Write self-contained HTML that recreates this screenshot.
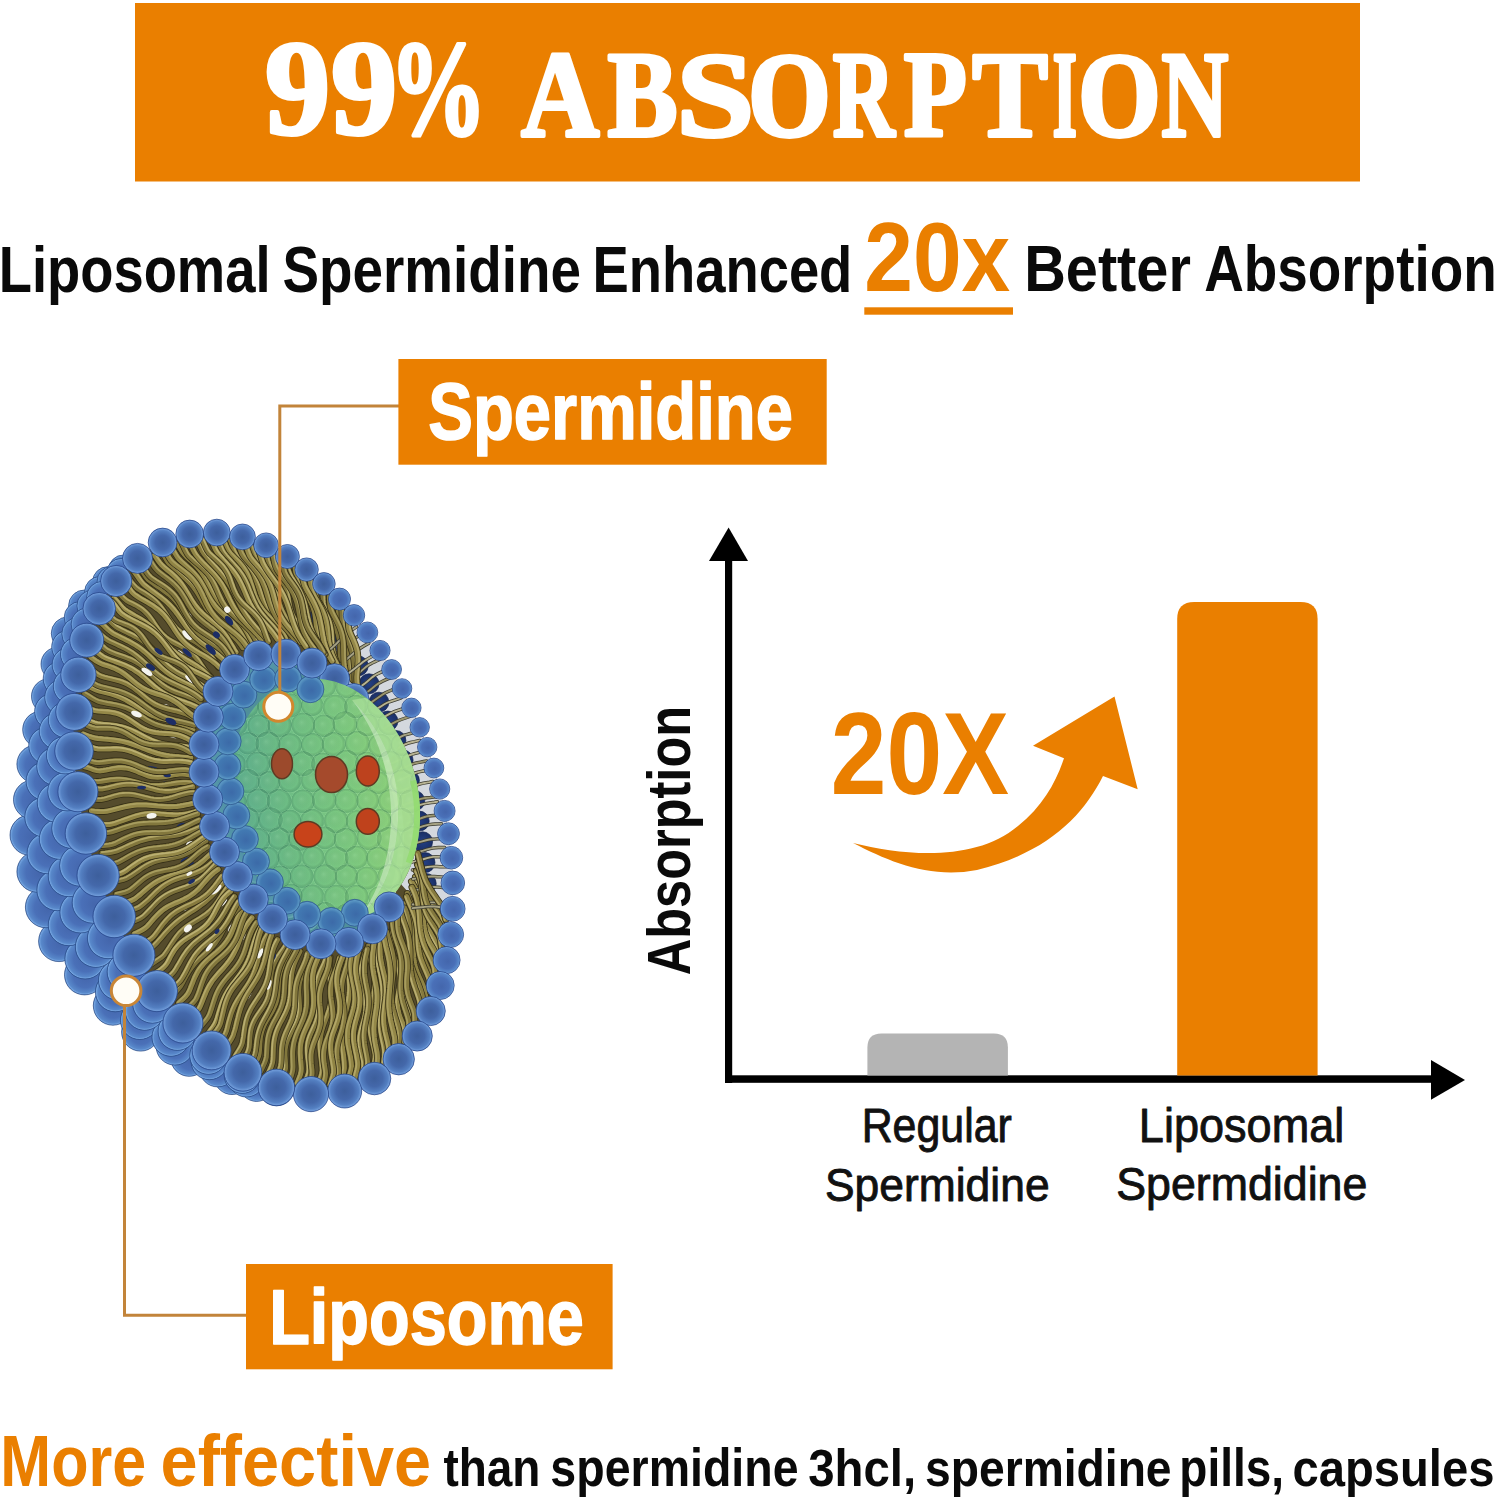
<!DOCTYPE html>
<html><head><meta charset="utf-8"><style>
html,body{margin:0;padding:0;background:#fff;overflow:hidden;}
svg{display:block;}
text{font-kerning:none;}
</style></head><body>
<svg width="1496" height="1500" viewBox="0 0 1496 1500">
<rect width="1496" height="1500" fill="#fff"/>
<defs>
<radialGradient id="gb" cx="50%" cy="50%" r="50%" fx="50%" fy="50%">
 <stop offset="0" stop-color="#3d5f9c"/><stop offset="0.5" stop-color="#4468aa"/><stop offset="0.82" stop-color="#5480c2"/><stop offset="0.95" stop-color="#6e9ad8"/><stop offset="1" stop-color="#4a72b4"/>
</radialGradient>
<radialGradient id="gbt" cx="50%" cy="50%" r="50%" fx="55%" fy="55%">
 <stop offset="0" stop-color="#3c6aa8"/><stop offset="0.7" stop-color="#4279b2"/><stop offset="0.92" stop-color="#5b98c4"/><stop offset="1" stop-color="#3f72a8"/>
</radialGradient>
<radialGradient id="gbb" cx="50%" cy="50%" r="50%" fx="55%" fy="55%">
 <stop offset="0" stop-color="#4466ac"/><stop offset="0.6" stop-color="#4a70b8"/><stop offset="0.88" stop-color="#5888ca"/><stop offset="0.96" stop-color="#74a4e0"/><stop offset="1" stop-color="#4068ae"/>
</radialGradient>
<radialGradient id="gnavy" cx="50%" cy="50%" r="50%">
 <stop offset="0" stop-color="#243f82"/><stop offset="1" stop-color="#1a2f66"/>
</radialGradient>
<linearGradient id="gcore" x1="0" y1="0.1" x2="1" y2="0.3">
 <stop offset="0" stop-color="#5aac92"/><stop offset="0.35" stop-color="#6ebf84"/><stop offset="0.7" stop-color="#80cd7e"/><stop offset="1" stop-color="#96d778"/>
</linearGradient>
<radialGradient id="gcb" cx="50%" cy="50%" r="50%" fx="42%" fy="40%">
 <stop offset="0" stop-color="#e8ffe0" stop-opacity="0.10"/><stop offset="0.7" stop-color="#000" stop-opacity="0"/><stop offset="0.93" stop-color="#0a4a3a" stop-opacity="0.16"/><stop offset="1" stop-color="#c8f5c0" stop-opacity="0.25"/>
</radialGradient>
<radialGradient id="gteal" cx="48%" cy="45%" r="55%">
 <stop offset="0" stop-color="#4f8fa6"/><stop offset="0.8" stop-color="#5597a8"/><stop offset="1" stop-color="#73b2b5"/>
</radialGradient>
<clipPath id="coreclip"><ellipse cx="0" cy="0" rx="94" ry="123.5" transform="translate(324.4,800.6) rotate(-12.7)"/></clipPath>
</defs>
<circle cx="232.0" cy="1076.6" r="17.9" fill="url(#gbb)" stroke="#2a4d88" stroke-width="1.0" stroke-opacity="0.7"/>
<circle cx="189.2" cy="1057.8" r="18.5" fill="url(#gbb)" stroke="#2a4d88" stroke-width="1.0" stroke-opacity="0.7"/>
<circle cx="140.6" cy="1032.1" r="19.0" fill="url(#gbb)" stroke="#2a4d88" stroke-width="1.0" stroke-opacity="0.7"/>
<circle cx="112.9" cy="1005.6" r="19.6" fill="url(#gbb)" stroke="#2a4d88" stroke-width="1.0" stroke-opacity="0.7"/>
<circle cx="84.6" cy="974.8" r="20.1" fill="url(#gbb)" stroke="#2a4d88" stroke-width="1.0" stroke-opacity="0.7"/>
<circle cx="59.0" cy="941.2" r="20.4" fill="url(#gbb)" stroke="#2a4d88" stroke-width="1.0" stroke-opacity="0.7"/>
<circle cx="46.1" cy="907.1" r="20.7" fill="url(#gbb)" stroke="#2a4d88" stroke-width="1.0" stroke-opacity="0.7"/>
<circle cx="37.5" cy="871.7" r="20.6" fill="url(#gbb)" stroke="#2a4d88" stroke-width="1.0" stroke-opacity="0.7"/>
<circle cx="30.3" cy="835.1" r="20.3" fill="url(#gbb)" stroke="#2a4d88" stroke-width="1.0" stroke-opacity="0.7"/>
<circle cx="33.3" cy="799.7" r="19.8" fill="url(#gbb)" stroke="#2a4d88" stroke-width="1.0" stroke-opacity="0.7"/>
<circle cx="36.0" cy="764.2" r="19.1" fill="url(#gbb)" stroke="#2a4d88" stroke-width="1.0" stroke-opacity="0.7"/>
<circle cx="41.1" cy="729.6" r="18.4" fill="url(#gbb)" stroke="#2a4d88" stroke-width="1.0" stroke-opacity="0.7"/>
<circle cx="49.2" cy="696.3" r="17.7" fill="url(#gbb)" stroke="#2a4d88" stroke-width="1.0" stroke-opacity="0.7"/>
<circle cx="58.0" cy="664.1" r="17.0" fill="url(#gbb)" stroke="#2a4d88" stroke-width="1.0" stroke-opacity="0.7"/>
<circle cx="67.7" cy="633.4" r="16.4" fill="url(#gbb)" stroke="#2a4d88" stroke-width="1.0" stroke-opacity="0.7"/>
<circle cx="84.4" cy="605.8" r="15.8" fill="url(#gbb)" stroke="#2a4d88" stroke-width="1.0" stroke-opacity="0.7"/>
<circle cx="107.8" cy="581.9" r="15.2" fill="url(#gbb)" stroke="#2a4d88" stroke-width="1.0" stroke-opacity="0.7"/>
<circle cx="256.6" cy="1083.7" r="17.7" fill="url(#gbb)" stroke="#2a4d88" stroke-width="1.0" stroke-opacity="0.7"/>
<circle cx="217.7" cy="1068.6" r="18.3" fill="url(#gbb)" stroke="#2a4d88" stroke-width="1.0" stroke-opacity="0.7"/>
<circle cx="174.9" cy="1046.3" r="18.8" fill="url(#gbb)" stroke="#2a4d88" stroke-width="1.0" stroke-opacity="0.7"/>
<circle cx="139.7" cy="1020.2" r="19.3" fill="url(#gbb)" stroke="#2a4d88" stroke-width="1.0" stroke-opacity="0.7"/>
<circle cx="115.3" cy="991.9" r="19.9" fill="url(#gbb)" stroke="#2a4d88" stroke-width="1.0" stroke-opacity="0.7"/>
<circle cx="85.1" cy="958.7" r="20.3" fill="url(#gbb)" stroke="#2a4d88" stroke-width="1.0" stroke-opacity="0.7"/>
<circle cx="68.8" cy="925.1" r="20.6" fill="url(#gbb)" stroke="#2a4d88" stroke-width="1.0" stroke-opacity="0.7"/>
<circle cx="57.5" cy="890.0" r="20.7" fill="url(#gbb)" stroke="#2a4d88" stroke-width="1.0" stroke-opacity="0.7"/>
<circle cx="47.5" cy="853.3" r="20.5" fill="url(#gbb)" stroke="#2a4d88" stroke-width="1.0" stroke-opacity="0.7"/>
<circle cx="44.8" cy="817.1" r="20.1" fill="url(#gbb)" stroke="#2a4d88" stroke-width="1.0" stroke-opacity="0.7"/>
<circle cx="45.4" cy="781.2" r="19.4" fill="url(#gbb)" stroke="#2a4d88" stroke-width="1.0" stroke-opacity="0.7"/>
<circle cx="47.4" cy="745.7" r="18.7" fill="url(#gbb)" stroke="#2a4d88" stroke-width="1.0" stroke-opacity="0.7"/>
<circle cx="52.6" cy="711.5" r="18.0" fill="url(#gbb)" stroke="#2a4d88" stroke-width="1.0" stroke-opacity="0.7"/>
<circle cx="60.5" cy="678.7" r="17.3" fill="url(#gbb)" stroke="#2a4d88" stroke-width="1.0" stroke-opacity="0.7"/>
<circle cx="68.4" cy="647.0" r="16.7" fill="url(#gbb)" stroke="#2a4d88" stroke-width="1.0" stroke-opacity="0.7"/>
<circle cx="80.2" cy="617.6" r="16.0" fill="url(#gbb)" stroke="#2a4d88" stroke-width="1.0" stroke-opacity="0.7"/>
<circle cx="100.1" cy="592.0" r="15.5" fill="url(#gbb)" stroke="#2a4d88" stroke-width="1.0" stroke-opacity="0.7"/>
<circle cx="123.5" cy="569.9" r="14.9" fill="url(#gbb)" stroke="#2a4d88" stroke-width="1.0" stroke-opacity="0.7"/>
<circle cx="246.4" cy="1079.1" r="17.9" fill="url(#gbb)" stroke="#2a4d88" stroke-width="1.0" stroke-opacity="0.7"/>
<circle cx="209.5" cy="1061.2" r="18.5" fill="url(#gbb)" stroke="#2a4d88" stroke-width="1.0" stroke-opacity="0.7"/>
<circle cx="171.0" cy="1037.2" r="19.1" fill="url(#gbb)" stroke="#2a4d88" stroke-width="1.0" stroke-opacity="0.7"/>
<circle cx="144.7" cy="1010.7" r="19.6" fill="url(#gbb)" stroke="#2a4d88" stroke-width="1.0" stroke-opacity="0.7"/>
<circle cx="118.5" cy="980.2" r="20.1" fill="url(#gbb)" stroke="#2a4d88" stroke-width="1.0" stroke-opacity="0.7"/>
<circle cx="95.8" cy="946.9" r="20.5" fill="url(#gbb)" stroke="#2a4d88" stroke-width="1.0" stroke-opacity="0.7"/>
<circle cx="80.5" cy="912.3" r="20.7" fill="url(#gbb)" stroke="#2a4d88" stroke-width="1.0" stroke-opacity="0.7"/>
<circle cx="68.8" cy="876.1" r="20.6" fill="url(#gbb)" stroke="#2a4d88" stroke-width="1.0" stroke-opacity="0.7"/>
<circle cx="59.6" cy="839.0" r="20.3" fill="url(#gbb)" stroke="#2a4d88" stroke-width="1.0" stroke-opacity="0.7"/>
<circle cx="57.0" cy="802.6" r="19.8" fill="url(#gbb)" stroke="#2a4d88" stroke-width="1.0" stroke-opacity="0.7"/>
<circle cx="55.8" cy="766.3" r="19.1" fill="url(#gbb)" stroke="#2a4d88" stroke-width="1.0" stroke-opacity="0.7"/>
<circle cx="57.6" cy="731.1" r="18.4" fill="url(#gbb)" stroke="#2a4d88" stroke-width="1.0" stroke-opacity="0.7"/>
<circle cx="62.4" cy="697.2" r="17.7" fill="url(#gbb)" stroke="#2a4d88" stroke-width="1.0" stroke-opacity="0.7"/>
<circle cx="69.1" cy="664.6" r="17.0" fill="url(#gbb)" stroke="#2a4d88" stroke-width="1.0" stroke-opacity="0.7"/>
<circle cx="78.2" cy="633.8" r="16.4" fill="url(#gbb)" stroke="#2a4d88" stroke-width="1.0" stroke-opacity="0.7"/>
<circle cx="92.7" cy="605.9" r="15.8" fill="url(#gbb)" stroke="#2a4d88" stroke-width="1.0" stroke-opacity="0.7"/>
<circle cx="112.3" cy="581.4" r="15.2" fill="url(#gbb)" stroke="#2a4d88" stroke-width="1.0" stroke-opacity="0.7"/>
<circle cx="276.6" cy="1088.2" r="17.6" fill="url(#gbb)" stroke="#2a4d88" stroke-width="1.0" stroke-opacity="0.7"/>
<circle cx="242.3" cy="1075.2" r="18.2" fill="url(#gbb)" stroke="#2a4d88" stroke-width="1.0" stroke-opacity="0.7"/>
<circle cx="208.4" cy="1055.6" r="18.7" fill="url(#gbb)" stroke="#2a4d88" stroke-width="1.0" stroke-opacity="0.7"/>
<circle cx="177.3" cy="1031.1" r="19.3" fill="url(#gbb)" stroke="#2a4d88" stroke-width="1.0" stroke-opacity="0.7"/>
<circle cx="152.4" cy="1003.4" r="19.8" fill="url(#gbb)" stroke="#2a4d88" stroke-width="1.0" stroke-opacity="0.7"/>
<circle cx="127.3" cy="971.8" r="20.2" fill="url(#gbb)" stroke="#2a4d88" stroke-width="1.0" stroke-opacity="0.7"/>
<circle cx="108.0" cy="938.1" r="20.6" fill="url(#gbb)" stroke="#2a4d88" stroke-width="1.0" stroke-opacity="0.7"/>
<circle cx="92.8" cy="902.5" r="20.7" fill="url(#gbb)" stroke="#2a4d88" stroke-width="1.0" stroke-opacity="0.7"/>
<circle cx="80.2" cy="865.6" r="20.6" fill="url(#gbb)" stroke="#2a4d88" stroke-width="1.0" stroke-opacity="0.7"/>
<circle cx="71.8" cy="828.3" r="20.1" fill="url(#gbb)" stroke="#2a4d88" stroke-width="1.0" stroke-opacity="0.7"/>
<circle cx="67.2" cy="791.4" r="19.5" fill="url(#gbb)" stroke="#2a4d88" stroke-width="1.0" stroke-opacity="0.7"/>
<circle cx="65.2" cy="755.1" r="18.8" fill="url(#gbb)" stroke="#2a4d88" stroke-width="1.0" stroke-opacity="0.7"/>
<circle cx="66.4" cy="719.9" r="18.1" fill="url(#gbb)" stroke="#2a4d88" stroke-width="1.0" stroke-opacity="0.7"/>
<circle cx="70.7" cy="686.2" r="17.4" fill="url(#gbb)" stroke="#2a4d88" stroke-width="1.0" stroke-opacity="0.7"/>
<circle cx="77.3" cy="654.1" r="16.8" fill="url(#gbb)" stroke="#2a4d88" stroke-width="1.0" stroke-opacity="0.7"/>
<circle cx="87.2" cy="624.1" r="16.1" fill="url(#gbb)" stroke="#2a4d88" stroke-width="1.0" stroke-opacity="0.7"/>
<circle cx="102.3" cy="597.0" r="15.6" fill="url(#gbb)" stroke="#2a4d88" stroke-width="1.0" stroke-opacity="0.7"/>
<circle cx="121.2" cy="573.5" r="15.0" fill="url(#gbb)" stroke="#2a4d88" stroke-width="1.0" stroke-opacity="0.7"/>
<path d="M431.4,759.7 L433.6,766.9 L435.7,774.2 L437.7,781.5 L439.6,788.8 L441.4,796.1 L443.1,803.5 L444.6,810.9 L446.0,818.2 L447.3,825.6 L448.4,832.9 L449.4,840.2 L450.3,847.5 L451.1,854.8 L451.7,862.1 L452.2,869.3 L452.6,876.5 L452.9,883.7 L453.0,890.7 L453.0,897.8 L452.8,904.8 L452.6,911.7 L452.2,918.6 L451.6,925.3 L451.0,932.0 L450.2,938.7 L449.3,945.2 L448.2,951.7 L447.1,958.0 L445.8,964.3 L444.3,970.4 L442.8,976.5 L441.1,982.4 L439.3,988.2 L437.4,993.9 L435.4,999.5 L433.3,1004.9 L431.0,1010.2 L428.6,1015.4 L426.1,1020.5 L423.5,1025.4 L420.8,1030.1 L418.0,1034.7 L415.1,1039.2 L412.0,1043.5 L408.9,1047.6 L405.7,1051.6 L402.3,1055.4 L398.9,1059.0 L395.4,1062.5 L391.8,1065.8 L388.1,1069.0 L384.3,1071.9 L380.4,1074.7 L376.5,1077.3 L372.5,1079.8 L368.4,1082.0 L364.2,1084.1 L360.0,1085.9 L355.6,1087.6 L351.3,1089.1 L346.9,1090.4 L342.4,1091.5 L337.8,1092.5 L333.2,1093.2 L328.6,1093.7 L323.9,1094.1 L319.2,1094.3 L314.4,1094.2 L309.6,1094.0 L304.8,1093.6 L299.9,1093.0 L295.0,1092.2 L290.1,1091.2 L285.2,1090.0 L280.3,1088.6 L275.3,1087.1 L270.4,1085.3 L265.4,1083.4 L260.4,1081.3 L255.5,1079.0 L250.5,1076.5 L245.6,1073.8 L240.6,1071.0 L235.7,1067.9 L230.8,1064.7 L225.9,1061.4 L221.1,1057.8 L216.2,1054.1 L211.4,1050.3 L206.7,1046.2 L202.0,1042.0 L197.3,1037.7 L192.6,1033.2 L188.1,1028.5 L183.5,1023.7 L179.1,1018.8 L174.6,1013.7 L170.3,1008.5 L166.0,1003.1 L161.7,997.6 L157.6,992.0 L153.5,986.3 L149.5,980.4 L145.6,974.5 L141.7,968.4 L137.9,962.2 L134.3,955.9 L130.7,949.5 L127.2,943.0 L123.7,936.5 L120.4,929.8 L117.2,923.1 L114.1,916.3 L111.1,909.4 L108.2,902.5 L105.4,895.4 L102.7,888.4 L100.1,881.3 L97.6,874.1 L95.2,866.9 L93.0,859.7 L90.9,852.4 L88.9,845.1 L87.0,837.8 L85.2,830.5 L83.5,823.1 L82.0,815.7 L80.6,808.4 L79.3,801.0 L78.2,793.7 L77.2,786.4 L76.3,779.1 L75.5,771.8 L74.9,764.5 L74.4,757.3 L74.0,750.1 L73.7,742.9 L73.6,735.9 L73.6,728.8 L73.8,721.8 L74.0,714.9 L74.4,708.0 L75.0,701.3 L75.6,694.6 L76.4,687.9 L77.3,681.4 L78.4,674.9 L79.5,668.6 L80.8,662.3 L82.3,656.2 L83.8,650.1 L85.5,644.2 L87.3,638.4 L89.2,632.7 L91.2,627.1 L93.3,621.7 L95.6,616.4 L98.0,611.2 L100.5,606.1 L103.1,601.2 L105.8,596.5 L108.6,591.9 L111.5,587.4 L114.6,583.1 L117.7,579.0 L120.9,575.0 L124.3,571.2 L127.7,567.6 L131.2,564.1 L134.8,560.8 L138.5,557.6 L142.3,554.7 L146.2,551.9 L150.1,549.3 L154.1,546.8 L158.2,544.6 L162.4,542.5 L166.6,540.7 L171.0,539.0 L175.3,537.5 L179.7,536.2 L184.2,535.1 L188.8,534.1 L193.4,533.4 L198.0,532.9 L202.7,532.5 L207.4,532.3 L212.2,532.4 L217.0,532.6 L221.8,533.0 L226.7,533.6 L231.6,534.4 L236.5,535.4 L241.4,536.6 L246.3,538.0 L251.3,539.5 L256.2,541.3 L261.2,543.2 L266.2,545.3 L271.1,547.6 L276.1,550.1 L281.0,552.8 L286.0,555.6 L290.9,558.7 L295.8,561.9 L300.7,565.2 L305.5,568.8 L310.4,572.5 L315.2,576.3 L319.9,580.4 L324.6,584.6 L329.3,588.9 L334.0,593.4 L338.5,598.1 L343.1,602.9 L347.5,607.8 L352.0,612.9 L356.3,618.1 L360.6,623.5 L364.9,629.0 L369.0,634.6 L373.1,640.3 L377.1,646.2 L381.0,652.1 L384.9,658.2 L388.7,664.4 L392.3,670.7 L395.9,677.1 L399.4,683.6 L402.9,690.1 L406.2,696.8 L409.4,703.5 L412.5,710.3 L415.5,717.2 L418.4,724.1 L421.2,731.2 L423.9,738.2 L426.5,745.3 L429.0,752.5 Z M392.2,769.9 L393.4,773.7 L394.6,777.4 L395.7,781.2 L396.7,785.0 L397.6,788.8 L398.5,792.6 L399.3,796.4 L400.1,800.2 L400.7,804.1 L401.4,807.9 L401.9,811.7 L402.4,815.5 L402.8,819.3 L403.2,823.0 L403.5,826.8 L403.7,830.5 L403.8,834.2 L403.9,837.9 L403.9,841.6 L403.8,845.2 L403.7,848.8 L403.5,852.4 L403.2,855.9 L402.9,859.4 L402.5,862.9 L402.0,866.3 L401.5,869.6 L400.9,872.9 L400.2,876.2 L399.5,879.4 L398.7,882.6 L397.8,885.7 L396.9,888.7 L395.9,891.7 L394.8,894.6 L393.7,897.4 L392.5,900.2 L391.3,902.9 L390.0,905.6 L388.6,908.1 L387.2,910.6 L385.7,913.0 L384.1,915.4 L382.6,917.6 L380.9,919.8 L379.2,921.9 L377.5,923.9 L375.7,925.8 L373.8,927.7 L371.9,929.4 L370.0,931.1 L368.0,932.6 L365.9,934.1 L363.9,935.5 L361.8,936.8 L359.6,938.0 L357.4,939.1 L355.2,940.1 L352.9,941.0 L350.6,941.8 L348.3,942.5 L345.9,943.1 L343.5,943.6 L341.1,944.1 L338.6,944.4 L336.2,944.6 L333.7,944.7 L331.2,944.7 L328.6,944.6 L326.1,944.5 L323.5,944.2 L320.9,943.8 L318.3,943.3 L315.7,942.7 L313.1,942.1 L310.5,941.3 L307.9,940.4 L305.3,939.4 L302.7,938.4 L300.0,937.2 L297.4,935.9 L294.8,934.6 L292.2,933.2 L289.6,931.6 L287.0,930.0 L284.4,928.3 L281.9,926.5 L279.3,924.6 L276.8,922.6 L274.2,920.5 L271.8,918.4 L269.3,916.2 L266.8,913.9 L264.4,911.5 L262.0,909.0 L259.6,906.5 L257.3,903.8 L255.0,901.2 L252.7,898.4 L250.5,895.6 L248.3,892.7 L246.1,889.7 L244.0,886.7 L241.9,883.6 L239.8,880.5 L237.8,877.3 L235.9,874.1 L234.0,870.8 L232.1,867.4 L230.3,864.0 L228.5,860.6 L226.8,857.1 L225.2,853.6 L223.6,850.1 L222.0,846.5 L220.5,842.8 L219.1,839.2 L217.7,835.5 L216.4,831.8 L215.2,828.1 L214.0,824.3 L212.8,820.6 L211.7,816.8 L210.7,813.0 L209.8,809.2 L208.9,805.4 L208.1,801.6 L207.3,797.8 L206.7,793.9 L206.0,790.1 L205.5,786.3 L205.0,782.5 L204.6,778.7 L204.2,775.0 L203.9,771.2 L203.7,767.5 L203.6,763.8 L203.5,760.1 L203.5,756.4 L203.6,752.8 L203.7,749.2 L203.9,745.6 L204.2,742.1 L204.5,738.6 L204.9,735.1 L205.4,731.7 L205.9,728.4 L206.5,725.1 L207.2,721.8 L207.9,718.6 L208.7,715.4 L209.6,712.3 L210.5,709.3 L211.5,706.3 L212.6,703.4 L213.7,700.6 L214.9,697.8 L216.1,695.1 L217.4,692.4 L218.8,689.9 L220.2,687.4 L221.7,685.0 L223.3,682.6 L224.8,680.4 L226.5,678.2 L228.2,676.1 L229.9,674.1 L231.7,672.2 L233.6,670.3 L235.5,668.6 L237.4,666.9 L239.4,665.4 L241.5,663.9 L243.5,662.5 L245.6,661.2 L247.8,660.0 L250.0,658.9 L252.2,657.9 L254.5,657.0 L256.8,656.2 L259.1,655.5 L261.5,654.9 L263.9,654.4 L266.3,653.9 L268.8,653.6 L271.2,653.4 L273.7,653.3 L276.2,653.3 L278.8,653.4 L281.3,653.5 L283.9,653.8 L286.5,654.2 L289.1,654.7 L291.7,655.3 L294.3,655.9 L296.9,656.7 L299.5,657.6 L302.1,658.6 L304.7,659.6 L307.4,660.8 L310.0,662.1 L312.6,663.4 L315.2,664.8 L317.8,666.4 L320.4,668.0 L323.0,669.7 L325.5,671.5 L328.1,673.4 L330.6,675.4 L333.2,677.5 L335.6,679.6 L338.1,681.8 L340.6,684.1 L343.0,686.5 L345.4,689.0 L347.8,691.5 L350.1,694.2 L352.4,696.8 L354.7,699.6 L356.9,702.4 L359.1,705.3 L361.3,708.3 L363.4,711.3 L365.5,714.4 L367.6,717.5 L369.6,720.7 L371.5,723.9 L373.4,727.2 L375.3,730.6 L377.1,734.0 L378.9,737.4 L380.6,740.9 L382.2,744.4 L383.8,747.9 L385.4,751.5 L386.9,755.2 L388.3,758.8 L389.7,762.5 L391.0,766.2 Z" fill="#554c2c" fill-rule="evenodd"/>
<path d="M338.5,598.1 L343.1,602.9 L347.5,607.8 L352.0,612.9 L356.3,618.1 L360.6,623.5 L364.9,629.0 L369.0,634.6 L373.1,640.3 L377.1,646.2 L381.0,652.1 L384.9,658.2 L388.7,664.4 L392.3,670.7 L395.9,677.1 L399.4,683.6 L402.9,690.1 L406.2,696.8 L409.4,703.5 L412.5,710.3 L415.5,717.2 L418.4,724.1 L421.2,731.2 L423.9,738.2 L426.5,745.3 L429.0,752.5 L431.4,759.7 L433.6,766.9 L435.7,774.2 L437.7,781.5 L439.6,788.8 L441.4,796.1 L443.1,803.5 L444.6,810.9 L446.0,818.2 L447.3,825.6 L448.4,832.9 L449.4,840.2 L450.3,847.5 L451.1,854.8 L451.7,862.1 L452.2,869.3 L452.6,876.5 L452.9,883.7 L453.0,890.7 L453.0,897.8 L452.8,904.8 L452.6,911.7 L452.2,918.6 L451.6,925.3 L451.0,932.0 L450.2,938.7 L401.3,884.4 L402.8,882.0 L404.6,878.8 L406.0,876.3 L407.7,872.9 L409.2,869.4 L410.7,865.8 L412.1,862.2 L413.4,858.5 L414.8,853.7 L415.9,849.8 L417.0,844.9 L417.8,840.9 L418.6,835.8 L419.2,830.7 L419.7,825.5 L419.9,820.3 L420.0,815.0 L419.9,808.6 L419.6,803.3 L419.0,796.9 L418.1,790.5 L417.2,785.2 L415.9,778.9 L414.3,772.6 L412.4,766.4 L410.7,761.3 L408.4,755.3 L405.9,749.4 L403.2,743.7 L400.8,739.0 L397.7,733.6 L394.3,728.3 L391.4,724.1 L388.4,720.0 L384.6,715.3 L381.3,711.6 L377.9,708.0 L374.4,704.6 L370.7,701.4 L367.8,699.0 L364.0,696.1 L361.0,694.0 L357.9,691.9 L353.9,689.6 L350.7,687.9 L347.5,686.3 L344.3,684.9 L341.8,683.9 L338.5,682.7 L336.0,681.9 L332.7,680.9 Z" fill="#d4d8de"/>
<circle cx="409.4" cy="780.5" r="10.0" fill="url(#gnavy)" stroke="#142350" stroke-width="1.0" stroke-opacity="0.7"/>
<circle cx="414.8" cy="800.7" r="10.0" fill="url(#gnavy)" stroke="#142350" stroke-width="1.0" stroke-opacity="0.7"/>
<circle cx="419.2" cy="821.1" r="10.0" fill="url(#gnavy)" stroke="#142350" stroke-width="1.0" stroke-opacity="0.7"/>
<circle cx="422.6" cy="841.8" r="10.0" fill="url(#gnavy)" stroke="#142350" stroke-width="1.0" stroke-opacity="0.7"/>
<circle cx="425.0" cy="862.6" r="10.0" fill="url(#gnavy)" stroke="#142350" stroke-width="1.0" stroke-opacity="0.7"/>
<circle cx="426.2" cy="883.5" r="10.0" fill="url(#gnavy)" stroke="#142350" stroke-width="1.0" stroke-opacity="0.7"/>
<circle cx="426.4" cy="904.4" r="10.0" fill="url(#gnavy)" stroke="#142350" stroke-width="1.0" stroke-opacity="0.7"/>
<circle cx="425.2" cy="925.3" r="10.0" fill="url(#gnavy)" stroke="#142350" stroke-width="1.0" stroke-opacity="0.7"/>
<circle cx="422.6" cy="946.0" r="10.0" fill="url(#gnavy)" stroke="#142350" stroke-width="1.0" stroke-opacity="0.7"/>
<circle cx="319.8" cy="616.4" r="10.0" fill="url(#gnavy)" stroke="#142350" stroke-width="1.0" stroke-opacity="0.7"/>
<circle cx="333.6" cy="632.1" r="10.0" fill="url(#gnavy)" stroke="#142350" stroke-width="1.0" stroke-opacity="0.7"/>
<circle cx="346.4" cy="648.6" r="10.0" fill="url(#gnavy)" stroke="#142350" stroke-width="1.0" stroke-opacity="0.7"/>
<circle cx="358.2" cy="665.9" r="10.0" fill="url(#gnavy)" stroke="#142350" stroke-width="1.0" stroke-opacity="0.7"/>
<circle cx="369.0" cy="683.8" r="10.0" fill="url(#gnavy)" stroke="#142350" stroke-width="1.0" stroke-opacity="0.7"/>
<circle cx="378.9" cy="702.2" r="10.0" fill="url(#gnavy)" stroke="#142350" stroke-width="1.0" stroke-opacity="0.7"/>
<circle cx="387.9" cy="721.1" r="10.0" fill="url(#gnavy)" stroke="#142350" stroke-width="1.0" stroke-opacity="0.7"/>
<circle cx="395.9" cy="740.5" r="10.0" fill="url(#gnavy)" stroke="#142350" stroke-width="1.0" stroke-opacity="0.7"/>
<circle cx="403.1" cy="760.1" r="10.0" fill="url(#gnavy)" stroke="#142350" stroke-width="1.0" stroke-opacity="0.7"/>
<g fill="none" stroke-linecap="round"><path d="M200.3,1026.8 L202.3,1024.4 L204.2,1022.1 L206.2,1019.7 L208.0,1017.2 L209.4,1014.5 L210.4,1011.6 L211.4,1008.7 L212.3,1005.7 L213.2,1002.7 L214.2,999.8 L215.2,996.9 L216.3,994.0 L217.6,991.3 L219.0,988.6 L220.6,986.0 L222.3,983.5 L224.1,981.0 L226.1,978.6 L228.1,976.3 L230.2,974.0 L232.2,971.7 L234.2,969.3 L236.1,966.9 L237.9,964.4 L239.6,961.9 L241.1,959.2 L242.4,956.5 L243.6,953.7 L244.6,950.8 L245.6,947.9 L246.5,944.9 L247.4,941.9 L248.4,939.0 L249.4,936.0 L250.5,933.2 L251.7,930.4 L253.1,927.7 L254.7,925.1 L256.4,922.6" stroke="#342e16" stroke-width="6.8"/><path d="M200.3,1026.8 L202.3,1024.4 L204.2,1022.1 L206.2,1019.7 L208.0,1017.2 L209.4,1014.5 L210.4,1011.6 L211.4,1008.7 L212.3,1005.7 L213.2,1002.7 L214.2,999.8 L215.2,996.9 L216.3,994.0 L217.6,991.3 L219.0,988.6 L220.6,986.0 L222.3,983.5 L224.1,981.0 L226.1,978.6 L228.1,976.3 L230.2,974.0 L232.2,971.7 L234.2,969.3 L236.1,966.9 L237.9,964.4 L239.6,961.9 L241.1,959.2 L242.4,956.5 L243.6,953.7 L244.6,950.8 L245.6,947.9 L246.5,944.9 L247.4,941.9 L248.4,939.0 L249.4,936.0 L250.5,933.2 L251.7,930.4 L253.1,927.7 L254.7,925.1 L256.4,922.6" stroke="#82773d" stroke-width="5.2"/><path d="M199.3,1026.2 L201.2,1023.8 L203.2,1021.5 L205.1,1019.1 L206.9,1016.6 L208.3,1013.9 L209.4,1011.0 L210.3,1008.1 L211.3,1005.1 L212.2,1002.1 L213.1,999.2 L214.1,996.3 L215.3,993.4 L216.5,990.7 L217.9,988.0 L219.5,985.4 L221.2,982.9 L223.1,980.4 L225.0,978.1 L227.1,975.7 L229.1,973.4 L231.2,971.1 L233.2,968.7 L235.1,966.3 L236.9,963.8 L238.5,961.3 L240.0,958.6 L241.3,955.9 L242.5,953.1 L243.6,950.2 L244.6,947.3 L245.5,944.3 L246.4,941.3 L247.3,938.4 L248.3,935.5 L249.4,932.6 L250.7,929.8 L252.1,927.1 L253.6,924.5 L255.3,922.0" stroke="#aea365" stroke-width="1.8" opacity="0.85"/><path d="M151.3,964.0 L153.8,962.3 L156.4,960.6 L159.0,958.9 L161.5,957.2 L163.8,955.1 L165.6,952.7 L167.4,950.2 L169.1,947.6 L170.7,945.0 L172.4,942.3 L174.1,939.8 L175.9,937.3 L177.8,934.9 L179.8,932.6 L181.9,930.5 L184.2,928.5 L186.6,926.6 L189.1,924.8 L191.7,923.2 L194.3,921.5 L197.0,920.0 L199.6,918.4 L202.3,916.7 L204.8,915.0 L207.2,913.1 L209.5,911.2 L211.7,909.1 L213.7,906.8 L215.6,904.4 L217.4,902.0 L219.2,899.4 L220.8,896.8 L222.5,894.2 L224.2,891.6 L225.9,889.0 L227.8,886.6" stroke="#342e16" stroke-width="6.8"/><path d="M151.3,964.0 L153.8,962.3 L156.4,960.6 L159.0,958.9 L161.5,957.2 L163.8,955.1 L165.6,952.7 L167.4,950.2 L169.1,947.6 L170.7,945.0 L172.4,942.3 L174.1,939.8 L175.9,937.3 L177.8,934.9 L179.8,932.6 L181.9,930.5 L184.2,928.5 L186.6,926.6 L189.1,924.8 L191.7,923.2 L194.3,921.5 L197.0,920.0 L199.6,918.4 L202.3,916.7 L204.8,915.0 L207.2,913.1 L209.5,911.2 L211.7,909.1 L213.7,906.8 L215.6,904.4 L217.4,902.0 L219.2,899.4 L220.8,896.8 L222.5,894.2 L224.2,891.6 L225.9,889.0 L227.8,886.6" stroke="#7c713a" stroke-width="5.2"/><path d="M150.5,963.1 L153.0,961.4 L155.6,959.7 L158.2,958.1 L160.7,956.3 L162.9,954.3 L164.8,951.8 L166.5,949.3 L168.2,946.7 L169.9,944.1 L171.6,941.5 L173.3,938.9 L175.1,936.4 L176.9,934.0 L178.9,931.7 L181.1,929.6 L183.3,927.6 L185.7,925.7 L188.2,924.0 L190.8,922.3 L193.5,920.7 L196.2,919.1 L198.8,917.5 L201.4,915.8 L204.0,914.1 L206.4,912.3 L208.7,910.3 L210.8,908.2 L212.9,906.0 L214.8,903.6 L216.6,901.1 L218.3,898.5 L220.0,895.9 L221.7,893.3 L223.4,890.7 L225.1,888.2 L226.9,885.7" stroke="#b8ad6e" stroke-width="1.8" opacity="0.85"/><path d="M436.3,796.7 L433.2,797.1 L430.1,797.5 L427.0,797.8 L423.9,798.2 L420.9,798.8 L417.9,799.7 L415.0,800.7 L412.1,801.8 L409.2,803.0 L406.3,804.1 L403.3,805.2" stroke="#3a3a30" stroke-width="3.4"/><path d="M436.3,796.7 L433.2,797.1 L430.1,797.5 L427.0,797.8 L423.9,798.2 L420.9,798.8 L417.9,799.7 L415.0,800.7 L412.1,801.8 L409.2,803.0 L406.3,804.1 L403.3,805.2" stroke="#9a956f" stroke-width="1.9"/><path d="M362.0,633.8 L359.4,635.5 L356.7,637.1 L354.0,638.7 L351.4,640.3 L348.9,642.1 L346.5,644.1 L344.3,646.3 L342.0,648.4 L339.8,650.6 L337.5,652.8 L335.3,654.9" stroke="#3a3a30" stroke-width="3.4"/><path d="M362.0,633.8 L359.4,635.5 L356.7,637.1 L354.0,638.7 L351.4,640.3 L348.9,642.1 L346.5,644.1 L344.3,646.3 L342.0,648.4 L339.8,650.6 L337.5,652.8 L335.3,654.9" stroke="#9a956f" stroke-width="1.9"/><path d="M425.6,1004.4 L425.6,1001.3 L425.6,998.3 L425.5,995.2 L425.2,992.2 L424.5,989.2 L423.3,986.4 L422.1,983.5 L420.8,980.7 L419.5,977.9 L418.3,975.1 L417.1,972.2 L416.1,969.3 L415.2,966.4 L414.5,963.5 L414.0,960.5 L413.6,957.5 L413.4,954.5 L413.4,951.4 L413.4,948.3 L413.4,945.2 L413.5,942.1 L413.6,939.0 L413.5,935.9 L413.4,932.9 L413.1,929.9 L412.6,926.9 L412.0,923.9 L411.2,921.0 L410.2,918.1 L409.1,915.2 L407.9,912.4 L406.6,909.6 L405.4,906.8 L404.1,903.9" stroke="#342e16" stroke-width="6.8"/><path d="M425.6,1004.4 L425.6,1001.3 L425.6,998.3 L425.5,995.2 L425.2,992.2 L424.5,989.2 L423.3,986.4 L422.1,983.5 L420.8,980.7 L419.5,977.9 L418.3,975.1 L417.1,972.2 L416.1,969.3 L415.2,966.4 L414.5,963.5 L414.0,960.5 L413.6,957.5 L413.4,954.5 L413.4,951.4 L413.4,948.3 L413.4,945.2 L413.5,942.1 L413.6,939.0 L413.5,935.9 L413.4,932.9 L413.1,929.9 L412.6,926.9 L412.0,923.9 L411.2,921.0 L410.2,918.1 L409.1,915.2 L407.9,912.4 L406.6,909.6 L405.4,906.8 L404.1,903.9" stroke="#908444" stroke-width="5.2"/><path d="M424.5,1004.7 L424.4,1001.6 L424.4,998.5 L424.3,995.4 L424.0,992.4 L423.3,989.5 L422.1,986.6 L420.9,983.8 L419.6,981.0 L418.4,978.1 L417.1,975.3 L416.0,972.5 L414.9,969.6 L414.1,966.7 L413.4,963.7 L412.8,960.8 L412.5,957.7 L412.3,954.7 L412.2,951.6 L412.2,948.5 L412.3,945.4 L412.3,942.3 L412.4,939.3 L412.4,936.2 L412.2,933.1 L411.9,930.1 L411.4,927.1 L410.8,924.2 L410.0,921.2 L409.0,918.3 L407.9,915.5 L406.7,912.6 L405.5,909.8 L404.2,907.0 L402.9,904.2" stroke="#c2b77a" stroke-width="1.8" opacity="0.85"/><path d="M432.6,781.5 L429.5,782.1 L426.5,782.6 L423.4,783.2 L420.4,783.9 L417.4,784.8 L414.5,785.9 L411.6,787.0 L408.7,788.1 L405.8,789.1 L402.9,790.2 L400.0,791.2" stroke="#3a3a30" stroke-width="3.4"/><path d="M432.6,781.5 L429.5,782.1 L426.5,782.6 L423.4,783.2 L420.4,783.9 L417.4,784.8 L414.5,785.9 L411.6,787.0 L408.7,788.1 L405.8,789.1 L402.9,790.2 L400.0,791.2" stroke="#b8b392" stroke-width="1.9"/><path d="M251.1,546.2 L252.1,549.1 L253.1,552.1 L254.2,555.0 L255.5,557.8 L257.1,560.4 L259.0,562.9 L260.9,565.4 L262.9,567.9 L264.8,570.3 L266.6,572.9 L268.3,575.4 L269.9,578.1 L271.4,580.8 L272.7,583.6 L273.9,586.4 L275.0,589.3 L275.9,592.3 L276.8,595.3 L277.7,598.3 L278.6,601.3 L279.6,604.3 L280.6,607.2 L281.8,610.1 L283.1,612.8 L284.6,615.6 L286.2,618.2 L287.9,620.8 L289.7,623.3 L291.6,625.8 L293.6,628.3 L295.5,630.7 L297.4,633.2 L299.2,635.7 L300.9,638.3 L302.4,641.0 L303.9,643.7" stroke="#342e16" stroke-width="6.8"/><path d="M251.1,546.2 L252.1,549.1 L253.1,552.1 L254.2,555.0 L255.5,557.8 L257.1,560.4 L259.0,562.9 L260.9,565.4 L262.9,567.9 L264.8,570.3 L266.6,572.9 L268.3,575.4 L269.9,578.1 L271.4,580.8 L272.7,583.6 L273.9,586.4 L275.0,589.3 L275.9,592.3 L276.8,595.3 L277.7,598.3 L278.6,601.3 L279.6,604.3 L280.6,607.2 L281.8,610.1 L283.1,612.8 L284.6,615.6 L286.2,618.2 L287.9,620.8 L289.7,623.3 L291.6,625.8 L293.6,628.3 L295.5,630.7 L297.4,633.2 L299.2,635.7 L300.9,638.3 L302.4,641.0 L303.9,643.7" stroke="#82773d" stroke-width="5.2"/><path d="M252.2,545.6 L253.2,548.6 L254.2,551.5 L255.3,554.4 L256.6,557.2 L258.2,559.9 L260.1,562.4 L262.0,564.8 L263.9,567.3 L265.8,569.8 L267.7,572.3 L269.4,574.9 L271.0,577.5 L272.5,580.2 L273.8,583.0 L275.0,585.9 L276.0,588.8 L277.0,591.8 L277.9,594.8 L278.8,597.8 L279.7,600.8 L280.6,603.7 L281.7,606.6 L282.9,609.5 L284.2,612.3 L285.6,615.0 L287.2,617.7 L289.0,620.2 L290.8,622.7 L292.7,625.2 L294.6,627.7 L296.6,630.2 L298.4,632.7 L300.2,635.2 L301.9,637.8 L303.5,640.4 L304.9,643.2" stroke="#aea365" stroke-width="1.8" opacity="0.85"/><path d="M383.6,1062.3 L383.9,1059.2 L384.2,1056.2 L384.3,1053.1 L384.2,1050.1 L383.8,1047.1 L383.2,1044.1 L382.5,1041.0 L381.9,1038.0 L381.3,1035.0 L380.8,1032.0 L380.4,1029.0 L380.1,1025.9 L380.0,1022.9 L380.1,1019.8 L380.2,1016.8 L380.5,1013.7 L380.9,1010.7 L381.3,1007.6 L381.7,1004.6 L382.1,1001.5 L382.4,998.5 L382.6,995.4 L382.7,992.4 L382.6,989.3 L382.4,986.3 L382.0,983.3 L381.5,980.2 L380.9,977.2 L380.3,974.2 L379.6,971.2 L379.0,968.2 L378.4,965.1 L377.9,962.1 L377.5,959.1 L377.2,956.1 L377.1,953.0 L377.2,950.0 L377.4,946.9 L377.6,943.9 L378.0,940.8" stroke="#342e16" stroke-width="6.8"/><path d="M383.6,1062.3 L383.9,1059.2 L384.2,1056.2 L384.3,1053.1 L384.2,1050.1 L383.8,1047.1 L383.2,1044.1 L382.5,1041.0 L381.9,1038.0 L381.3,1035.0 L380.8,1032.0 L380.4,1029.0 L380.1,1025.9 L380.0,1022.9 L380.1,1019.8 L380.2,1016.8 L380.5,1013.7 L380.9,1010.7 L381.3,1007.6 L381.7,1004.6 L382.1,1001.5 L382.4,998.5 L382.6,995.4 L382.7,992.4 L382.6,989.3 L382.4,986.3 L382.0,983.3 L381.5,980.2 L380.9,977.2 L380.3,974.2 L379.6,971.2 L379.0,968.2 L378.4,965.1 L377.9,962.1 L377.5,959.1 L377.2,956.1 L377.1,953.0 L377.2,950.0 L377.4,946.9 L377.6,943.9 L378.0,940.8" stroke="#867a3e" stroke-width="5.2"/><path d="M382.4,1062.4 L382.7,1059.3 L383.0,1056.2 L383.1,1053.2 L383.0,1050.2 L382.6,1047.1 L382.0,1044.1 L381.3,1041.1 L380.7,1038.1 L380.1,1035.1 L379.6,1032.0 L379.2,1029.0 L378.9,1026.0 L378.8,1022.9 L378.9,1019.9 L379.0,1016.8 L379.3,1013.8 L379.7,1010.7 L380.1,1007.7 L380.5,1004.6 L380.9,1001.6 L381.2,998.5 L381.4,995.5 L381.5,992.4 L381.4,989.4 L381.2,986.3 L380.8,983.3 L380.3,980.3 L379.8,977.3 L379.1,974.2 L378.4,971.2 L377.8,968.2 L377.2,965.2 L376.7,962.2 L376.3,959.1 L376.0,956.1 L375.9,953.1 L376.0,950.0 L376.2,947.0 L376.4,943.9 L376.8,940.9" stroke="#c2b77a" stroke-width="1.8" opacity="0.85"/><path d="M422.3,1011.6 L422.2,1008.6 L422.2,1005.5 L422.3,1002.4 L422.5,999.4 L422.3,996.3 L421.6,993.4 L420.7,990.5 L419.7,987.6 L418.6,984.8 L417.5,981.9 L416.3,979.1 L415.1,976.3 L413.9,973.4 L412.9,970.6 L411.9,967.7 L411.0,964.8 L410.3,961.8 L409.8,958.9 L409.3,955.9 L409.1,952.9 L409.0,949.9 L408.9,946.8 L409.0,943.7 L409.1,940.7 L409.2,937.6 L409.3,934.5 L409.3,931.5 L409.2,928.4 L409.0,925.4 L408.6,922.4 L408.1,919.4 L407.4,916.5 L406.6,913.6 L405.7,910.7 L404.6,907.9" stroke="#342e16" stroke-width="6.8"/><path d="M422.3,1011.6 L422.2,1008.6 L422.2,1005.5 L422.3,1002.4 L422.5,999.4 L422.3,996.3 L421.6,993.4 L420.7,990.5 L419.7,987.6 L418.6,984.8 L417.5,981.9 L416.3,979.1 L415.1,976.3 L413.9,973.4 L412.9,970.6 L411.9,967.7 L411.0,964.8 L410.3,961.8 L409.8,958.9 L409.3,955.9 L409.1,952.9 L409.0,949.9 L408.9,946.8 L409.0,943.7 L409.1,940.7 L409.2,937.6 L409.3,934.5 L409.3,931.5 L409.2,928.4 L409.0,925.4 L408.6,922.4 L408.1,919.4 L407.4,916.5 L406.6,913.6 L405.7,910.7 L404.6,907.9" stroke="#867a3e" stroke-width="5.2"/><path d="M421.1,1011.8 L421.0,1008.8 L421.0,1005.7 L421.2,1002.7 L421.3,999.6 L421.1,996.6 L420.4,993.6 L419.5,990.7 L418.5,987.9 L417.5,985.0 L416.3,982.1 L415.1,979.3 L413.9,976.5 L412.8,973.6 L411.7,970.8 L410.7,967.9 L409.8,965.0 L409.1,962.1 L408.6,959.1 L408.2,956.1 L407.9,953.1 L407.8,950.1 L407.8,947.0 L407.8,944.0 L407.9,940.9 L408.0,937.8 L408.1,934.7 L408.1,931.7 L408.0,928.6 L407.8,925.6 L407.4,922.6 L406.9,919.7 L406.3,916.7 L405.4,913.8 L404.5,910.9 L403.5,908.1" stroke="#aea365" stroke-width="1.8" opacity="0.85"/><path d="M443.7,838.7 L440.6,838.8 L437.5,838.9 L434.4,839.1 L431.3,839.3 L428.2,839.8 L425.2,840.5 L422.2,841.3 L419.2,842.1 L416.2,842.9 L413.2,843.7 L410.2,844.4" stroke="#3a3a30" stroke-width="3.4"/><path d="M443.7,838.7 L440.6,838.8 L437.5,838.9 L434.4,839.1 L431.3,839.3 L428.2,839.8 L425.2,840.5 L422.2,841.3 L419.2,842.1 L416.2,842.9 L413.2,843.7 L410.2,844.4" stroke="#a7a384" stroke-width="1.9"/><path d="M411.6,1030.7 L411.6,1027.6 L411.6,1024.6 L411.6,1021.5 L411.5,1018.5 L411.1,1015.5 L410.4,1012.6 L409.6,1009.6 L408.7,1006.7 L407.9,1003.8 L407.0,1000.8 L406.2,997.9 L405.4,995.0 L404.8,992.0 L404.2,989.0 L403.8,986.0 L403.4,983.0 L403.2,980.0 L403.1,977.0 L403.1,973.9 L403.1,970.9 L403.2,967.8 L403.2,964.8 L403.3,961.7 L403.2,958.7 L403.1,955.7 L402.9,952.7 L402.5,949.7 L402.0,946.7 L401.4,943.7 L400.8,940.8 L400.0,937.8 L399.1,934.9 L398.3,932.0 L397.4,929.0 L396.6,926.1 L395.8,923.2 L395.1,920.2" stroke="#342e16" stroke-width="6.8"/><path d="M411.6,1030.7 L411.6,1027.6 L411.6,1024.6 L411.6,1021.5 L411.5,1018.5 L411.1,1015.5 L410.4,1012.6 L409.6,1009.6 L408.7,1006.7 L407.9,1003.8 L407.0,1000.8 L406.2,997.9 L405.4,995.0 L404.8,992.0 L404.2,989.0 L403.8,986.0 L403.4,983.0 L403.2,980.0 L403.1,977.0 L403.1,973.9 L403.1,970.9 L403.2,967.8 L403.2,964.8 L403.3,961.7 L403.2,958.7 L403.1,955.7 L402.9,952.7 L402.5,949.7 L402.0,946.7 L401.4,943.7 L400.8,940.8 L400.0,937.8 L399.1,934.9 L398.3,932.0 L397.4,929.0 L396.6,926.1 L395.8,923.2 L395.1,920.2" stroke="#867a3e" stroke-width="5.2"/><path d="M410.4,1030.8 L410.4,1027.8 L410.4,1024.7 L410.4,1021.7 L410.3,1018.7 L409.9,1015.7 L409.2,1012.7 L408.4,1009.8 L407.5,1006.8 L406.7,1003.9 L405.8,1001.0 L405.0,998.1 L404.2,995.1 L403.6,992.2 L403.0,989.2 L402.6,986.2 L402.2,983.2 L402.0,980.2 L401.9,977.2 L401.9,974.1 L401.9,971.1 L402.0,968.0 L402.1,965.0 L402.1,961.9 L402.0,958.9 L401.9,955.8 L401.7,952.8 L401.3,949.8 L400.8,946.8 L400.3,943.9 L399.6,940.9 L398.8,938.0 L398.0,935.0 L397.1,932.1 L396.2,929.2 L395.4,926.3 L394.6,923.3 L393.9,920.4" stroke="#c2b77a" stroke-width="1.8" opacity="0.85"/><ellipse cx="191.9" cy="865.3" rx="3.5" ry="2.9" transform="rotate(-29 191.9 865.3)" fill="#1c2d66" stroke="none"/><path d="M439.7,960.5 L439.2,957.5 L438.9,954.4 L438.5,951.4 L438.0,948.4 L437.1,945.6 L435.8,942.8 L434.4,940.1 L432.9,937.5 L431.3,934.8 L429.8,932.1 L428.3,929.5 L426.9,926.8 L425.7,924.0 L424.5,921.2 L423.5,918.4 L422.7,915.5 L422.0,912.6 L421.5,909.6 L421.1,906.6 L420.7,903.6 L420.4,900.5 L420.1,897.4 L419.8,894.4 L419.4,891.4 L418.9,888.4 L418.3,885.4 L417.5,882.5 L416.5,879.7 L415.4,876.9" stroke="#342e16" stroke-width="6.8"/><path d="M439.7,960.5 L439.2,957.5 L438.9,954.4 L438.5,951.4 L438.0,948.4 L437.1,945.6 L435.8,942.8 L434.4,940.1 L432.9,937.5 L431.3,934.8 L429.8,932.1 L428.3,929.5 L426.9,926.8 L425.7,924.0 L424.5,921.2 L423.5,918.4 L422.7,915.5 L422.0,912.6 L421.5,909.6 L421.1,906.6 L420.7,903.6 L420.4,900.5 L420.1,897.4 L419.8,894.4 L419.4,891.4 L418.9,888.4 L418.3,885.4 L417.5,882.5 L416.5,879.7 L415.4,876.9" stroke="#948848" stroke-width="5.2"/><path d="M438.5,960.9 L438.1,957.8 L437.7,954.8 L437.4,951.8 L436.9,948.8 L436.0,945.9 L434.7,943.2 L433.2,940.5 L431.7,937.8 L430.2,935.2 L428.7,932.5 L427.2,929.8 L425.8,927.1 L424.5,924.4 L423.4,921.6 L422.4,918.8 L421.6,915.9 L420.9,912.9 L420.3,910.0 L419.9,907.0 L419.6,903.9 L419.3,900.9 L419.0,897.8 L418.7,894.8 L418.3,891.7 L417.8,888.7 L417.1,885.8 L416.3,882.9 L415.4,880.1 L414.3,877.3" stroke="#c2b77a" stroke-width="1.8" opacity="0.85"/><path d="M102.1,853.3 L105.1,853.0 L108.2,852.6 L111.2,852.2 L114.1,851.6 L117.0,850.7 L119.8,849.5 L122.6,848.3 L125.4,847.0 L128.2,845.7 L130.9,844.5 L133.7,843.3 L136.6,842.2 L139.4,841.1 L142.3,840.2 L145.2,839.4 L148.1,838.7 L151.1,838.1 L154.1,837.7 L157.1,837.3 L160.1,836.9 L163.2,836.6 L166.2,836.3 L169.2,835.9 L172.2,835.6 L175.2,835.1 L178.2,834.6 L181.2,833.9 L184.1,833.1 L187.0,832.3 L189.8,831.3 L192.7,830.2 L195.5,829.0 L198.2,827.8 L201.0,826.5" stroke="#342e16" stroke-width="6.8"/><path d="M102.1,853.3 L105.1,853.0 L108.2,852.6 L111.2,852.2 L114.1,851.6 L117.0,850.7 L119.8,849.5 L122.6,848.3 L125.4,847.0 L128.2,845.7 L130.9,844.5 L133.7,843.3 L136.6,842.2 L139.4,841.1 L142.3,840.2 L145.2,839.4 L148.1,838.7 L151.1,838.1 L154.1,837.7 L157.1,837.3 L160.1,836.9 L163.2,836.6 L166.2,836.3 L169.2,835.9 L172.2,835.6 L175.2,835.1 L178.2,834.6 L181.2,833.9 L184.1,833.1 L187.0,832.3 L189.8,831.3 L192.7,830.2 L195.5,829.0 L198.2,827.8 L201.0,826.5" stroke="#82773d" stroke-width="5.2"/><path d="M101.8,852.2 L104.8,851.8 L107.8,851.5 L110.9,851.0 L113.8,850.4 L116.7,849.6 L119.5,848.4 L122.3,847.1 L125.1,845.8 L127.8,844.6 L130.6,843.3 L133.4,842.1 L136.2,841.0 L139.1,840.0 L142.0,839.1 L144.9,838.3 L147.8,837.6 L150.8,837.0 L153.8,836.5 L156.8,836.1 L159.8,835.7 L162.8,835.4 L165.9,835.1 L168.9,834.8 L171.9,834.4 L174.9,834.0 L177.9,833.4 L180.9,832.8 L183.8,832.0 L186.7,831.1 L189.5,830.1 L192.3,829.0 L195.1,827.9 L197.9,826.6 L200.7,825.4" stroke="#b8ad6e" stroke-width="1.8" opacity="0.85"/><ellipse cx="241.2" cy="937.7" rx="6.4" ry="3.0" transform="rotate(-58 241.2 937.7)" fill="#f4f4f0" stroke="none"/><path d="M446.3,866.9 L443.2,866.8 L440.1,866.7 L437.0,866.5 L433.9,866.4 L430.8,866.6 L427.7,867.0 L424.7,867.5 L421.6,868.1 L418.6,868.7 L415.5,869.4 L412.4,870.0" stroke="#3a3a30" stroke-width="3.4"/><path d="M446.3,866.9 L443.2,866.8 L440.1,866.7 L437.0,866.5 L433.9,866.4 L430.8,866.6 L427.7,867.0 L424.7,867.5 L421.6,868.1 L418.6,868.7 L415.5,869.4 L412.4,870.0" stroke="#b8b392" stroke-width="1.9"/><path d="M444.7,929.9 L444.1,926.9 L443.6,923.9 L443.0,920.8 L442.3,917.8 L441.1,915.1 L439.4,912.5 L437.6,910.0 L435.7,907.5 L433.8,905.0 L431.9,902.5 L430.2,899.9 L428.5,897.3 L427.1,894.6 L425.9,891.8 L425.0,889.0 L424.2,886.0 L423.6,883.0 L423.1,879.9 L422.7,876.8 L422.3,873.7 L421.8,870.6 L421.3,867.6 L420.6,864.6 L419.7,861.7 L418.6,858.9" stroke="#342e16" stroke-width="6.8"/><path d="M444.7,929.9 L444.1,926.9 L443.6,923.9 L443.0,920.8 L442.3,917.8 L441.1,915.1 L439.4,912.5 L437.6,910.0 L435.7,907.5 L433.8,905.0 L431.9,902.5 L430.2,899.9 L428.5,897.3 L427.1,894.6 L425.9,891.8 L425.0,889.0 L424.2,886.0 L423.6,883.0 L423.1,879.9 L422.7,876.8 L422.3,873.7 L421.8,870.6 L421.3,867.6 L420.6,864.6 L419.7,861.7 L418.6,858.9" stroke="#867a3e" stroke-width="5.2"/><path d="M443.6,930.4 L443.0,927.4 L442.5,924.3 L441.9,921.3 L441.2,918.3 L440.0,915.5 L438.3,912.9 L436.5,910.4 L434.6,907.9 L432.7,905.4 L430.8,902.9 L429.0,900.4 L427.4,897.8 L426.0,895.1 L424.8,892.3 L423.8,889.4 L423.1,886.5 L422.5,883.5 L422.0,880.4 L421.6,877.3 L421.2,874.2 L420.7,871.1 L420.2,868.0 L419.5,865.1 L418.6,862.1 L417.5,859.3" stroke="#b8ad6e" stroke-width="1.8" opacity="0.85"/><path d="M265.9,552.0 L266.7,555.0 L267.3,558.0 L268.1,561.0 L269.0,564.0 L270.4,566.6 L272.4,569.1 L274.4,571.5 L276.5,573.9 L278.6,576.3 L280.5,578.7 L282.3,581.2 L283.9,583.8 L285.2,586.6 L286.3,589.4 L287.2,592.4 L287.8,595.4 L288.4,598.5 L288.9,601.6 L289.4,604.8 L290.0,607.8 L290.8,610.8 L291.8,613.7 L293.1,616.5 L294.6,619.1 L296.3,621.7 L298.3,624.1 L300.3,626.5 L302.4,628.9 L304.5,631.3 L306.5,633.7 L308.3,636.2 L309.8,638.8 L311.2,641.6 L312.2,644.4 L313.1,647.4" stroke="#342e16" stroke-width="6.8"/><path d="M265.9,552.0 L266.7,555.0 L267.3,558.0 L268.1,561.0 L269.0,564.0 L270.4,566.6 L272.4,569.1 L274.4,571.5 L276.5,573.9 L278.6,576.3 L280.5,578.7 L282.3,581.2 L283.9,583.8 L285.2,586.6 L286.3,589.4 L287.2,592.4 L287.8,595.4 L288.4,598.5 L288.9,601.6 L289.4,604.8 L290.0,607.8 L290.8,610.8 L291.8,613.7 L293.1,616.5 L294.6,619.1 L296.3,621.7 L298.3,624.1 L300.3,626.5 L302.4,628.9 L304.5,631.3 L306.5,633.7 L308.3,636.2 L309.8,638.8 L311.2,641.6 L312.2,644.4 L313.1,647.4" stroke="#82773d" stroke-width="5.2"/><path d="M266.9,551.5 L267.7,554.5 L268.4,557.5 L269.2,560.5 L270.1,563.4 L271.5,566.1 L273.4,568.6 L275.5,571.0 L277.6,573.4 L279.7,575.7 L281.6,578.2 L283.4,580.7 L285.0,583.3 L286.3,586.0 L287.4,588.9 L288.3,591.9 L288.9,594.9 L289.5,598.0 L290.0,601.1 L290.5,604.2 L291.1,607.3 L291.9,610.3 L292.9,613.2 L294.2,616.0 L295.7,618.6 L297.4,621.1 L299.4,623.6 L301.4,626.0 L303.5,628.4 L305.6,630.7 L307.5,633.2 L309.3,635.7 L310.9,638.3 L312.2,641.0 L313.3,643.9 L314.2,646.9" stroke="#b8ad6e" stroke-width="1.8" opacity="0.85"/><ellipse cx="165.7" cy="668.8" rx="6.5" ry="2.0" transform="rotate(35 165.7 668.8)" fill="#f4f4f0" stroke="none"/><ellipse cx="232.6" cy="927.7" rx="6.6" ry="3.2" transform="rotate(-54 232.6 927.7)" fill="#f4f4f0" stroke="none"/><path d="M161.4,551.2 L163.0,553.7 L164.6,556.3 L166.1,559.0 L167.7,561.6 L169.5,564.0 L171.6,566.1 L173.8,568.2 L176.1,570.2 L178.4,572.2 L180.7,574.2 L183.0,576.2 L185.3,578.2 L187.5,580.3 L189.6,582.4 L191.6,584.6 L193.5,587.0 L195.3,589.4 L197.0,591.9 L198.6,594.4 L200.2,597.1 L201.7,599.7 L203.2,602.4 L204.7,605.0 L206.2,607.6 L207.9,610.2 L209.6,612.7 L211.4,615.1 L213.3,617.4 L215.3,619.7 L217.4,621.8 L219.6,623.9 L221.8,625.9 L224.2,627.9 L226.5,629.9 L228.8,631.9 L231.1,633.9 L233.3,636.0 L235.4,638.1 L237.5,640.3 L239.4,642.6 L241.2,645.0 L242.9,647.5" stroke="#342e16" stroke-width="6.8"/><path d="M161.4,551.2 L163.0,553.7 L164.6,556.3 L166.1,559.0 L167.7,561.6 L169.5,564.0 L171.6,566.1 L173.8,568.2 L176.1,570.2 L178.4,572.2 L180.7,574.2 L183.0,576.2 L185.3,578.2 L187.5,580.3 L189.6,582.4 L191.6,584.6 L193.5,587.0 L195.3,589.4 L197.0,591.9 L198.6,594.4 L200.2,597.1 L201.7,599.7 L203.2,602.4 L204.7,605.0 L206.2,607.6 L207.9,610.2 L209.6,612.7 L211.4,615.1 L213.3,617.4 L215.3,619.7 L217.4,621.8 L219.6,623.9 L221.8,625.9 L224.2,627.9 L226.5,629.9 L228.8,631.9 L231.1,633.9 L233.3,636.0 L235.4,638.1 L237.5,640.3 L239.4,642.6 L241.2,645.0 L242.9,647.5" stroke="#867a3e" stroke-width="5.2"/><path d="M162.3,550.4 L163.9,553.0 L165.5,555.6 L167.0,558.2 L168.6,560.8 L170.4,563.2 L172.5,565.3 L174.7,567.4 L177.0,569.4 L179.3,571.4 L181.6,573.4 L184.0,575.4 L186.2,577.4 L188.4,579.5 L190.5,581.7 L192.6,583.9 L194.5,586.2 L196.3,588.6 L198.0,591.1 L199.6,593.7 L201.1,596.3 L202.6,598.9 L204.1,601.6 L205.6,604.3 L207.2,606.9 L208.8,609.4 L210.5,611.9 L212.3,614.3 L214.2,616.7 L216.2,618.9 L218.3,621.1 L220.5,623.1 L222.8,625.2 L225.1,627.2 L227.4,629.1 L229.7,631.1 L232.0,633.1 L234.2,635.2 L236.3,637.4 L238.4,639.6 L240.3,641.9 L242.1,644.3 L243.8,646.8" stroke="#c2b77a" stroke-width="1.8" opacity="0.85"/><ellipse cx="143.5" cy="704.6" rx="4.2" ry="2.0" transform="rotate(25 143.5 704.6)" fill="#f4f4f0" stroke="none"/><path d="M230.4,540.9 L231.5,543.7 L232.5,546.7 L233.6,549.6 L234.8,552.4 L236.3,555.1 L238.2,557.5 L240.2,559.9 L242.3,562.2 L244.4,564.5 L246.5,566.8 L248.5,569.2 L250.5,571.6 L252.3,574.1 L253.9,576.7 L255.4,579.4 L256.7,582.1 L257.9,585.0 L258.9,587.9 L259.9,590.9 L260.9,593.8 L261.8,596.8 L262.9,599.8 L264.0,602.6 L265.2,605.5 L266.6,608.2 L268.1,610.8 L269.9,613.4 L271.7,615.8 L273.7,618.2 L275.7,620.6 L277.8,622.9 L279.9,625.2 L282.0,627.5 L284.0,629.9 L285.9,632.4 L287.6,634.9 L289.1,637.5 L290.5,640.3" stroke="#342e16" stroke-width="6.8"/><path d="M230.4,540.9 L231.5,543.7 L232.5,546.7 L233.6,549.6 L234.8,552.4 L236.3,555.1 L238.2,557.5 L240.2,559.9 L242.3,562.2 L244.4,564.5 L246.5,566.8 L248.5,569.2 L250.5,571.6 L252.3,574.1 L253.9,576.7 L255.4,579.4 L256.7,582.1 L257.9,585.0 L258.9,587.9 L259.9,590.9 L260.9,593.8 L261.8,596.8 L262.9,599.8 L264.0,602.6 L265.2,605.5 L266.6,608.2 L268.1,610.8 L269.9,613.4 L271.7,615.8 L273.7,618.2 L275.7,620.6 L277.8,622.9 L279.9,625.2 L282.0,627.5 L284.0,629.9 L285.9,632.4 L287.6,634.9 L289.1,637.5 L290.5,640.3" stroke="#867a3e" stroke-width="5.2"/><path d="M231.4,540.3 L232.5,543.1 L233.6,546.1 L234.6,549.0 L235.8,551.8 L237.3,554.5 L239.2,556.9 L241.3,559.3 L243.4,561.6 L245.5,563.9 L247.6,566.2 L249.6,568.6 L251.5,571.0 L253.3,573.5 L254.9,576.1 L256.4,578.8 L257.7,581.5 L258.9,584.4 L260.0,587.3 L261.0,590.3 L261.9,593.2 L262.9,596.2 L263.9,599.2 L265.0,602.0 L266.3,604.9 L267.6,607.6 L269.2,610.2 L270.9,612.8 L272.7,615.2 L274.7,617.6 L276.8,620.0 L278.9,622.3 L281.0,624.6 L283.0,626.9 L285.0,629.3 L286.9,631.8 L288.6,634.3 L290.2,636.9 L291.6,639.7" stroke="#b8ad6e" stroke-width="1.8" opacity="0.85"/><path d="M361.8,1076.0 L362.5,1073.0 L363.1,1069.9 L363.5,1066.9 L363.6,1063.8 L363.1,1060.7 L362.3,1057.7 L361.5,1054.6 L360.8,1051.5 L360.2,1048.4 L359.7,1045.4 L359.5,1042.3 L359.5,1039.2 L359.7,1036.2 L360.2,1033.1 L360.9,1030.1 L361.7,1027.0 L362.6,1024.0 L363.5,1020.9 L364.3,1017.9 L365.0,1014.8 L365.4,1011.8 L365.7,1008.7 L365.7,1005.6 L365.4,1002.6 L365.0,999.5 L364.4,996.4 L363.6,993.3 L362.8,990.3 L362.0,987.2 L361.4,984.1 L360.9,981.0 L360.5,978.0 L360.5,974.9 L360.7,971.9 L361.1,968.8 L361.7,965.7 L362.5,962.7 L363.3,959.6 L364.2,956.6 L365.1,953.5 L365.8,950.5" stroke="#342e16" stroke-width="6.8"/><path d="M361.8,1076.0 L362.5,1073.0 L363.1,1069.9 L363.5,1066.9 L363.6,1063.8 L363.1,1060.7 L362.3,1057.7 L361.5,1054.6 L360.8,1051.5 L360.2,1048.4 L359.7,1045.4 L359.5,1042.3 L359.5,1039.2 L359.7,1036.2 L360.2,1033.1 L360.9,1030.1 L361.7,1027.0 L362.6,1024.0 L363.5,1020.9 L364.3,1017.9 L365.0,1014.8 L365.4,1011.8 L365.7,1008.7 L365.7,1005.6 L365.4,1002.6 L365.0,999.5 L364.4,996.4 L363.6,993.3 L362.8,990.3 L362.0,987.2 L361.4,984.1 L360.9,981.0 L360.5,978.0 L360.5,974.9 L360.7,971.9 L361.1,968.8 L361.7,965.7 L362.5,962.7 L363.3,959.6 L364.2,956.6 L365.1,953.5 L365.8,950.5" stroke="#867a3e" stroke-width="5.2"/><path d="M360.6,1076.0 L361.3,1073.0 L361.9,1069.9 L362.3,1066.9 L362.4,1063.8 L361.9,1060.7 L361.1,1057.7 L360.3,1054.6 L359.6,1051.5 L359.0,1048.4 L358.5,1045.4 L358.3,1042.3 L358.3,1039.2 L358.5,1036.2 L359.0,1033.1 L359.7,1030.1 L360.5,1027.0 L361.4,1024.0 L362.3,1020.9 L363.1,1017.9 L363.8,1014.8 L364.2,1011.7 L364.5,1008.7 L364.5,1005.6 L364.2,1002.5 L363.8,999.5 L363.2,996.4 L362.4,993.3 L361.6,990.3 L360.8,987.2 L360.2,984.1 L359.7,981.0 L359.3,978.0 L359.3,974.9 L359.5,971.8 L359.9,968.8 L360.5,965.7 L361.3,962.7 L362.1,959.6 L363.0,956.6 L363.9,953.5 L364.6,950.5" stroke="#c2b77a" stroke-width="1.8" opacity="0.85"/><ellipse cx="204.3" cy="635.2" rx="3.3" ry="2.4" transform="rotate(47 204.3 635.2)" fill="#f4f4f0" stroke="none"/><path d="M253.1,1067.2 L254.5,1064.4 L255.9,1061.7 L257.3,1058.9 L258.5,1056.0 L259.1,1053.0 L259.4,1049.9 L259.6,1046.7 L259.7,1043.6 L260.0,1040.4 L260.3,1037.3 L260.9,1034.3 L261.6,1031.3 L262.6,1028.4 L263.8,1025.5 L265.2,1022.7 L266.7,1020.0 L268.4,1017.3 L270.0,1014.6 L271.6,1011.9 L273.1,1009.1 L274.4,1006.3 L275.6,1003.5 L276.4,1000.5 L277.1,997.5 L277.5,994.4 L277.8,991.3 L278.0,988.2 L278.2,985.0 L278.4,981.8 L278.7,978.7 L279.2,975.7 L279.9,972.7 L280.8,969.7 L282.0,966.9 L283.3,964.1 L284.8,961.3 L286.5,958.6 L288.1,955.9 L289.7,953.2 L291.3,950.5 L292.6,947.7" stroke="#342e16" stroke-width="6.8"/><path d="M253.1,1067.2 L254.5,1064.4 L255.9,1061.7 L257.3,1058.9 L258.5,1056.0 L259.1,1053.0 L259.4,1049.9 L259.6,1046.7 L259.7,1043.6 L260.0,1040.4 L260.3,1037.3 L260.9,1034.3 L261.6,1031.3 L262.6,1028.4 L263.8,1025.5 L265.2,1022.7 L266.7,1020.0 L268.4,1017.3 L270.0,1014.6 L271.6,1011.9 L273.1,1009.1 L274.4,1006.3 L275.6,1003.5 L276.4,1000.5 L277.1,997.5 L277.5,994.4 L277.8,991.3 L278.0,988.2 L278.2,985.0 L278.4,981.8 L278.7,978.7 L279.2,975.7 L279.9,972.7 L280.8,969.7 L282.0,966.9 L283.3,964.1 L284.8,961.3 L286.5,958.6 L288.1,955.9 L289.7,953.2 L291.3,950.5 L292.6,947.7" stroke="#867a3e" stroke-width="5.2"/><path d="M251.9,1066.9 L253.3,1064.1 L254.8,1061.3 L256.2,1058.5 L257.3,1055.7 L258.0,1052.7 L258.2,1049.5 L258.4,1046.4 L258.6,1043.2 L258.8,1040.1 L259.2,1037.0 L259.7,1033.9 L260.5,1030.9 L261.4,1028.0 L262.6,1025.2 L264.0,1022.4 L265.6,1019.7 L267.2,1017.0 L268.9,1014.3 L270.5,1011.5 L272.0,1008.8 L273.3,1006.0 L274.4,1003.1 L275.3,1000.2 L275.9,997.2 L276.4,994.1 L276.7,991.0 L276.9,987.8 L277.0,984.6 L277.3,981.5 L277.6,978.4 L278.1,975.3 L278.7,972.3 L279.7,969.4 L280.8,966.5 L282.2,963.7 L283.7,961.0 L285.3,958.3 L287.0,955.6 L288.6,952.9 L290.1,950.1 L291.5,947.3" stroke="#aea365" stroke-width="1.8" opacity="0.85"/><path d="M177.8,544.1 L179.3,546.8 L180.8,549.5 L182.5,552.0 L184.4,554.4 L186.5,556.6 L188.8,558.7 L191.2,560.7 L193.4,562.8 L195.6,565.0 L197.7,567.3 L199.7,569.6 L201.5,572.0 L203.1,574.6 L204.7,577.2 L206.1,580.0 L207.5,582.7 L208.9,585.5 L210.2,588.3 L211.6,591.1 L213.1,593.8 L214.7,596.4 L216.4,598.9 L218.3,601.3 L220.3,603.6 L222.5,605.8 L224.7,607.9 L227.0,610.0 L229.3,612.0 L231.6,614.1 L233.9,616.2 L236.1,618.4 L238.1,620.7 L240.0,623.1 L241.8,625.5 L243.4,628.1 L244.9,630.8 L246.3,633.5 L247.7,636.3 L249.0,639.1 L250.4,641.9 L251.8,644.6" stroke="#342e16" stroke-width="6.8"/><path d="M177.8,544.1 L179.3,546.8 L180.8,549.5 L182.5,552.0 L184.4,554.4 L186.5,556.6 L188.8,558.7 L191.2,560.7 L193.4,562.8 L195.6,565.0 L197.7,567.3 L199.7,569.6 L201.5,572.0 L203.1,574.6 L204.7,577.2 L206.1,580.0 L207.5,582.7 L208.9,585.5 L210.2,588.3 L211.6,591.1 L213.1,593.8 L214.7,596.4 L216.4,598.9 L218.3,601.3 L220.3,603.6 L222.5,605.8 L224.7,607.9 L227.0,610.0 L229.3,612.0 L231.6,614.1 L233.9,616.2 L236.1,618.4 L238.1,620.7 L240.0,623.1 L241.8,625.5 L243.4,628.1 L244.9,630.8 L246.3,633.5 L247.7,636.3 L249.0,639.1 L250.4,641.9 L251.8,644.6" stroke="#908444" stroke-width="5.2"/><path d="M178.8,543.4 L180.2,546.1 L181.8,548.8 L183.4,551.3 L185.3,553.7 L187.5,555.9 L189.8,558.0 L192.1,560.0 L194.4,562.1 L196.6,564.3 L198.7,566.5 L200.6,568.9 L202.4,571.3 L204.1,573.9 L205.6,576.5 L207.1,579.2 L208.5,582.0 L209.8,584.8 L211.2,587.6 L212.6,590.4 L214.1,593.0 L215.7,595.6 L217.4,598.2 L219.3,600.5 L221.3,602.8 L223.4,605.0 L225.7,607.2 L228.0,609.3 L230.3,611.3 L232.6,613.4 L234.8,615.5 L237.0,617.7 L239.1,620.0 L241.0,622.3 L242.7,624.8 L244.4,627.4 L245.9,630.1 L247.3,632.8 L248.7,635.6 L250.0,638.4 L251.4,641.2 L252.8,643.9" stroke="#aea365" stroke-width="1.8" opacity="0.85"/><path d="M101.6,623.3 L103.8,625.4 L106.0,627.5 L108.2,629.5 L110.5,631.5 L113.0,633.2 L115.7,634.6 L118.4,636.0 L121.1,637.4 L123.9,638.7 L126.6,640.1 L129.3,641.4 L131.9,642.9 L134.6,644.4 L137.1,646.0 L139.6,647.7 L142.0,649.5 L144.3,651.4 L146.6,653.4 L148.9,655.4 L151.1,657.5 L153.2,659.6 L155.4,661.8 L157.6,663.9 L159.8,666.0 L162.0,668.1 L164.3,670.0 L166.6,671.9 L169.0,673.7 L171.5,675.4 L174.0,677.0 L176.7,678.6 L179.3,680.0 L182.0,681.4 L184.7,682.8 L187.5,684.1 L190.2,685.4 L192.9,686.8 L195.6,688.3 L198.2,689.7 L200.8,691.3 L203.3,693.0" stroke="#342e16" stroke-width="6.8"/><path d="M101.6,623.3 L103.8,625.4 L106.0,627.5 L108.2,629.5 L110.5,631.5 L113.0,633.2 L115.7,634.6 L118.4,636.0 L121.1,637.4 L123.9,638.7 L126.6,640.1 L129.3,641.4 L131.9,642.9 L134.6,644.4 L137.1,646.0 L139.6,647.7 L142.0,649.5 L144.3,651.4 L146.6,653.4 L148.9,655.4 L151.1,657.5 L153.2,659.6 L155.4,661.8 L157.6,663.9 L159.8,666.0 L162.0,668.1 L164.3,670.0 L166.6,671.9 L169.0,673.7 L171.5,675.4 L174.0,677.0 L176.7,678.6 L179.3,680.0 L182.0,681.4 L184.7,682.8 L187.5,684.1 L190.2,685.4 L192.9,686.8 L195.6,688.3 L198.2,689.7 L200.8,691.3 L203.3,693.0" stroke="#908444" stroke-width="5.2"/><path d="M102.3,622.3 L104.5,624.4 L106.7,626.5 L108.9,628.6 L111.2,630.5 L113.7,632.2 L116.4,633.7 L119.1,635.0 L121.8,636.4 L124.5,637.7 L127.3,639.1 L130.0,640.5 L132.6,641.9 L135.3,643.4 L137.8,645.0 L140.3,646.7 L142.7,648.5 L145.0,650.4 L147.3,652.4 L149.6,654.4 L151.8,656.5 L153.9,658.7 L156.1,660.8 L158.3,662.9 L160.5,665.0 L162.7,667.1 L165.0,669.1 L167.3,671.0 L169.7,672.8 L172.2,674.5 L174.7,676.1 L177.4,677.6 L180.0,679.0 L182.7,680.4 L185.4,681.8 L188.2,683.1 L190.9,684.5 L193.6,685.8 L196.3,687.3 L198.9,688.8 L201.5,690.4 L204.0,692.0" stroke="#b8ad6e" stroke-width="1.8" opacity="0.85"/><ellipse cx="176.7" cy="704.5" rx="3.8" ry="1.8" transform="rotate(29 176.7 704.5)" fill="#1c2d66" stroke="none"/><path d="M223.8,539.9 L224.9,542.8 L225.9,545.7 L227.2,548.4 L228.7,551.1 L230.5,553.5 L232.7,555.7 L234.9,557.9 L237.1,560.1 L239.2,562.3 L241.2,564.7 L243.1,567.0 L244.8,569.5 L246.4,572.1 L247.8,574.8 L249.0,577.5 L250.1,580.4 L251.1,583.3 L252.1,586.3 L253.0,589.2 L253.9,592.2 L254.9,595.1 L256.0,598.0 L257.3,600.7 L258.6,603.4 L260.2,606.0 L261.9,608.5 L263.8,610.9 L265.8,613.2 L267.9,615.4 L270.1,617.6 L272.3,619.8 L274.4,622.1 L276.5,624.3 L278.5,626.7 L280.3,629.1 L282.0,631.6 L283.5,634.2 L284.9,636.9 L286.1,639.7" stroke="#342e16" stroke-width="6.8"/><path d="M223.8,539.9 L224.9,542.8 L225.9,545.7 L227.2,548.4 L228.7,551.1 L230.5,553.5 L232.7,555.7 L234.9,557.9 L237.1,560.1 L239.2,562.3 L241.2,564.7 L243.1,567.0 L244.8,569.5 L246.4,572.1 L247.8,574.8 L249.0,577.5 L250.1,580.4 L251.1,583.3 L252.1,586.3 L253.0,589.2 L253.9,592.2 L254.9,595.1 L256.0,598.0 L257.3,600.7 L258.6,603.4 L260.2,606.0 L261.9,608.5 L263.8,610.9 L265.8,613.2 L267.9,615.4 L270.1,617.6 L272.3,619.8 L274.4,622.1 L276.5,624.3 L278.5,626.7 L280.3,629.1 L282.0,631.6 L283.5,634.2 L284.9,636.9 L286.1,639.7" stroke="#908444" stroke-width="5.2"/><path d="M224.8,539.3 L225.9,542.2 L227.0,545.0 L228.2,547.8 L229.7,550.4 L231.6,552.8 L233.7,555.1 L235.9,557.3 L238.1,559.5 L240.2,561.7 L242.2,564.0 L244.1,566.4 L245.8,568.9 L247.4,571.5 L248.8,574.2 L250.0,576.9 L251.1,579.8 L252.1,582.7 L253.1,585.6 L254.0,588.6 L254.9,591.6 L255.9,594.5 L257.0,597.3 L258.3,600.1 L259.7,602.8 L261.2,605.4 L263.0,607.9 L264.8,610.2 L266.9,612.6 L269.0,614.8 L271.1,617.0 L273.3,619.2 L275.5,621.5 L277.6,623.7 L279.5,626.0 L281.4,628.5 L283.1,631.0 L284.6,633.6 L285.9,636.3 L287.1,639.1" stroke="#aea365" stroke-width="1.8" opacity="0.85"/><path d="M322.7,590.4 L323.0,593.6 L323.1,596.7 L323.2,599.9 L323.5,603.1 L324.3,606.1 L325.6,608.9 L327.0,611.7 L328.6,614.5 L330.2,617.2 L331.8,620.0 L333.4,622.8 L334.8,625.6 L336.1,628.4 L337.3,631.3 L338.3,634.3 L339.0,637.3 L339.6,640.3 L339.9,643.4 L340.2,646.6 L340.3,649.7 L340.4,652.9 L340.4,656.1 L340.5,659.3 L340.8,662.5 L341.1,665.6 L341.6,668.6 L342.4,671.7" stroke="#342e16" stroke-width="6.8"/><path d="M322.7,590.4 L323.0,593.6 L323.1,596.7 L323.2,599.9 L323.5,603.1 L324.3,606.1 L325.6,608.9 L327.0,611.7 L328.6,614.5 L330.2,617.2 L331.8,620.0 L333.4,622.8 L334.8,625.6 L336.1,628.4 L337.3,631.3 L338.3,634.3 L339.0,637.3 L339.6,640.3 L339.9,643.4 L340.2,646.6 L340.3,649.7 L340.4,652.9 L340.4,656.1 L340.5,659.3 L340.8,662.5 L341.1,665.6 L341.6,668.6 L342.4,671.7" stroke="#7c713a" stroke-width="5.2"/><path d="M323.9,590.1 L324.1,593.2 L324.3,596.4 L324.4,599.6 L324.7,602.7 L325.4,605.7 L326.7,608.6 L328.2,611.4 L329.7,614.2 L331.3,616.9 L333.0,619.7 L334.5,622.5 L336.0,625.3 L337.3,628.1 L338.5,631.0 L339.4,633.9 L340.2,636.9 L340.7,640.0 L341.1,643.1 L341.3,646.2 L341.5,649.4 L341.5,652.6 L341.6,655.8 L341.7,659.0 L341.9,662.1 L342.3,665.3 L342.8,668.3 L343.5,671.3" stroke="#b8ad6e" stroke-width="1.8" opacity="0.85"/><path d="M181.8,542.9 L183.2,545.7 L184.5,548.5 L185.9,551.2 L187.4,553.9 L189.2,556.3 L191.5,558.4 L193.8,560.5 L196.1,562.5 L198.5,564.5 L200.8,566.6 L203.1,568.7 L205.3,570.9 L207.3,573.1 L209.2,575.5 L210.9,578.0 L212.5,580.6 L214.0,583.3 L215.3,586.1 L216.6,588.9 L217.8,591.7 L219.1,594.6 L220.4,597.4 L221.7,600.2 L223.2,602.9 L224.8,605.4 L226.6,607.9 L228.5,610.2 L230.6,612.5 L232.8,614.6 L235.1,616.7 L237.4,618.8 L239.8,620.8 L242.1,622.8 L244.4,624.9 L246.6,627.0 L248.7,629.3 L250.7,631.6 L252.4,634.1 L254.1,636.6 L255.6,639.3 L257.0,642.1" stroke="#342e16" stroke-width="6.8"/><path d="M181.8,542.9 L183.2,545.7 L184.5,548.5 L185.9,551.2 L187.4,553.9 L189.2,556.3 L191.5,558.4 L193.8,560.5 L196.1,562.5 L198.5,564.5 L200.8,566.6 L203.1,568.7 L205.3,570.9 L207.3,573.1 L209.2,575.5 L210.9,578.0 L212.5,580.6 L214.0,583.3 L215.3,586.1 L216.6,588.9 L217.8,591.7 L219.1,594.6 L220.4,597.4 L221.7,600.2 L223.2,602.9 L224.8,605.4 L226.6,607.9 L228.5,610.2 L230.6,612.5 L232.8,614.6 L235.1,616.7 L237.4,618.8 L239.8,620.8 L242.1,622.8 L244.4,624.9 L246.6,627.0 L248.7,629.3 L250.7,631.6 L252.4,634.1 L254.1,636.6 L255.6,639.3 L257.0,642.1" stroke="#82773d" stroke-width="5.2"/><path d="M182.8,542.2 L184.2,544.9 L185.5,547.7 L186.9,550.5 L188.3,553.2 L190.2,555.6 L192.4,557.7 L194.7,559.8 L197.1,561.8 L199.5,563.8 L201.8,565.9 L204.1,568.0 L206.2,570.1 L208.3,572.4 L210.2,574.8 L211.9,577.3 L213.5,579.9 L214.9,582.6 L216.3,585.3 L217.6,588.2 L218.8,591.0 L220.0,593.9 L221.3,596.7 L222.7,599.5 L224.2,602.1 L225.8,604.7 L227.6,607.2 L229.5,609.5 L231.6,611.8 L233.8,613.9 L236.0,616.0 L238.4,618.1 L240.8,620.1 L243.1,622.1 L245.4,624.2 L247.6,626.3 L249.7,628.6 L251.6,630.9 L253.4,633.4 L255.0,635.9 L256.5,638.6 L257.9,641.3" stroke="#b8ad6e" stroke-width="1.8" opacity="0.85"/><path d="M154.7,555.1 L156.3,557.6 L158.0,560.2 L159.8,562.6 L161.8,564.9 L164.0,567.0 L166.3,568.9 L168.7,570.9 L171.0,572.8 L173.3,574.8 L175.5,576.9 L177.6,579.1 L179.6,581.3 L181.5,583.7 L183.3,586.2 L184.9,588.7 L186.5,591.3 L188.1,593.9 L189.6,596.6 L191.2,599.2 L192.9,601.8 L194.6,604.3 L196.4,606.7 L198.3,609.0 L200.4,611.2 L202.5,613.3 L204.8,615.4 L207.1,617.3 L209.4,619.3 L211.8,621.2 L214.2,623.2 L216.4,625.2 L218.6,627.3 L220.7,629.5 L222.7,631.7 L224.6,634.1 L226.4,636.5 L228.0,639.1 L229.6,641.7 L231.2,644.3 L232.8,646.9 L234.3,649.6 L236.0,652.1" stroke="#342e16" stroke-width="6.8"/><path d="M154.7,555.1 L156.3,557.6 L158.0,560.2 L159.8,562.6 L161.8,564.9 L164.0,567.0 L166.3,568.9 L168.7,570.9 L171.0,572.8 L173.3,574.8 L175.5,576.9 L177.6,579.1 L179.6,581.3 L181.5,583.7 L183.3,586.2 L184.9,588.7 L186.5,591.3 L188.1,593.9 L189.6,596.6 L191.2,599.2 L192.9,601.8 L194.6,604.3 L196.4,606.7 L198.3,609.0 L200.4,611.2 L202.5,613.3 L204.8,615.4 L207.1,617.3 L209.4,619.3 L211.8,621.2 L214.2,623.2 L216.4,625.2 L218.6,627.3 L220.7,629.5 L222.7,631.7 L224.6,634.1 L226.4,636.5 L228.0,639.1 L229.6,641.7 L231.2,644.3 L232.8,646.9 L234.3,649.6 L236.0,652.1" stroke="#948848" stroke-width="5.2"/><path d="M155.6,554.3 L157.2,556.9 L158.9,559.4 L160.7,561.8 L162.7,564.1 L164.9,566.2 L167.3,568.1 L169.6,570.1 L172.0,572.0 L174.2,574.0 L176.4,576.1 L178.5,578.3 L180.5,580.6 L182.4,582.9 L184.2,585.4 L185.8,587.9 L187.4,590.5 L189.0,593.2 L190.6,595.8 L192.1,598.4 L193.8,601.0 L195.5,603.5 L197.3,605.9 L199.2,608.2 L201.3,610.4 L203.4,612.5 L205.7,614.6 L208.0,616.6 L210.4,618.5 L212.7,620.5 L215.1,622.4 L217.4,624.4 L219.6,626.5 L221.7,628.7 L223.6,630.9 L225.5,633.3 L227.3,635.8 L229.0,638.3 L230.6,640.9 L232.1,643.5 L233.7,646.2 L235.2,648.8 L236.9,651.4" stroke="#b8ad6e" stroke-width="1.8" opacity="0.85"/><ellipse cx="182.4" cy="826.0" rx="6.0" ry="3.0" transform="rotate(-13 182.4 826.0)" fill="#1c2d66" stroke="none"/><ellipse cx="164.9" cy="783.8" rx="3.2" ry="2.3" transform="rotate(3 164.9 783.8)" fill="#1c2d66" stroke="none"/><path d="M171.2,546.5 L172.8,549.2 L174.3,551.9 L175.9,554.5 L177.5,557.1 L179.5,559.5 L181.7,561.6 L184.0,563.7 L186.3,565.8 L188.7,567.9 L190.9,570.0 L193.1,572.1 L195.2,574.4 L197.2,576.7 L199.0,579.2 L200.7,581.7 L202.3,584.4 L203.8,587.1 L205.3,589.8 L206.7,592.6 L208.1,595.3 L209.7,598.0 L211.3,600.7 L213.0,603.2 L214.9,605.6 L216.9,607.9 L219.0,610.2 L221.2,612.3 L223.5,614.4 L225.8,616.5 L228.2,618.5 L230.5,620.6 L232.7,622.8 L234.7,625.0 L236.7,627.4 L238.6,629.8 L240.3,632.4 L241.9,635.0 L243.4,637.7 L244.8,640.5 L246.3,643.2 L247.7,646.0" stroke="#342e16" stroke-width="6.8"/><path d="M171.2,546.5 L172.8,549.2 L174.3,551.9 L175.9,554.5 L177.5,557.1 L179.5,559.5 L181.7,561.6 L184.0,563.7 L186.3,565.8 L188.7,567.9 L190.9,570.0 L193.1,572.1 L195.2,574.4 L197.2,576.7 L199.0,579.2 L200.7,581.7 L202.3,584.4 L203.8,587.1 L205.3,589.8 L206.7,592.6 L208.1,595.3 L209.7,598.0 L211.3,600.7 L213.0,603.2 L214.9,605.6 L216.9,607.9 L219.0,610.2 L221.2,612.3 L223.5,614.4 L225.8,616.5 L228.2,618.5 L230.5,620.6 L232.7,622.8 L234.7,625.0 L236.7,627.4 L238.6,629.8 L240.3,632.4 L241.9,635.0 L243.4,637.7 L244.8,640.5 L246.3,643.2 L247.7,646.0" stroke="#908444" stroke-width="5.2"/><path d="M172.1,545.8 L173.7,548.5 L175.3,551.1 L176.8,553.8 L178.5,556.4 L180.4,558.7 L182.7,560.9 L185.0,563.0 L187.3,565.0 L189.6,567.1 L191.9,569.2 L194.1,571.4 L196.2,573.6 L198.1,576.0 L200.0,578.4 L201.7,581.0 L203.2,583.6 L204.7,586.3 L206.2,589.1 L207.6,591.9 L209.1,594.6 L210.6,597.3 L212.2,599.9 L214.0,602.4 L215.8,604.9 L217.8,607.2 L220.0,609.4 L222.2,611.6 L224.5,613.7 L226.8,615.7 L229.1,617.8 L231.4,619.9 L233.6,622.1 L235.7,624.3 L237.7,626.6 L239.5,629.1 L241.2,631.6 L242.8,634.3 L244.3,637.0 L245.8,639.7 L247.2,642.5 L248.7,645.2" stroke="#aea365" stroke-width="1.8" opacity="0.85"/><path d="M314.4,583.2 L314.8,586.2 L315.1,589.3 L315.4,592.3 L315.8,595.3 L316.7,598.2 L318.1,600.9 L319.7,603.6 L321.3,606.3 L322.9,608.9 L324.5,611.6 L326.0,614.3 L327.4,617.0 L328.6,619.8 L329.6,622.6 L330.4,625.5 L331.0,628.5 L331.4,631.5 L331.7,634.6 L331.9,637.7 L332.0,640.8 L332.2,643.9 L332.5,647.0 L332.9,650.0 L333.5,653.0 L334.2,655.9 L335.2,658.8 L336.4,661.6 L337.7,664.3 L339.2,667.0" stroke="#342e16" stroke-width="6.8"/><path d="M314.4,583.2 L314.8,586.2 L315.1,589.3 L315.4,592.3 L315.8,595.3 L316.7,598.2 L318.1,600.9 L319.7,603.6 L321.3,606.3 L322.9,608.9 L324.5,611.6 L326.0,614.3 L327.4,617.0 L328.6,619.8 L329.6,622.6 L330.4,625.5 L331.0,628.5 L331.4,631.5 L331.7,634.6 L331.9,637.7 L332.0,640.8 L332.2,643.9 L332.5,647.0 L332.9,650.0 L333.5,653.0 L334.2,655.9 L335.2,658.8 L336.4,661.6 L337.7,664.3 L339.2,667.0" stroke="#867a3e" stroke-width="5.2"/><path d="M315.5,582.8 L315.9,585.8 L316.2,588.9 L316.5,592.0 L317.0,595.0 L317.9,597.9 L319.3,600.6 L320.8,603.3 L322.4,605.9 L324.1,608.6 L325.7,611.2 L327.2,613.9 L328.6,616.6 L329.8,619.4 L330.8,622.3 L331.5,625.2 L332.1,628.2 L332.6,631.2 L332.8,634.3 L333.0,637.4 L333.2,640.5 L333.4,643.6 L333.6,646.6 L334.0,649.7 L334.6,652.7 L335.4,655.6 L336.3,658.4 L337.5,661.2 L338.9,664.0 L340.4,666.7" stroke="#c2b77a" stroke-width="1.8" opacity="0.85"/><path d="M429.3,769.9 L426.3,770.5 L423.2,771.0 L420.1,771.6 L417.1,772.3 L414.2,773.4 L411.4,774.7 L408.6,776.0 L405.7,777.3 L402.9,778.7 L400.1,779.9 L397.2,781.1" stroke="#3a3a30" stroke-width="3.4"/><path d="M429.3,769.9 L426.3,770.5 L423.2,771.0 L420.1,771.6 L417.1,772.3 L414.2,773.4 L411.4,774.7 L408.6,776.0 L405.7,777.3 L402.9,778.7 L400.1,779.9 L397.2,781.1" stroke="#b8b392" stroke-width="1.9"/><ellipse cx="257.0" cy="944.8" rx="3.5" ry="1.8" transform="rotate(-64 257.0 944.8)" fill="#f4f4f0" stroke="none"/><ellipse cx="166.0" cy="706.6" rx="3.1" ry="2.3" transform="rotate(27 166.0 706.6)" fill="#f4f4f0" stroke="none"/><path d="M242.4,1061.0 L244.0,1058.3 L245.6,1055.6 L247.1,1052.9 L248.3,1050.1 L249.0,1047.2 L249.3,1044.0 L249.5,1040.9 L249.7,1037.7 L250.0,1034.6 L250.4,1031.5 L251.0,1028.5 L251.9,1025.6 L253.0,1022.8 L254.4,1020.0 L255.9,1017.3 L257.6,1014.7 L259.4,1012.1 L261.2,1009.5 L263.0,1006.9 L264.6,1004.3 L266.1,1001.6 L267.3,998.8 L268.3,995.9 L269.0,992.9 L269.5,989.9 L269.9,986.8 L270.1,983.6 L270.3,980.5 L270.6,977.4 L270.9,974.3 L271.4,971.2 L272.2,968.2 L273.1,965.4 L274.4,962.6 L275.8,959.9 L277.4,957.2 L279.2,954.6 L281.0,952.0 L282.8,949.4 L284.5,946.8 L286.1,944.1" stroke="#342e16" stroke-width="6.8"/><path d="M242.4,1061.0 L244.0,1058.3 L245.6,1055.6 L247.1,1052.9 L248.3,1050.1 L249.0,1047.2 L249.3,1044.0 L249.5,1040.9 L249.7,1037.7 L250.0,1034.6 L250.4,1031.5 L251.0,1028.5 L251.9,1025.6 L253.0,1022.8 L254.4,1020.0 L255.9,1017.3 L257.6,1014.7 L259.4,1012.1 L261.2,1009.5 L263.0,1006.9 L264.6,1004.3 L266.1,1001.6 L267.3,998.8 L268.3,995.9 L269.0,992.9 L269.5,989.9 L269.9,986.8 L270.1,983.6 L270.3,980.5 L270.6,977.4 L270.9,974.3 L271.4,971.2 L272.2,968.2 L273.1,965.4 L274.4,962.6 L275.8,959.9 L277.4,957.2 L279.2,954.6 L281.0,952.0 L282.8,949.4 L284.5,946.8 L286.1,944.1" stroke="#7c713a" stroke-width="5.2"/><path d="M241.3,1060.6 L242.9,1057.9 L244.5,1055.2 L246.0,1052.5 L247.2,1049.7 L247.9,1046.8 L248.1,1043.6 L248.4,1040.5 L248.6,1037.3 L248.9,1034.2 L249.3,1031.1 L249.9,1028.1 L250.8,1025.2 L251.9,1022.4 L253.2,1019.6 L254.8,1016.9 L256.5,1014.3 L258.3,1011.7 L260.1,1009.1 L261.9,1006.5 L263.5,1003.9 L265.0,1001.2 L266.2,998.4 L267.2,995.5 L267.9,992.5 L268.4,989.5 L268.8,986.4 L269.0,983.3 L269.2,980.1 L269.4,977.0 L269.8,973.9 L270.3,970.8 L271.0,967.8 L272.0,965.0 L273.2,962.2 L274.7,959.5 L276.3,956.8 L278.1,954.2 L279.9,951.6 L281.7,949.0 L283.4,946.4 L285.0,943.7" stroke="#c2b77a" stroke-width="1.8" opacity="0.85"/><ellipse cx="159.1" cy="744.2" rx="6.7" ry="1.8" transform="rotate(16 159.1 744.2)" fill="#f4f4f0" stroke="none"/><path d="M310.2,579.8 L310.7,582.8 L311.1,585.9 L311.7,589.0 L312.5,592.0 L313.7,594.8 L315.2,597.6 L316.8,600.3 L318.4,603.0 L319.9,605.7 L321.4,608.5 L322.8,611.3 L324.0,614.1 L325.0,617.0 L325.9,620.0 L326.6,623.0 L327.1,626.1 L327.5,629.2 L327.9,632.3 L328.2,635.5 L328.5,638.6 L328.9,641.7 L329.4,644.8 L330.1,647.8 L330.9,650.8 L331.9,653.7 L333.1,656.6 L334.4,659.4 L335.9,662.1 L337.4,664.9" stroke="#342e16" stroke-width="6.8"/><path d="M310.2,579.8 L310.7,582.8 L311.1,585.9 L311.7,589.0 L312.5,592.0 L313.7,594.8 L315.2,597.6 L316.8,600.3 L318.4,603.0 L319.9,605.7 L321.4,608.5 L322.8,611.3 L324.0,614.1 L325.0,617.0 L325.9,620.0 L326.6,623.0 L327.1,626.1 L327.5,629.2 L327.9,632.3 L328.2,635.5 L328.5,638.6 L328.9,641.7 L329.4,644.8 L330.1,647.8 L330.9,650.8 L331.9,653.7 L333.1,656.6 L334.4,659.4 L335.9,662.1 L337.4,664.9" stroke="#908444" stroke-width="5.2"/><path d="M311.4,579.4 L311.8,582.5 L312.3,585.6 L312.8,588.6 L313.6,591.6 L314.8,594.5 L316.3,597.2 L317.9,599.9 L319.5,602.6 L321.1,605.4 L322.6,608.1 L323.9,610.9 L325.1,613.8 L326.2,616.7 L327.0,619.6 L327.7,622.7 L328.2,625.7 L328.7,628.8 L329.0,632.0 L329.3,635.1 L329.6,638.2 L330.0,641.3 L330.6,644.4 L331.2,647.4 L332.0,650.4 L333.0,653.3 L334.2,656.2 L335.5,659.0 L337.0,661.8 L338.6,664.5" stroke="#aea365" stroke-width="1.8" opacity="0.85"/><path d="M178.7,1002.8 L181.0,1000.7 L183.3,998.6 L185.4,996.5 L187.4,994.1 L188.9,991.5 L190.1,988.7 L191.2,985.8 L192.4,982.9 L193.5,980.1 L194.7,977.2 L196.1,974.5 L197.5,971.8 L199.1,969.3 L200.9,966.8 L202.8,964.5 L204.8,962.3 L207.0,960.1 L209.3,958.1 L211.7,956.1 L214.1,954.1 L216.4,952.1 L218.7,950.0 L221.0,947.9 L223.1,945.7 L225.0,943.4 L226.8,941.0 L228.4,938.5 L229.9,935.9 L231.3,933.1 L232.5,930.3 L233.7,927.5 L234.8,924.6 L235.9,921.7 L237.1,918.8 L238.4,916.0 L239.8,913.3 L241.3,910.7 L242.9,908.2" stroke="#342e16" stroke-width="6.8"/><path d="M178.7,1002.8 L181.0,1000.7 L183.3,998.6 L185.4,996.5 L187.4,994.1 L188.9,991.5 L190.1,988.7 L191.2,985.8 L192.4,982.9 L193.5,980.1 L194.7,977.2 L196.1,974.5 L197.5,971.8 L199.1,969.3 L200.9,966.8 L202.8,964.5 L204.8,962.3 L207.0,960.1 L209.3,958.1 L211.7,956.1 L214.1,954.1 L216.4,952.1 L218.7,950.0 L221.0,947.9 L223.1,945.7 L225.0,943.4 L226.8,941.0 L228.4,938.5 L229.9,935.9 L231.3,933.1 L232.5,930.3 L233.7,927.5 L234.8,924.6 L235.9,921.7 L237.1,918.8 L238.4,916.0 L239.8,913.3 L241.3,910.7 L242.9,908.2" stroke="#908444" stroke-width="5.2"/><path d="M177.8,1002.1 L180.1,1000.0 L182.3,997.9 L184.5,995.8 L186.4,993.4 L187.9,990.8 L189.1,988.0 L190.3,985.1 L191.4,982.2 L192.5,979.4 L193.8,976.5 L195.1,973.8 L196.5,971.1 L198.1,968.6 L199.9,966.1 L201.8,963.8 L203.9,961.6 L206.1,959.4 L208.4,957.4 L210.7,955.4 L213.1,953.4 L215.5,951.4 L217.8,949.3 L220.0,947.2 L222.1,945.0 L224.0,942.7 L225.8,940.3 L227.5,937.8 L229.0,935.2 L230.3,932.4 L231.5,929.6 L232.7,926.8 L233.8,923.9 L235.0,921.0 L236.1,918.1 L237.4,915.3 L238.8,912.6 L240.3,910.0 L242.0,907.5" stroke="#aea365" stroke-width="1.8" opacity="0.85"/><path d="M120.4,904.1 L123.3,903.1 L126.3,902.2 L129.2,901.2 L132.1,900.1 L134.8,898.7 L137.3,896.8 L139.7,894.9 L142.0,892.9 L144.4,890.8 L146.7,888.8 L149.1,886.8 L151.6,884.9 L154.1,883.2 L156.7,881.5 L159.3,880.1 L162.1,878.8 L164.9,877.6 L167.8,876.6 L170.8,875.6 L173.8,874.7 L176.8,873.9 L179.8,873.0 L182.7,872.1 L185.6,871.0 L188.5,869.9 L191.2,868.6 L193.9,867.1 L196.5,865.5 L199.0,863.8 L201.5,861.9 L203.9,859.9 L206.2,857.9 L208.6,855.8 L210.9,853.8" stroke="#342e16" stroke-width="6.8"/><path d="M120.4,904.1 L123.3,903.1 L126.3,902.2 L129.2,901.2 L132.1,900.1 L134.8,898.7 L137.3,896.8 L139.7,894.9 L142.0,892.9 L144.4,890.8 L146.7,888.8 L149.1,886.8 L151.6,884.9 L154.1,883.2 L156.7,881.5 L159.3,880.1 L162.1,878.8 L164.9,877.6 L167.8,876.6 L170.8,875.6 L173.8,874.7 L176.8,873.9 L179.8,873.0 L182.7,872.1 L185.6,871.0 L188.5,869.9 L191.2,868.6 L193.9,867.1 L196.5,865.5 L199.0,863.8 L201.5,861.9 L203.9,859.9 L206.2,857.9 L208.6,855.8 L210.9,853.8" stroke="#948848" stroke-width="5.2"/><path d="M119.8,903.1 L122.8,902.1 L125.7,901.1 L128.7,900.2 L131.6,899.1 L134.2,897.6 L136.7,895.8 L139.1,893.8 L141.5,891.8 L143.8,889.8 L146.2,887.7 L148.6,885.7 L151.0,883.9 L153.5,882.1 L156.1,880.5 L158.8,879.0 L161.5,877.7 L164.4,876.5 L167.3,875.5 L170.2,874.6 L173.2,873.7 L176.2,872.8 L179.2,871.9 L182.1,871.0 L185.1,870.0 L187.9,868.8 L190.7,867.5 L193.3,866.1 L195.9,864.5 L198.4,862.7 L200.9,860.8 L203.3,858.9 L205.6,856.8 L208.0,854.8 L210.4,852.8" stroke="#aea365" stroke-width="1.8" opacity="0.85"/><path d="M172.5,994.9 L174.7,992.7 L176.8,990.5 L178.8,988.2 L180.6,985.7 L182.2,983.0 L183.6,980.3 L185.1,977.5 L186.6,974.8 L188.2,972.2 L189.8,969.6 L191.6,967.2 L193.5,964.8 L195.6,962.5 L197.7,960.3 L200.0,958.2 L202.3,956.1 L204.6,954.0 L206.8,951.9 L209.1,949.8 L211.2,947.5 L213.2,945.3 L215.2,942.9 L216.9,940.4 L218.6,937.8 L220.2,935.2 L221.6,932.5 L223.1,929.7 L224.5,927.0 L226.0,924.2 L227.5,921.6 L229.2,919.0 L230.9,916.4 L232.8,914.0 L234.8,911.7 L236.9,909.5 L239.1,907.3 L241.4,905.2" stroke="#342e16" stroke-width="6.8"/><path d="M172.5,994.9 L174.7,992.7 L176.8,990.5 L178.8,988.2 L180.6,985.7 L182.2,983.0 L183.6,980.3 L185.1,977.5 L186.6,974.8 L188.2,972.2 L189.8,969.6 L191.6,967.2 L193.5,964.8 L195.6,962.5 L197.7,960.3 L200.0,958.2 L202.3,956.1 L204.6,954.0 L206.8,951.9 L209.1,949.8 L211.2,947.5 L213.2,945.3 L215.2,942.9 L216.9,940.4 L218.6,937.8 L220.2,935.2 L221.6,932.5 L223.1,929.7 L224.5,927.0 L226.0,924.2 L227.5,921.6 L229.2,919.0 L230.9,916.4 L232.8,914.0 L234.8,911.7 L236.9,909.5 L239.1,907.3 L241.4,905.2" stroke="#7c713a" stroke-width="5.2"/><path d="M171.6,994.1 L173.8,992.0 L175.9,989.7 L177.9,987.4 L179.7,985.0 L181.2,982.3 L182.7,979.6 L184.1,976.8 L185.6,974.1 L187.2,971.5 L188.9,968.9 L190.7,966.4 L192.6,964.0 L194.6,961.8 L196.8,959.6 L199.0,957.4 L201.3,955.3 L203.6,953.3 L205.9,951.2 L208.1,949.0 L210.3,946.8 L212.3,944.5 L214.2,942.1 L216.0,939.7 L217.6,937.1 L219.2,934.4 L220.7,931.7 L222.1,929.0 L223.6,926.2 L225.1,923.5 L226.6,920.8 L228.2,918.2 L230.0,915.7 L231.8,913.3 L233.8,911.0 L235.9,908.7 L238.1,906.6 L240.4,904.5" stroke="#aea365" stroke-width="1.8" opacity="0.85"/><path d="M84.9,766.7 L87.9,767.6 L90.9,768.6 L93.8,769.7 L96.8,770.5 L99.9,770.8 L103.0,770.4 L106.1,769.9 L109.3,769.3 L112.4,768.6 L115.5,768.1 L118.6,767.7 L121.7,767.6 L124.8,767.8 L127.8,768.3 L130.8,769.0 L133.8,770.0 L136.7,771.2 L139.7,772.5 L142.6,773.7 L145.6,774.9 L148.6,775.9 L151.6,776.6 L154.6,777.0 L157.7,777.2 L160.7,777.0 L163.9,776.6 L167.0,776.1 L170.1,775.4 L173.3,774.8 L176.4,774.3 L179.5,773.9 L182.6,773.9 L185.7,774.1 L188.7,774.6 L191.7,775.4" stroke="#342e16" stroke-width="6.8"/><path d="M84.9,766.7 L87.9,767.6 L90.9,768.6 L93.8,769.7 L96.8,770.5 L99.9,770.8 L103.0,770.4 L106.1,769.9 L109.3,769.3 L112.4,768.6 L115.5,768.1 L118.6,767.7 L121.7,767.6 L124.8,767.8 L127.8,768.3 L130.8,769.0 L133.8,770.0 L136.7,771.2 L139.7,772.5 L142.6,773.7 L145.6,774.9 L148.6,775.9 L151.6,776.6 L154.6,777.0 L157.7,777.2 L160.7,777.0 L163.9,776.6 L167.0,776.1 L170.1,775.4 L173.3,774.8 L176.4,774.3 L179.5,773.9 L182.6,773.9 L185.7,774.1 L188.7,774.6 L191.7,775.4" stroke="#908444" stroke-width="5.2"/><path d="M85.0,765.5 L88.0,766.4 L91.0,767.4 L94.0,768.5 L97.0,769.4 L100.0,769.6 L103.1,769.2 L106.2,768.7 L109.4,768.1 L112.5,767.4 L115.7,766.9 L118.8,766.5 L121.9,766.4 L124.9,766.6 L127.9,767.1 L130.9,767.8 L133.9,768.8 L136.9,770.0 L139.8,771.3 L142.8,772.5 L145.7,773.7 L148.7,774.7 L151.7,775.4 L154.7,775.8 L157.8,776.0 L160.9,775.8 L164.0,775.4 L167.1,774.9 L170.3,774.2 L173.4,773.6 L176.5,773.1 L179.6,772.7 L182.7,772.7 L185.8,772.9 L188.8,773.4 L191.8,774.2" stroke="#aea365" stroke-width="1.8" opacity="0.85"/><path d="M386.2,670.0 L383.3,671.2 L380.5,672.4 L377.6,673.8 L375.0,675.3 L372.4,677.1 L370.0,679.1 L367.6,681.2 L365.2,683.2 L362.8,685.1 L360.3,687.0 L357.8,688.7" stroke="#3a3a30" stroke-width="3.4"/><path d="M386.2,670.0 L383.3,671.2 L380.5,672.4 L377.6,673.8 L375.0,675.3 L372.4,677.1 L370.0,679.1 L367.6,681.2 L365.2,683.2 L362.8,685.1 L360.3,687.0 L357.8,688.7" stroke="#b8b392" stroke-width="1.9"/><ellipse cx="167.2" cy="775.3" rx="3.7" ry="2.0" transform="rotate(6 167.2 775.3)" fill="#1c2d66" stroke="none"/><path d="M404.0,1041.4 L404.3,1038.3 L404.5,1035.2 L404.7,1032.2 L404.4,1029.2 L403.7,1026.2 L402.5,1023.3 L401.3,1020.4 L400.1,1017.4 L399.1,1014.5 L398.3,1011.5 L397.7,1008.5 L397.4,1005.5 L397.3,1002.5 L397.5,999.4 L397.9,996.3 L398.4,993.2 L399.0,990.1 L399.5,987.0 L399.9,983.9 L400.1,980.9 L400.1,977.8 L399.8,974.8 L399.2,971.8 L398.3,968.9 L397.3,965.9 L396.1,963.0 L394.9,960.1 L393.8,957.2 L392.7,954.2 L391.9,951.3 L391.3,948.3 L391.0,945.3 L390.9,942.2 L391.1,939.1 L391.5,936.1 L392.1,933.0 L392.6,929.8 L393.2,926.7" stroke="#342e16" stroke-width="6.8"/><path d="M404.0,1041.4 L404.3,1038.3 L404.5,1035.2 L404.7,1032.2 L404.4,1029.2 L403.7,1026.2 L402.5,1023.3 L401.3,1020.4 L400.1,1017.4 L399.1,1014.5 L398.3,1011.5 L397.7,1008.5 L397.4,1005.5 L397.3,1002.5 L397.5,999.4 L397.9,996.3 L398.4,993.2 L399.0,990.1 L399.5,987.0 L399.9,983.9 L400.1,980.9 L400.1,977.8 L399.8,974.8 L399.2,971.8 L398.3,968.9 L397.3,965.9 L396.1,963.0 L394.9,960.1 L393.8,957.2 L392.7,954.2 L391.9,951.3 L391.3,948.3 L391.0,945.3 L390.9,942.2 L391.1,939.1 L391.5,936.1 L392.1,933.0 L392.6,929.8 L393.2,926.7" stroke="#948848" stroke-width="5.2"/><path d="M402.8,1041.5 L403.1,1038.4 L403.4,1035.4 L403.5,1032.3 L403.2,1029.3 L402.5,1026.3 L401.3,1023.4 L400.1,1020.5 L398.9,1017.6 L397.9,1014.6 L397.1,1011.7 L396.5,1008.7 L396.2,1005.7 L396.1,1002.6 L396.3,999.5 L396.7,996.5 L397.2,993.4 L397.8,990.2 L398.3,987.1 L398.7,984.1 L398.9,981.0 L398.9,977.9 L398.6,974.9 L398.0,971.9 L397.1,969.0 L396.1,966.0 L394.9,963.1 L393.7,960.2 L392.6,957.3 L391.5,954.3 L390.7,951.4 L390.1,948.4 L389.8,945.4 L389.7,942.3 L390.0,939.3 L390.4,936.2 L390.9,933.1 L391.5,930.0 L392.0,926.9" stroke="#b8ad6e" stroke-width="1.8" opacity="0.85"/><path d="M169.3,990.6 L171.5,988.5 L173.8,986.4 L176.2,984.4 L178.5,982.4 L180.5,980.1 L182.2,977.6 L183.8,974.9 L185.3,972.2 L186.7,969.5 L188.1,966.7 L189.5,964.0 L191.0,961.3 L192.6,958.6 L194.3,956.1 L196.1,953.6 L198.0,951.3 L200.1,949.0 L202.2,946.9 L204.5,944.8 L206.8,942.8 L209.2,940.8 L211.6,938.9 L214.0,936.9 L216.3,934.8 L218.5,932.7 L220.6,930.5 L222.6,928.2 L224.5,925.8 L226.2,923.3 L227.8,920.7 L229.3,918.0 L230.8,915.3 L232.2,912.5 L233.6,909.8 L235.1,907.1 L236.6,904.4 L238.2,901.8" stroke="#342e16" stroke-width="6.8"/><path d="M169.3,990.6 L171.5,988.5 L173.8,986.4 L176.2,984.4 L178.5,982.4 L180.5,980.1 L182.2,977.6 L183.8,974.9 L185.3,972.2 L186.7,969.5 L188.1,966.7 L189.5,964.0 L191.0,961.3 L192.6,958.6 L194.3,956.1 L196.1,953.6 L198.0,951.3 L200.1,949.0 L202.2,946.9 L204.5,944.8 L206.8,942.8 L209.2,940.8 L211.6,938.9 L214.0,936.9 L216.3,934.8 L218.5,932.7 L220.6,930.5 L222.6,928.2 L224.5,925.8 L226.2,923.3 L227.8,920.7 L229.3,918.0 L230.8,915.3 L232.2,912.5 L233.6,909.8 L235.1,907.1 L236.6,904.4 L238.2,901.8" stroke="#867a3e" stroke-width="5.2"/><path d="M168.4,989.8 L170.6,987.7 L172.9,985.7 L175.3,983.7 L177.6,981.6 L179.6,979.4 L181.3,976.8 L182.8,974.2 L184.3,971.5 L185.8,968.7 L187.2,966.0 L188.6,963.2 L190.1,960.5 L191.7,957.9 L193.3,955.3 L195.1,952.9 L197.1,950.5 L199.1,948.3 L201.3,946.1 L203.6,944.1 L205.9,942.1 L208.3,940.1 L210.7,938.1 L213.0,936.1 L215.3,934.1 L217.6,932.0 L219.7,929.8 L221.7,927.5 L223.5,925.0 L225.3,922.5 L226.9,919.9 L228.4,917.3 L229.9,914.5 L231.3,911.8 L232.7,909.0 L234.2,906.3 L235.7,903.6 L237.3,901.0" stroke="#c2b77a" stroke-width="1.8" opacity="0.85"/><path d="M432.5,986.6 L432.1,983.6 L431.7,980.6 L431.2,977.6 L430.4,974.7 L429.3,971.9 L428.0,969.1 L426.7,966.3 L425.5,963.5 L424.4,960.7 L423.4,957.8 L422.6,954.9 L421.9,952.0 L421.4,949.0 L421.0,946.0 L420.7,943.0 L420.5,939.9 L420.3,936.8 L420.1,933.8 L419.8,930.7 L419.5,927.7 L418.9,924.8 L418.3,921.8 L417.4,918.9 L416.4,916.1 L415.3,913.2 L414.1,910.4 L412.9,907.6 L411.6,904.8 L410.4,902.0 L409.2,899.2 L408.2,896.4 L407.3,893.5" stroke="#342e16" stroke-width="6.8"/><path d="M432.5,986.6 L432.1,983.6 L431.7,980.6 L431.2,977.6 L430.4,974.7 L429.3,971.9 L428.0,969.1 L426.7,966.3 L425.5,963.5 L424.4,960.7 L423.4,957.8 L422.6,954.9 L421.9,952.0 L421.4,949.0 L421.0,946.0 L420.7,943.0 L420.5,939.9 L420.3,936.8 L420.1,933.8 L419.8,930.7 L419.5,927.7 L418.9,924.8 L418.3,921.8 L417.4,918.9 L416.4,916.1 L415.3,913.2 L414.1,910.4 L412.9,907.6 L411.6,904.8 L410.4,902.0 L409.2,899.2 L408.2,896.4 L407.3,893.5" stroke="#867a3e" stroke-width="5.2"/><path d="M431.3,986.9 L431.0,983.9 L430.6,980.9 L430.0,977.9 L429.2,975.0 L428.1,972.2 L426.8,969.4 L425.6,966.6 L424.4,963.8 L423.3,961.0 L422.3,958.1 L421.4,955.2 L420.8,952.3 L420.2,949.3 L419.8,946.3 L419.6,943.2 L419.4,940.2 L419.2,937.1 L419.0,934.1 L418.7,931.0 L418.3,928.0 L417.8,925.0 L417.1,922.1 L416.3,919.2 L415.3,916.3 L414.2,913.5 L413.0,910.7 L411.7,907.9 L410.4,905.1 L409.2,902.3 L408.1,899.5 L407.0,896.6 L406.1,893.8" stroke="#b8ad6e" stroke-width="1.8" opacity="0.85"/><path d="M124.0,912.4 L126.9,911.2 L129.9,910.2 L132.9,909.4 L135.9,908.4 L138.7,907.2 L141.2,905.4 L143.6,903.5 L146.0,901.4 L148.3,899.3 L150.5,897.1 L152.8,894.9 L155.0,892.7 L157.3,890.5 L159.7,888.5 L162.1,886.6 L164.6,884.8 L167.2,883.2 L169.9,881.7 L172.7,880.4 L175.5,879.3 L178.5,878.2 L181.5,877.3 L184.5,876.4 L187.5,875.5 L190.5,874.5 L193.5,873.5 L196.3,872.4 L199.2,871.1 L201.9,869.7 L204.5,868.2 L207.1,866.5 L209.5,864.6 L211.9,862.6 L214.2,860.5" stroke="#342e16" stroke-width="6.8"/><path d="M124.0,912.4 L126.9,911.2 L129.9,910.2 L132.9,909.4 L135.9,908.4 L138.7,907.2 L141.2,905.4 L143.6,903.5 L146.0,901.4 L148.3,899.3 L150.5,897.1 L152.8,894.9 L155.0,892.7 L157.3,890.5 L159.7,888.5 L162.1,886.6 L164.6,884.8 L167.2,883.2 L169.9,881.7 L172.7,880.4 L175.5,879.3 L178.5,878.2 L181.5,877.3 L184.5,876.4 L187.5,875.5 L190.5,874.5 L193.5,873.5 L196.3,872.4 L199.2,871.1 L201.9,869.7 L204.5,868.2 L207.1,866.5 L209.5,864.6 L211.9,862.6 L214.2,860.5" stroke="#867a3e" stroke-width="5.2"/><path d="M123.4,911.3 L126.3,910.2 L129.3,909.2 L132.3,908.3 L135.3,907.4 L138.1,906.1 L140.6,904.4 L143.0,902.4 L145.4,900.4 L147.7,898.3 L149.9,896.1 L152.2,893.8 L154.4,891.6 L156.7,889.5 L159.1,887.5 L161.5,885.5 L164.0,883.8 L166.6,882.2 L169.3,880.7 L172.1,879.4 L174.9,878.2 L177.9,877.2 L180.8,876.2 L183.9,875.3 L186.9,874.4 L189.9,873.5 L192.8,872.5 L195.7,871.4 L198.6,870.1 L201.3,868.7 L203.9,867.2 L206.5,865.4 L208.9,863.6 L211.3,861.6 L213.6,859.5" stroke="#b8ad6e" stroke-width="1.8" opacity="0.85"/><path d="M281.4,1079.5 L282.7,1076.6 L283.9,1073.8 L284.9,1070.9 L285.5,1067.9 L285.5,1064.8 L285.3,1061.6 L285.1,1058.4 L284.9,1055.3 L284.9,1052.1 L285.1,1049.1 L285.6,1046.0 L286.3,1043.1 L287.3,1040.2 L288.5,1037.3 L289.9,1034.5 L291.4,1031.7 L292.9,1028.9 L294.4,1026.1 L295.8,1023.3 L297.0,1020.4 L298.0,1017.5 L298.7,1014.6 L299.2,1011.5 L299.4,1008.5 L299.4,1005.3 L299.2,1002.2 L299.0,999.0 L298.8,995.8 L298.6,992.7 L298.6,989.6 L298.8,986.5 L299.2,983.5 L299.9,980.5 L300.9,977.6 L302.1,974.7 L303.5,971.9 L305.0,969.1 L306.5,966.3 L308.0,963.5 L309.4,960.7 L310.6,957.8 L311.6,954.9" stroke="#342e16" stroke-width="6.8"/><path d="M281.4,1079.5 L282.7,1076.6 L283.9,1073.8 L284.9,1070.9 L285.5,1067.9 L285.5,1064.8 L285.3,1061.6 L285.1,1058.4 L284.9,1055.3 L284.9,1052.1 L285.1,1049.1 L285.6,1046.0 L286.3,1043.1 L287.3,1040.2 L288.5,1037.3 L289.9,1034.5 L291.4,1031.7 L292.9,1028.9 L294.4,1026.1 L295.8,1023.3 L297.0,1020.4 L298.0,1017.5 L298.7,1014.6 L299.2,1011.5 L299.4,1008.5 L299.4,1005.3 L299.2,1002.2 L299.0,999.0 L298.8,995.8 L298.6,992.7 L298.6,989.6 L298.8,986.5 L299.2,983.5 L299.9,980.5 L300.9,977.6 L302.1,974.7 L303.5,971.9 L305.0,969.1 L306.5,966.3 L308.0,963.5 L309.4,960.7 L310.6,957.8 L311.6,954.9" stroke="#82773d" stroke-width="5.2"/><path d="M280.2,1079.2 L281.5,1076.4 L282.8,1073.5 L283.7,1070.6 L284.3,1067.6 L284.4,1064.5 L284.1,1061.3 L283.9,1058.2 L283.8,1055.0 L283.8,1051.9 L284.0,1048.8 L284.4,1045.8 L285.1,1042.8 L286.1,1039.9 L287.3,1037.0 L288.7,1034.2 L290.2,1031.4 L291.7,1028.6 L293.2,1025.8 L294.6,1023.0 L295.8,1020.2 L296.8,1017.3 L297.5,1014.3 L298.0,1011.3 L298.2,1008.2 L298.2,1005.1 L298.1,1001.9 L297.8,998.8 L297.6,995.6 L297.4,992.4 L297.4,989.3 L297.6,986.2 L298.1,983.2 L298.8,980.2 L299.7,977.3 L300.9,974.5 L302.3,971.6 L303.8,968.8 L305.3,966.1 L306.8,963.3 L308.2,960.4 L309.4,957.6 L310.4,954.7" stroke="#c2b77a" stroke-width="1.8" opacity="0.85"/><path d="M372.8,1070.1 L373.3,1067.0 L374.0,1064.0 L374.6,1061.0 L375.0,1057.9 L375.1,1054.9 L374.6,1051.9 L374.0,1048.9 L373.3,1045.9 L372.6,1042.9 L371.8,1039.8 L371.1,1036.8 L370.5,1033.8 L369.9,1030.8 L369.5,1027.8 L369.3,1024.8 L369.2,1021.7 L369.3,1018.7 L369.5,1015.7 L369.9,1012.7 L370.4,1009.6 L371.1,1006.6 L371.7,1003.6 L372.4,1000.6 L373.0,997.5 L373.6,994.5 L374.1,991.5 L374.4,988.4 L374.6,985.4 L374.7,982.4 L374.6,979.4 L374.3,976.4 L373.8,973.3 L373.3,970.3 L372.6,967.3 L371.9,964.3 L371.1,961.3 L370.4,958.3 L369.7,955.3 L369.2,952.2 L368.7,949.2 L368.4,946.2" stroke="#342e16" stroke-width="6.8"/><path d="M372.8,1070.1 L373.3,1067.0 L374.0,1064.0 L374.6,1061.0 L375.0,1057.9 L375.1,1054.9 L374.6,1051.9 L374.0,1048.9 L373.3,1045.9 L372.6,1042.9 L371.8,1039.8 L371.1,1036.8 L370.5,1033.8 L369.9,1030.8 L369.5,1027.8 L369.3,1024.8 L369.2,1021.7 L369.3,1018.7 L369.5,1015.7 L369.9,1012.7 L370.4,1009.6 L371.1,1006.6 L371.7,1003.6 L372.4,1000.6 L373.0,997.5 L373.6,994.5 L374.1,991.5 L374.4,988.4 L374.6,985.4 L374.7,982.4 L374.6,979.4 L374.3,976.4 L373.8,973.3 L373.3,970.3 L372.6,967.3 L371.9,964.3 L371.1,961.3 L370.4,958.3 L369.7,955.3 L369.2,952.2 L368.7,949.2 L368.4,946.2" stroke="#867a3e" stroke-width="5.2"/><path d="M371.6,1070.1 L372.1,1067.0 L372.8,1064.0 L373.4,1061.0 L373.8,1058.0 L373.9,1054.9 L373.4,1051.9 L372.8,1048.9 L372.1,1045.9 L371.4,1042.9 L370.6,1039.9 L369.9,1036.8 L369.3,1033.8 L368.7,1030.8 L368.3,1027.8 L368.1,1024.8 L368.0,1021.8 L368.1,1018.7 L368.3,1015.7 L368.7,1012.7 L369.2,1009.7 L369.9,1006.6 L370.5,1003.6 L371.2,1000.6 L371.8,997.5 L372.4,994.5 L372.9,991.5 L373.2,988.5 L373.4,985.4 L373.5,982.4 L373.4,979.4 L373.1,976.4 L372.6,973.4 L372.1,970.3 L371.4,967.3 L370.7,964.3 L369.9,961.3 L369.2,958.3 L368.5,955.3 L368.0,952.3 L367.5,949.2 L367.2,946.2" stroke="#b8ad6e" stroke-width="1.8" opacity="0.85"/><path d="M85.9,684.3 L88.6,685.9 L91.2,687.4 L93.9,688.9 L96.7,690.1 L99.6,691.1 L102.7,691.8 L105.7,692.5 L108.7,693.3 L111.7,694.1 L114.6,695.0 L117.5,696.0 L120.3,697.1 L123.1,698.4 L125.8,699.8 L128.5,701.4 L131.1,703.0 L133.7,704.7 L136.3,706.4 L138.9,708.2 L141.5,709.8 L144.1,711.4 L146.8,712.8 L149.6,714.2 L152.4,715.4 L155.3,716.4 L158.2,717.4 L161.2,718.2 L164.2,719.0 L167.2,719.7 L170.2,720.4 L173.2,721.2 L176.2,722.0 L179.1,723.0 L182.0,724.0 L184.8,725.3 L187.5,726.6 L190.2,728.1 L192.8,729.7" stroke="#342e16" stroke-width="6.8"/><path d="M85.9,684.3 L88.6,685.9 L91.2,687.4 L93.9,688.9 L96.7,690.1 L99.6,691.1 L102.7,691.8 L105.7,692.5 L108.7,693.3 L111.7,694.1 L114.6,695.0 L117.5,696.0 L120.3,697.1 L123.1,698.4 L125.8,699.8 L128.5,701.4 L131.1,703.0 L133.7,704.7 L136.3,706.4 L138.9,708.2 L141.5,709.8 L144.1,711.4 L146.8,712.8 L149.6,714.2 L152.4,715.4 L155.3,716.4 L158.2,717.4 L161.2,718.2 L164.2,719.0 L167.2,719.7 L170.2,720.4 L173.2,721.2 L176.2,722.0 L179.1,723.0 L182.0,724.0 L184.8,725.3 L187.5,726.6 L190.2,728.1 L192.8,729.7" stroke="#948848" stroke-width="5.2"/><path d="M86.4,683.2 L89.0,684.8 L91.7,686.4 L94.4,687.8 L97.2,689.0 L100.1,690.0 L103.1,690.7 L106.2,691.4 L109.2,692.2 L112.2,693.0 L115.1,693.9 L118.0,694.9 L120.8,696.0 L123.6,697.3 L126.3,698.7 L129.0,700.3 L131.6,701.9 L134.2,703.6 L136.8,705.3 L139.4,707.1 L142.0,708.7 L144.6,710.3 L147.3,711.7 L150.1,713.1 L152.9,714.3 L155.7,715.3 L158.7,716.3 L161.6,717.1 L164.7,717.9 L167.7,718.6 L170.7,719.3 L173.7,720.1 L176.7,720.9 L179.6,721.9 L182.4,722.9 L185.2,724.2 L188.0,725.5 L190.7,727.0 L193.3,728.6" stroke="#b8ad6e" stroke-width="1.8" opacity="0.85"/><path d="M273.1,555.5 L273.8,558.6 L274.4,561.6 L275.1,564.7 L276.1,567.6 L277.5,570.3 L279.3,572.9 L281.2,575.4 L283.1,577.9 L285.0,580.3 L286.9,582.8 L288.7,585.4 L290.5,588.0 L292.0,590.6 L293.5,593.3 L294.7,596.1 L295.8,598.9 L296.8,601.9 L297.6,604.9 L298.3,607.9 L298.9,611.0 L299.5,614.1 L300.1,617.2 L300.7,620.2 L301.4,623.3 L302.1,626.3 L303.1,629.2 L304.1,632.1 L305.4,634.9 L306.8,637.6 L308.3,640.3 L310.0,642.9 L311.8,645.4 L313.7,647.9 L315.6,650.4" stroke="#342e16" stroke-width="6.8"/><path d="M273.1,555.5 L273.8,558.6 L274.4,561.6 L275.1,564.7 L276.1,567.6 L277.5,570.3 L279.3,572.9 L281.2,575.4 L283.1,577.9 L285.0,580.3 L286.9,582.8 L288.7,585.4 L290.5,588.0 L292.0,590.6 L293.5,593.3 L294.7,596.1 L295.8,598.9 L296.8,601.9 L297.6,604.9 L298.3,607.9 L298.9,611.0 L299.5,614.1 L300.1,617.2 L300.7,620.2 L301.4,623.3 L302.1,626.3 L303.1,629.2 L304.1,632.1 L305.4,634.9 L306.8,637.6 L308.3,640.3 L310.0,642.9 L311.8,645.4 L313.7,647.9 L315.6,650.4" stroke="#82773d" stroke-width="5.2"/><path d="M274.2,555.0 L274.9,558.1 L275.5,561.1 L276.2,564.2 L277.2,567.1 L278.6,569.8 L280.4,572.4 L282.2,574.9 L284.2,577.4 L286.1,579.9 L288.0,582.4 L289.8,584.9 L291.6,587.5 L293.1,590.1 L294.6,592.8 L295.8,595.6 L296.9,598.5 L297.9,601.4 L298.7,604.4 L299.4,607.4 L300.0,610.5 L300.6,613.6 L301.2,616.7 L301.8,619.8 L302.4,622.8 L303.2,625.8 L304.2,628.7 L305.2,631.6 L306.5,634.4 L307.9,637.1 L309.4,639.8 L311.1,642.4 L312.9,644.9 L314.8,647.4 L316.7,649.9" stroke="#b8ad6e" stroke-width="1.8" opacity="0.85"/><path d="M128.5,578.1 L130.3,580.6 L132.1,583.0 L134.1,585.3 L136.2,587.4 L138.7,589.2 L141.3,590.9 L144.0,592.5 L146.6,594.1 L149.1,595.8 L151.6,597.6 L154.0,599.5 L156.2,601.5 L158.3,603.7 L160.3,606.0 L162.1,608.4 L163.9,611.0 L165.6,613.5 L167.2,616.1 L168.9,618.7 L170.7,621.3 L172.5,623.7 L174.4,626.1 L176.5,628.3 L178.6,630.4 L181.0,632.3 L183.4,634.2 L185.9,635.9 L188.5,637.5 L191.2,639.2 L193.8,640.8 L196.4,642.4 L199.0,644.1 L201.4,645.9 L203.7,647.9 L205.9,650.0 L208.0,652.2 L209.9,654.5 L211.7,657.0 L213.5,659.5 L215.2,662.1 L216.9,664.7 L218.5,667.3" stroke="#342e16" stroke-width="6.8"/><path d="M128.5,578.1 L130.3,580.6 L132.1,583.0 L134.1,585.3 L136.2,587.4 L138.7,589.2 L141.3,590.9 L144.0,592.5 L146.6,594.1 L149.1,595.8 L151.6,597.6 L154.0,599.5 L156.2,601.5 L158.3,603.7 L160.3,606.0 L162.1,608.4 L163.9,611.0 L165.6,613.5 L167.2,616.1 L168.9,618.7 L170.7,621.3 L172.5,623.7 L174.4,626.1 L176.5,628.3 L178.6,630.4 L181.0,632.3 L183.4,634.2 L185.9,635.9 L188.5,637.5 L191.2,639.2 L193.8,640.8 L196.4,642.4 L199.0,644.1 L201.4,645.9 L203.7,647.9 L205.9,650.0 L208.0,652.2 L209.9,654.5 L211.7,657.0 L213.5,659.5 L215.2,662.1 L216.9,664.7 L218.5,667.3" stroke="#7c713a" stroke-width="5.2"/><path d="M129.3,577.2 L131.1,579.7 L132.9,582.2 L134.9,584.5 L137.1,586.6 L139.5,588.4 L142.1,590.0 L144.8,591.6 L147.4,593.2 L150.0,594.9 L152.5,596.7 L154.8,598.6 L157.0,600.7 L159.1,602.8 L161.1,605.2 L162.9,607.6 L164.7,610.1 L166.4,612.7 L168.1,615.3 L169.8,617.9 L171.5,620.4 L173.3,622.9 L175.2,625.2 L177.3,627.5 L179.5,629.5 L181.8,631.5 L184.2,633.3 L186.8,635.0 L189.4,636.7 L192.0,638.3 L194.7,639.9 L197.3,641.5 L199.8,643.3 L202.2,645.1 L204.6,647.0 L206.8,649.1 L208.8,651.3 L210.8,653.6 L212.6,656.1 L214.3,658.6 L216.0,661.2 L217.7,663.8 L219.4,666.4" stroke="#b8ad6e" stroke-width="1.8" opacity="0.85"/><path d="M409.9,716.5 L407.0,717.5 L404.1,718.5 L401.2,719.5 L398.3,720.6 L395.5,721.9 L392.7,723.4 L390.0,724.9 L387.3,726.4 L384.6,728.0 L381.9,729.5 L379.1,730.9" stroke="#3a3a30" stroke-width="3.4"/><path d="M409.9,716.5 L407.0,717.5 L404.1,718.5 L401.2,719.5 L398.3,720.6 L395.5,721.9 L392.7,723.4 L390.0,724.9 L387.3,726.4 L384.6,728.0 L381.9,729.5 L379.1,730.9" stroke="#9a956f" stroke-width="1.9"/><path d="M398.2,1048.4 L398.4,1045.3 L398.7,1042.3 L399.1,1039.2 L399.4,1036.2 L399.3,1033.2 L398.8,1030.2 L398.1,1027.2 L397.3,1024.3 L396.4,1021.3 L395.5,1018.4 L394.6,1015.5 L393.8,1012.5 L393.0,1009.6 L392.3,1006.6 L391.8,1003.6 L391.4,1000.6 L391.2,997.6 L391.1,994.6 L391.1,991.6 L391.3,988.6 L391.6,985.5 L391.9,982.5 L392.3,979.4 L392.7,976.4 L393.0,973.3 L393.3,970.3 L393.4,967.2 L393.5,964.2 L393.4,961.2 L393.1,958.2 L392.7,955.2 L392.1,952.2 L391.4,949.3 L390.6,946.3 L389.8,943.4 L388.9,940.4 L388.0,937.5 L387.2,934.5 L386.4,931.6" stroke="#342e16" stroke-width="6.8"/><path d="M398.2,1048.4 L398.4,1045.3 L398.7,1042.3 L399.1,1039.2 L399.4,1036.2 L399.3,1033.2 L398.8,1030.2 L398.1,1027.2 L397.3,1024.3 L396.4,1021.3 L395.5,1018.4 L394.6,1015.5 L393.8,1012.5 L393.0,1009.6 L392.3,1006.6 L391.8,1003.6 L391.4,1000.6 L391.2,997.6 L391.1,994.6 L391.1,991.6 L391.3,988.6 L391.6,985.5 L391.9,982.5 L392.3,979.4 L392.7,976.4 L393.0,973.3 L393.3,970.3 L393.4,967.2 L393.5,964.2 L393.4,961.2 L393.1,958.2 L392.7,955.2 L392.1,952.2 L391.4,949.3 L390.6,946.3 L389.8,943.4 L388.9,940.4 L388.0,937.5 L387.2,934.5 L386.4,931.6" stroke="#867a3e" stroke-width="5.2"/><path d="M397.0,1048.5 L397.2,1045.4 L397.5,1042.4 L397.9,1039.3 L398.2,1036.3 L398.1,1033.3 L397.6,1030.3 L396.9,1027.3 L396.1,1024.4 L395.2,1021.4 L394.3,1018.5 L393.4,1015.6 L392.6,1012.6 L391.8,1009.7 L391.2,1006.7 L390.6,1003.7 L390.2,1000.7 L390.0,997.7 L389.9,994.7 L389.9,991.7 L390.1,988.7 L390.4,985.6 L390.7,982.6 L391.1,979.5 L391.5,976.5 L391.8,973.4 L392.1,970.4 L392.2,967.3 L392.3,964.3 L392.2,961.3 L391.9,958.3 L391.5,955.3 L390.9,952.3 L390.2,949.4 L389.4,946.4 L388.6,943.5 L387.7,940.5 L386.8,937.6 L386.0,934.6 L385.2,931.7" stroke="#aea365" stroke-width="1.8" opacity="0.85"/><path d="M86.4,779.8 L89.4,780.5 L92.4,781.1 L95.4,781.4 L98.4,781.5 L101.5,781.1 L104.5,780.6 L107.6,780.1 L110.7,779.6 L113.7,779.3 L116.7,779.1 L119.8,779.1 L122.8,779.3 L125.8,779.7 L128.8,780.3 L131.8,781.0 L134.8,781.8 L137.8,782.6 L140.8,783.5 L143.8,784.2 L146.8,784.8 L149.8,785.3 L152.8,785.6 L155.8,785.6 L158.9,785.5 L161.9,785.2 L165.0,784.8 L168.0,784.3 L171.1,783.8 L174.1,783.2 L177.2,782.8 L180.2,782.5 L183.3,782.4 L186.3,782.4 L189.3,782.7 L192.3,783.1" stroke="#342e16" stroke-width="6.8"/><path d="M86.4,779.8 L89.4,780.5 L92.4,781.1 L95.4,781.4 L98.4,781.5 L101.5,781.1 L104.5,780.6 L107.6,780.1 L110.7,779.6 L113.7,779.3 L116.7,779.1 L119.8,779.1 L122.8,779.3 L125.8,779.7 L128.8,780.3 L131.8,781.0 L134.8,781.8 L137.8,782.6 L140.8,783.5 L143.8,784.2 L146.8,784.8 L149.8,785.3 L152.8,785.6 L155.8,785.6 L158.9,785.5 L161.9,785.2 L165.0,784.8 L168.0,784.3 L171.1,783.8 L174.1,783.2 L177.2,782.8 L180.2,782.5 L183.3,782.4 L186.3,782.4 L189.3,782.7 L192.3,783.1" stroke="#867a3e" stroke-width="5.2"/><path d="M86.5,778.6 L89.5,779.3 L92.5,779.9 L95.5,780.2 L98.5,780.3 L101.5,779.9 L104.6,779.4 L107.7,778.9 L110.7,778.4 L113.8,778.1 L116.8,777.9 L119.8,777.9 L122.9,778.1 L125.9,778.5 L128.9,779.1 L131.9,779.8 L134.9,780.6 L137.8,781.4 L140.8,782.3 L143.8,783.0 L146.8,783.6 L149.8,784.1 L152.9,784.4 L155.9,784.4 L158.9,784.3 L162.0,784.0 L165.0,783.6 L168.1,783.1 L171.1,782.6 L174.2,782.0 L177.2,781.6 L180.3,781.3 L183.3,781.2 L186.3,781.2 L189.4,781.5 L192.4,781.9" stroke="#aea365" stroke-width="1.8" opacity="0.85"/><path d="M288.8,1081.6 L290.0,1078.7 L291.1,1075.8 L292.0,1072.9 L292.7,1069.9 L292.9,1066.8 L292.8,1063.7 L292.7,1060.5 L292.6,1057.4 L292.5,1054.3 L292.6,1051.2 L292.9,1048.1 L293.3,1045.1 L293.9,1042.1 L294.7,1039.1 L295.7,1036.2 L296.8,1033.3 L298.1,1030.4 L299.4,1027.6 L300.7,1024.7 L301.9,1021.8 L303.1,1019.0 L304.1,1016.0 L305.0,1013.1 L305.6,1010.1 L306.1,1007.1 L306.4,1004.0 L306.5,1000.9 L306.5,997.8 L306.4,994.7 L306.3,991.5 L306.1,988.4 L306.1,985.3 L306.2,982.2 L306.4,979.1 L306.8,976.1 L307.4,973.1 L308.3,970.1 L309.2,967.2 L310.4,964.3 L311.6,961.4 L312.9,958.6 L314.2,955.7" stroke="#342e16" stroke-width="6.8"/><path d="M288.8,1081.6 L290.0,1078.7 L291.1,1075.8 L292.0,1072.9 L292.7,1069.9 L292.9,1066.8 L292.8,1063.7 L292.7,1060.5 L292.6,1057.4 L292.5,1054.3 L292.6,1051.2 L292.9,1048.1 L293.3,1045.1 L293.9,1042.1 L294.7,1039.1 L295.7,1036.2 L296.8,1033.3 L298.1,1030.4 L299.4,1027.6 L300.7,1024.7 L301.9,1021.8 L303.1,1019.0 L304.1,1016.0 L305.0,1013.1 L305.6,1010.1 L306.1,1007.1 L306.4,1004.0 L306.5,1000.9 L306.5,997.8 L306.4,994.7 L306.3,991.5 L306.1,988.4 L306.1,985.3 L306.2,982.2 L306.4,979.1 L306.8,976.1 L307.4,973.1 L308.3,970.1 L309.2,967.2 L310.4,964.3 L311.6,961.4 L312.9,958.6 L314.2,955.7" stroke="#82773d" stroke-width="5.2"/><path d="M287.7,1081.4 L288.8,1078.5 L289.9,1075.6 L290.9,1072.6 L291.5,1069.7 L291.7,1066.6 L291.6,1063.4 L291.5,1060.3 L291.4,1057.2 L291.3,1054.0 L291.4,1050.9 L291.7,1047.9 L292.1,1044.8 L292.7,1041.9 L293.5,1038.9 L294.5,1036.0 L295.6,1033.1 L296.9,1030.2 L298.2,1027.3 L299.5,1024.5 L300.7,1021.6 L301.9,1018.7 L302.9,1015.8 L303.8,1012.9 L304.4,1009.9 L304.9,1006.9 L305.2,1003.8 L305.3,1000.7 L305.3,997.6 L305.2,994.4 L305.1,991.3 L305.0,988.2 L304.9,985.0 L305.0,981.9 L305.2,978.9 L305.7,975.8 L306.3,972.8 L307.1,969.9 L308.1,967.0 L309.2,964.1 L310.4,961.2 L311.7,958.3 L313.0,955.5" stroke="#aea365" stroke-width="1.8" opacity="0.85"/><ellipse cx="187.1" cy="635.1" rx="6.2" ry="3.0" transform="rotate(44 187.1 635.1)" fill="#f4f4f0" stroke="none"/><path d="M149.2,558.8 L150.9,561.4 L152.5,563.9 L154.2,566.5 L156.0,568.9 L158.1,571.1 L160.5,573.0 L162.9,574.9 L165.4,576.8 L167.8,578.6 L170.2,580.5 L172.5,582.5 L174.7,584.6 L176.8,586.8 L178.7,589.1 L180.6,591.5 L182.3,594.1 L183.9,596.6 L185.5,599.3 L187.0,602.0 L188.6,604.6 L190.2,607.2 L191.9,609.7 L193.7,612.2 L195.6,614.5 L197.7,616.7 L199.9,618.8 L202.2,620.8 L204.5,622.7 L207.0,624.6 L209.4,626.5 L211.9,628.3 L214.2,630.3 L216.5,632.3 L218.7,634.4 L220.8,636.6 L222.7,638.9 L224.6,641.3 L226.3,643.8 L227.9,646.4 L229.4,649.1 L231.0,651.7 L232.5,654.4" stroke="#342e16" stroke-width="6.8"/><path d="M149.2,558.8 L150.9,561.4 L152.5,563.9 L154.2,566.5 L156.0,568.9 L158.1,571.1 L160.5,573.0 L162.9,574.9 L165.4,576.8 L167.8,578.6 L170.2,580.5 L172.5,582.5 L174.7,584.6 L176.8,586.8 L178.7,589.1 L180.6,591.5 L182.3,594.1 L183.9,596.6 L185.5,599.3 L187.0,602.0 L188.6,604.6 L190.2,607.2 L191.9,609.7 L193.7,612.2 L195.6,614.5 L197.7,616.7 L199.9,618.8 L202.2,620.8 L204.5,622.7 L207.0,624.6 L209.4,626.5 L211.9,628.3 L214.2,630.3 L216.5,632.3 L218.7,634.4 L220.8,636.6 L222.7,638.9 L224.6,641.3 L226.3,643.8 L227.9,646.4 L229.4,649.1 L231.0,651.7 L232.5,654.4" stroke="#7c713a" stroke-width="5.2"/><path d="M150.1,558.0 L151.8,560.6 L153.4,563.2 L155.1,565.7 L156.9,568.1 L159.0,570.3 L161.4,572.2 L163.8,574.1 L166.3,576.0 L168.7,577.8 L171.1,579.8 L173.4,581.7 L175.6,583.8 L177.7,586.0 L179.6,588.3 L181.5,590.7 L183.2,593.3 L184.8,595.9 L186.4,598.5 L187.9,601.2 L189.5,603.8 L191.1,606.4 L192.8,608.9 L194.6,611.4 L196.5,613.7 L198.6,615.9 L200.8,618.0 L203.1,620.0 L205.4,621.9 L207.9,623.8 L210.3,625.7 L212.8,627.5 L215.1,629.5 L217.4,631.5 L219.6,633.6 L221.7,635.8 L223.6,638.1 L225.4,640.5 L227.2,643.0 L228.8,645.6 L230.3,648.3 L231.9,650.9 L233.4,653.6" stroke="#aea365" stroke-width="1.8" opacity="0.85"/><ellipse cx="185.4" cy="860.7" rx="5.2" ry="2.8" transform="rotate(-26 185.4 860.7)" fill="#1c2d66" stroke="none"/><path d="M95.8,639.5 L98.1,641.5 L100.4,643.6 L102.6,645.9 L104.8,648.0 L107.2,649.9 L109.9,651.3 L112.7,652.5 L115.6,653.6 L118.5,654.7 L121.5,655.7 L124.4,656.7 L127.3,657.8 L130.2,659.0 L133.0,660.2 L135.7,661.6 L138.3,663.2 L140.8,664.9 L143.2,666.8 L145.5,668.8 L147.8,670.9 L150.0,673.1 L152.2,675.4 L154.3,677.6 L156.6,679.8 L158.8,681.8 L161.2,683.8 L163.6,685.6 L166.2,687.3 L168.8,688.8 L171.6,690.1 L174.4,691.4 L177.3,692.5 L180.2,693.5 L183.2,694.5 L186.1,695.6 L189.0,696.7 L191.9,697.8 L194.6,699.1 L197.3,700.6 L199.9,702.2" stroke="#342e16" stroke-width="6.8"/><path d="M95.8,639.5 L98.1,641.5 L100.4,643.6 L102.6,645.9 L104.8,648.0 L107.2,649.9 L109.9,651.3 L112.7,652.5 L115.6,653.6 L118.5,654.7 L121.5,655.7 L124.4,656.7 L127.3,657.8 L130.2,659.0 L133.0,660.2 L135.7,661.6 L138.3,663.2 L140.8,664.9 L143.2,666.8 L145.5,668.8 L147.8,670.9 L150.0,673.1 L152.2,675.4 L154.3,677.6 L156.6,679.8 L158.8,681.8 L161.2,683.8 L163.6,685.6 L166.2,687.3 L168.8,688.8 L171.6,690.1 L174.4,691.4 L177.3,692.5 L180.2,693.5 L183.2,694.5 L186.1,695.6 L189.0,696.7 L191.9,697.8 L194.6,699.1 L197.3,700.6 L199.9,702.2" stroke="#7c713a" stroke-width="5.2"/><path d="M96.4,638.5 L98.8,640.5 L101.0,642.6 L103.2,644.8 L105.4,647.0 L107.8,648.9 L110.6,650.2 L113.4,651.5 L116.2,652.6 L119.2,653.7 L122.1,654.7 L125.1,655.7 L128.0,656.8 L130.8,657.9 L133.6,659.2 L136.3,660.6 L138.9,662.2 L141.4,663.9 L143.8,665.8 L146.2,667.8 L148.4,669.9 L150.6,672.1 L152.8,674.4 L155.0,676.6 L157.2,678.7 L159.5,680.8 L161.8,682.8 L164.3,684.6 L166.8,686.3 L169.5,687.8 L172.2,689.1 L175.0,690.3 L177.9,691.5 L180.8,692.5 L183.8,693.5 L186.7,694.6 L189.6,695.6 L192.5,696.8 L195.3,698.1 L197.9,699.6 L200.5,701.2" stroke="#b8ad6e" stroke-width="1.8" opacity="0.85"/><ellipse cx="273.2" cy="956.5" rx="3.7" ry="2.5" transform="rotate(-69 273.2 956.5)" fill="#1c2d66" stroke="none"/><path d="M98.2,632.2 L100.5,634.3 L102.9,636.3 L105.2,638.2 L107.8,640.0 L110.4,641.5 L113.3,642.7 L116.1,644.0 L118.9,645.3 L121.7,646.6 L124.5,648.0 L127.2,649.4 L129.8,651.0 L132.4,652.6 L134.9,654.3 L137.4,656.2 L139.7,658.2 L142.0,660.2 L144.3,662.3 L146.6,664.4 L148.8,666.5 L151.1,668.6 L153.4,670.7 L155.8,672.6 L158.2,674.5 L160.7,676.3 L163.2,678.0 L165.9,679.6 L168.6,681.0 L171.3,682.4 L174.1,683.7 L176.9,685.0 L179.8,686.3 L182.6,687.6 L185.4,688.9 L188.1,690.3 L190.8,691.8 L193.4,693.3 L196.0,695.0 L198.5,696.8 L200.9,698.7" stroke="#342e16" stroke-width="6.8"/><path d="M98.2,632.2 L100.5,634.3 L102.9,636.3 L105.2,638.2 L107.8,640.0 L110.4,641.5 L113.3,642.7 L116.1,644.0 L118.9,645.3 L121.7,646.6 L124.5,648.0 L127.2,649.4 L129.8,651.0 L132.4,652.6 L134.9,654.3 L137.4,656.2 L139.7,658.2 L142.0,660.2 L144.3,662.3 L146.6,664.4 L148.8,666.5 L151.1,668.6 L153.4,670.7 L155.8,672.6 L158.2,674.5 L160.7,676.3 L163.2,678.0 L165.9,679.6 L168.6,681.0 L171.3,682.4 L174.1,683.7 L176.9,685.0 L179.8,686.3 L182.6,687.6 L185.4,688.9 L188.1,690.3 L190.8,691.8 L193.4,693.3 L196.0,695.0 L198.5,696.8 L200.9,698.7" stroke="#82773d" stroke-width="5.2"/><path d="M98.9,631.2 L101.2,633.3 L103.5,635.3 L105.9,637.2 L108.4,639.0 L111.1,640.5 L113.9,641.7 L116.7,643.0 L119.6,644.3 L122.4,645.6 L125.1,647.0 L127.8,648.4 L130.5,650.0 L133.1,651.6 L135.6,653.4 L138.0,655.2 L140.4,657.2 L142.7,659.2 L145.0,661.3 L147.3,663.4 L149.5,665.5 L151.8,667.6 L154.1,669.7 L156.5,671.6 L158.9,673.5 L161.4,675.3 L163.9,677.0 L166.5,678.6 L169.2,680.0 L172.0,681.4 L174.8,682.7 L177.6,684.0 L180.4,685.3 L183.2,686.6 L186.0,687.9 L188.8,689.3 L191.5,690.8 L194.1,692.3 L196.7,694.0 L199.1,695.8 L201.5,697.7" stroke="#b8ad6e" stroke-width="1.8" opacity="0.85"/><path d="M249.8,1065.4 L251.2,1062.6 L252.5,1059.8 L253.8,1057.0 L254.8,1054.1 L255.4,1051.1 L255.8,1048.0 L256.2,1044.9 L256.5,1041.8 L257.0,1038.8 L257.6,1035.7 L258.3,1032.7 L259.2,1029.8 L260.2,1026.9 L261.4,1024.1 L262.8,1021.3 L264.3,1018.6 L265.8,1015.9 L267.3,1013.1 L268.8,1010.4 L270.2,1007.6 L271.4,1004.8 L272.5,1001.9 L273.4,999.0 L274.2,996.0 L274.8,993.0 L275.2,989.9 L275.6,986.9 L276.0,983.8 L276.4,980.7 L276.8,977.6 L277.4,974.5 L278.1,971.6 L279.0,968.6 L280.0,965.7 L281.2,962.9 L282.6,960.1 L284.0,957.4 L285.5,954.7 L287.1,951.9 L288.5,949.2 L289.9,946.4" stroke="#342e16" stroke-width="6.8"/><path d="M249.8,1065.4 L251.2,1062.6 L252.5,1059.8 L253.8,1057.0 L254.8,1054.1 L255.4,1051.1 L255.8,1048.0 L256.2,1044.9 L256.5,1041.8 L257.0,1038.8 L257.6,1035.7 L258.3,1032.7 L259.2,1029.8 L260.2,1026.9 L261.4,1024.1 L262.8,1021.3 L264.3,1018.6 L265.8,1015.9 L267.3,1013.1 L268.8,1010.4 L270.2,1007.6 L271.4,1004.8 L272.5,1001.9 L273.4,999.0 L274.2,996.0 L274.8,993.0 L275.2,989.9 L275.6,986.9 L276.0,983.8 L276.4,980.7 L276.8,977.6 L277.4,974.5 L278.1,971.6 L279.0,968.6 L280.0,965.7 L281.2,962.9 L282.6,960.1 L284.0,957.4 L285.5,954.7 L287.1,951.9 L288.5,949.2 L289.9,946.4" stroke="#7c713a" stroke-width="5.2"/><path d="M248.7,1065.0 L250.0,1062.3 L251.4,1059.5 L252.6,1056.7 L253.6,1053.8 L254.3,1050.7 L254.7,1047.7 L255.0,1044.5 L255.4,1041.5 L255.8,1038.4 L256.4,1035.3 L257.1,1032.4 L258.0,1029.4 L259.1,1026.6 L260.3,1023.7 L261.7,1021.0 L263.1,1018.2 L264.6,1015.5 L266.2,1012.8 L267.6,1010.0 L269.0,1007.2 L270.3,1004.4 L271.4,1001.6 L272.3,998.6 L273.0,995.7 L273.6,992.6 L274.1,989.6 L274.5,986.5 L274.9,983.4 L275.2,980.3 L275.7,977.2 L276.2,974.2 L276.9,971.2 L277.8,968.2 L278.9,965.4 L280.1,962.5 L281.4,959.8 L282.9,957.0 L284.4,954.3 L285.9,951.6 L287.4,948.8 L288.8,946.1" stroke="#c2b77a" stroke-width="1.8" opacity="0.85"/><path d="M356.6,626.9 L354.0,628.6 L351.3,630.2 L348.8,631.9 L346.3,633.8 L344.0,635.8 L341.8,638.1 L339.6,640.3 L337.5,642.6 L335.3,644.8 L333.0,646.9 L330.7,649.0" stroke="#3a3a30" stroke-width="3.4"/><path d="M356.6,626.9 L354.0,628.6 L351.3,630.2 L348.8,631.9 L346.3,633.8 L344.0,635.8 L341.8,638.1 L339.6,640.3 L337.5,642.6 L335.3,644.8 L333.0,646.9 L330.7,649.0" stroke="#a7a384" stroke-width="1.9"/><path d="M430.5,992.1 L430.3,989.0 L430.0,985.9 L429.7,982.9 L429.1,979.8 L428.2,976.9 L427.0,974.0 L425.7,971.1 L424.5,968.3 L423.2,965.4 L422.1,962.5 L421.0,959.6 L420.1,956.7 L419.4,953.7 L418.8,950.6 L418.4,947.6 L418.1,944.5 L417.9,941.4 L417.8,938.2 L417.6,935.1 L417.5,932.0 L417.2,928.9 L416.8,925.8 L416.3,922.8 L415.6,919.8 L414.8,916.8 L413.8,913.9 L412.7,911.0 L411.5,908.1 L410.2,905.3 L408.9,902.4 L407.7,899.5 L406.6,896.6" stroke="#342e16" stroke-width="6.8"/><path d="M430.5,992.1 L430.3,989.0 L430.0,985.9 L429.7,982.9 L429.1,979.8 L428.2,976.9 L427.0,974.0 L425.7,971.1 L424.5,968.3 L423.2,965.4 L422.1,962.5 L421.0,959.6 L420.1,956.7 L419.4,953.7 L418.8,950.6 L418.4,947.6 L418.1,944.5 L417.9,941.4 L417.8,938.2 L417.6,935.1 L417.5,932.0 L417.2,928.9 L416.8,925.8 L416.3,922.8 L415.6,919.8 L414.8,916.8 L413.8,913.9 L412.7,911.0 L411.5,908.1 L410.2,905.3 L408.9,902.4 L407.7,899.5 L406.6,896.6" stroke="#908444" stroke-width="5.2"/><path d="M429.4,992.4 L429.1,989.3 L428.8,986.2 L428.5,983.1 L427.9,980.1 L427.0,977.2 L425.8,974.3 L424.6,971.4 L423.3,968.6 L422.1,965.7 L420.9,962.8 L419.9,959.9 L419.0,956.9 L418.2,953.9 L417.7,950.9 L417.2,947.9 L416.9,944.8 L416.8,941.6 L416.6,938.5 L416.5,935.4 L416.3,932.3 L416.0,929.2 L415.7,926.1 L415.1,923.1 L414.5,920.1 L413.6,917.1 L412.6,914.2 L411.5,911.3 L410.3,908.4 L409.0,905.5 L407.8,902.7 L406.5,899.8 L405.4,896.9" stroke="#b8ad6e" stroke-width="1.8" opacity="0.85"/><ellipse cx="229.0" cy="620.6" rx="5.6" ry="3.0" transform="rotate(52 229.0 620.6)" fill="#1c2d66" stroke="none"/><path d="M295.3,568.7 L295.8,571.8 L296.2,574.9 L296.7,578.0 L297.4,581.1 L298.6,583.9 L300.3,586.6 L302.1,589.2 L304.0,591.8 L305.9,594.4 L307.7,597.0 L309.4,599.6 L310.9,602.3 L312.3,605.1 L313.4,608.0 L314.3,611.0 L315.0,614.0 L315.5,617.1 L315.9,620.3 L316.2,623.5 L316.5,626.6 L316.9,629.8 L317.3,632.9 L317.9,636.0 L318.7,639.0 L319.7,641.9 L321.0,644.8 L322.4,647.5 L324.0,650.2 L325.8,652.8 L327.7,655.4 L329.6,658.0" stroke="#342e16" stroke-width="6.8"/><path d="M295.3,568.7 L295.8,571.8 L296.2,574.9 L296.7,578.0 L297.4,581.1 L298.6,583.9 L300.3,586.6 L302.1,589.2 L304.0,591.8 L305.9,594.4 L307.7,597.0 L309.4,599.6 L310.9,602.3 L312.3,605.1 L313.4,608.0 L314.3,611.0 L315.0,614.0 L315.5,617.1 L315.9,620.3 L316.2,623.5 L316.5,626.6 L316.9,629.8 L317.3,632.9 L317.9,636.0 L318.7,639.0 L319.7,641.9 L321.0,644.8 L322.4,647.5 L324.0,650.2 L325.8,652.8 L327.7,655.4 L329.6,658.0" stroke="#908444" stroke-width="5.2"/><path d="M296.4,568.2 L296.9,571.3 L297.3,574.5 L297.8,577.6 L298.5,580.6 L299.7,583.5 L301.4,586.1 L303.2,588.7 L305.1,591.3 L307.0,593.9 L308.8,596.5 L310.5,599.2 L312.1,601.9 L313.4,604.7 L314.5,607.6 L315.4,610.6 L316.1,613.6 L316.6,616.7 L317.0,619.8 L317.3,623.0 L317.6,626.2 L318.0,629.4 L318.4,632.5 L319.0,635.6 L319.8,638.6 L320.9,641.5 L322.1,644.3 L323.5,647.1 L325.2,649.8 L326.9,652.4 L328.8,655.0 L330.7,657.6" stroke="#aea365" stroke-width="1.8" opacity="0.85"/><path d="M387.7,1058.8 L388.0,1055.8 L388.3,1052.7 L388.4,1049.7 L388.3,1046.7 L387.8,1043.7 L387.1,1040.7 L386.4,1037.8 L385.7,1034.8 L385.0,1031.8 L384.5,1028.8 L384.0,1025.8 L383.7,1022.8 L383.6,1019.8 L383.6,1016.8 L383.8,1013.7 L384.1,1010.7 L384.4,1007.7 L384.8,1004.6 L385.2,1001.6 L385.6,998.6 L385.9,995.5 L386.1,992.5 L386.1,989.5 L386.0,986.5 L385.7,983.5 L385.3,980.5 L384.7,977.5 L384.0,974.5 L383.3,971.5 L382.6,968.5 L381.9,965.6 L381.3,962.6 L380.7,959.6 L380.3,956.6 L380.1,953.6 L380.0,950.6 L380.0,947.5 L380.2,944.5 L380.5,941.5 L380.9,938.4" stroke="#342e16" stroke-width="6.8"/><path d="M387.7,1058.8 L388.0,1055.8 L388.3,1052.7 L388.4,1049.7 L388.3,1046.7 L387.8,1043.7 L387.1,1040.7 L386.4,1037.8 L385.7,1034.8 L385.0,1031.8 L384.5,1028.8 L384.0,1025.8 L383.7,1022.8 L383.6,1019.8 L383.6,1016.8 L383.8,1013.7 L384.1,1010.7 L384.4,1007.7 L384.8,1004.6 L385.2,1001.6 L385.6,998.6 L385.9,995.5 L386.1,992.5 L386.1,989.5 L386.0,986.5 L385.7,983.5 L385.3,980.5 L384.7,977.5 L384.0,974.5 L383.3,971.5 L382.6,968.5 L381.9,965.6 L381.3,962.6 L380.7,959.6 L380.3,956.6 L380.1,953.6 L380.0,950.6 L380.0,947.5 L380.2,944.5 L380.5,941.5 L380.9,938.4" stroke="#908444" stroke-width="5.2"/><path d="M386.5,1058.9 L386.8,1055.8 L387.1,1052.8 L387.2,1049.8 L387.1,1046.8 L386.6,1043.8 L385.9,1040.8 L385.2,1037.8 L384.5,1034.8 L383.8,1031.9 L383.3,1028.9 L382.8,1025.9 L382.5,1022.9 L382.4,1019.9 L382.4,1016.8 L382.6,1013.8 L382.9,1010.8 L383.2,1007.7 L383.6,1004.7 L384.0,1001.7 L384.4,998.6 L384.7,995.6 L384.9,992.6 L384.9,989.5 L384.8,986.5 L384.5,983.5 L384.1,980.5 L383.5,977.5 L382.8,974.6 L382.1,971.6 L381.4,968.6 L380.7,965.6 L380.1,962.6 L379.5,959.6 L379.1,956.6 L378.9,953.6 L378.8,950.6 L378.8,947.6 L379.0,944.6 L379.3,941.5 L379.7,938.5" stroke="#b8ad6e" stroke-width="1.8" opacity="0.85"/><path d="M379.7,659.4 L376.9,660.8 L374.1,662.1 L371.3,663.5 L368.6,665.0 L366.1,666.8 L363.7,668.9 L361.4,670.9 L359.0,673.0 L356.6,675.0 L354.2,677.0 L351.7,678.8" stroke="#3a3a30" stroke-width="3.4"/><path d="M379.7,659.4 L376.9,660.8 L374.1,662.1 L371.3,663.5 L368.6,665.0 L366.1,666.8 L363.7,668.9 L361.4,670.9 L359.0,673.0 L356.6,675.0 L354.2,677.0 L351.7,678.8" stroke="#a7a384" stroke-width="1.9"/><path d="M338.3,605.7 L338.4,608.8 L338.6,611.8 L339.0,614.8 L339.7,617.8 L340.8,620.6 L342.1,623.4 L343.4,626.3 L344.6,629.1 L345.8,631.9 L346.8,634.8 L347.6,637.7 L348.2,640.7 L348.7,643.7 L348.9,646.7 L349.1,649.8 L349.1,652.8 L349.1,655.9 L349.1,659.0 L349.1,662.1 L349.3,665.2 L349.6,668.2 L350.1,671.2 L350.8,674.1 L351.7,677.0 L352.8,679.9" stroke="#342e16" stroke-width="6.8"/><path d="M338.3,605.7 L338.4,608.8 L338.6,611.8 L339.0,614.8 L339.7,617.8 L340.8,620.6 L342.1,623.4 L343.4,626.3 L344.6,629.1 L345.8,631.9 L346.8,634.8 L347.6,637.7 L348.2,640.7 L348.7,643.7 L348.9,646.7 L349.1,649.8 L349.1,652.8 L349.1,655.9 L349.1,659.0 L349.1,662.1 L349.3,665.2 L349.6,668.2 L350.1,671.2 L350.8,674.1 L351.7,677.0 L352.8,679.9" stroke="#867a3e" stroke-width="5.2"/><path d="M339.4,605.5 L339.6,608.5 L339.8,611.6 L340.2,614.6 L340.9,617.5 L342.0,620.4 L343.3,623.2 L344.6,626.0 L345.8,628.8 L346.9,631.7 L347.9,634.5 L348.8,637.5 L349.4,640.4 L349.8,643.4 L350.1,646.4 L350.2,649.5 L350.3,652.6 L350.2,655.7 L350.2,658.8 L350.3,661.9 L350.5,664.9 L350.8,667.9 L351.3,670.9 L352.0,673.9 L352.9,676.8 L354.0,679.6" stroke="#aea365" stroke-width="1.8" opacity="0.85"/><path d="M446.7,904.2 L443.6,903.7 L440.5,903.2 L437.5,902.8 L434.4,902.4 L431.3,902.4 L428.2,902.7 L425.1,903.1 L422.0,903.5 L418.9,903.9 L415.8,904.2 L412.7,904.5" stroke="#3a3a30" stroke-width="3.4"/><path d="M446.7,904.2 L443.6,903.7 L440.5,903.2 L437.5,902.8 L434.4,902.4 L431.3,902.4 L428.2,902.7 L425.1,903.1 L422.0,903.5 L418.9,903.9 L415.8,904.2 L412.7,904.5" stroke="#a7a384" stroke-width="1.9"/><path d="M301.7,573.2 L302.3,576.2 L302.9,579.1 L303.6,582.1 L304.4,585.0 L305.6,587.7 L307.1,590.4 L308.6,593.0 L310.1,595.7 L311.6,598.4 L313.0,601.0 L314.4,603.7 L315.6,606.5 L316.8,609.2 L317.8,612.1 L318.7,614.9 L319.5,617.8 L320.2,620.8 L320.8,623.7 L321.4,626.7 L321.9,629.7 L322.4,632.7 L322.9,635.7 L323.5,638.7 L324.2,641.6 L325.0,644.6 L325.9,647.4 L326.9,650.2 L328.1,653.0 L329.3,655.8 L330.7,658.5 L332.1,661.1" stroke="#342e16" stroke-width="6.8"/><path d="M301.7,573.2 L302.3,576.2 L302.9,579.1 L303.6,582.1 L304.4,585.0 L305.6,587.7 L307.1,590.4 L308.6,593.0 L310.1,595.7 L311.6,598.4 L313.0,601.0 L314.4,603.7 L315.6,606.5 L316.8,609.2 L317.8,612.1 L318.7,614.9 L319.5,617.8 L320.2,620.8 L320.8,623.7 L321.4,626.7 L321.9,629.7 L322.4,632.7 L322.9,635.7 L323.5,638.7 L324.2,641.6 L325.0,644.6 L325.9,647.4 L326.9,650.2 L328.1,653.0 L329.3,655.8 L330.7,658.5 L332.1,661.1" stroke="#948848" stroke-width="5.2"/><path d="M302.8,572.8 L303.4,575.8 L304.0,578.7 L304.7,581.7 L305.6,584.6 L306.7,587.3 L308.2,590.0 L309.7,592.6 L311.2,595.3 L312.7,597.9 L314.1,600.6 L315.5,603.3 L316.8,606.1 L317.9,608.8 L319.0,611.6 L319.9,614.5 L320.7,617.4 L321.3,620.4 L321.9,623.3 L322.5,626.3 L323.0,629.3 L323.5,632.3 L324.1,635.3 L324.7,638.3 L325.3,641.2 L326.1,644.2 L327.0,647.0 L328.1,649.8 L329.2,652.6 L330.5,655.4 L331.8,658.1 L333.3,660.7" stroke="#b8ad6e" stroke-width="1.8" opacity="0.85"/><path d="M340.9,1083.1 L341.5,1080.1 L342.3,1077.1 L343.1,1074.1 L343.8,1071.2 L344.3,1068.1 L344.2,1065.1 L344.1,1062.0 L343.8,1059.0 L343.5,1055.9 L343.1,1052.8 L342.7,1049.7 L342.3,1046.7 L342.0,1043.6 L341.8,1040.5 L341.6,1037.5 L341.6,1034.4 L341.8,1031.4 L342.0,1028.4 L342.4,1025.4 L343.0,1022.3 L343.6,1019.3 L344.3,1016.3 L345.1,1013.3 L345.9,1010.3 L346.7,1007.3 L347.4,1004.3 L348.1,1001.3 L348.6,998.3 L349.0,995.3 L349.3,992.3 L349.5,989.2 L349.5,986.2 L349.3,983.1 L349.1,980.1 L348.8,977.0 L348.4,973.9 L348.0,970.9 L347.6,967.8 L347.3,964.7 L347.0,961.7 L346.8,958.6 L346.8,955.5" stroke="#342e16" stroke-width="6.8"/><path d="M340.9,1083.1 L341.5,1080.1 L342.3,1077.1 L343.1,1074.1 L343.8,1071.2 L344.3,1068.1 L344.2,1065.1 L344.1,1062.0 L343.8,1059.0 L343.5,1055.9 L343.1,1052.8 L342.7,1049.7 L342.3,1046.7 L342.0,1043.6 L341.8,1040.5 L341.6,1037.5 L341.6,1034.4 L341.8,1031.4 L342.0,1028.4 L342.4,1025.4 L343.0,1022.3 L343.6,1019.3 L344.3,1016.3 L345.1,1013.3 L345.9,1010.3 L346.7,1007.3 L347.4,1004.3 L348.1,1001.3 L348.6,998.3 L349.0,995.3 L349.3,992.3 L349.5,989.2 L349.5,986.2 L349.3,983.1 L349.1,980.1 L348.8,977.0 L348.4,973.9 L348.0,970.9 L347.6,967.8 L347.3,964.7 L347.0,961.7 L346.8,958.6 L346.8,955.5" stroke="#908444" stroke-width="5.2"/><path d="M339.7,1083.1 L340.3,1080.1 L341.1,1077.1 L341.9,1074.1 L342.6,1071.1 L343.1,1068.1 L343.0,1065.0 L342.9,1061.9 L342.6,1058.9 L342.3,1055.8 L341.9,1052.7 L341.5,1049.7 L341.1,1046.6 L340.8,1043.5 L340.6,1040.5 L340.4,1037.4 L340.4,1034.4 L340.6,1031.3 L340.8,1028.3 L341.2,1025.3 L341.8,1022.3 L342.4,1019.3 L343.1,1016.3 L343.9,1013.3 L344.7,1010.3 L345.5,1007.3 L346.2,1004.3 L346.9,1001.3 L347.4,998.2 L347.8,995.2 L348.1,992.2 L348.3,989.2 L348.3,986.1 L348.1,983.1 L347.9,980.0 L347.6,976.9 L347.2,973.9 L346.8,970.8 L346.4,967.7 L346.1,964.6 L345.8,961.6 L345.6,958.5 L345.6,955.5" stroke="#b8ad6e" stroke-width="1.8" opacity="0.85"/><ellipse cx="269.2" cy="984.9" rx="5.1" ry="1.8" transform="rotate(-71 269.2 984.9)" fill="#f4f4f0" stroke="none"/><ellipse cx="151.8" cy="750.1" rx="6.1" ry="1.7" transform="rotate(13 151.8 750.1)" fill="#1c2d66" stroke="none"/><path d="M438.2,966.7 L437.9,963.6 L437.5,960.5 L436.9,957.5 L436.0,954.5 L434.7,951.7 L433.2,948.9 L431.6,946.2 L430.0,943.5 L428.5,940.7 L427.2,937.9 L426.1,935.0 L425.1,932.1 L424.4,929.1 L423.9,926.0 L423.5,922.9 L423.3,919.8 L423.1,916.6 L422.9,913.4 L422.7,910.3 L422.3,907.2 L421.8,904.1 L421.0,901.1 L420.1,898.2 L418.9,895.3 L417.6,892.5 L416.1,889.8 L414.6,887.0 L413.0,884.3 L411.4,881.5" stroke="#342e16" stroke-width="6.8"/><path d="M438.2,966.7 L437.9,963.6 L437.5,960.5 L436.9,957.5 L436.0,954.5 L434.7,951.7 L433.2,948.9 L431.6,946.2 L430.0,943.5 L428.5,940.7 L427.2,937.9 L426.1,935.0 L425.1,932.1 L424.4,929.1 L423.9,926.0 L423.5,922.9 L423.3,919.8 L423.1,916.6 L422.9,913.4 L422.7,910.3 L422.3,907.2 L421.8,904.1 L421.0,901.1 L420.1,898.2 L418.9,895.3 L417.6,892.5 L416.1,889.8 L414.6,887.0 L413.0,884.3 L411.4,881.5" stroke="#948848" stroke-width="5.2"/><path d="M437.1,967.1 L436.7,963.9 L436.3,960.9 L435.7,957.8 L434.9,954.8 L433.6,952.0 L432.0,949.3 L430.4,946.6 L428.8,943.8 L427.4,941.0 L426.1,938.2 L424.9,935.4 L424.0,932.4 L423.3,929.4 L422.7,926.4 L422.4,923.3 L422.1,920.1 L422.0,916.9 L421.8,913.8 L421.5,910.6 L421.1,907.5 L420.6,904.5 L419.9,901.5 L418.9,898.6 L417.8,895.7 L416.5,892.9 L415.0,890.1 L413.4,887.4 L411.8,884.6 L410.2,881.9" stroke="#aea365" stroke-width="1.8" opacity="0.85"/><path d="M87.3,786.1 L90.2,786.9 L93.2,787.6 L96.2,788.3 L99.2,788.8 L102.3,788.8 L105.3,788.2 L108.3,787.6 L111.3,786.8 L114.4,786.1 L117.4,785.4 L120.4,784.8 L123.5,784.4 L126.5,784.1 L129.5,784.0 L132.5,784.2 L135.5,784.5 L138.5,785.0 L141.5,785.7 L144.5,786.5 L147.5,787.4 L150.5,788.3 L153.5,789.1 L156.5,789.9 L159.5,790.5 L162.5,790.9 L165.5,791.2 L168.5,791.2 L171.5,791.0 L174.6,790.6 L177.6,790.1 L180.6,789.4 L183.6,788.7 L186.7,788.0 L189.7,787.3 L192.7,786.7" stroke="#342e16" stroke-width="6.8"/><path d="M87.3,786.1 L90.2,786.9 L93.2,787.6 L96.2,788.3 L99.2,788.8 L102.3,788.8 L105.3,788.2 L108.3,787.6 L111.3,786.8 L114.4,786.1 L117.4,785.4 L120.4,784.8 L123.5,784.4 L126.5,784.1 L129.5,784.0 L132.5,784.2 L135.5,784.5 L138.5,785.0 L141.5,785.7 L144.5,786.5 L147.5,787.4 L150.5,788.3 L153.5,789.1 L156.5,789.9 L159.5,790.5 L162.5,790.9 L165.5,791.2 L168.5,791.2 L171.5,791.0 L174.6,790.6 L177.6,790.1 L180.6,789.4 L183.6,788.7 L186.7,788.0 L189.7,787.3 L192.7,786.7" stroke="#867a3e" stroke-width="5.2"/><path d="M87.3,784.9 L90.3,785.7 L93.3,786.4 L96.3,787.1 L99.3,787.6 L102.3,787.6 L105.3,787.0 L108.3,786.4 L111.4,785.6 L114.4,784.9 L117.4,784.2 L120.5,783.6 L123.5,783.2 L126.5,782.9 L129.5,782.8 L132.5,783.0 L135.5,783.3 L138.5,783.8 L141.5,784.5 L144.5,785.3 L147.5,786.2 L150.5,787.1 L153.5,787.9 L156.5,788.7 L159.5,789.3 L162.5,789.7 L165.5,790.0 L168.5,790.0 L171.6,789.8 L174.6,789.4 L177.6,788.9 L180.6,788.2 L183.7,787.5 L186.7,786.8 L189.7,786.1 L192.8,785.5" stroke="#b8ad6e" stroke-width="1.8" opacity="0.85"/><path d="M341.7,609.4 L342.0,612.5 L342.1,615.6 L342.2,618.7 L342.4,621.8 L342.8,624.8 L343.7,627.8 L344.6,630.7 L345.7,633.6 L346.8,636.6 L347.9,639.5 L349.0,642.4 L350.1,645.3 L351.1,648.2 L352.0,651.2 L352.8,654.1 L353.4,657.2 L353.9,660.2 L354.2,663.3 L354.5,666.3 L354.6,669.4 L354.7,672.6 L354.8,675.7 L354.9,678.8 L355.1,681.9" stroke="#342e16" stroke-width="6.8"/><path d="M341.7,609.4 L342.0,612.5 L342.1,615.6 L342.2,618.7 L342.4,621.8 L342.8,624.8 L343.7,627.8 L344.6,630.7 L345.7,633.6 L346.8,636.6 L347.9,639.5 L349.0,642.4 L350.1,645.3 L351.1,648.2 L352.0,651.2 L352.8,654.1 L353.4,657.2 L353.9,660.2 L354.2,663.3 L354.5,666.3 L354.6,669.4 L354.7,672.6 L354.8,675.7 L354.9,678.8 L355.1,681.9" stroke="#7c713a" stroke-width="5.2"/><path d="M342.8,609.2 L343.1,612.2 L343.3,615.3 L343.4,618.4 L343.6,621.5 L344.0,624.6 L344.8,627.5 L345.8,630.5 L346.8,633.4 L348.0,636.3 L349.1,639.2 L350.2,642.1 L351.3,645.0 L352.3,648.0 L353.2,650.9 L353.9,653.9 L354.6,656.9 L355.0,659.9 L355.4,663.0 L355.6,666.1 L355.8,669.2 L355.9,672.3 L356.0,675.4 L356.1,678.5 L356.2,681.6" stroke="#aea365" stroke-width="1.8" opacity="0.85"/><path d="M238.0,542.4 L239.0,545.3 L240.0,548.2 L241.0,551.1 L242.2,553.9 L243.8,556.4 L245.7,558.8 L247.7,561.1 L249.7,563.4 L251.8,565.8 L253.8,568.1 L255.7,570.5 L257.5,572.9 L259.2,575.4 L260.8,578.0 L262.2,580.6 L263.4,583.4 L264.6,586.2 L265.6,589.1 L266.5,592.0 L267.4,594.9 L268.3,597.9 L269.2,600.8 L270.2,603.7 L271.3,606.6 L272.4,609.3 L273.8,612.1 L275.2,614.7 L276.8,617.2 L278.6,619.7 L280.4,622.1 L282.4,624.5 L284.4,626.8 L286.4,629.1 L288.5,631.4 L290.4,633.8 L292.3,636.2 L294.1,638.6 L295.8,641.1" stroke="#342e16" stroke-width="6.8"/><path d="M238.0,542.4 L239.0,545.3 L240.0,548.2 L241.0,551.1 L242.2,553.9 L243.8,556.4 L245.7,558.8 L247.7,561.1 L249.7,563.4 L251.8,565.8 L253.8,568.1 L255.7,570.5 L257.5,572.9 L259.2,575.4 L260.8,578.0 L262.2,580.6 L263.4,583.4 L264.6,586.2 L265.6,589.1 L266.5,592.0 L267.4,594.9 L268.3,597.9 L269.2,600.8 L270.2,603.7 L271.3,606.6 L272.4,609.3 L273.8,612.1 L275.2,614.7 L276.8,617.2 L278.6,619.7 L280.4,622.1 L282.4,624.5 L284.4,626.8 L286.4,629.1 L288.5,631.4 L290.4,633.8 L292.3,636.2 L294.1,638.6 L295.8,641.1" stroke="#867a3e" stroke-width="5.2"/><path d="M239.1,541.8 L240.0,544.7 L241.0,547.6 L242.0,550.5 L243.2,553.3 L244.8,555.8 L246.7,558.2 L248.7,560.5 L250.8,562.9 L252.8,565.2 L254.8,567.5 L256.7,569.9 L258.6,572.3 L260.2,574.8 L261.8,577.4 L263.2,580.0 L264.5,582.8 L265.6,585.6 L266.6,588.5 L267.6,591.4 L268.5,594.3 L269.4,597.3 L270.3,600.2 L271.2,603.1 L272.3,606.0 L273.5,608.8 L274.8,611.5 L276.3,614.1 L277.9,616.7 L279.6,619.1 L281.5,621.5 L283.4,623.9 L285.4,626.2 L287.5,628.5 L289.5,630.8 L291.5,633.2 L293.4,635.6 L295.2,638.0 L296.8,640.5" stroke="#aea365" stroke-width="1.8" opacity="0.85"/><path d="M144.4,952.4 L146.9,950.6 L149.5,948.9 L152.0,947.1 L154.3,945.1 L156.5,942.9 L158.5,940.6 L160.6,938.2 L162.6,935.9 L164.6,933.5 L166.7,931.2 L168.8,929.0 L171.0,926.8 L173.2,924.7 L175.5,922.7 L177.9,920.7 L180.3,918.9 L182.8,917.1 L185.4,915.3 L188.0,913.6 L190.6,911.9 L193.2,910.3 L195.8,908.6 L198.3,906.8 L200.8,905.0 L203.3,903.2 L205.7,901.2 L208.0,899.2 L210.2,897.1 L212.4,894.9 L214.5,892.7 L216.6,890.4 L218.6,888.0 L220.6,885.7 L222.7,883.3 L224.7,881.0" stroke="#342e16" stroke-width="6.8"/><path d="M144.4,952.4 L146.9,950.6 L149.5,948.9 L152.0,947.1 L154.3,945.1 L156.5,942.9 L158.5,940.6 L160.6,938.2 L162.6,935.9 L164.6,933.5 L166.7,931.2 L168.8,929.0 L171.0,926.8 L173.2,924.7 L175.5,922.7 L177.9,920.7 L180.3,918.9 L182.8,917.1 L185.4,915.3 L188.0,913.6 L190.6,911.9 L193.2,910.3 L195.8,908.6 L198.3,906.8 L200.8,905.0 L203.3,903.2 L205.7,901.2 L208.0,899.2 L210.2,897.1 L212.4,894.9 L214.5,892.7 L216.6,890.4 L218.6,888.0 L220.6,885.7 L222.7,883.3 L224.7,881.0" stroke="#867a3e" stroke-width="5.2"/><path d="M143.6,951.5 L146.2,949.7 L148.7,948.0 L151.2,946.2 L153.5,944.2 L155.7,942.0 L157.7,939.7 L159.8,937.3 L161.8,935.0 L163.8,932.6 L165.9,930.3 L168.0,928.1 L170.2,925.9 L172.4,923.8 L174.7,921.8 L177.1,919.8 L179.5,918.0 L182.0,916.2 L184.6,914.4 L187.2,912.7 L189.8,911.0 L192.4,909.4 L195.0,907.7 L197.6,905.9 L200.1,904.1 L202.5,902.3 L204.9,900.3 L207.2,898.3 L209.4,896.2 L211.6,894.0 L213.7,891.8 L215.8,889.5 L217.8,887.1 L219.9,884.8 L221.9,882.4 L223.9,880.1" stroke="#b8ad6e" stroke-width="1.8" opacity="0.85"/><ellipse cx="248.7" cy="993.7" rx="6.8" ry="2.4" transform="rotate(-67 248.7 993.7)" fill="#f4f4f0" stroke="none"/><path d="M408.3,1035.5 L408.4,1032.4 L408.5,1029.3 L408.6,1026.2 L408.6,1023.2 L408.2,1020.1 L407.4,1017.1 L406.5,1014.2 L405.5,1011.2 L404.5,1008.2 L403.6,1005.3 L402.7,1002.3 L402.0,999.3 L401.4,996.3 L401.0,993.2 L400.8,990.2 L400.7,987.1 L400.7,984.0 L400.9,980.9 L401.1,977.8 L401.3,974.7 L401.5,971.6 L401.6,968.5 L401.6,965.4 L401.5,962.3 L401.2,959.3 L400.7,956.3 L400.1,953.3 L399.4,950.3 L398.5,947.3 L397.5,944.3 L396.6,941.4 L395.6,938.4 L394.7,935.4 L394.0,932.4 L393.3,929.4 L392.8,926.4 L392.5,923.3" stroke="#342e16" stroke-width="6.8"/><path d="M408.3,1035.5 L408.4,1032.4 L408.5,1029.3 L408.6,1026.2 L408.6,1023.2 L408.2,1020.1 L407.4,1017.1 L406.5,1014.2 L405.5,1011.2 L404.5,1008.2 L403.6,1005.3 L402.7,1002.3 L402.0,999.3 L401.4,996.3 L401.0,993.2 L400.8,990.2 L400.7,987.1 L400.7,984.0 L400.9,980.9 L401.1,977.8 L401.3,974.7 L401.5,971.6 L401.6,968.5 L401.6,965.4 L401.5,962.3 L401.2,959.3 L400.7,956.3 L400.1,953.3 L399.4,950.3 L398.5,947.3 L397.5,944.3 L396.6,941.4 L395.6,938.4 L394.7,935.4 L394.0,932.4 L393.3,929.4 L392.8,926.4 L392.5,923.3" stroke="#82773d" stroke-width="5.2"/><path d="M407.1,1035.7 L407.2,1032.6 L407.3,1029.5 L407.4,1026.4 L407.4,1023.3 L407.0,1020.3 L406.2,1017.3 L405.3,1014.3 L404.3,1011.3 L403.3,1008.4 L402.4,1005.4 L401.5,1002.4 L400.8,999.4 L400.2,996.4 L399.8,993.4 L399.6,990.3 L399.5,987.3 L399.5,984.2 L399.7,981.1 L399.9,978.0 L400.1,974.8 L400.3,971.7 L400.4,968.6 L400.4,965.6 L400.3,962.5 L400.0,959.4 L399.6,956.4 L398.9,953.4 L398.2,950.4 L397.3,947.4 L396.3,944.5 L395.4,941.5 L394.4,938.5 L393.5,935.6 L392.8,932.6 L392.1,929.6 L391.7,926.5 L391.3,923.5" stroke="#aea365" stroke-width="1.8" opacity="0.85"/><path d="M317.6,1085.5 L318.5,1082.5 L319.6,1079.6 L320.7,1076.6 L321.6,1073.7 L322.1,1070.6 L322.0,1067.5 L321.7,1064.4 L321.4,1061.3 L321.0,1058.2 L320.6,1055.0 L320.3,1051.9 L320.0,1048.8 L319.9,1045.7 L319.9,1042.6 L320.1,1039.5 L320.4,1036.5 L321.0,1033.4 L321.7,1030.5 L322.6,1027.5 L323.6,1024.5 L324.7,1021.6 L325.8,1018.6 L327.0,1015.6 L328.0,1012.7 L329.0,1009.7 L329.8,1006.7 L330.4,1003.7 L330.9,1000.7 L331.2,997.6 L331.3,994.6 L331.2,991.5 L331.0,988.4 L330.7,985.2 L330.3,982.1 L329.9,979.0 L329.6,975.8 L329.3,972.7 L329.1,969.6 L329.1,966.5 L329.3,963.4 L329.6,960.4 L330.1,957.4" stroke="#342e16" stroke-width="6.8"/><path d="M317.6,1085.5 L318.5,1082.5 L319.6,1079.6 L320.7,1076.6 L321.6,1073.7 L322.1,1070.6 L322.0,1067.5 L321.7,1064.4 L321.4,1061.3 L321.0,1058.2 L320.6,1055.0 L320.3,1051.9 L320.0,1048.8 L319.9,1045.7 L319.9,1042.6 L320.1,1039.5 L320.4,1036.5 L321.0,1033.4 L321.7,1030.5 L322.6,1027.5 L323.6,1024.5 L324.7,1021.6 L325.8,1018.6 L327.0,1015.6 L328.0,1012.7 L329.0,1009.7 L329.8,1006.7 L330.4,1003.7 L330.9,1000.7 L331.2,997.6 L331.3,994.6 L331.2,991.5 L331.0,988.4 L330.7,985.2 L330.3,982.1 L329.9,979.0 L329.6,975.8 L329.3,972.7 L329.1,969.6 L329.1,966.5 L329.3,963.4 L329.6,960.4 L330.1,957.4" stroke="#867a3e" stroke-width="5.2"/><path d="M316.4,1085.4 L317.3,1082.4 L318.4,1079.4 L319.5,1076.5 L320.4,1073.5 L320.9,1070.5 L320.8,1067.4 L320.5,1064.3 L320.2,1061.1 L319.8,1058.0 L319.4,1054.9 L319.1,1051.7 L318.8,1048.6 L318.7,1045.5 L318.7,1042.4 L318.9,1039.4 L319.2,1036.3 L319.8,1033.3 L320.5,1030.3 L321.4,1027.3 L322.4,1024.4 L323.5,1021.4 L324.6,1018.5 L325.8,1015.5 L326.8,1012.5 L327.8,1009.6 L328.6,1006.6 L329.2,1003.6 L329.7,1000.5 L330.0,997.5 L330.1,994.4 L330.0,991.3 L329.8,988.2 L329.5,985.1 L329.1,982.0 L328.7,978.8 L328.4,975.7 L328.1,972.6 L327.9,969.5 L327.9,966.4 L328.1,963.3 L328.4,960.3 L328.9,957.2" stroke="#b8ad6e" stroke-width="1.8" opacity="0.85"/><path d="M447.0,888.0 L443.9,887.7 L440.8,887.4 L437.7,887.1 L434.6,887.0 L431.5,887.3 L428.4,887.9 L425.3,888.5 L422.3,889.0 L419.2,889.5 L416.1,889.9 L413.0,890.2" stroke="#3a3a30" stroke-width="3.4"/><path d="M447.0,888.0 L443.9,887.7 L440.8,887.4 L437.7,887.1 L434.6,887.0 L431.5,887.3 L428.4,887.9 L425.3,888.5 L422.3,889.0 L419.2,889.5 L416.1,889.9 L413.0,890.2" stroke="#a7a384" stroke-width="1.9"/><path d="M423.4,751.2 L420.4,752.0 L417.4,752.8 L414.4,753.6 L411.5,754.5 L408.6,755.6 L405.8,757.0 L403.0,758.3 L400.2,759.6 L397.3,760.9 L394.5,762.2 L391.6,763.3" stroke="#3a3a30" stroke-width="3.4"/><path d="M423.4,751.2 L420.4,752.0 L417.4,752.8 L414.4,753.6 L411.5,754.5 L408.6,755.6 L405.8,757.0 L403.0,758.3 L400.2,759.6 L397.3,760.9 L394.5,762.2 L391.6,763.3" stroke="#b8b392" stroke-width="1.9"/><path d="M83.1,734.0 L86.0,735.1 L88.9,736.2 L91.8,737.1 L94.8,737.9 L97.8,738.4 L100.9,738.7 L104.0,739.0 L107.0,739.2 L110.1,739.5 L113.2,739.8 L116.3,740.2 L119.3,740.7 L122.3,741.3 L125.3,742.0 L128.2,742.8 L131.2,743.7 L134.1,744.7 L137.0,745.8 L139.9,746.9 L142.8,748.0 L145.6,749.2 L148.5,750.3 L151.4,751.4 L154.3,752.3 L157.3,753.2 L160.2,754.0 L163.2,754.7 L166.2,755.3 L169.3,755.8 L172.3,756.2 L175.4,756.5 L178.5,756.7 L181.6,757.0 L184.7,757.3 L187.7,757.6 L190.8,757.9" stroke="#342e16" stroke-width="6.8"/><path d="M83.1,734.0 L86.0,735.1 L88.9,736.2 L91.8,737.1 L94.8,737.9 L97.8,738.4 L100.9,738.7 L104.0,739.0 L107.0,739.2 L110.1,739.5 L113.2,739.8 L116.3,740.2 L119.3,740.7 L122.3,741.3 L125.3,742.0 L128.2,742.8 L131.2,743.7 L134.1,744.7 L137.0,745.8 L139.9,746.9 L142.8,748.0 L145.6,749.2 L148.5,750.3 L151.4,751.4 L154.3,752.3 L157.3,753.2 L160.2,754.0 L163.2,754.7 L166.2,755.3 L169.3,755.8 L172.3,756.2 L175.4,756.5 L178.5,756.7 L181.6,757.0 L184.7,757.3 L187.7,757.6 L190.8,757.9" stroke="#948848" stroke-width="5.2"/><path d="M83.4,732.8 L86.3,733.9 L89.1,735.0 L92.1,735.9 L95.0,736.7 L98.1,737.2 L101.1,737.5 L104.2,737.8 L107.3,738.0 L110.4,738.3 L113.5,738.6 L116.5,739.0 L119.6,739.5 L122.6,740.1 L125.6,740.8 L128.5,741.6 L131.5,742.5 L134.4,743.5 L137.3,744.6 L140.2,745.7 L143.0,746.9 L145.9,748.0 L148.8,749.1 L151.7,750.2 L154.6,751.2 L157.5,752.1 L160.5,752.9 L163.5,753.5 L166.5,754.1 L169.6,754.6 L172.6,755.0 L175.7,755.3 L178.8,755.6 L181.9,755.8 L184.9,756.1 L188.0,756.4 L191.1,756.7" stroke="#aea365" stroke-width="1.8" opacity="0.85"/><ellipse cx="187.6" cy="613.5" rx="5.1" ry="1.7" transform="rotate(47 187.6 613.5)" fill="#f4f4f0" stroke="none"/><path d="M267.6,1074.3 L268.9,1071.5 L270.2,1068.7 L271.4,1065.9 L272.3,1063.0 L272.8,1060.0 L273.0,1056.9 L273.1,1053.8 L273.2,1050.7 L273.3,1047.6 L273.5,1044.5 L273.9,1041.5 L274.4,1038.5 L275.1,1035.6 L275.9,1032.7 L277.0,1029.8 L278.2,1027.0 L279.5,1024.2 L280.9,1021.4 L282.4,1018.7 L283.8,1015.9 L285.2,1013.2 L286.4,1010.4 L287.5,1007.5 L288.5,1004.6 L289.2,1001.7 L289.8,998.7 L290.2,995.7 L290.5,992.6 L290.6,989.5 L290.7,986.4 L290.8,983.3 L290.9,980.2 L291.2,977.2 L291.5,974.1 L292.0,971.1 L292.7,968.2 L293.5,965.3 L294.6,962.4 L295.8,959.6 L297.1,956.8 L298.5,954.0 L299.9,951.3" stroke="#342e16" stroke-width="6.8"/><path d="M267.6,1074.3 L268.9,1071.5 L270.2,1068.7 L271.4,1065.9 L272.3,1063.0 L272.8,1060.0 L273.0,1056.9 L273.1,1053.8 L273.2,1050.7 L273.3,1047.6 L273.5,1044.5 L273.9,1041.5 L274.4,1038.5 L275.1,1035.6 L275.9,1032.7 L277.0,1029.8 L278.2,1027.0 L279.5,1024.2 L280.9,1021.4 L282.4,1018.7 L283.8,1015.9 L285.2,1013.2 L286.4,1010.4 L287.5,1007.5 L288.5,1004.6 L289.2,1001.7 L289.8,998.7 L290.2,995.7 L290.5,992.6 L290.6,989.5 L290.7,986.4 L290.8,983.3 L290.9,980.2 L291.2,977.2 L291.5,974.1 L292.0,971.1 L292.7,968.2 L293.5,965.3 L294.6,962.4 L295.8,959.6 L297.1,956.8 L298.5,954.0 L299.9,951.3" stroke="#867a3e" stroke-width="5.2"/><path d="M266.5,1074.0 L267.8,1071.2 L269.1,1068.4 L270.2,1065.6 L271.2,1062.7 L271.7,1059.7 L271.8,1056.6 L271.9,1053.5 L272.0,1050.4 L272.1,1047.3 L272.4,1044.2 L272.7,1041.2 L273.2,1038.2 L273.9,1035.3 L274.8,1032.3 L275.8,1029.5 L277.0,1026.7 L278.4,1023.9 L279.8,1021.1 L281.2,1018.4 L282.6,1015.6 L284.0,1012.8 L285.3,1010.0 L286.4,1007.2 L287.3,1004.3 L288.1,1001.4 L288.6,998.4 L289.0,995.4 L289.3,992.3 L289.5,989.2 L289.6,986.1 L289.7,983.0 L289.8,979.9 L290.0,976.9 L290.3,973.8 L290.8,970.8 L291.5,967.9 L292.4,965.0 L293.4,962.1 L294.6,959.3 L295.9,956.5 L297.3,953.7 L298.8,951.0" stroke="#c2b77a" stroke-width="1.8" opacity="0.85"/><path d="M207.7,1034.0 L209.5,1031.4 L211.4,1028.9 L213.2,1026.4 L214.8,1023.8 L216.1,1021.0 L217.1,1018.1 L218.0,1015.1 L218.9,1012.1 L219.8,1009.1 L220.8,1006.2 L221.8,1003.2 L222.9,1000.4 L224.1,997.5 L225.5,994.8 L227.0,992.1 L228.6,989.5 L230.3,986.9 L232.2,984.4 L234.1,982.0 L236.0,979.5 L237.9,977.0 L239.8,974.6 L241.5,972.0 L243.3,969.5 L244.8,966.8 L246.3,964.1 L247.6,961.3 L248.8,958.5 L249.9,955.6 L250.9,952.7 L251.8,949.7 L252.7,946.7 L253.6,943.7 L254.5,940.8 L255.6,937.8 L256.7,935.0 L257.9,932.2 L259.3,929.4 L260.8,926.7" stroke="#342e16" stroke-width="6.8"/><path d="M207.7,1034.0 L209.5,1031.4 L211.4,1028.9 L213.2,1026.4 L214.8,1023.8 L216.1,1021.0 L217.1,1018.1 L218.0,1015.1 L218.9,1012.1 L219.8,1009.1 L220.8,1006.2 L221.8,1003.2 L222.9,1000.4 L224.1,997.5 L225.5,994.8 L227.0,992.1 L228.6,989.5 L230.3,986.9 L232.2,984.4 L234.1,982.0 L236.0,979.5 L237.9,977.0 L239.8,974.6 L241.5,972.0 L243.3,969.5 L244.8,966.8 L246.3,964.1 L247.6,961.3 L248.8,958.5 L249.9,955.6 L250.9,952.7 L251.8,949.7 L252.7,946.7 L253.6,943.7 L254.5,940.8 L255.6,937.8 L256.7,935.0 L257.9,932.2 L259.3,929.4 L260.8,926.7" stroke="#908444" stroke-width="5.2"/><path d="M206.7,1033.4 L208.5,1030.9 L210.3,1028.4 L212.1,1025.9 L213.7,1023.3 L215.0,1020.5 L216.0,1017.5 L216.9,1014.6 L217.8,1011.6 L218.8,1008.6 L219.7,1005.6 L220.7,1002.7 L221.8,999.8 L223.1,997.0 L224.4,994.2 L225.9,991.6 L227.5,989.0 L229.3,986.4 L231.1,983.9 L233.0,981.4 L234.9,979.0 L236.8,976.5 L238.7,974.0 L240.5,971.5 L242.2,968.9 L243.8,966.3 L245.2,963.6 L246.5,960.8 L247.7,958.0 L248.8,955.1 L249.8,952.1 L250.7,949.1 L251.6,946.2 L252.5,943.2 L253.5,940.2 L254.5,937.3 L255.6,934.4 L256.9,931.6 L258.2,928.9 L259.7,926.2" stroke="#c2b77a" stroke-width="1.8" opacity="0.85"/><ellipse cx="178.5" cy="854.1" rx="6.3" ry="1.5" transform="rotate(-23 178.5 854.1)" fill="#1c2d66" stroke="none"/><path d="M83.2,717.6 L86.0,718.9 L88.7,720.3 L91.5,721.6 L94.3,722.7 L97.3,723.5 L100.3,723.9 L103.4,724.3 L106.5,724.6 L109.5,724.9 L112.6,725.2 L115.6,725.6 L118.6,726.2 L121.6,726.8 L124.5,727.6 L127.4,728.6 L130.3,729.7 L133.0,730.9 L135.8,732.2 L138.6,733.6 L141.3,735.1 L144.0,736.5 L146.8,737.9 L149.5,739.2 L152.3,740.5 L155.2,741.5 L158.1,742.5 L161.0,743.3 L164.0,743.9 L167.0,744.4 L170.0,744.8 L173.1,745.1 L176.2,745.4 L179.2,745.7 L182.3,746.1 L185.3,746.5 L188.3,747.1 L191.3,747.7" stroke="#342e16" stroke-width="6.8"/><path d="M83.2,717.6 L86.0,718.9 L88.7,720.3 L91.5,721.6 L94.3,722.7 L97.3,723.5 L100.3,723.9 L103.4,724.3 L106.5,724.6 L109.5,724.9 L112.6,725.2 L115.6,725.6 L118.6,726.2 L121.6,726.8 L124.5,727.6 L127.4,728.6 L130.3,729.7 L133.0,730.9 L135.8,732.2 L138.6,733.6 L141.3,735.1 L144.0,736.5 L146.8,737.9 L149.5,739.2 L152.3,740.5 L155.2,741.5 L158.1,742.5 L161.0,743.3 L164.0,743.9 L167.0,744.4 L170.0,744.8 L173.1,745.1 L176.2,745.4 L179.2,745.7 L182.3,746.1 L185.3,746.5 L188.3,747.1 L191.3,747.7" stroke="#948848" stroke-width="5.2"/><path d="M83.6,716.5 L86.3,717.8 L89.1,719.1 L91.9,720.5 L94.7,721.6 L97.6,722.4 L100.7,722.8 L103.7,723.1 L106.8,723.4 L109.9,723.7 L112.9,724.1 L116.0,724.5 L119.0,725.0 L122.0,725.7 L124.9,726.5 L127.8,727.4 L130.6,728.5 L133.4,729.7 L136.2,731.1 L138.9,732.5 L141.6,733.9 L144.4,735.4 L147.1,736.8 L149.9,738.1 L152.7,739.3 L155.5,740.4 L158.4,741.3 L161.3,742.1 L164.3,742.7 L167.3,743.3 L170.4,743.7 L173.4,744.0 L176.5,744.3 L179.6,744.6 L182.6,744.9 L185.7,745.4 L188.7,745.9 L191.6,746.6" stroke="#c2b77a" stroke-width="1.8" opacity="0.85"/><path d="M118.3,591.5 L120.2,594.0 L122.1,596.3 L124.2,598.4 L126.6,600.3 L129.2,601.9 L132.0,603.2 L134.8,604.6 L137.5,606.1 L140.1,607.7 L142.5,609.4 L144.8,611.4 L147.0,613.5 L149.0,615.8 L150.8,618.2 L152.6,620.7 L154.3,623.3 L156.0,625.9 L157.8,628.5 L159.6,630.9 L161.6,633.2 L163.7,635.4 L165.9,637.3 L168.4,639.1 L171.0,640.7 L173.6,642.2 L176.4,643.6 L179.2,645.0 L182.0,646.4 L184.7,647.9 L187.3,649.5 L189.7,651.2 L192.0,653.2 L194.1,655.3 L196.1,657.6 L198.0,660.0 L199.7,662.5 L201.5,665.1 L203.2,667.7 L204.9,670.3 L206.8,672.7 L208.7,675.0 L210.8,677.1" stroke="#342e16" stroke-width="6.8"/><path d="M118.3,591.5 L120.2,594.0 L122.1,596.3 L124.2,598.4 L126.6,600.3 L129.2,601.9 L132.0,603.2 L134.8,604.6 L137.5,606.1 L140.1,607.7 L142.5,609.4 L144.8,611.4 L147.0,613.5 L149.0,615.8 L150.8,618.2 L152.6,620.7 L154.3,623.3 L156.0,625.9 L157.8,628.5 L159.6,630.9 L161.6,633.2 L163.7,635.4 L165.9,637.3 L168.4,639.1 L171.0,640.7 L173.6,642.2 L176.4,643.6 L179.2,645.0 L182.0,646.4 L184.7,647.9 L187.3,649.5 L189.7,651.2 L192.0,653.2 L194.1,655.3 L196.1,657.6 L198.0,660.0 L199.7,662.5 L201.5,665.1 L203.2,667.7 L204.9,670.3 L206.8,672.7 L208.7,675.0 L210.8,677.1" stroke="#82773d" stroke-width="5.2"/><path d="M119.1,590.6 L121.0,593.1 L122.9,595.4 L125.0,597.5 L127.4,599.4 L130.0,601.0 L132.8,602.3 L135.6,603.7 L138.3,605.2 L140.9,606.8 L143.3,608.5 L145.6,610.5 L147.8,612.6 L149.8,614.9 L151.6,617.3 L153.4,619.8 L155.1,622.4 L156.8,625.0 L158.6,627.6 L160.4,630.0 L162.4,632.3 L164.5,634.5 L166.7,636.4 L169.2,638.2 L171.8,639.8 L174.4,641.3 L177.2,642.7 L180.0,644.1 L182.8,645.5 L185.5,647.0 L188.0,648.6 L190.5,650.3 L192.8,652.3 L194.9,654.4 L196.9,656.7 L198.8,659.1 L200.5,661.6 L202.2,664.2 L204.0,666.8 L205.7,669.4 L207.6,671.8 L209.5,674.1 L211.6,676.2" stroke="#b8ad6e" stroke-width="1.8" opacity="0.85"/><path d="M134.3,571.7 L136.1,574.2 L137.9,576.7 L139.6,579.2 L141.4,581.7 L143.4,583.9 L145.8,585.9 L148.1,587.8 L150.6,589.6 L153.0,591.4 L155.5,593.2 L158.0,595.0 L160.5,596.8 L162.9,598.7 L165.2,600.6 L167.5,602.7 L169.7,604.8 L171.7,607.0 L173.7,609.3 L175.6,611.6 L177.5,614.1 L179.2,616.5 L181.0,619.1 L182.7,621.6 L184.5,624.1 L186.3,626.6 L188.1,629.0 L190.0,631.4 L192.0,633.6 L194.1,635.8 L196.3,637.9 L198.6,639.9 L200.9,641.9 L203.3,643.7 L205.8,645.5 L208.3,647.3 L210.8,649.1 L213.2,650.9 L215.7,652.8 L218.0,654.7 L220.3,656.7 L222.5,658.7 L224.7,660.9" stroke="#342e16" stroke-width="6.8"/><path d="M134.3,571.7 L136.1,574.2 L137.9,576.7 L139.6,579.2 L141.4,581.7 L143.4,583.9 L145.8,585.9 L148.1,587.8 L150.6,589.6 L153.0,591.4 L155.5,593.2 L158.0,595.0 L160.5,596.8 L162.9,598.7 L165.2,600.6 L167.5,602.7 L169.7,604.8 L171.7,607.0 L173.7,609.3 L175.6,611.6 L177.5,614.1 L179.2,616.5 L181.0,619.1 L182.7,621.6 L184.5,624.1 L186.3,626.6 L188.1,629.0 L190.0,631.4 L192.0,633.6 L194.1,635.8 L196.3,637.9 L198.6,639.9 L200.9,641.9 L203.3,643.7 L205.8,645.5 L208.3,647.3 L210.8,649.1 L213.2,650.9 L215.7,652.8 L218.0,654.7 L220.3,656.7 L222.5,658.7 L224.7,660.9" stroke="#948848" stroke-width="5.2"/><path d="M135.1,570.9 L137.0,573.3 L138.7,575.8 L140.5,578.3 L142.3,580.8 L144.3,583.1 L146.6,585.0 L149.0,586.9 L151.4,588.8 L153.9,590.6 L156.4,592.4 L158.9,594.2 L161.3,596.0 L163.7,597.9 L166.1,599.8 L168.3,601.8 L170.5,603.9 L172.6,606.1 L174.6,608.4 L176.5,610.8 L178.3,613.2 L180.1,615.7 L181.8,618.2 L183.6,620.7 L185.3,623.3 L187.1,625.7 L189.0,628.2 L190.9,630.5 L192.9,632.8 L195.0,635.0 L197.1,637.1 L199.4,639.1 L201.8,641.0 L204.2,642.9 L206.6,644.7 L209.1,646.5 L211.6,648.3 L214.1,650.1 L216.5,651.9 L218.9,653.8 L221.2,655.8 L223.4,657.9 L225.5,660.0" stroke="#b8ad6e" stroke-width="1.8" opacity="0.85"/><path d="M435.3,977.5 L435.0,974.5 L434.7,971.5 L434.2,968.5 L433.5,965.5 L432.4,962.7 L431.1,960.0 L429.7,957.2 L428.4,954.5 L427.0,951.7 L425.8,949.0 L424.6,946.2 L423.5,943.3 L422.6,940.5 L421.8,937.6 L421.2,934.6 L420.6,931.7 L420.2,928.6 L419.9,925.6 L419.7,922.6 L419.5,919.5 L419.3,916.4 L419.0,913.4 L418.7,910.4 L418.3,907.4 L417.8,904.4 L417.1,901.4 L416.4,898.5 L415.4,895.7 L414.4,892.9 L413.2,890.1 L411.9,887.3" stroke="#342e16" stroke-width="6.8"/><path d="M435.3,977.5 L435.0,974.5 L434.7,971.5 L434.2,968.5 L433.5,965.5 L432.4,962.7 L431.1,960.0 L429.7,957.2 L428.4,954.5 L427.0,951.7 L425.8,949.0 L424.6,946.2 L423.5,943.3 L422.6,940.5 L421.8,937.6 L421.2,934.6 L420.6,931.7 L420.2,928.6 L419.9,925.6 L419.7,922.6 L419.5,919.5 L419.3,916.4 L419.0,913.4 L418.7,910.4 L418.3,907.4 L417.8,904.4 L417.1,901.4 L416.4,898.5 L415.4,895.7 L414.4,892.9 L413.2,890.1 L411.9,887.3" stroke="#908444" stroke-width="5.2"/><path d="M434.2,977.8 L433.9,974.8 L433.5,971.8 L433.1,968.8 L432.3,965.9 L431.3,963.0 L429.9,960.3 L428.6,957.5 L427.2,954.8 L425.9,952.0 L424.6,949.3 L423.4,946.5 L422.4,943.7 L421.4,940.8 L420.7,937.9 L420.0,934.9 L419.5,932.0 L419.1,929.0 L418.8,925.9 L418.5,922.9 L418.3,919.8 L418.1,916.8 L417.9,913.7 L417.6,910.7 L417.2,907.7 L416.6,904.7 L416.0,901.8 L415.2,898.9 L414.3,896.0 L413.2,893.2 L412.0,890.4 L410.8,887.6" stroke="#b8ad6e" stroke-width="1.8" opacity="0.85"/><path d="M217.7,539.3 L219.0,542.1 L220.2,545.0 L221.4,547.8 L222.6,550.6 L224.2,553.3 L226.1,555.7 L228.1,558.0 L230.2,560.3 L232.2,562.6 L234.3,564.9 L236.4,567.2 L238.4,569.6 L240.2,572.0 L242.0,574.5 L243.6,577.1 L245.0,579.8 L246.4,582.5 L247.6,585.3 L248.8,588.2 L249.9,591.1 L251.0,594.0 L252.2,596.9 L253.4,599.7 L254.7,602.5 L256.1,605.2 L257.6,607.8 L259.3,610.4 L261.1,612.9 L263.0,615.3 L265.0,617.6 L267.1,619.9 L269.2,622.2 L271.3,624.5 L273.3,626.8 L275.3,629.2 L277.1,631.6 L278.8,634.1 L280.4,636.7 L281.9,639.4" stroke="#342e16" stroke-width="6.8"/><path d="M217.7,539.3 L219.0,542.1 L220.2,545.0 L221.4,547.8 L222.6,550.6 L224.2,553.3 L226.1,555.7 L228.1,558.0 L230.2,560.3 L232.2,562.6 L234.3,564.9 L236.4,567.2 L238.4,569.6 L240.2,572.0 L242.0,574.5 L243.6,577.1 L245.0,579.8 L246.4,582.5 L247.6,585.3 L248.8,588.2 L249.9,591.1 L251.0,594.0 L252.2,596.9 L253.4,599.7 L254.7,602.5 L256.1,605.2 L257.6,607.8 L259.3,610.4 L261.1,612.9 L263.0,615.3 L265.0,617.6 L267.1,619.9 L269.2,622.2 L271.3,624.5 L273.3,626.8 L275.3,629.2 L277.1,631.6 L278.8,634.1 L280.4,636.7 L281.9,639.4" stroke="#82773d" stroke-width="5.2"/><path d="M218.8,538.7 L220.0,541.5 L221.2,544.4 L222.4,547.2 L223.6,550.0 L225.2,552.6 L227.1,555.0 L229.1,557.4 L231.2,559.7 L233.3,562.0 L235.4,564.3 L237.4,566.6 L239.4,568.9 L241.2,571.4 L243.0,573.9 L244.6,576.5 L246.1,579.1 L247.4,581.9 L248.7,584.7 L249.8,587.6 L250.9,590.5 L252.1,593.4 L253.2,596.2 L254.4,599.1 L255.7,601.9 L257.1,604.6 L258.6,607.2 L260.3,609.8 L262.1,612.2 L264.0,614.6 L266.0,617.0 L268.1,619.3 L270.2,621.6 L272.3,623.9 L274.3,626.2 L276.3,628.5 L278.1,631.0 L279.9,633.5 L281.5,636.1 L282.9,638.8" stroke="#c2b77a" stroke-width="1.8" opacity="0.85"/><path d="M440.1,815.1 L436.9,815.3 L433.8,815.5 L430.7,815.8 L427.7,816.2 L424.7,817.0 L421.7,818.0 L418.8,819.1 L415.8,820.1 L412.9,821.2 L409.9,822.1 L406.9,823.0" stroke="#3a3a30" stroke-width="3.4"/><path d="M440.1,815.1 L436.9,815.3 L433.8,815.5 L430.7,815.8 L427.7,816.2 L424.7,817.0 L421.7,818.0 L418.8,819.1 L415.8,820.1 L412.9,821.2 L409.9,822.1 L406.9,823.0" stroke="#9a956f" stroke-width="1.9"/><path d="M426.6,760.9 L423.5,761.5 L420.5,762.1 L417.4,762.7 L414.4,763.4 L411.5,764.4 L408.6,765.6 L405.8,766.8 L402.9,768.1 L400.1,769.4 L397.3,770.7 L394.4,772.0" stroke="#3a3a30" stroke-width="3.4"/><path d="M426.6,760.9 L423.5,761.5 L420.5,762.1 L417.4,762.7 L414.4,763.4 L411.5,764.4 L408.6,765.6 L405.8,766.8 L402.9,768.1 L400.1,769.4 L397.3,770.7 L394.4,772.0" stroke="#9a956f" stroke-width="1.9"/><ellipse cx="146.9" cy="671.9" rx="6.2" ry="2.9" transform="rotate(32 146.9 671.9)" fill="#f4f4f0" stroke="none"/><ellipse cx="209.3" cy="947.3" rx="5.0" ry="1.9" transform="rotate(-52 209.3 947.3)" fill="#f4f4f0" stroke="none"/><path d="M83.1,723.0 L85.8,724.4 L88.6,725.8 L91.4,727.0 L94.3,727.8 L97.3,728.1 L100.5,728.1 L103.6,728.1 L106.7,728.1 L109.8,728.2 L112.9,728.5 L115.8,729.1 L118.7,729.9 L121.6,731.0 L124.3,732.3 L127.0,733.8 L129.7,735.4 L132.4,737.0 L135.1,738.7 L137.8,740.2 L140.5,741.6 L143.3,742.7 L146.2,743.6 L149.2,744.3 L152.2,744.7 L155.2,744.9 L158.4,744.9 L161.5,744.9 L164.6,744.9 L167.8,744.9 L170.8,745.1 L173.9,745.5 L176.8,746.1 L179.7,747.0 L182.5,748.1 L185.3,749.4 L188.0,751.0 L190.7,752.6" stroke="#342e16" stroke-width="6.8"/><path d="M83.1,723.0 L85.8,724.4 L88.6,725.8 L91.4,727.0 L94.3,727.8 L97.3,728.1 L100.5,728.1 L103.6,728.1 L106.7,728.1 L109.8,728.2 L112.9,728.5 L115.8,729.1 L118.7,729.9 L121.6,731.0 L124.3,732.3 L127.0,733.8 L129.7,735.4 L132.4,737.0 L135.1,738.7 L137.8,740.2 L140.5,741.6 L143.3,742.7 L146.2,743.6 L149.2,744.3 L152.2,744.7 L155.2,744.9 L158.4,744.9 L161.5,744.9 L164.6,744.9 L167.8,744.9 L170.8,745.1 L173.9,745.5 L176.8,746.1 L179.7,747.0 L182.5,748.1 L185.3,749.4 L188.0,751.0 L190.7,752.6" stroke="#82773d" stroke-width="5.2"/><path d="M83.4,721.8 L86.2,723.3 L88.9,724.6 L91.7,725.8 L94.6,726.6 L97.6,727.0 L100.8,726.9 L103.9,726.9 L107.0,726.9 L110.1,727.1 L113.2,727.4 L116.1,728.0 L119.1,728.8 L121.9,729.8 L124.6,731.1 L127.4,732.6 L130.0,734.2 L132.7,735.9 L135.4,737.5 L138.1,739.1 L140.8,740.4 L143.7,741.6 L146.5,742.5 L149.5,743.1 L152.5,743.5 L155.6,743.7 L158.7,743.8 L161.8,743.7 L165.0,743.7 L168.1,743.8 L171.2,743.9 L174.2,744.3 L177.1,744.9 L180.0,745.8 L182.8,746.9 L185.6,748.3 L188.3,749.8 L191.0,751.4" stroke="#aea365" stroke-width="1.8" opacity="0.85"/><path d="M276.3,1077.7 L277.3,1074.8 L278.5,1072.0 L279.5,1069.1 L280.4,1066.2 L280.9,1063.2 L281.1,1060.1 L281.2,1057.0 L281.3,1053.9 L281.4,1050.8 L281.7,1047.7 L282.1,1044.7 L282.7,1041.7 L283.4,1038.8 L284.4,1035.9 L285.5,1033.0 L286.7,1030.2 L288.0,1027.3 L289.3,1024.5 L290.6,1021.7 L291.7,1018.8 L292.6,1015.9 L293.4,1013.0 L294.0,1010.0 L294.4,1007.0 L294.6,1003.9 L294.8,1000.8 L294.9,997.7 L295.0,994.6 L295.1,991.5 L295.4,988.4 L295.9,985.4 L296.5,982.5 L297.3,979.5 L298.3,976.6 L299.5,973.8 L300.7,970.9 L302.0,968.1 L303.3,965.3 L304.5,962.4 L305.6,959.6 L306.5,956.7 L307.2,953.7" stroke="#342e16" stroke-width="6.8"/><path d="M276.3,1077.7 L277.3,1074.8 L278.5,1072.0 L279.5,1069.1 L280.4,1066.2 L280.9,1063.2 L281.1,1060.1 L281.2,1057.0 L281.3,1053.9 L281.4,1050.8 L281.7,1047.7 L282.1,1044.7 L282.7,1041.7 L283.4,1038.8 L284.4,1035.9 L285.5,1033.0 L286.7,1030.2 L288.0,1027.3 L289.3,1024.5 L290.6,1021.7 L291.7,1018.8 L292.6,1015.9 L293.4,1013.0 L294.0,1010.0 L294.4,1007.0 L294.6,1003.9 L294.8,1000.8 L294.9,997.7 L295.0,994.6 L295.1,991.5 L295.4,988.4 L295.9,985.4 L296.5,982.5 L297.3,979.5 L298.3,976.6 L299.5,973.8 L300.7,970.9 L302.0,968.1 L303.3,965.3 L304.5,962.4 L305.6,959.6 L306.5,956.7 L307.2,953.7" stroke="#82773d" stroke-width="5.2"/><path d="M275.1,1077.4 L276.2,1074.6 L277.3,1071.7 L278.4,1068.8 L279.2,1065.9 L279.7,1062.9 L279.9,1059.8 L280.0,1056.7 L280.1,1053.6 L280.2,1050.5 L280.5,1047.5 L280.9,1044.4 L281.5,1041.4 L282.3,1038.5 L283.2,1035.6 L284.3,1032.7 L285.6,1029.9 L286.9,1027.1 L288.2,1024.2 L289.4,1021.4 L290.5,1018.5 L291.5,1015.6 L292.2,1012.7 L292.8,1009.7 L293.2,1006.7 L293.5,1003.6 L293.6,1000.5 L293.7,997.4 L293.8,994.3 L294.0,991.2 L294.3,988.2 L294.7,985.2 L295.3,982.2 L296.2,979.2 L297.2,976.4 L298.3,973.5 L299.6,970.7 L300.9,967.8 L302.1,965.0 L303.4,962.2 L304.4,959.3 L305.3,956.4 L306.1,953.4" stroke="#b8ad6e" stroke-width="1.8" opacity="0.85"/><path d="M304.1,1084.6 L305.1,1081.6 L306.3,1078.7 L307.4,1075.8 L308.4,1072.8 L308.8,1069.8 L308.7,1066.7 L308.4,1063.5 L308.0,1060.3 L307.6,1057.2 L307.3,1054.0 L307.1,1050.9 L307.1,1047.8 L307.4,1044.7 L307.9,1041.7 L308.7,1038.7 L309.7,1035.8 L310.9,1032.9 L312.3,1030.0 L313.6,1027.1 L314.9,1024.2 L316.1,1021.3 L317.0,1018.3 L317.8,1015.3 L318.2,1012.3 L318.4,1009.2 L318.4,1006.1 L318.2,1003.0 L317.8,999.8 L317.4,996.6 L317.0,993.5 L316.8,990.3 L316.7,987.2 L316.8,984.1 L317.2,981.1 L317.9,978.1 L318.8,975.1 L319.9,972.2 L321.2,969.3 L322.6,966.4 L323.9,963.5 L325.1,960.6 L326.2,957.7" stroke="#342e16" stroke-width="6.8"/><path d="M304.1,1084.6 L305.1,1081.6 L306.3,1078.7 L307.4,1075.8 L308.4,1072.8 L308.8,1069.8 L308.7,1066.7 L308.4,1063.5 L308.0,1060.3 L307.6,1057.2 L307.3,1054.0 L307.1,1050.9 L307.1,1047.8 L307.4,1044.7 L307.9,1041.7 L308.7,1038.7 L309.7,1035.8 L310.9,1032.9 L312.3,1030.0 L313.6,1027.1 L314.9,1024.2 L316.1,1021.3 L317.0,1018.3 L317.8,1015.3 L318.2,1012.3 L318.4,1009.2 L318.4,1006.1 L318.2,1003.0 L317.8,999.8 L317.4,996.6 L317.0,993.5 L316.8,990.3 L316.7,987.2 L316.8,984.1 L317.2,981.1 L317.9,978.1 L318.8,975.1 L319.9,972.2 L321.2,969.3 L322.6,966.4 L323.9,963.5 L325.1,960.6 L326.2,957.7" stroke="#82773d" stroke-width="5.2"/><path d="M303.0,1084.4 L303.9,1081.4 L305.1,1078.5 L306.2,1075.6 L307.2,1072.6 L307.6,1069.6 L307.5,1066.5 L307.2,1063.3 L306.8,1060.2 L306.4,1057.0 L306.1,1053.8 L305.9,1050.7 L305.9,1047.6 L306.2,1044.6 L306.7,1041.5 L307.5,1038.6 L308.5,1035.6 L309.8,1032.7 L311.1,1029.8 L312.4,1026.9 L313.7,1024.0 L314.9,1021.1 L315.8,1018.1 L316.6,1015.1 L317.0,1012.1 L317.2,1009.0 L317.2,1005.9 L317.0,1002.8 L316.6,999.6 L316.2,996.5 L315.8,993.3 L315.6,990.2 L315.5,987.0 L315.6,984.0 L316.0,980.9 L316.7,977.9 L317.6,975.0 L318.8,972.0 L320.0,969.1 L321.4,966.2 L322.7,963.3 L323.9,960.4 L325.0,957.5" stroke="#c2b77a" stroke-width="1.8" opacity="0.85"/><path d="M390.7,677.8 L387.8,678.9 L384.9,680.1 L382.1,681.4 L379.4,682.9 L376.8,684.6 L374.3,686.5 L371.9,688.5 L369.4,690.4 L366.9,692.3 L364.4,694.1 L361.8,695.8" stroke="#3a3a30" stroke-width="3.4"/><path d="M390.7,677.8 L387.8,678.9 L384.9,680.1 L382.1,681.4 L379.4,682.9 L376.8,684.6 L374.3,686.5 L371.9,688.5 L369.4,690.4 L366.9,692.3 L364.4,694.1 L361.8,695.8" stroke="#9a956f" stroke-width="1.9"/><ellipse cx="216.2" cy="889.6" rx="6.7" ry="2.7" transform="rotate(-41 216.2 889.6)" fill="#f4f4f0" stroke="none"/><path d="M296.9,1083.4 L298.1,1080.5 L299.2,1077.6 L300.3,1074.7 L301.0,1071.7 L301.2,1068.6 L301.0,1065.5 L300.8,1062.3 L300.5,1059.2 L300.3,1056.0 L300.1,1052.9 L300.2,1049.8 L300.3,1046.7 L300.7,1043.7 L301.4,1040.7 L302.2,1037.7 L303.2,1034.7 L304.3,1031.8 L305.6,1029.0 L306.9,1026.1 L308.2,1023.2 L309.5,1020.3 L310.6,1017.4 L311.6,1014.5 L312.4,1011.5 L313.0,1008.5 L313.4,1005.4 L313.6,1002.3 L313.5,999.2 L313.4,996.1 L313.2,992.9 L312.9,989.8 L312.6,986.6 L312.5,983.5 L312.4,980.4 L312.5,977.3 L312.8,974.2 L313.4,971.2 L314.1,968.2 L315.1,965.3 L316.2,962.4 L317.4,959.5 L318.7,956.6" stroke="#342e16" stroke-width="6.8"/><path d="M296.9,1083.4 L298.1,1080.5 L299.2,1077.6 L300.3,1074.7 L301.0,1071.7 L301.2,1068.6 L301.0,1065.5 L300.8,1062.3 L300.5,1059.2 L300.3,1056.0 L300.1,1052.9 L300.2,1049.8 L300.3,1046.7 L300.7,1043.7 L301.4,1040.7 L302.2,1037.7 L303.2,1034.7 L304.3,1031.8 L305.6,1029.0 L306.9,1026.1 L308.2,1023.2 L309.5,1020.3 L310.6,1017.4 L311.6,1014.5 L312.4,1011.5 L313.0,1008.5 L313.4,1005.4 L313.6,1002.3 L313.5,999.2 L313.4,996.1 L313.2,992.9 L312.9,989.8 L312.6,986.6 L312.5,983.5 L312.4,980.4 L312.5,977.3 L312.8,974.2 L313.4,971.2 L314.1,968.2 L315.1,965.3 L316.2,962.4 L317.4,959.5 L318.7,956.6" stroke="#908444" stroke-width="5.2"/><path d="M295.7,1083.2 L296.9,1080.3 L298.1,1077.4 L299.1,1074.5 L299.8,1071.5 L300.1,1068.4 L299.9,1065.3 L299.6,1062.1 L299.3,1059.0 L299.1,1055.8 L299.0,1052.7 L299.0,1049.6 L299.2,1046.5 L299.6,1043.4 L300.2,1040.4 L301.0,1037.5 L302.0,1034.5 L303.2,1031.6 L304.4,1028.7 L305.7,1025.9 L307.1,1023.0 L308.3,1020.1 L309.5,1017.2 L310.5,1014.2 L311.2,1011.3 L311.8,1008.3 L312.2,1005.2 L312.4,1002.1 L312.4,999.0 L312.2,995.9 L312.0,992.7 L311.7,989.6 L311.4,986.4 L311.3,983.3 L311.2,980.2 L311.3,977.1 L311.7,974.0 L312.2,971.0 L312.9,968.0 L313.9,965.1 L315.0,962.2 L316.2,959.3 L317.5,956.4" stroke="#aea365" stroke-width="1.8" opacity="0.85"/><ellipse cx="222.9" cy="902.7" rx="5.4" ry="2.1" transform="rotate(-46 222.9 902.7)" fill="#f4f4f0" stroke="none"/><ellipse cx="184.8" cy="908.1" rx="3.5" ry="2.3" transform="rotate(-39 184.8 908.1)" fill="#f4f4f0" stroke="none"/><path d="M105.7,864.8 L108.7,864.4 L111.7,863.9 L114.7,863.2 L117.6,862.3 L120.3,861.0 L123.0,859.5 L125.7,858.0 L128.3,856.5 L131.0,855.0 L133.7,853.6 L136.5,852.3 L139.3,851.2 L142.2,850.3 L145.1,849.5 L148.0,848.8 L151.0,848.3 L154.1,847.9 L157.1,847.5 L160.2,847.2 L163.2,846.8 L166.3,846.4 L169.3,845.9 L172.2,845.3 L175.1,844.5 L178.0,843.5 L180.8,842.4 L183.6,841.2 L186.3,839.8 L189.0,838.3 L191.7,836.8 L194.3,835.3 L197.0,833.7 L199.7,832.3 L202.4,830.9" stroke="#342e16" stroke-width="6.8"/><path d="M105.7,864.8 L108.7,864.4 L111.7,863.9 L114.7,863.2 L117.6,862.3 L120.3,861.0 L123.0,859.5 L125.7,858.0 L128.3,856.5 L131.0,855.0 L133.7,853.6 L136.5,852.3 L139.3,851.2 L142.2,850.3 L145.1,849.5 L148.0,848.8 L151.0,848.3 L154.1,847.9 L157.1,847.5 L160.2,847.2 L163.2,846.8 L166.3,846.4 L169.3,845.9 L172.2,845.3 L175.1,844.5 L178.0,843.5 L180.8,842.4 L183.6,841.2 L186.3,839.8 L189.0,838.3 L191.7,836.8 L194.3,835.3 L197.0,833.7 L199.7,832.3 L202.4,830.9" stroke="#7c713a" stroke-width="5.2"/><path d="M105.3,863.7 L108.3,863.2 L111.3,862.7 L114.3,862.1 L117.2,861.2 L119.9,859.9 L122.6,858.4 L125.3,856.8 L127.9,855.3 L130.6,853.8 L133.4,852.5 L136.1,851.2 L138.9,850.1 L141.8,849.1 L144.7,848.3 L147.6,847.7 L150.6,847.2 L153.7,846.7 L156.7,846.4 L159.8,846.0 L162.8,845.7 L165.9,845.3 L168.9,844.8 L171.8,844.1 L174.8,843.3 L177.6,842.4 L180.4,841.3 L183.2,840.0 L185.9,838.7 L188.6,837.2 L191.3,835.7 L193.9,834.1 L196.6,832.6 L199.3,831.1 L202.0,829.8" stroke="#aea365" stroke-width="1.8" opacity="0.85"/><path d="M322.9,1085.4 L323.8,1082.5 L324.6,1079.5 L325.2,1076.5 L325.5,1073.4 L325.2,1070.3 L324.7,1067.2 L324.2,1064.0 L323.8,1060.9 L323.6,1057.8 L323.5,1054.7 L323.7,1051.7 L324.1,1048.6 L324.8,1045.6 L325.7,1042.6 L326.7,1039.7 L327.9,1036.7 L329.0,1033.8 L330.1,1030.8 L331.1,1027.8 L331.9,1024.8 L332.5,1021.8 L332.9,1018.8 L333.0,1015.7 L332.8,1012.6 L332.5,1009.5 L332.1,1006.4 L331.6,1003.2 L331.1,1000.1 L330.7,997.0 L330.4,993.9 L330.4,990.8 L330.6,987.7 L331.0,984.7 L331.7,981.7 L332.6,978.7 L333.6,975.7 L334.8,972.8 L335.9,969.8 L337.0,966.9 L338.0,963.9 L338.8,960.9 L339.4,957.9" stroke="#342e16" stroke-width="6.8"/><path d="M322.9,1085.4 L323.8,1082.5 L324.6,1079.5 L325.2,1076.5 L325.5,1073.4 L325.2,1070.3 L324.7,1067.2 L324.2,1064.0 L323.8,1060.9 L323.6,1057.8 L323.5,1054.7 L323.7,1051.7 L324.1,1048.6 L324.8,1045.6 L325.7,1042.6 L326.7,1039.7 L327.9,1036.7 L329.0,1033.8 L330.1,1030.8 L331.1,1027.8 L331.9,1024.8 L332.5,1021.8 L332.9,1018.8 L333.0,1015.7 L332.8,1012.6 L332.5,1009.5 L332.1,1006.4 L331.6,1003.2 L331.1,1000.1 L330.7,997.0 L330.4,993.9 L330.4,990.8 L330.6,987.7 L331.0,984.7 L331.7,981.7 L332.6,978.7 L333.6,975.7 L334.8,972.8 L335.9,969.8 L337.0,966.9 L338.0,963.9 L338.8,960.9 L339.4,957.9" stroke="#867a3e" stroke-width="5.2"/><path d="M321.7,1085.3 L322.6,1082.3 L323.5,1079.3 L324.0,1076.3 L324.3,1073.3 L324.0,1070.2 L323.5,1067.0 L323.0,1063.9 L322.6,1060.8 L322.4,1057.7 L322.3,1054.6 L322.5,1051.5 L322.9,1048.5 L323.6,1045.5 L324.5,1042.5 L325.5,1039.5 L326.7,1036.6 L327.8,1033.6 L328.9,1030.7 L329.9,1027.7 L330.7,1024.7 L331.3,1021.7 L331.7,1018.6 L331.8,1015.6 L331.6,1012.5 L331.3,1009.4 L330.9,1006.2 L330.4,1003.1 L329.9,1000.0 L329.5,996.8 L329.3,993.7 L329.2,990.7 L329.4,987.6 L329.8,984.6 L330.5,981.6 L331.4,978.6 L332.4,975.6 L333.6,972.6 L334.7,969.7 L335.8,966.7 L336.8,963.8 L337.6,960.8 L338.2,957.8" stroke="#aea365" stroke-width="1.8" opacity="0.85"/><path d="M91.5,810.8 L94.6,811.1 L97.7,811.3 L100.8,811.5 L103.8,811.5 L106.9,811.2 L109.9,810.5 L112.9,809.8 L115.9,809.0 L118.9,808.2 L121.9,807.4 L124.9,806.7 L127.9,806.1 L130.9,805.6 L134.0,805.2 L137.0,804.9 L140.0,804.8 L143.1,804.8 L146.2,804.9 L149.3,805.1 L152.4,805.4 L155.4,805.7 L158.5,806.0 L161.6,806.2 L164.7,806.4 L167.8,806.6 L170.8,806.6 L173.9,806.5 L176.9,806.3 L180.0,805.9 L183.0,805.4 L186.0,804.8 L189.0,804.2 L192.0,803.4 L195.0,802.6" stroke="#342e16" stroke-width="6.8"/><path d="M91.5,810.8 L94.6,811.1 L97.7,811.3 L100.8,811.5 L103.8,811.5 L106.9,811.2 L109.9,810.5 L112.9,809.8 L115.9,809.0 L118.9,808.2 L121.9,807.4 L124.9,806.7 L127.9,806.1 L130.9,805.6 L134.0,805.2 L137.0,804.9 L140.0,804.8 L143.1,804.8 L146.2,804.9 L149.3,805.1 L152.4,805.4 L155.4,805.7 L158.5,806.0 L161.6,806.2 L164.7,806.4 L167.8,806.6 L170.8,806.6 L173.9,806.5 L176.9,806.3 L180.0,805.9 L183.0,805.4 L186.0,804.8 L189.0,804.2 L192.0,803.4 L195.0,802.6" stroke="#948848" stroke-width="5.2"/><path d="M91.4,809.6 L94.5,809.9 L97.6,810.1 L100.7,810.3 L103.7,810.3 L106.8,810.0 L109.8,809.3 L112.8,808.6 L115.8,807.8 L118.8,807.0 L121.8,806.2 L124.8,805.5 L127.8,804.9 L130.8,804.4 L133.9,804.0 L136.9,803.7 L140.0,803.6 L143.0,803.6 L146.1,803.7 L149.2,803.9 L152.3,804.2 L155.3,804.5 L158.4,804.8 L161.5,805.0 L164.6,805.2 L167.7,805.4 L170.7,805.4 L173.8,805.3 L176.8,805.1 L179.9,804.7 L182.9,804.2 L185.9,803.6 L188.9,803.0 L191.9,802.2 L194.9,801.4" stroke="#aea365" stroke-width="1.8" opacity="0.85"/><ellipse cx="189.4" cy="873.6" rx="3.3" ry="1.6" transform="rotate(-31 189.4 873.6)" fill="#f4f4f0" stroke="none"/><ellipse cx="172.0" cy="735.8" rx="5.1" ry="1.8" transform="rotate(19 172.0 735.8)" fill="#f4f4f0" stroke="none"/><path d="M111.7,882.0 L114.6,881.2 L117.6,880.6 L120.6,880.0 L123.6,879.3 L126.4,878.2 L129.1,876.7 L131.7,875.1 L134.2,873.3 L136.8,871.6 L139.3,869.8 L141.8,868.0 L144.4,866.4 L147.1,864.9 L149.8,863.5 L152.5,862.3 L155.4,861.3 L158.3,860.5 L161.3,859.8 L164.3,859.2 L167.3,858.6 L170.4,858.0 L173.4,857.5 L176.4,856.8 L179.4,856.0 L182.2,855.0 L185.0,853.9 L187.8,852.6 L190.4,851.2 L193.0,849.6 L195.6,847.9 L198.1,846.1 L200.7,844.3 L203.2,842.6 L205.8,840.9" stroke="#342e16" stroke-width="6.8"/><path d="M111.7,882.0 L114.6,881.2 L117.6,880.6 L120.6,880.0 L123.6,879.3 L126.4,878.2 L129.1,876.7 L131.7,875.1 L134.2,873.3 L136.8,871.6 L139.3,869.8 L141.8,868.0 L144.4,866.4 L147.1,864.9 L149.8,863.5 L152.5,862.3 L155.4,861.3 L158.3,860.5 L161.3,859.8 L164.3,859.2 L167.3,858.6 L170.4,858.0 L173.4,857.5 L176.4,856.8 L179.4,856.0 L182.2,855.0 L185.0,853.9 L187.8,852.6 L190.4,851.2 L193.0,849.6 L195.6,847.9 L198.1,846.1 L200.7,844.3 L203.2,842.6 L205.8,840.9" stroke="#7c713a" stroke-width="5.2"/><path d="M111.2,880.9 L114.1,880.1 L117.1,879.5 L120.2,878.9 L123.1,878.2 L126.0,877.1 L128.6,875.6 L131.2,874.0 L133.8,872.2 L136.3,870.5 L138.8,868.7 L141.4,866.9 L144.0,865.3 L146.6,863.8 L149.3,862.4 L152.1,861.2 L154.9,860.2 L157.9,859.4 L160.8,858.7 L163.8,858.0 L166.9,857.5 L169.9,856.9 L173.0,856.4 L176.0,855.7 L178.9,854.9 L181.8,853.9 L184.6,852.8 L187.3,851.5 L190.0,850.1 L192.6,848.5 L195.1,846.8 L197.7,845.0 L200.2,843.2 L202.7,841.4 L205.3,839.8" stroke="#b8ad6e" stroke-width="1.8" opacity="0.85"/><path d="M105.0,615.5 L107.2,617.6 L109.2,619.9 L111.3,622.2 L113.4,624.4 L115.8,626.3 L118.4,627.9 L121.1,629.3 L123.8,630.7 L126.6,632.0 L129.4,633.4 L132.2,634.7 L134.9,636.1 L137.6,637.5 L140.2,639.1 L142.7,640.8 L145.2,642.6 L147.5,644.5 L149.7,646.6 L151.9,648.7 L154.0,651.0 L156.1,653.2 L158.1,655.6 L160.2,657.9 L162.3,660.1 L164.4,662.3 L166.6,664.4 L168.9,666.4 L171.3,668.3 L173.8,670.0 L176.3,671.6 L179.0,673.2 L181.7,674.6 L184.4,676.0 L187.2,677.3 L190.0,678.6 L192.8,680.0 L195.5,681.4 L198.2,682.9 L200.7,684.5 L203.2,686.2 L205.6,688.0" stroke="#342e16" stroke-width="6.8"/><path d="M105.0,615.5 L107.2,617.6 L109.2,619.9 L111.3,622.2 L113.4,624.4 L115.8,626.3 L118.4,627.9 L121.1,629.3 L123.8,630.7 L126.6,632.0 L129.4,633.4 L132.2,634.7 L134.9,636.1 L137.6,637.5 L140.2,639.1 L142.7,640.8 L145.2,642.6 L147.5,644.5 L149.7,646.6 L151.9,648.7 L154.0,651.0 L156.1,653.2 L158.1,655.6 L160.2,657.9 L162.3,660.1 L164.4,662.3 L166.6,664.4 L168.9,666.4 L171.3,668.3 L173.8,670.0 L176.3,671.6 L179.0,673.2 L181.7,674.6 L184.4,676.0 L187.2,677.3 L190.0,678.6 L192.8,680.0 L195.5,681.4 L198.2,682.9 L200.7,684.5 L203.2,686.2 L205.6,688.0" stroke="#82773d" stroke-width="5.2"/><path d="M105.7,614.5 L107.9,616.7 L110.0,618.9 L112.0,621.2 L114.2,623.4 L116.5,625.4 L119.1,626.9 L121.8,628.4 L124.6,629.7 L127.3,631.1 L130.1,632.4 L132.9,633.7 L135.6,635.1 L138.3,636.6 L140.9,638.2 L143.5,639.8 L145.9,641.6 L148.2,643.6 L150.5,645.6 L152.6,647.8 L154.7,650.0 L156.8,652.3 L158.9,654.6 L160.9,656.9 L163.0,659.2 L165.1,661.4 L167.3,663.5 L169.6,665.5 L172.0,667.3 L174.5,669.1 L177.0,670.7 L179.7,672.2 L182.4,673.6 L185.2,675.0 L187.9,676.3 L190.7,677.6 L193.5,679.0 L196.2,680.4 L198.9,681.9 L201.5,683.5 L203.9,685.2 L206.3,687.1" stroke="#c2b77a" stroke-width="1.8" opacity="0.85"/><ellipse cx="178.8" cy="818.4" rx="6.2" ry="1.6" transform="rotate(-10 178.8 818.4)" fill="#f4f4f0" stroke="none"/><ellipse cx="210.4" cy="927.2" rx="5.7" ry="3.1" transform="rotate(-49 210.4 927.2)" fill="#1c2d66" stroke="none"/><path d="M336.7,1084.0 L337.5,1081.0 L338.1,1078.0 L338.6,1074.9 L338.7,1071.9 L338.5,1068.8 L338.0,1065.7 L337.5,1062.6 L337.1,1059.6 L336.8,1056.5 L336.7,1053.4 L336.8,1050.4 L337.1,1047.3 L337.6,1044.3 L338.3,1041.3 L339.2,1038.3 L340.1,1035.3 L341.1,1032.3 L342.0,1029.4 L342.8,1026.4 L343.4,1023.4 L343.9,1020.3 L344.1,1017.3 L344.2,1014.2 L344.0,1011.2 L343.7,1008.1 L343.2,1005.0 L342.7,1001.9 L342.3,998.8 L341.9,995.7 L341.6,992.7 L341.5,989.6 L341.6,986.5 L341.9,983.5 L342.4,980.5 L343.1,977.5 L344.0,974.5 L344.9,971.5 L345.8,968.5 L346.7,965.5 L347.6,962.6 L348.2,959.5 L348.7,956.5" stroke="#342e16" stroke-width="6.8"/><path d="M336.7,1084.0 L337.5,1081.0 L338.1,1078.0 L338.6,1074.9 L338.7,1071.9 L338.5,1068.8 L338.0,1065.7 L337.5,1062.6 L337.1,1059.6 L336.8,1056.5 L336.7,1053.4 L336.8,1050.4 L337.1,1047.3 L337.6,1044.3 L338.3,1041.3 L339.2,1038.3 L340.1,1035.3 L341.1,1032.3 L342.0,1029.4 L342.8,1026.4 L343.4,1023.4 L343.9,1020.3 L344.1,1017.3 L344.2,1014.2 L344.0,1011.2 L343.7,1008.1 L343.2,1005.0 L342.7,1001.9 L342.3,998.8 L341.9,995.7 L341.6,992.7 L341.5,989.6 L341.6,986.5 L341.9,983.5 L342.4,980.5 L343.1,977.5 L344.0,974.5 L344.9,971.5 L345.8,968.5 L346.7,965.5 L347.6,962.6 L348.2,959.5 L348.7,956.5" stroke="#867a3e" stroke-width="5.2"/><path d="M335.5,1083.9 L336.3,1080.9 L336.9,1077.9 L337.4,1074.9 L337.5,1071.8 L337.3,1068.7 L336.8,1065.6 L336.3,1062.6 L335.9,1059.5 L335.6,1056.4 L335.5,1053.3 L335.6,1050.3 L335.9,1047.2 L336.4,1044.2 L337.1,1041.2 L338.0,1038.2 L338.9,1035.2 L339.9,1032.3 L340.8,1029.3 L341.6,1026.3 L342.2,1023.3 L342.7,1020.2 L342.9,1017.2 L343.0,1014.2 L342.8,1011.1 L342.5,1008.0 L342.0,1004.9 L341.5,1001.8 L341.1,998.7 L340.7,995.6 L340.4,992.6 L340.3,989.5 L340.4,986.5 L340.7,983.4 L341.2,980.4 L341.9,977.4 L342.8,974.4 L343.7,971.4 L344.6,968.4 L345.6,965.5 L346.4,962.5 L347.0,959.5 L347.5,956.4" stroke="#aea365" stroke-width="1.8" opacity="0.85"/><path d="M86.8,678.4 L89.3,680.2 L91.9,682.0 L94.5,683.7 L97.2,685.2 L100.1,686.3 L103.1,687.1 L106.1,687.8 L109.2,688.5 L112.3,689.2 L115.3,690.0 L118.3,690.8 L121.3,691.7 L124.2,692.8 L127.0,694.0 L129.8,695.3 L132.5,696.8 L135.1,698.4 L137.7,700.2 L140.3,702.0 L142.8,703.8 L145.3,705.7 L147.8,707.6 L150.4,709.4 L153.0,711.1 L155.6,712.7 L158.3,714.2 L161.1,715.6 L163.9,716.8 L166.8,717.9 L169.7,718.8 L172.8,719.6 L175.8,720.4 L178.9,721.1 L181.9,721.8 L185.0,722.5 L188.0,723.3 L191.0,724.1 L193.9,725.1" stroke="#342e16" stroke-width="6.8"/><path d="M86.8,678.4 L89.3,680.2 L91.9,682.0 L94.5,683.7 L97.2,685.2 L100.1,686.3 L103.1,687.1 L106.1,687.8 L109.2,688.5 L112.3,689.2 L115.3,690.0 L118.3,690.8 L121.3,691.7 L124.2,692.8 L127.0,694.0 L129.8,695.3 L132.5,696.8 L135.1,698.4 L137.7,700.2 L140.3,702.0 L142.8,703.8 L145.3,705.7 L147.8,707.6 L150.4,709.4 L153.0,711.1 L155.6,712.7 L158.3,714.2 L161.1,715.6 L163.9,716.8 L166.8,717.9 L169.7,718.8 L172.8,719.6 L175.8,720.4 L178.9,721.1 L181.9,721.8 L185.0,722.5 L188.0,723.3 L191.0,724.1 L193.9,725.1" stroke="#7c713a" stroke-width="5.2"/><path d="M87.3,677.3 L89.8,679.1 L92.4,680.9 L95.0,682.6 L97.7,684.1 L100.6,685.2 L103.6,686.0 L106.6,686.7 L109.7,687.4 L112.8,688.1 L115.8,688.9 L118.8,689.7 L121.8,690.6 L124.7,691.7 L127.5,692.9 L130.3,694.2 L133.0,695.7 L135.6,697.3 L138.2,699.1 L140.8,700.9 L143.3,702.7 L145.8,704.6 L148.3,706.5 L150.9,708.3 L153.5,710.0 L156.1,711.7 L158.8,713.1 L161.6,714.5 L164.4,715.7 L167.3,716.8 L170.3,717.7 L173.3,718.5 L176.3,719.3 L179.4,720.0 L182.4,720.7 L185.5,721.4 L188.5,722.2 L191.5,723.0 L194.4,724.0" stroke="#aea365" stroke-width="1.8" opacity="0.85"/><path d="M139.6,566.6 L141.3,569.2 L142.9,571.8 L144.5,574.4 L146.2,577.0 L148.2,579.3 L150.6,581.2 L153.1,583.0 L155.6,584.8 L158.2,586.5 L160.7,588.2 L163.3,590.0 L165.8,591.8 L168.2,593.6 L170.6,595.6 L172.8,597.7 L174.9,599.8 L176.8,602.1 L178.7,604.5 L180.5,607.1 L182.1,609.6 L183.7,612.3 L185.3,614.9 L186.9,617.6 L188.5,620.3 L190.1,622.8 L191.9,625.4 L193.7,627.8 L195.7,630.1 L197.7,632.3 L199.9,634.4 L202.3,636.3 L204.7,638.2 L207.2,640.0 L209.7,641.8 L212.3,643.5 L214.9,645.2 L217.4,647.0 L219.9,648.8 L222.3,650.7 L224.6,652.7 L226.7,654.8 L228.8,657.1" stroke="#342e16" stroke-width="6.8"/><path d="M139.6,566.6 L141.3,569.2 L142.9,571.8 L144.5,574.4 L146.2,577.0 L148.2,579.3 L150.6,581.2 L153.1,583.0 L155.6,584.8 L158.2,586.5 L160.7,588.2 L163.3,590.0 L165.8,591.8 L168.2,593.6 L170.6,595.6 L172.8,597.7 L174.9,599.8 L176.8,602.1 L178.7,604.5 L180.5,607.1 L182.1,609.6 L183.7,612.3 L185.3,614.9 L186.9,617.6 L188.5,620.3 L190.1,622.8 L191.9,625.4 L193.7,627.8 L195.7,630.1 L197.7,632.3 L199.9,634.4 L202.3,636.3 L204.7,638.2 L207.2,640.0 L209.7,641.8 L212.3,643.5 L214.9,645.2 L217.4,647.0 L219.9,648.8 L222.3,650.7 L224.6,652.7 L226.7,654.8 L228.8,657.1" stroke="#82773d" stroke-width="5.2"/><path d="M140.5,565.8 L142.2,568.3 L143.8,571.0 L145.4,573.6 L147.1,576.2 L149.1,578.4 L151.5,580.3 L153.9,582.2 L156.5,583.9 L159.0,585.7 L161.6,587.4 L164.2,589.2 L166.7,590.9 L169.1,592.8 L171.4,594.8 L173.7,596.8 L175.7,599.0 L177.7,601.3 L179.6,603.7 L181.3,606.2 L183.0,608.8 L184.6,611.4 L186.2,614.1 L187.8,616.8 L189.4,619.4 L191.0,622.0 L192.7,624.5 L194.6,627.0 L196.5,629.3 L198.6,631.5 L200.8,633.6 L203.1,635.5 L205.5,637.4 L208.0,639.2 L210.6,641.0 L213.2,642.7 L215.7,644.4 L218.3,646.2 L220.7,648.0 L223.1,649.9 L225.4,651.9 L227.6,654.0 L229.6,656.2" stroke="#aea365" stroke-width="1.8" opacity="0.85"/><path d="M125.2,582.1 L127.0,584.6 L128.7,587.2 L130.4,589.7 L132.3,592.2 L134.4,594.3 L136.9,596.0 L139.5,597.7 L142.1,599.2 L144.8,600.8 L147.5,602.3 L150.2,603.9 L152.8,605.5 L155.3,607.3 L157.7,609.1 L160.0,611.0 L162.2,613.1 L164.3,615.3 L166.2,617.6 L168.1,620.0 L169.9,622.6 L171.6,625.1 L173.3,627.7 L175.0,630.3 L176.7,632.9 L178.5,635.4 L180.4,637.8 L182.3,640.1 L184.4,642.2 L186.7,644.3 L189.0,646.2 L191.4,648.0 L194.0,649.7 L196.6,651.3 L199.3,652.9 L202.0,654.4 L204.6,656.0 L207.3,657.6 L209.9,659.2 L212.3,661.0 L214.7,662.9 L217.0,664.9 L219.1,667.0" stroke="#342e16" stroke-width="6.8"/><path d="M125.2,582.1 L127.0,584.6 L128.7,587.2 L130.4,589.7 L132.3,592.2 L134.4,594.3 L136.9,596.0 L139.5,597.7 L142.1,599.2 L144.8,600.8 L147.5,602.3 L150.2,603.9 L152.8,605.5 L155.3,607.3 L157.7,609.1 L160.0,611.0 L162.2,613.1 L164.3,615.3 L166.2,617.6 L168.1,620.0 L169.9,622.6 L171.6,625.1 L173.3,627.7 L175.0,630.3 L176.7,632.9 L178.5,635.4 L180.4,637.8 L182.3,640.1 L184.4,642.2 L186.7,644.3 L189.0,646.2 L191.4,648.0 L194.0,649.7 L196.6,651.3 L199.3,652.9 L202.0,654.4 L204.6,656.0 L207.3,657.6 L209.9,659.2 L212.3,661.0 L214.7,662.9 L217.0,664.9 L219.1,667.0" stroke="#948848" stroke-width="5.2"/><path d="M126.0,581.2 L127.8,583.7 L129.5,586.3 L131.2,588.8 L133.1,591.3 L135.2,593.4 L137.7,595.1 L140.3,596.8 L143.0,598.4 L145.7,599.9 L148.3,601.5 L151.0,603.0 L153.6,604.7 L156.1,606.4 L158.6,608.2 L160.9,610.2 L163.1,612.2 L165.1,614.4 L167.1,616.7 L168.9,619.2 L170.7,621.7 L172.4,624.3 L174.1,626.9 L175.8,629.5 L177.5,632.0 L179.3,634.5 L181.2,636.9 L183.2,639.2 L185.3,641.4 L187.5,643.4 L189.8,645.3 L192.3,647.1 L194.8,648.8 L197.4,650.4 L200.1,652.0 L202.8,653.5 L205.5,655.1 L208.1,656.7 L210.7,658.4 L213.2,660.1 L215.5,662.0 L217.8,664.0 L219.9,666.1" stroke="#b8ad6e" stroke-width="1.8" opacity="0.85"/><ellipse cx="179.7" cy="653.5" rx="4.3" ry="2.6" transform="rotate(40 179.7 653.5)" fill="#f4f4f0" stroke="none"/><path d="M114.2,598.1 L116.3,600.3 L118.3,602.7 L120.3,605.0 L122.4,607.3 L124.6,609.4 L127.2,611.1 L129.8,612.7 L132.5,614.3 L135.2,615.9 L137.9,617.4 L140.6,619.0 L143.2,620.6 L145.8,622.4 L148.2,624.2 L150.6,626.2 L152.8,628.2 L155.0,630.4 L157.0,632.7 L159.1,635.1 L161.0,637.5 L163.0,639.9 L165.0,642.3 L167.0,644.6 L169.1,646.9 L171.3,649.1 L173.6,651.1 L176.0,653.0 L178.5,654.8 L181.0,656.5 L183.7,658.1 L186.4,659.7 L189.1,661.2 L191.8,662.8 L194.4,664.4 L197.0,666.1 L199.6,667.8 L202.0,669.7 L204.3,671.7 L206.5,673.8 L208.6,676.0 L210.7,678.4" stroke="#342e16" stroke-width="6.8"/><path d="M114.2,598.1 L116.3,600.3 L118.3,602.7 L120.3,605.0 L122.4,607.3 L124.6,609.4 L127.2,611.1 L129.8,612.7 L132.5,614.3 L135.2,615.9 L137.9,617.4 L140.6,619.0 L143.2,620.6 L145.8,622.4 L148.2,624.2 L150.6,626.2 L152.8,628.2 L155.0,630.4 L157.0,632.7 L159.1,635.1 L161.0,637.5 L163.0,639.9 L165.0,642.3 L167.0,644.6 L169.1,646.9 L171.3,649.1 L173.6,651.1 L176.0,653.0 L178.5,654.8 L181.0,656.5 L183.7,658.1 L186.4,659.7 L189.1,661.2 L191.8,662.8 L194.4,664.4 L197.0,666.1 L199.6,667.8 L202.0,669.7 L204.3,671.7 L206.5,673.8 L208.6,676.0 L210.7,678.4" stroke="#948848" stroke-width="5.2"/><path d="M114.9,597.1 L117.0,599.4 L119.1,601.7 L121.1,604.1 L123.1,606.4 L125.4,608.5 L128.0,610.2 L130.6,611.8 L133.3,613.4 L136.0,615.0 L138.7,616.5 L141.4,618.1 L144.0,619.7 L146.5,621.4 L149.0,623.3 L151.3,625.2 L153.6,627.3 L155.7,629.5 L157.8,631.8 L159.8,634.2 L161.8,636.6 L163.8,639.0 L165.8,641.4 L167.8,643.7 L169.9,646.0 L172.1,648.1 L174.4,650.2 L176.8,652.1 L179.2,653.9 L181.8,655.6 L184.5,657.2 L187.2,658.8 L189.9,660.3 L192.6,661.9 L195.2,663.5 L197.8,665.1 L200.3,666.9 L202.8,668.8 L205.1,670.8 L207.3,672.9 L209.4,675.1 L211.5,677.5" stroke="#b8ad6e" stroke-width="1.8" opacity="0.85"/><path d="M219.1,1044.0 L220.8,1041.4 L222.4,1038.8 L223.9,1036.2 L225.3,1033.4 L226.4,1030.6 L227.2,1027.6 L227.9,1024.6 L228.7,1021.6 L229.5,1018.7 L230.4,1015.7 L231.3,1012.8 L232.4,1010.0 L233.6,1007.2 L234.9,1004.4 L236.4,1001.8 L237.9,999.1 L239.6,996.6 L241.3,994.0 L243.1,991.5 L244.8,988.9 L246.5,986.4 L248.2,983.8 L249.7,981.2 L251.2,978.5 L252.5,975.8 L253.7,973.0 L254.8,970.1 L255.7,967.2 L256.6,964.3 L257.4,961.3 L258.1,958.3 L258.9,955.3 L259.7,952.3 L260.6,949.4 L261.6,946.5 L262.6,943.7 L263.8,940.9 L265.2,938.1 L266.7,935.5 L268.2,932.9" stroke="#342e16" stroke-width="6.8"/><path d="M219.1,1044.0 L220.8,1041.4 L222.4,1038.8 L223.9,1036.2 L225.3,1033.4 L226.4,1030.6 L227.2,1027.6 L227.9,1024.6 L228.7,1021.6 L229.5,1018.7 L230.4,1015.7 L231.3,1012.8 L232.4,1010.0 L233.6,1007.2 L234.9,1004.4 L236.4,1001.8 L237.9,999.1 L239.6,996.6 L241.3,994.0 L243.1,991.5 L244.8,988.9 L246.5,986.4 L248.2,983.8 L249.7,981.2 L251.2,978.5 L252.5,975.8 L253.7,973.0 L254.8,970.1 L255.7,967.2 L256.6,964.3 L257.4,961.3 L258.1,958.3 L258.9,955.3 L259.7,952.3 L260.6,949.4 L261.6,946.5 L262.6,943.7 L263.8,940.9 L265.2,938.1 L266.7,935.5 L268.2,932.9" stroke="#867a3e" stroke-width="5.2"/><path d="M218.0,1043.5 L219.7,1040.9 L221.3,1038.3 L222.9,1035.7 L224.2,1032.9 L225.3,1030.1 L226.1,1027.1 L226.8,1024.1 L227.6,1021.1 L228.4,1018.2 L229.3,1015.2 L230.2,1012.3 L231.3,1009.5 L232.5,1006.7 L233.8,1003.9 L235.3,1001.3 L236.8,998.6 L238.5,996.1 L240.2,993.5 L242.0,991.0 L243.7,988.4 L245.4,985.9 L247.1,983.3 L248.7,980.7 L250.1,978.0 L251.4,975.3 L252.6,972.5 L253.7,969.6 L254.6,966.7 L255.5,963.8 L256.3,960.8 L257.0,957.8 L257.8,954.8 L258.6,951.8 L259.5,948.9 L260.5,946.0 L261.5,943.2 L262.8,940.4 L264.1,937.6 L265.6,935.0 L267.1,932.4" stroke="#b8ad6e" stroke-width="1.8" opacity="0.85"/><path d="M235.0,1056.1 L236.6,1053.4 L238.3,1050.8 L239.8,1048.2 L241.2,1045.5 L242.2,1042.7 L242.8,1039.6 L243.3,1036.6 L243.7,1033.5 L244.2,1030.5 L244.6,1027.4 L245.2,1024.4 L245.8,1021.4 L246.7,1018.5 L247.6,1015.6 L248.8,1012.8 L250.1,1010.1 L251.5,1007.4 L253.1,1004.8 L254.8,1002.2 L256.5,999.6 L258.2,997.1 L259.9,994.5 L261.5,991.9 L263.0,989.2 L264.4,986.5 L265.6,983.7 L266.6,980.9 L267.5,978.0 L268.2,975.0 L268.8,972.0 L269.3,969.0 L269.7,965.9 L270.1,962.8 L270.6,959.8 L271.1,956.7 L271.8,953.8 L272.6,950.8 L273.5,948.0 L274.7,945.2 L275.9,942.4 L277.4,939.8" stroke="#342e16" stroke-width="6.8"/><path d="M235.0,1056.1 L236.6,1053.4 L238.3,1050.8 L239.8,1048.2 L241.2,1045.5 L242.2,1042.7 L242.8,1039.6 L243.3,1036.6 L243.7,1033.5 L244.2,1030.5 L244.6,1027.4 L245.2,1024.4 L245.8,1021.4 L246.7,1018.5 L247.6,1015.6 L248.8,1012.8 L250.1,1010.1 L251.5,1007.4 L253.1,1004.8 L254.8,1002.2 L256.5,999.6 L258.2,997.1 L259.9,994.5 L261.5,991.9 L263.0,989.2 L264.4,986.5 L265.6,983.7 L266.6,980.9 L267.5,978.0 L268.2,975.0 L268.8,972.0 L269.3,969.0 L269.7,965.9 L270.1,962.8 L270.6,959.8 L271.1,956.7 L271.8,953.8 L272.6,950.8 L273.5,948.0 L274.7,945.2 L275.9,942.4 L277.4,939.8" stroke="#82773d" stroke-width="5.2"/><path d="M233.9,1055.6 L235.5,1053.0 L237.1,1050.4 L238.7,1047.8 L240.1,1045.1 L241.1,1042.2 L241.7,1039.2 L242.2,1036.2 L242.6,1033.1 L243.0,1030.0 L243.5,1027.0 L244.1,1024.0 L244.7,1021.0 L245.5,1018.1 L246.5,1015.2 L247.7,1012.4 L249.0,1009.7 L250.4,1007.0 L252.0,1004.4 L253.7,1001.8 L255.4,999.2 L257.1,996.6 L258.8,994.1 L260.4,991.4 L261.9,988.8 L263.3,986.1 L264.5,983.3 L265.5,980.5 L266.4,977.5 L267.1,974.6 L267.6,971.6 L268.1,968.5 L268.6,965.5 L269.0,962.4 L269.5,959.3 L270.0,956.3 L270.7,953.3 L271.5,950.4 L272.4,947.5 L273.5,944.7 L274.8,942.0 L276.3,939.3" stroke="#c2b77a" stroke-width="1.8" opacity="0.85"/><path d="M112.0,601.7 L114.1,604.0 L116.0,606.5 L117.9,609.0 L119.7,611.5 L121.9,613.7 L124.5,615.4 L127.1,617.1 L129.8,618.6 L132.6,620.0 L135.4,621.4 L138.2,622.8 L141.0,624.1 L143.8,625.6 L146.5,627.1 L149.1,628.7 L151.7,630.5 L154.1,632.4 L156.4,634.4 L158.6,636.5 L160.6,638.8 L162.6,641.2 L164.6,643.6 L166.5,646.1 L168.4,648.7 L170.3,651.2 L172.2,653.6 L174.2,656.0 L176.3,658.3 L178.5,660.4 L180.8,662.4 L183.2,664.3 L185.7,666.1 L188.3,667.7 L191.0,669.2 L193.8,670.7 L196.6,672.1 L199.4,673.4 L202.2,674.8 L205.0,676.3 L207.7,677.8 L210.4,679.4" stroke="#342e16" stroke-width="6.8"/><path d="M112.0,601.7 L114.1,604.0 L116.0,606.5 L117.9,609.0 L119.7,611.5 L121.9,613.7 L124.5,615.4 L127.1,617.1 L129.8,618.6 L132.6,620.0 L135.4,621.4 L138.2,622.8 L141.0,624.1 L143.8,625.6 L146.5,627.1 L149.1,628.7 L151.7,630.5 L154.1,632.4 L156.4,634.4 L158.6,636.5 L160.6,638.8 L162.6,641.2 L164.6,643.6 L166.5,646.1 L168.4,648.7 L170.3,651.2 L172.2,653.6 L174.2,656.0 L176.3,658.3 L178.5,660.4 L180.8,662.4 L183.2,664.3 L185.7,666.1 L188.3,667.7 L191.0,669.2 L193.8,670.7 L196.6,672.1 L199.4,673.4 L202.2,674.8 L205.0,676.3 L207.7,677.8 L210.4,679.4" stroke="#948848" stroke-width="5.2"/><path d="M112.8,600.8 L114.8,603.1 L116.7,605.6 L118.6,608.1 L120.5,610.6 L122.7,612.8 L125.2,614.5 L127.9,616.1 L130.6,617.6 L133.4,619.1 L136.2,620.5 L139.0,621.8 L141.8,623.2 L144.6,624.7 L147.3,626.2 L149.9,627.8 L152.4,629.6 L154.8,631.4 L157.1,633.5 L159.3,635.6 L161.4,637.9 L163.4,640.3 L165.3,642.7 L167.2,645.2 L169.1,647.7 L171.0,650.2 L173.0,652.7 L175.0,655.1 L177.0,657.3 L179.2,659.5 L181.5,661.5 L183.9,663.4 L186.4,665.2 L189.1,666.8 L191.8,668.3 L194.5,669.8 L197.3,671.1 L200.2,672.5 L203.0,673.9 L205.8,675.3 L208.5,676.8 L211.1,678.4" stroke="#c2b77a" stroke-width="1.8" opacity="0.85"/><path d="M191.7,1017.8 L193.7,1015.4 L195.7,1013.1 L197.6,1010.6 L199.3,1008.0 L200.6,1005.3 L201.8,1002.4 L202.9,999.5 L204.1,996.6 L205.3,993.7 L206.5,990.8 L207.9,988.1 L209.4,985.4 L211.0,982.8 L212.7,980.2 L214.6,977.8 L216.6,975.4 L218.7,973.1 L220.8,970.7 L222.9,968.4 L224.9,966.1 L226.9,963.7 L228.8,961.3 L230.6,958.8 L232.2,956.2 L233.7,953.5 L235.1,950.7 L236.4,947.9 L237.6,945.0 L238.7,942.1 L239.8,939.2 L241.0,936.3 L242.2,933.4 L243.5,930.6 L244.9,927.9 L246.5,925.2 L248.2,922.7 L250.0,920.2 L251.9,917.8" stroke="#342e16" stroke-width="6.8"/><path d="M191.7,1017.8 L193.7,1015.4 L195.7,1013.1 L197.6,1010.6 L199.3,1008.0 L200.6,1005.3 L201.8,1002.4 L202.9,999.5 L204.1,996.6 L205.3,993.7 L206.5,990.8 L207.9,988.1 L209.4,985.4 L211.0,982.8 L212.7,980.2 L214.6,977.8 L216.6,975.4 L218.7,973.1 L220.8,970.7 L222.9,968.4 L224.9,966.1 L226.9,963.7 L228.8,961.3 L230.6,958.8 L232.2,956.2 L233.7,953.5 L235.1,950.7 L236.4,947.9 L237.6,945.0 L238.7,942.1 L239.8,939.2 L241.0,936.3 L242.2,933.4 L243.5,930.6 L244.9,927.9 L246.5,925.2 L248.2,922.7 L250.0,920.2 L251.9,917.8" stroke="#948848" stroke-width="5.2"/><path d="M190.7,1017.2 L192.7,1014.8 L194.7,1012.4 L196.6,1010.0 L198.2,1007.4 L199.6,1004.6 L200.8,1001.7 L201.9,998.8 L203.1,995.9 L204.2,993.0 L205.5,990.2 L206.9,987.4 L208.3,984.7 L210.0,982.1 L211.7,979.6 L213.6,977.2 L215.6,974.8 L217.6,972.4 L219.7,970.1 L221.8,967.8 L223.9,965.5 L225.9,963.1 L227.8,960.6 L229.6,958.1 L231.2,955.5 L232.7,952.8 L234.1,950.1 L235.3,947.3 L236.5,944.4 L237.7,941.5 L238.8,938.6 L240.0,935.7 L241.2,932.8 L242.5,930.0 L243.9,927.3 L245.5,924.6 L247.2,922.0 L249.0,919.6 L250.9,917.1" stroke="#b8ad6e" stroke-width="1.8" opacity="0.85"/><path d="M156.6,972.3 L159.2,970.6 L161.7,968.7 L164.0,966.7 L166.0,964.4 L167.7,961.8 L169.2,959.0 L170.6,956.2 L172.2,953.5 L173.8,950.8 L175.6,948.3 L177.5,945.9 L179.6,943.7 L181.9,941.7 L184.4,939.8 L187.0,938.0 L189.7,936.4 L192.4,934.8 L195.1,933.2 L197.8,931.5 L200.4,929.8 L202.8,927.9 L205.1,925.9 L207.3,923.7 L209.2,921.3 L211.0,918.8 L212.6,916.1 L214.1,913.4 L215.6,910.5 L217.1,907.7 L218.6,905.0 L220.2,902.3 L222.0,899.7 L223.9,897.3 L225.9,895.1 L228.2,893.0 L230.6,891.1" stroke="#342e16" stroke-width="6.8"/><path d="M156.6,972.3 L159.2,970.6 L161.7,968.7 L164.0,966.7 L166.0,964.4 L167.7,961.8 L169.2,959.0 L170.6,956.2 L172.2,953.5 L173.8,950.8 L175.6,948.3 L177.5,945.9 L179.6,943.7 L181.9,941.7 L184.4,939.8 L187.0,938.0 L189.7,936.4 L192.4,934.8 L195.1,933.2 L197.8,931.5 L200.4,929.8 L202.8,927.9 L205.1,925.9 L207.3,923.7 L209.2,921.3 L211.0,918.8 L212.6,916.1 L214.1,913.4 L215.6,910.5 L217.1,907.7 L218.6,905.0 L220.2,902.3 L222.0,899.7 L223.9,897.3 L225.9,895.1 L228.2,893.0 L230.6,891.1" stroke="#948848" stroke-width="5.2"/><path d="M155.7,971.5 L158.3,969.7 L160.8,967.9 L163.1,965.9 L165.2,963.6 L166.8,961.0 L168.3,958.2 L169.8,955.4 L171.3,952.6 L172.9,950.0 L174.7,947.4 L176.7,945.1 L178.8,942.9 L181.1,940.8 L183.5,939.0 L186.1,937.2 L188.8,935.6 L191.5,933.9 L194.3,932.3 L196.9,930.7 L199.5,928.9 L202.0,927.1 L204.3,925.0 L206.4,922.8 L208.3,920.5 L210.1,917.9 L211.7,915.3 L213.3,912.5 L214.7,909.7 L216.2,906.9 L217.7,904.1 L219.3,901.5 L221.1,898.9 L223.0,896.5 L225.1,894.3 L227.3,892.2 L229.7,890.3" stroke="#c2b77a" stroke-width="1.8" opacity="0.85"/><path d="M419.6,740.4 L416.5,741.1 L413.5,741.8 L410.5,742.5 L407.5,743.4 L404.6,744.6 L401.9,746.1 L399.1,747.6 L396.4,749.1 L393.7,750.6 L390.9,752.1 L388.2,753.5" stroke="#3a3a30" stroke-width="3.4"/><path d="M419.6,740.4 L416.5,741.1 L413.5,741.8 L410.5,742.5 L407.5,743.4 L404.6,744.6 L401.9,746.1 L399.1,747.6 L396.4,749.1 L393.7,750.6 L390.9,752.1 L388.2,753.5" stroke="#b8b392" stroke-width="1.9"/><path d="M88.7,667.4 L91.2,669.2 L93.6,671.2 L96.0,673.0 L98.6,674.8 L101.3,676.1 L104.2,677.0 L107.2,677.8 L110.3,678.5 L113.3,679.2 L116.3,679.9 L119.3,680.8 L122.2,681.8 L125.0,682.9 L127.8,684.2 L130.4,685.7 L133.0,687.3 L135.4,689.2 L137.9,691.1 L140.2,693.1 L142.6,695.1 L145.0,697.1 L147.4,699.1 L149.9,700.9 L152.4,702.6 L155.0,704.1 L157.8,705.4 L160.6,706.6 L163.5,707.5 L166.5,708.4 L169.5,709.2 L172.5,709.9 L175.5,710.6 L178.5,711.4 L181.5,712.2 L184.4,713.2 L187.2,714.4 L189.9,715.8 L192.5,717.3 L195.1,719.0" stroke="#342e16" stroke-width="6.8"/><path d="M88.7,667.4 L91.2,669.2 L93.6,671.2 L96.0,673.0 L98.6,674.8 L101.3,676.1 L104.2,677.0 L107.2,677.8 L110.3,678.5 L113.3,679.2 L116.3,679.9 L119.3,680.8 L122.2,681.8 L125.0,682.9 L127.8,684.2 L130.4,685.7 L133.0,687.3 L135.4,689.2 L137.9,691.1 L140.2,693.1 L142.6,695.1 L145.0,697.1 L147.4,699.1 L149.9,700.9 L152.4,702.6 L155.0,704.1 L157.8,705.4 L160.6,706.6 L163.5,707.5 L166.5,708.4 L169.5,709.2 L172.5,709.9 L175.5,710.6 L178.5,711.4 L181.5,712.2 L184.4,713.2 L187.2,714.4 L189.9,715.8 L192.5,717.3 L195.1,719.0" stroke="#867a3e" stroke-width="5.2"/><path d="M89.3,666.3 L91.7,668.2 L94.1,670.1 L96.6,672.0 L99.1,673.7 L101.8,675.0 L104.8,675.9 L107.8,676.7 L110.8,677.4 L113.8,678.1 L116.9,678.9 L119.8,679.7 L122.7,680.7 L125.6,681.8 L128.3,683.1 L130.9,684.6 L133.5,686.3 L136.0,688.1 L138.4,690.0 L140.8,692.0 L143.1,694.1 L145.5,696.1 L147.9,698.0 L150.4,699.8 L153.0,701.5 L155.6,703.0 L158.3,704.3 L161.1,705.5 L164.0,706.5 L167.0,707.3 L170.0,708.1 L173.0,708.8 L176.1,709.5 L179.1,710.3 L182.0,711.2 L184.9,712.2 L187.7,713.3 L190.4,714.7 L193.1,716.2 L195.6,717.9" stroke="#b8ad6e" stroke-width="1.8" opacity="0.85"/><path d="M188.8,541.2 L190.3,543.8 L191.7,546.6 L193.0,549.3 L194.4,552.0 L196.0,554.6 L197.9,557.0 L199.8,559.3 L201.9,561.5 L204.0,563.7 L206.2,565.8 L208.4,568.0 L210.5,570.1 L212.6,572.3 L214.7,574.6 L216.6,576.9 L218.5,579.3 L220.2,581.7 L221.9,584.2 L223.4,586.8 L224.9,589.5 L226.3,592.2 L227.6,595.0 L229.0,597.7 L230.3,600.5 L231.7,603.2 L233.1,605.9 L234.6,608.5 L236.2,611.0 L237.9,613.5 L239.7,615.9 L241.7,618.3 L243.7,620.5 L245.8,622.7 L247.9,624.9 L250.1,627.1 L252.2,629.2 L254.4,631.4 L256.5,633.6 L258.5,635.9 L260.4,638.2 L262.3,640.6" stroke="#342e16" stroke-width="6.8"/><path d="M188.8,541.2 L190.3,543.8 L191.7,546.6 L193.0,549.3 L194.4,552.0 L196.0,554.6 L197.9,557.0 L199.8,559.3 L201.9,561.5 L204.0,563.7 L206.2,565.8 L208.4,568.0 L210.5,570.1 L212.6,572.3 L214.7,574.6 L216.6,576.9 L218.5,579.3 L220.2,581.7 L221.9,584.2 L223.4,586.8 L224.9,589.5 L226.3,592.2 L227.6,595.0 L229.0,597.7 L230.3,600.5 L231.7,603.2 L233.1,605.9 L234.6,608.5 L236.2,611.0 L237.9,613.5 L239.7,615.9 L241.7,618.3 L243.7,620.5 L245.8,622.7 L247.9,624.9 L250.1,627.1 L252.2,629.2 L254.4,631.4 L256.5,633.6 L258.5,635.9 L260.4,638.2 L262.3,640.6" stroke="#908444" stroke-width="5.2"/><path d="M189.8,540.5 L191.3,543.1 L192.7,545.9 L194.0,548.6 L195.4,551.3 L196.9,553.9 L198.8,556.3 L200.8,558.6 L202.9,560.8 L205.0,563.0 L207.2,565.1 L209.4,567.3 L211.5,569.4 L213.6,571.6 L215.7,573.9 L217.6,576.2 L219.5,578.6 L221.2,581.0 L222.9,583.5 L224.4,586.1 L225.9,588.8 L227.3,591.5 L228.6,594.3 L229.9,597.0 L231.3,599.8 L232.7,602.5 L234.1,605.2 L235.6,607.8 L237.2,610.3 L238.9,612.8 L240.7,615.2 L242.6,617.6 L244.6,619.8 L246.7,622.0 L248.9,624.2 L251.0,626.4 L253.2,628.5 L255.4,630.7 L257.5,632.9 L259.5,635.2 L261.4,637.5 L263.2,639.9" stroke="#b8ad6e" stroke-width="1.8" opacity="0.85"/><path d="M140.0,944.6 L142.8,943.2 L145.6,941.8 L148.4,940.4 L151.0,938.7 L153.2,936.7 L155.2,934.3 L157.1,931.8 L159.0,929.3 L160.8,926.8 L162.7,924.2 L164.7,921.8 L166.7,919.5 L168.9,917.3 L171.1,915.2 L173.5,913.3 L176.0,911.6 L178.6,910.0 L181.3,908.5 L184.1,907.1 L187.0,905.7 L189.8,904.4 L192.7,903.1 L195.5,901.7 L198.2,900.3 L200.9,898.7 L203.4,897.0 L205.8,895.1 L208.1,893.1 L210.3,891.0 L212.3,888.7 L214.3,886.3 L216.2,883.8 L218.1,881.3 L220.0,878.7 L221.8,876.2" stroke="#342e16" stroke-width="6.8"/><path d="M140.0,944.6 L142.8,943.2 L145.6,941.8 L148.4,940.4 L151.0,938.7 L153.2,936.7 L155.2,934.3 L157.1,931.8 L159.0,929.3 L160.8,926.8 L162.7,924.2 L164.7,921.8 L166.7,919.5 L168.9,917.3 L171.1,915.2 L173.5,913.3 L176.0,911.6 L178.6,910.0 L181.3,908.5 L184.1,907.1 L187.0,905.7 L189.8,904.4 L192.7,903.1 L195.5,901.7 L198.2,900.3 L200.9,898.7 L203.4,897.0 L205.8,895.1 L208.1,893.1 L210.3,891.0 L212.3,888.7 L214.3,886.3 L216.2,883.8 L218.1,881.3 L220.0,878.7 L221.8,876.2" stroke="#867a3e" stroke-width="5.2"/><path d="M139.3,943.7 L142.0,942.3 L144.8,940.9 L147.6,939.4 L150.2,937.8 L152.5,935.8 L154.4,933.4 L156.4,930.9 L158.2,928.4 L160.1,925.8 L162.0,923.3 L163.9,920.9 L166.0,918.6 L168.1,916.4 L170.3,914.3 L172.7,912.4 L175.2,910.6 L177.8,909.0 L180.6,907.5 L183.3,906.1 L186.2,904.8 L189.1,903.5 L191.9,902.2 L194.7,900.8 L197.5,899.3 L200.1,897.8 L202.6,896.1 L205.1,894.2 L207.4,892.2 L209.5,890.0 L211.6,887.7 L213.6,885.3 L215.5,882.9 L217.3,880.3 L219.2,877.8 L221.1,875.3" stroke="#b8ad6e" stroke-width="1.8" opacity="0.85"/><path d="M376.6,1067.5 L377.0,1064.5 L377.2,1061.5 L377.4,1058.5 L377.3,1055.5 L377.0,1052.5 L376.4,1049.5 L375.8,1046.5 L375.2,1043.5 L374.7,1040.5 L374.3,1037.5 L374.0,1034.5 L373.9,1031.5 L373.8,1028.5 L374.0,1025.5 L374.2,1022.5 L374.6,1019.5 L375.0,1016.5 L375.5,1013.5 L375.9,1010.5 L376.4,1007.5 L376.7,1004.4 L376.9,1001.4 L377.0,998.4 L377.0,995.4 L376.8,992.4 L376.5,989.4 L376.0,986.4 L375.5,983.4 L374.9,980.4 L374.3,977.5 L373.7,974.5 L373.2,971.5 L372.8,968.5 L372.5,965.5 L372.3,962.5 L372.3,959.5 L372.4,956.5 L372.7,953.5 L373.0,950.4 L373.4,947.4 L373.9,944.4" stroke="#342e16" stroke-width="6.8"/><path d="M376.6,1067.5 L377.0,1064.5 L377.2,1061.5 L377.4,1058.5 L377.3,1055.5 L377.0,1052.5 L376.4,1049.5 L375.8,1046.5 L375.2,1043.5 L374.7,1040.5 L374.3,1037.5 L374.0,1034.5 L373.9,1031.5 L373.8,1028.5 L374.0,1025.5 L374.2,1022.5 L374.6,1019.5 L375.0,1016.5 L375.5,1013.5 L375.9,1010.5 L376.4,1007.5 L376.7,1004.4 L376.9,1001.4 L377.0,998.4 L377.0,995.4 L376.8,992.4 L376.5,989.4 L376.0,986.4 L375.5,983.4 L374.9,980.4 L374.3,977.5 L373.7,974.5 L373.2,971.5 L372.8,968.5 L372.5,965.5 L372.3,962.5 L372.3,959.5 L372.4,956.5 L372.7,953.5 L373.0,950.4 L373.4,947.4 L373.9,944.4" stroke="#948848" stroke-width="5.2"/><path d="M375.4,1067.6 L375.8,1064.5 L376.0,1061.5 L376.2,1058.5 L376.1,1055.5 L375.8,1052.5 L375.2,1049.5 L374.6,1046.5 L374.0,1043.6 L373.5,1040.6 L373.1,1037.6 L372.8,1034.6 L372.7,1031.6 L372.6,1028.6 L372.8,1025.6 L373.0,1022.5 L373.4,1019.5 L373.8,1016.5 L374.3,1013.5 L374.7,1010.5 L375.2,1007.5 L375.5,1004.5 L375.7,1001.5 L375.8,998.4 L375.8,995.4 L375.6,992.4 L375.3,989.4 L374.8,986.5 L374.3,983.5 L373.7,980.5 L373.1,977.5 L372.5,974.5 L372.0,971.5 L371.6,968.5 L371.3,965.5 L371.1,962.5 L371.1,959.5 L371.2,956.5 L371.5,953.5 L371.8,950.5 L372.2,947.5 L372.7,944.4" stroke="#aea365" stroke-width="1.8" opacity="0.85"/><path d="M365.9,1074.0 L366.4,1071.0 L366.8,1067.9 L367.2,1064.9 L367.4,1061.8 L367.1,1058.8 L366.6,1055.7 L366.0,1052.7 L365.4,1049.6 L364.8,1046.6 L364.4,1043.5 L364.1,1040.5 L363.9,1037.4 L363.9,1034.4 L364.1,1031.3 L364.5,1028.3 L365.0,1025.2 L365.6,1022.2 L366.2,1019.1 L366.8,1016.1 L367.4,1013.0 L367.9,1010.0 L368.2,1006.9 L368.4,1003.9 L368.4,1000.8 L368.3,997.8 L368.0,994.7 L367.5,991.7 L366.9,988.6 L366.3,985.6 L365.7,982.5 L365.2,979.5 L364.7,976.4 L364.4,973.4 L364.3,970.3 L364.3,967.3 L364.5,964.2 L364.8,961.2 L365.3,958.1 L365.9,955.1 L366.6,952.0 L367.2,949.0" stroke="#342e16" stroke-width="6.8"/><path d="M365.9,1074.0 L366.4,1071.0 L366.8,1067.9 L367.2,1064.9 L367.4,1061.8 L367.1,1058.8 L366.6,1055.7 L366.0,1052.7 L365.4,1049.6 L364.8,1046.6 L364.4,1043.5 L364.1,1040.5 L363.9,1037.4 L363.9,1034.4 L364.1,1031.3 L364.5,1028.3 L365.0,1025.2 L365.6,1022.2 L366.2,1019.1 L366.8,1016.1 L367.4,1013.0 L367.9,1010.0 L368.2,1006.9 L368.4,1003.9 L368.4,1000.8 L368.3,997.8 L368.0,994.7 L367.5,991.7 L366.9,988.6 L366.3,985.6 L365.7,982.5 L365.2,979.5 L364.7,976.4 L364.4,973.4 L364.3,970.3 L364.3,967.3 L364.5,964.2 L364.8,961.2 L365.3,958.1 L365.9,955.1 L366.6,952.0 L367.2,949.0" stroke="#82773d" stroke-width="5.2"/><path d="M364.7,1074.0 L365.2,1071.0 L365.6,1067.9 L366.0,1064.9 L366.2,1061.8 L365.9,1058.8 L365.4,1055.7 L364.8,1052.7 L364.2,1049.6 L363.6,1046.6 L363.2,1043.5 L362.9,1040.5 L362.7,1037.4 L362.7,1034.4 L362.9,1031.3 L363.3,1028.3 L363.8,1025.2 L364.4,1022.2 L365.0,1019.1 L365.6,1016.1 L366.2,1013.0 L366.7,1010.0 L367.0,1006.9 L367.2,1003.9 L367.2,1000.8 L367.1,997.8 L366.8,994.7 L366.3,991.7 L365.7,988.6 L365.1,985.6 L364.5,982.5 L364.0,979.5 L363.5,976.4 L363.2,973.4 L363.1,970.3 L363.1,967.3 L363.3,964.2 L363.6,961.2 L364.1,958.1 L364.7,955.1 L365.4,952.0 L366.0,949.0" stroke="#b8ad6e" stroke-width="1.8" opacity="0.85"/><ellipse cx="217.1" cy="931.3" rx="3.0" ry="1.9" transform="rotate(-51 217.1 931.3)" fill="#1c2d66" stroke="none"/><path d="M245.9,544.5 L246.8,547.5 L247.7,550.4 L248.7,553.3 L249.9,556.1 L251.6,558.7 L253.5,561.1 L255.6,563.4 L257.6,565.8 L259.7,568.1 L261.6,570.5 L263.5,573.0 L265.3,575.5 L266.9,578.0 L268.3,580.7 L269.6,583.5 L270.8,586.3 L271.8,589.2 L272.7,592.1 L273.5,595.1 L274.3,598.1 L275.1,601.2 L276.0,604.1 L276.9,607.1 L277.9,610.0 L279.1,612.8 L280.4,615.5 L281.9,618.2 L283.6,620.7 L285.3,623.2 L287.2,625.7 L289.2,628.0 L291.3,630.4 L293.3,632.7 L295.4,635.1 L297.3,637.5 L299.2,639.9 L300.9,642.4" stroke="#342e16" stroke-width="6.8"/><path d="M245.9,544.5 L246.8,547.5 L247.7,550.4 L248.7,553.3 L249.9,556.1 L251.6,558.7 L253.5,561.1 L255.6,563.4 L257.6,565.8 L259.7,568.1 L261.6,570.5 L263.5,573.0 L265.3,575.5 L266.9,578.0 L268.3,580.7 L269.6,583.5 L270.8,586.3 L271.8,589.2 L272.7,592.1 L273.5,595.1 L274.3,598.1 L275.1,601.2 L276.0,604.1 L276.9,607.1 L277.9,610.0 L279.1,612.8 L280.4,615.5 L281.9,618.2 L283.6,620.7 L285.3,623.2 L287.2,625.7 L289.2,628.0 L291.3,630.4 L293.3,632.7 L295.4,635.1 L297.3,637.5 L299.2,639.9 L300.9,642.4" stroke="#948848" stroke-width="5.2"/><path d="M246.9,543.9 L247.8,546.9 L248.7,549.9 L249.7,552.8 L251.0,555.5 L252.6,558.1 L254.6,560.5 L256.6,562.9 L258.7,565.2 L260.7,567.6 L262.7,569.9 L264.6,572.4 L266.3,574.9 L267.9,577.5 L269.4,580.1 L270.7,582.9 L271.8,585.7 L272.8,588.6 L273.7,591.6 L274.6,594.6 L275.4,597.6 L276.2,600.6 L277.0,603.6 L278.0,606.5 L279.0,609.4 L280.2,612.2 L281.5,615.0 L283.0,617.6 L284.6,620.2 L286.4,622.7 L288.3,625.1 L290.3,627.5 L292.3,629.8 L294.4,632.2 L296.4,634.5 L298.4,636.9 L300.2,639.4 L302.0,641.9" stroke="#b8ad6e" stroke-width="1.8" opacity="0.85"/><ellipse cx="210.7" cy="649.6" rx="6.8" ry="3.0" transform="rotate(46 210.7 649.6)" fill="#1c2d66" stroke="none"/><ellipse cx="190.4" cy="844.3" rx="4.3" ry="3.0" transform="rotate(-21 190.4 844.3)" fill="#f4f4f0" stroke="none"/><ellipse cx="151.7" cy="767.9" rx="6.1" ry="1.7" transform="rotate(8 151.7 767.9)" fill="#1c2d66" stroke="none"/><path d="M368.8,643.2 L366.1,644.8 L363.5,646.3 L360.8,648.0 L358.3,649.7 L355.8,651.5 L353.4,653.5 L351.0,655.5 L348.7,657.5 L346.3,659.5 L343.9,661.5 L341.5,663.4" stroke="#3a3a30" stroke-width="3.4"/><path d="M368.8,643.2 L366.1,644.8 L363.5,646.3 L360.8,648.0 L358.3,649.7 L355.8,651.5 L353.4,653.5 L351.0,655.5 L348.7,657.5 L346.3,659.5 L343.9,661.5 L341.5,663.4" stroke="#a7a384" stroke-width="1.9"/><path d="M84.8,693.6 L87.5,695.1 L90.1,696.7 L92.7,698.3 L95.4,699.8 L98.1,701.1 L101.1,701.9 L104.1,702.5 L107.1,703.1 L110.2,703.6 L113.2,704.2 L116.2,704.7 L119.2,705.4 L122.1,706.2 L125.0,707.2 L127.8,708.3 L130.6,709.6 L133.2,711.1 L135.9,712.7 L138.5,714.3 L141.0,716.0 L143.6,717.7 L146.2,719.4 L148.9,720.9 L151.6,722.4 L154.3,723.6 L157.1,724.7 L160.0,725.6 L163.0,726.4 L166.0,727.1 L169.0,727.6 L172.1,728.2 L175.1,728.7 L178.1,729.3 L181.1,730.0 L184.0,730.8 L186.9,731.8 L189.7,733.0 L192.4,734.3" stroke="#342e16" stroke-width="6.8"/><path d="M84.8,693.6 L87.5,695.1 L90.1,696.7 L92.7,698.3 L95.4,699.8 L98.1,701.1 L101.1,701.9 L104.1,702.5 L107.1,703.1 L110.2,703.6 L113.2,704.2 L116.2,704.7 L119.2,705.4 L122.1,706.2 L125.0,707.2 L127.8,708.3 L130.6,709.6 L133.2,711.1 L135.9,712.7 L138.5,714.3 L141.0,716.0 L143.6,717.7 L146.2,719.4 L148.9,720.9 L151.6,722.4 L154.3,723.6 L157.1,724.7 L160.0,725.6 L163.0,726.4 L166.0,727.1 L169.0,727.6 L172.1,728.2 L175.1,728.7 L178.1,729.3 L181.1,730.0 L184.0,730.8 L186.9,731.8 L189.7,733.0 L192.4,734.3" stroke="#7c713a" stroke-width="5.2"/><path d="M85.3,692.5 L87.9,693.9 L90.6,695.5 L93.2,697.2 L95.8,698.7 L98.6,700.0 L101.5,700.7 L104.5,701.4 L107.6,702.0 L110.6,702.5 L113.6,703.0 L116.7,703.6 L119.7,704.3 L122.6,705.1 L125.5,706.1 L128.3,707.2 L131.0,708.5 L133.7,710.0 L136.3,711.6 L138.9,713.2 L141.5,714.9 L144.1,716.6 L146.7,718.3 L149.3,719.8 L152.0,721.3 L154.8,722.5 L157.6,723.6 L160.5,724.5 L163.4,725.3 L166.4,726.0 L169.4,726.5 L172.5,727.0 L175.5,727.6 L178.6,728.2 L181.5,728.9 L184.5,729.7 L187.3,730.7 L190.1,731.8 L192.9,733.2" stroke="#aea365" stroke-width="1.8" opacity="0.85"/><ellipse cx="136.5" cy="714.1" rx="5.7" ry="2.8" transform="rotate(22 136.5 714.1)" fill="#f4f4f0" stroke="none"/><path d="M128.9,922.8 L131.8,921.6 L134.7,920.5 L137.6,919.3 L140.5,918.0 L143.0,916.3 L145.3,914.2 L147.5,911.9 L149.7,909.6 L151.8,907.3 L154.0,905.0 L156.2,902.7 L158.4,900.5 L160.8,898.5 L163.3,896.7 L165.9,895.0 L168.5,893.5 L171.3,892.1 L174.2,890.9 L177.2,889.8 L180.2,888.7 L183.1,887.6 L186.1,886.6 L189.0,885.4 L191.9,884.1 L194.7,882.7 L197.3,881.1 L199.8,879.4 L202.3,877.5 L204.6,875.4 L206.8,873.2 L209.0,870.9 L211.2,868.6 L213.3,866.3 L215.5,864.0" stroke="#342e16" stroke-width="6.8"/><path d="M128.9,922.8 L131.8,921.6 L134.7,920.5 L137.6,919.3 L140.5,918.0 L143.0,916.3 L145.3,914.2 L147.5,911.9 L149.7,909.6 L151.8,907.3 L154.0,905.0 L156.2,902.7 L158.4,900.5 L160.8,898.5 L163.3,896.7 L165.9,895.0 L168.5,893.5 L171.3,892.1 L174.2,890.9 L177.2,889.8 L180.2,888.7 L183.1,887.6 L186.1,886.6 L189.0,885.4 L191.9,884.1 L194.7,882.7 L197.3,881.1 L199.8,879.4 L202.3,877.5 L204.6,875.4 L206.8,873.2 L209.0,870.9 L211.2,868.6 L213.3,866.3 L215.5,864.0" stroke="#7c713a" stroke-width="5.2"/><path d="M128.2,921.8 L131.1,920.6 L134.0,919.5 L137.0,918.3 L139.8,917.0 L142.4,915.3 L144.6,913.2 L146.8,910.9 L149.0,908.6 L151.2,906.3 L153.3,904.0 L155.5,901.7 L157.8,899.5 L160.1,897.5 L162.6,895.7 L165.2,894.0 L167.9,892.5 L170.7,891.1 L173.6,889.9 L176.5,888.8 L179.5,887.7 L182.5,886.6 L185.5,885.6 L188.4,884.4 L191.2,883.1 L194.0,881.7 L196.6,880.1 L199.2,878.4 L201.6,876.5 L203.9,874.4 L206.2,872.2 L208.4,869.9 L210.5,867.6 L212.7,865.3 L214.8,863.0" stroke="#c2b77a" stroke-width="1.8" opacity="0.85"/><path d="M286.5,563.0 L287.2,565.9 L288.0,568.8 L289.0,571.7 L290.1,574.5 L291.5,577.1 L293.1,579.7 L294.8,582.3 L296.4,584.9 L297.9,587.5 L299.4,590.2 L300.7,592.9 L301.9,595.6 L303.0,598.4 L304.0,601.3 L304.9,604.2 L305.6,607.1 L306.3,610.1 L306.9,613.0 L307.6,616.0 L308.3,619.0 L309.0,621.9 L309.8,624.9 L310.7,627.7 L311.8,630.5 L312.9,633.3 L314.3,636.0 L315.7,638.7 L317.2,641.3 L318.8,643.9 L320.4,646.5 L322.0,649.1 L323.6,651.7 L325.1,654.3" stroke="#342e16" stroke-width="6.8"/><path d="M286.5,563.0 L287.2,565.9 L288.0,568.8 L289.0,571.7 L290.1,574.5 L291.5,577.1 L293.1,579.7 L294.8,582.3 L296.4,584.9 L297.9,587.5 L299.4,590.2 L300.7,592.9 L301.9,595.6 L303.0,598.4 L304.0,601.3 L304.9,604.2 L305.6,607.1 L306.3,610.1 L306.9,613.0 L307.6,616.0 L308.3,619.0 L309.0,621.9 L309.8,624.9 L310.7,627.7 L311.8,630.5 L312.9,633.3 L314.3,636.0 L315.7,638.7 L317.2,641.3 L318.8,643.9 L320.4,646.5 L322.0,649.1 L323.6,651.7 L325.1,654.3" stroke="#7c713a" stroke-width="5.2"/><path d="M287.6,562.5 L288.3,565.5 L289.1,568.4 L290.1,571.2 L291.2,574.0 L292.6,576.7 L294.3,579.3 L295.9,581.9 L297.5,584.4 L299.0,587.1 L300.5,589.7 L301.8,592.4 L303.0,595.2 L304.1,598.0 L305.1,600.8 L306.0,603.7 L306.7,606.6 L307.4,609.6 L308.1,612.6 L308.7,615.6 L309.4,618.5 L310.1,621.5 L310.9,624.4 L311.8,627.3 L312.9,630.1 L314.1,632.9 L315.4,635.6 L316.8,638.2 L318.3,640.9 L319.9,643.5 L321.5,646.1 L323.1,648.6 L324.7,651.2 L326.2,653.9" stroke="#c2b77a" stroke-width="1.8" opacity="0.85"/><path d="M164.8,549.4 L166.2,552.2 L167.6,555.0 L169.1,557.7 L170.9,560.3 L173.0,562.6 L175.4,564.6 L177.9,566.5 L180.4,568.4 L182.9,570.3 L185.4,572.3 L187.8,574.3 L190.1,576.4 L192.2,578.6 L194.2,580.9 L196.1,583.4 L197.8,586.0 L199.4,588.6 L200.9,591.4 L202.3,594.2 L203.6,597.1 L205.0,599.9 L206.3,602.8 L207.7,605.6 L209.3,608.3 L210.9,610.9 L212.7,613.4 L214.6,615.9 L216.6,618.1 L218.8,620.3 L221.1,622.4 L223.6,624.4 L226.0,626.3 L228.6,628.2 L231.1,630.2 L233.6,632.1 L236.0,634.1 L238.3,636.2 L240.4,638.4 L242.5,640.7 L244.4,643.1 L246.1,645.7" stroke="#342e16" stroke-width="6.8"/><path d="M164.8,549.4 L166.2,552.2 L167.6,555.0 L169.1,557.7 L170.9,560.3 L173.0,562.6 L175.4,564.6 L177.9,566.5 L180.4,568.4 L182.9,570.3 L185.4,572.3 L187.8,574.3 L190.1,576.4 L192.2,578.6 L194.2,580.9 L196.1,583.4 L197.8,586.0 L199.4,588.6 L200.9,591.4 L202.3,594.2 L203.6,597.1 L205.0,599.9 L206.3,602.8 L207.7,605.6 L209.3,608.3 L210.9,610.9 L212.7,613.4 L214.6,615.9 L216.6,618.1 L218.8,620.3 L221.1,622.4 L223.6,624.4 L226.0,626.3 L228.6,628.2 L231.1,630.2 L233.6,632.1 L236.0,634.1 L238.3,636.2 L240.4,638.4 L242.5,640.7 L244.4,643.1 L246.1,645.7" stroke="#908444" stroke-width="5.2"/><path d="M165.7,548.7 L167.1,551.5 L168.6,554.3 L170.1,557.0 L171.8,559.6 L173.9,561.8 L176.3,563.8 L178.8,565.7 L181.3,567.6 L183.9,569.6 L186.3,571.5 L188.7,573.5 L191.0,575.7 L193.1,577.9 L195.1,580.2 L197.0,582.6 L198.7,585.2 L200.3,587.9 L201.8,590.6 L203.2,593.4 L204.5,596.3 L205.9,599.2 L207.2,602.0 L208.7,604.8 L210.2,607.5 L211.8,610.2 L213.6,612.7 L215.5,615.1 L217.6,617.4 L219.8,619.6 L222.1,621.6 L224.5,623.6 L227.0,625.6 L229.5,627.5 L232.0,629.4 L234.5,631.4 L236.9,633.4 L239.2,635.5 L241.4,637.6 L243.4,639.9 L245.3,642.4 L247.0,644.9" stroke="#aea365" stroke-width="1.8" opacity="0.85"/><path d="M93.1,648.5 L95.5,650.5 L97.8,652.5 L100.1,654.4 L102.6,656.2 L105.2,657.7 L108.0,658.8 L110.9,659.9 L113.8,660.9 L116.6,662.0 L119.5,663.0 L122.4,664.1 L125.2,665.2 L128.0,666.5 L130.6,667.9 L133.3,669.3 L135.8,671.0 L138.3,672.7 L140.7,674.5 L143.1,676.4 L145.4,678.4 L147.7,680.5 L150.0,682.5 L152.3,684.5 L154.6,686.5 L157.0,688.4 L159.4,690.2 L161.9,691.9 L164.4,693.5 L167.1,695.0 L169.8,696.3 L172.6,697.6 L175.4,698.7 L178.2,699.8 L181.1,700.8 L184.0,701.8 L186.9,702.9 L189.8,703.9 L192.6,705.1 L195.3,706.3 L198.0,707.7" stroke="#342e16" stroke-width="6.8"/><path d="M93.1,648.5 L95.5,650.5 L97.8,652.5 L100.1,654.4 L102.6,656.2 L105.2,657.7 L108.0,658.8 L110.9,659.9 L113.8,660.9 L116.6,662.0 L119.5,663.0 L122.4,664.1 L125.2,665.2 L128.0,666.5 L130.6,667.9 L133.3,669.3 L135.8,671.0 L138.3,672.7 L140.7,674.5 L143.1,676.4 L145.4,678.4 L147.7,680.5 L150.0,682.5 L152.3,684.5 L154.6,686.5 L157.0,688.4 L159.4,690.2 L161.9,691.9 L164.4,693.5 L167.1,695.0 L169.8,696.3 L172.6,697.6 L175.4,698.7 L178.2,699.8 L181.1,700.8 L184.0,701.8 L186.9,702.9 L189.8,703.9 L192.6,705.1 L195.3,706.3 L198.0,707.7" stroke="#948848" stroke-width="5.2"/><path d="M93.7,647.5 L96.1,649.4 L98.4,651.4 L100.7,653.4 L103.2,655.2 L105.8,656.7 L108.6,657.8 L111.5,658.9 L114.4,659.9 L117.3,660.9 L120.1,662.0 L123.0,663.0 L125.8,664.2 L128.6,665.5 L131.3,666.8 L133.9,668.3 L136.4,669.9 L138.9,671.6 L141.3,673.5 L143.7,675.4 L146.0,677.4 L148.3,679.4 L150.6,681.5 L152.9,683.5 L155.2,685.5 L157.6,687.4 L160.0,689.2 L162.5,690.9 L165.1,692.5 L167.7,694.0 L170.4,695.3 L173.2,696.5 L176.0,697.7 L178.9,698.7 L181.7,699.8 L184.6,700.8 L187.5,701.8 L190.4,702.9 L193.2,704.1 L196.0,705.3 L198.6,706.7" stroke="#c2b77a" stroke-width="1.8" opacity="0.85"/><path d="M396.3,688.2 L393.5,689.3 L390.6,690.5 L387.7,691.7 L384.9,693.1 L382.3,694.7 L379.8,696.5 L377.2,698.3 L374.7,700.1 L372.1,701.9 L369.5,703.6 L366.8,705.1" stroke="#3a3a30" stroke-width="3.4"/><path d="M396.3,688.2 L393.5,689.3 L390.6,690.5 L387.7,691.7 L384.9,693.1 L382.3,694.7 L379.8,696.5 L377.2,698.3 L374.7,700.1 L372.1,701.9 L369.5,703.6 L366.8,705.1" stroke="#9a956f" stroke-width="1.9"/><ellipse cx="260.4" cy="953.4" rx="5.5" ry="2.1" transform="rotate(-65 260.4 953.4)" fill="#f4f4f0" stroke="none"/><path d="M446.8,877.2 L443.7,877.1 L440.6,876.9 L437.5,876.7 L434.4,876.5 L431.3,876.5 L428.2,876.8 L425.1,877.1 L422.0,877.6 L419.0,878.0 L415.9,878.5 L412.8,879.0" stroke="#3a3a30" stroke-width="3.4"/><path d="M446.8,877.2 L443.7,877.1 L440.6,876.9 L437.5,876.7 L434.4,876.5 L431.3,876.5 L428.2,876.8 L425.1,877.1 L422.0,877.6 L419.0,878.0 L415.9,878.5 L412.8,879.0" stroke="#a7a384" stroke-width="1.9"/><path d="M445.6,857.1 L442.5,857.0 L439.4,856.9 L436.3,856.8 L433.2,856.9 L430.1,857.4 L427.1,858.2 L424.1,859.0 L421.1,859.9 L418.0,860.7 L415.0,861.4 L411.9,862.0" stroke="#3a3a30" stroke-width="3.4"/><path d="M445.6,857.1 L442.5,857.0 L439.4,856.9 L436.3,856.8 L433.2,856.9 L430.1,857.4 L427.1,858.2 L424.1,859.0 L421.1,859.9 L418.0,860.7 L415.0,861.4 L411.9,862.0" stroke="#b8b392" stroke-width="1.9"/><path d="M405.9,707.6 L403.0,708.6 L400.1,709.6 L397.1,710.6 L394.2,711.6 L391.4,712.9 L388.7,714.4 L386.0,715.9 L383.3,717.5 L380.6,719.1 L378.0,720.7 L375.3,722.3" stroke="#3a3a30" stroke-width="3.4"/><path d="M405.9,707.6 L403.0,708.6 L400.1,709.6 L397.1,710.6 L394.2,711.6 L391.4,712.9 L388.7,714.4 L386.0,715.9 L383.3,717.5 L380.6,719.1 L378.0,720.7 L375.3,722.3" stroke="#b8b392" stroke-width="1.9"/><path d="M329.9,1084.9 L330.8,1081.9 L331.7,1079.0 L332.6,1076.0 L333.4,1073.0 L333.5,1069.9 L333.2,1066.8 L332.7,1063.7 L332.2,1060.6 L331.6,1057.5 L331.1,1054.4 L330.8,1051.3 L330.6,1048.2 L330.6,1045.1 L330.9,1042.1 L331.4,1039.0 L332.1,1036.0 L333.0,1033.1 L334.1,1030.1 L335.2,1027.1 L336.3,1024.1 L337.3,1021.2 L338.2,1018.2 L338.9,1015.2 L339.5,1012.2 L339.7,1009.1 L339.8,1006.1 L339.6,1003.0 L339.2,999.9 L338.7,996.8 L338.2,993.6 L337.6,990.5 L337.1,987.4 L336.8,984.3 L336.6,981.2 L336.7,978.2 L337.0,975.1 L337.5,972.1 L338.3,969.1 L339.2,966.1 L340.2,963.1 L341.3,960.2 L342.5,957.2" stroke="#342e16" stroke-width="6.8"/><path d="M329.9,1084.9 L330.8,1081.9 L331.7,1079.0 L332.6,1076.0 L333.4,1073.0 L333.5,1069.9 L333.2,1066.8 L332.7,1063.7 L332.2,1060.6 L331.6,1057.5 L331.1,1054.4 L330.8,1051.3 L330.6,1048.2 L330.6,1045.1 L330.9,1042.1 L331.4,1039.0 L332.1,1036.0 L333.0,1033.1 L334.1,1030.1 L335.2,1027.1 L336.3,1024.1 L337.3,1021.2 L338.2,1018.2 L338.9,1015.2 L339.5,1012.2 L339.7,1009.1 L339.8,1006.1 L339.6,1003.0 L339.2,999.9 L338.7,996.8 L338.2,993.6 L337.6,990.5 L337.1,987.4 L336.8,984.3 L336.6,981.2 L336.7,978.2 L337.0,975.1 L337.5,972.1 L338.3,969.1 L339.2,966.1 L340.2,963.1 L341.3,960.2 L342.5,957.2" stroke="#908444" stroke-width="5.2"/><path d="M328.7,1084.8 L329.6,1081.8 L330.5,1078.9 L331.4,1075.9 L332.2,1072.9 L332.4,1069.8 L332.0,1066.7 L331.5,1063.6 L331.0,1060.5 L330.4,1057.4 L329.9,1054.3 L329.6,1051.2 L329.4,1048.1 L329.4,1045.0 L329.7,1042.0 L330.2,1038.9 L330.9,1035.9 L331.8,1032.9 L332.9,1030.0 L334.0,1027.0 L335.1,1024.0 L336.1,1021.1 L337.0,1018.1 L337.7,1015.1 L338.3,1012.1 L338.5,1009.0 L338.6,1005.9 L338.4,1002.9 L338.0,999.8 L337.5,996.6 L337.0,993.5 L336.4,990.4 L335.9,987.3 L335.6,984.2 L335.4,981.1 L335.5,978.0 L335.8,975.0 L336.3,972.0 L337.1,969.0 L338.0,966.0 L339.0,963.0 L340.2,960.1 L341.3,957.1" stroke="#b8ad6e" stroke-width="1.8" opacity="0.85"/><path d="M441.8,949.9 L441.3,946.8 L440.8,943.7 L440.4,940.6 L439.8,937.5 L438.8,934.6 L437.3,931.9 L435.6,929.2 L433.9,926.6 L432.1,923.9 L430.4,921.3 L428.8,918.6 L427.4,915.8 L426.1,913.0 L425.1,910.1 L424.2,907.1 L423.6,904.1 L423.1,901.0 L422.8,897.9 L422.5,894.7 L422.2,891.5 L421.8,888.4 L421.4,885.3 L420.7,882.3 L419.9,879.3 L418.9,876.4 L417.6,873.6 L416.2,870.8" stroke="#342e16" stroke-width="6.8"/><path d="M441.8,949.9 L441.3,946.8 L440.8,943.7 L440.4,940.6 L439.8,937.5 L438.8,934.6 L437.3,931.9 L435.6,929.2 L433.9,926.6 L432.1,923.9 L430.4,921.3 L428.8,918.6 L427.4,915.8 L426.1,913.0 L425.1,910.1 L424.2,907.1 L423.6,904.1 L423.1,901.0 L422.8,897.9 L422.5,894.7 L422.2,891.5 L421.8,888.4 L421.4,885.3 L420.7,882.3 L419.9,879.3 L418.9,876.4 L417.6,873.6 L416.2,870.8" stroke="#82773d" stroke-width="5.2"/><path d="M440.7,950.3 L440.1,947.2 L439.7,944.1 L439.3,941.0 L438.7,937.9 L437.6,935.0 L436.1,932.3 L434.5,929.6 L432.7,927.0 L431.0,924.3 L429.3,921.7 L427.7,919.0 L426.2,916.2 L425.0,913.4 L423.9,910.5 L423.1,907.5 L422.5,904.5 L422.0,901.4 L421.6,898.3 L421.3,895.1 L421.1,891.9 L420.7,888.8 L420.2,885.7 L419.6,882.7 L418.8,879.7 L417.8,876.8 L416.5,874.0 L415.1,871.2" stroke="#b8ad6e" stroke-width="1.8" opacity="0.85"/><path d="M142.1,564.4 L143.7,567.0 L145.3,569.7 L146.8,572.4 L148.6,574.9 L150.7,577.1 L153.2,578.9 L155.8,580.6 L158.4,582.3 L161.0,584.0 L163.7,585.7 L166.2,587.4 L168.6,589.3 L170.9,591.3 L173.1,593.4 L175.1,595.7 L176.9,598.1 L178.7,600.6 L180.3,603.2 L181.8,606.0 L183.2,608.7 L184.7,611.5 L186.2,614.2 L187.8,616.9 L189.5,619.4 L191.3,621.8 L193.3,624.1 L195.4,626.3 L197.7,628.3 L200.1,630.1 L202.7,631.9 L205.3,633.6 L207.9,635.3 L210.6,637.0 L213.1,638.7 L215.7,640.5 L218.0,642.4 L220.3,644.4 L222.4,646.6 L224.4,648.9 L226.2,651.4 L227.8,653.9 L229.4,656.6" stroke="#342e16" stroke-width="6.8"/><path d="M142.1,564.4 L143.7,567.0 L145.3,569.7 L146.8,572.4 L148.6,574.9 L150.7,577.1 L153.2,578.9 L155.8,580.6 L158.4,582.3 L161.0,584.0 L163.7,585.7 L166.2,587.4 L168.6,589.3 L170.9,591.3 L173.1,593.4 L175.1,595.7 L176.9,598.1 L178.7,600.6 L180.3,603.2 L181.8,606.0 L183.2,608.7 L184.7,611.5 L186.2,614.2 L187.8,616.9 L189.5,619.4 L191.3,621.8 L193.3,624.1 L195.4,626.3 L197.7,628.3 L200.1,630.1 L202.7,631.9 L205.3,633.6 L207.9,635.3 L210.6,637.0 L213.1,638.7 L215.7,640.5 L218.0,642.4 L220.3,644.4 L222.4,646.6 L224.4,648.9 L226.2,651.4 L227.8,653.9 L229.4,656.6" stroke="#7c713a" stroke-width="5.2"/><path d="M143.0,563.6 L144.6,566.2 L146.1,568.9 L147.7,571.6 L149.5,574.1 L151.6,576.2 L154.1,578.1 L156.6,579.8 L159.3,581.5 L161.9,583.1 L164.5,584.8 L167.1,586.6 L169.5,588.5 L171.8,590.5 L174.0,592.6 L176.0,594.8 L177.8,597.3 L179.5,599.8 L181.1,602.4 L182.6,605.1 L184.1,607.9 L185.6,610.7 L187.1,613.4 L188.7,616.0 L190.4,618.6 L192.2,621.0 L194.2,623.3 L196.3,625.4 L198.6,627.5 L201.0,629.3 L203.6,631.1 L206.2,632.8 L208.8,634.5 L211.4,636.2 L214.0,637.9 L216.5,639.7 L218.9,641.6 L221.2,643.6 L223.3,645.8 L225.2,648.1 L227.0,650.6 L228.7,653.1 L230.3,655.8" stroke="#b8ad6e" stroke-width="1.8" opacity="0.85"/><ellipse cx="210.9" cy="877.7" rx="4.0" ry="1.7" transform="rotate(-36 210.9 877.7)" fill="#1c2d66" stroke="none"/><path d="M420.4,1015.5 L420.2,1012.5 L420.1,1009.4 L420.0,1006.3 L419.8,1003.3 L419.2,1000.3 L418.3,997.3 L417.3,994.4 L416.3,991.5 L415.2,988.6 L414.2,985.7 L413.3,982.8 L412.4,979.8 L411.7,976.8 L411.2,973.9 L410.7,970.8 L410.4,967.8 L410.2,964.7 L410.1,961.7 L410.1,958.6 L410.1,955.5 L410.1,952.4 L410.0,949.3 L409.8,946.3 L409.5,943.2 L409.1,940.2 L408.6,937.2 L407.9,934.2 L407.0,931.3 L406.1,928.4 L405.1,925.4 L404.0,922.5 L403.0,919.6 L402.0,916.7 L401.1,913.8 L400.3,910.8" stroke="#342e16" stroke-width="6.8"/><path d="M420.4,1015.5 L420.2,1012.5 L420.1,1009.4 L420.0,1006.3 L419.8,1003.3 L419.2,1000.3 L418.3,997.3 L417.3,994.4 L416.3,991.5 L415.2,988.6 L414.2,985.7 L413.3,982.8 L412.4,979.8 L411.7,976.8 L411.2,973.9 L410.7,970.8 L410.4,967.8 L410.2,964.7 L410.1,961.7 L410.1,958.6 L410.1,955.5 L410.1,952.4 L410.0,949.3 L409.8,946.3 L409.5,943.2 L409.1,940.2 L408.6,937.2 L407.9,934.2 L407.0,931.3 L406.1,928.4 L405.1,925.4 L404.0,922.5 L403.0,919.6 L402.0,916.7 L401.1,913.8 L400.3,910.8" stroke="#867a3e" stroke-width="5.2"/><path d="M419.2,1015.7 L419.0,1012.7 L418.9,1009.6 L418.8,1006.5 L418.6,1003.5 L418.0,1000.5 L417.1,997.5 L416.1,994.6 L415.1,991.7 L414.1,988.8 L413.0,985.9 L412.1,983.0 L411.3,980.0 L410.5,977.0 L410.0,974.1 L409.5,971.0 L409.2,968.0 L409.1,964.9 L409.0,961.9 L408.9,958.8 L408.9,955.7 L408.9,952.6 L408.8,949.5 L408.7,946.5 L408.4,943.4 L407.9,940.4 L407.4,937.4 L406.7,934.4 L405.8,931.5 L404.9,928.6 L403.9,925.7 L402.9,922.7 L401.8,919.8 L400.8,916.9 L399.9,914.0 L399.1,911.0" stroke="#c2b77a" stroke-width="1.8" opacity="0.85"/><ellipse cx="190.5" cy="679.7" rx="6.6" ry="2.1" transform="rotate(37 190.5 679.7)" fill="#f4f4f0" stroke="none"/><path d="M94.3,823.6 L97.3,823.7 L100.4,823.9 L103.5,824.2 L106.6,824.4 L109.7,824.3 L112.6,823.7 L115.6,822.9 L118.5,821.9 L121.5,820.9 L124.4,819.8 L127.3,818.8 L130.2,817.7 L133.2,816.7 L136.1,815.8 L139.0,815.0 L142.0,814.3 L145.0,813.9 L148.1,813.6 L151.1,813.4 L154.2,813.4 L157.2,813.5 L160.3,813.8 L163.4,814.0 L166.5,814.3 L169.6,814.5 L172.7,814.7 L175.8,814.8 L178.9,814.7 L181.9,814.5 L184.9,814.2 L187.9,813.6 L190.9,812.9 L193.8,812.1 L196.8,811.1" stroke="#342e16" stroke-width="6.8"/><path d="M94.3,823.6 L97.3,823.7 L100.4,823.9 L103.5,824.2 L106.6,824.4 L109.7,824.3 L112.6,823.7 L115.6,822.9 L118.5,821.9 L121.5,820.9 L124.4,819.8 L127.3,818.8 L130.2,817.7 L133.2,816.7 L136.1,815.8 L139.0,815.0 L142.0,814.3 L145.0,813.9 L148.1,813.6 L151.1,813.4 L154.2,813.4 L157.2,813.5 L160.3,813.8 L163.4,814.0 L166.5,814.3 L169.6,814.5 L172.7,814.7 L175.8,814.8 L178.9,814.7 L181.9,814.5 L184.9,814.2 L187.9,813.6 L190.9,812.9 L193.8,812.1 L196.8,811.1" stroke="#908444" stroke-width="5.2"/><path d="M94.1,822.4 L97.2,822.5 L100.3,822.7 L103.4,823.0 L106.5,823.2 L109.5,823.1 L112.5,822.5 L115.4,821.7 L118.4,820.7 L121.3,819.7 L124.2,818.7 L127.1,817.6 L130.1,816.5 L133.0,815.5 L135.9,814.6 L138.9,813.8 L141.9,813.2 L144.9,812.7 L147.9,812.4 L150.9,812.2 L154.0,812.2 L157.1,812.4 L160.2,812.6 L163.3,812.8 L166.4,813.1 L169.5,813.4 L172.6,813.5 L175.6,813.6 L178.7,813.6 L181.7,813.3 L184.7,813.0 L187.7,812.4 L190.7,811.7 L193.7,810.9 L196.6,809.9" stroke="#b8ad6e" stroke-width="1.8" opacity="0.85"/><ellipse cx="191.5" cy="881.5" rx="3.8" ry="1.9" transform="rotate(-33 191.5 881.5)" fill="#1c2d66" stroke="none"/><ellipse cx="187.9" cy="928.4" rx="4.6" ry="3.0" transform="rotate(-44 187.9 928.4)" fill="#f4f4f0" stroke="none"/><ellipse cx="187.2" cy="652.6" rx="6.0" ry="2.3" transform="rotate(42 187.2 652.6)" fill="#1c2d66" stroke="none"/><path d="M106.9,611.4 L108.9,613.8 L110.9,616.1 L113.1,618.3 L115.5,620.2 L118.3,621.5 L121.3,622.6 L124.2,623.7 L127.2,624.9 L130.0,626.2 L132.7,627.6 L135.3,629.3 L137.6,631.3 L139.7,633.5 L141.7,635.9 L143.6,638.4 L145.4,641.0 L147.2,643.6 L149.1,646.2 L151.0,648.6 L153.2,650.8 L155.5,652.8 L158.0,654.5 L160.6,656.0 L163.5,657.3 L166.4,658.5 L169.4,659.6 L172.4,660.7 L175.3,661.8 L178.1,663.2 L180.8,664.7 L183.3,666.4 L185.6,668.4 L187.7,670.7 L189.6,673.1 L191.5,675.7 L193.3,678.3 L195.1,680.9 L197.0,683.4 L199.0,685.8 L201.2,688.0 L203.5,689.9" stroke="#342e16" stroke-width="6.8"/><path d="M106.9,611.4 L108.9,613.8 L110.9,616.1 L113.1,618.3 L115.5,620.2 L118.3,621.5 L121.3,622.6 L124.2,623.7 L127.2,624.9 L130.0,626.2 L132.7,627.6 L135.3,629.3 L137.6,631.3 L139.7,633.5 L141.7,635.9 L143.6,638.4 L145.4,641.0 L147.2,643.6 L149.1,646.2 L151.0,648.6 L153.2,650.8 L155.5,652.8 L158.0,654.5 L160.6,656.0 L163.5,657.3 L166.4,658.5 L169.4,659.6 L172.4,660.7 L175.3,661.8 L178.1,663.2 L180.8,664.7 L183.3,666.4 L185.6,668.4 L187.7,670.7 L189.6,673.1 L191.5,675.7 L193.3,678.3 L195.1,680.9 L197.0,683.4 L199.0,685.8 L201.2,688.0 L203.5,689.9" stroke="#7c713a" stroke-width="5.2"/><path d="M107.7,610.4 L109.7,612.8 L111.7,615.2 L113.8,617.3 L116.2,619.2 L119.0,620.6 L122.0,621.7 L125.0,622.8 L127.9,623.9 L130.8,625.2 L133.5,626.7 L136.0,628.4 L138.3,630.3 L140.5,632.5 L142.5,634.9 L144.3,637.4 L146.1,640.1 L147.9,642.7 L149.8,645.2 L151.8,647.7 L153.9,649.9 L156.2,651.9 L158.7,653.6 L161.4,655.1 L164.2,656.4 L167.1,657.6 L170.1,658.6 L173.1,659.7 L176.1,660.9 L178.9,662.2 L181.5,663.7 L184.0,665.5 L186.3,667.5 L188.4,669.7 L190.4,672.1 L192.2,674.7 L194.0,677.3 L195.9,679.9 L197.7,682.5 L199.7,684.9 L201.9,687.0 L204.2,689.0" stroke="#b8ad6e" stroke-width="1.8" opacity="0.85"/><path d="M211.1,1037.0 L212.9,1034.6 L214.9,1032.2 L216.8,1029.8 L218.5,1027.3 L219.9,1024.6 L220.8,1021.7 L221.5,1018.7 L222.2,1015.7 L222.9,1012.7 L223.6,1009.7 L224.4,1006.7 L225.2,1003.8 L226.2,1000.9 L227.3,998.1 L228.5,995.4 L229.9,992.7 L231.5,990.1 L233.2,987.6 L235.1,985.2 L237.0,982.8 L239.0,980.4 L241.0,978.1 L242.9,975.7 L244.8,973.3 L246.7,970.8 L248.3,968.3 L249.9,965.7 L251.2,963.0 L252.4,960.3 L253.5,957.5 L254.4,954.6 L255.2,951.6 L255.9,948.6 L256.6,945.6 L257.3,942.6 L258.0,939.6 L258.9,936.6 L259.8,933.7 L260.8,930.9 L262.0,928.1" stroke="#342e16" stroke-width="6.8"/><path d="M211.1,1037.0 L212.9,1034.6 L214.9,1032.2 L216.8,1029.8 L218.5,1027.3 L219.9,1024.6 L220.8,1021.7 L221.5,1018.7 L222.2,1015.7 L222.9,1012.7 L223.6,1009.7 L224.4,1006.7 L225.2,1003.8 L226.2,1000.9 L227.3,998.1 L228.5,995.4 L229.9,992.7 L231.5,990.1 L233.2,987.6 L235.1,985.2 L237.0,982.8 L239.0,980.4 L241.0,978.1 L242.9,975.7 L244.8,973.3 L246.7,970.8 L248.3,968.3 L249.9,965.7 L251.2,963.0 L252.4,960.3 L253.5,957.5 L254.4,954.6 L255.2,951.6 L255.9,948.6 L256.6,945.6 L257.3,942.6 L258.0,939.6 L258.9,936.6 L259.8,933.7 L260.8,930.9 L262.0,928.1" stroke="#867a3e" stroke-width="5.2"/><path d="M210.0,1036.5 L211.9,1034.1 L213.8,1031.7 L215.7,1029.3 L217.4,1026.8 L218.8,1024.1 L219.7,1021.2 L220.5,1018.2 L221.2,1015.2 L221.9,1012.2 L222.6,1009.2 L223.3,1006.2 L224.1,1003.2 L225.1,1000.4 L226.2,997.6 L227.4,994.8 L228.9,992.2 L230.4,989.6 L232.1,987.1 L234.0,984.7 L235.9,982.3 L237.9,979.9 L239.9,977.5 L241.9,975.2 L243.8,972.8 L245.6,970.3 L247.3,967.8 L248.8,965.2 L250.2,962.5 L251.4,959.8 L252.4,956.9 L253.3,954.0 L254.1,951.1 L254.9,948.1 L255.6,945.1 L256.2,942.0 L257.0,939.0 L257.8,936.1 L258.7,933.2 L259.7,930.4 L260.9,927.6" stroke="#b8ad6e" stroke-width="1.8" opacity="0.85"/><path d="M109.3,875.4 L112.3,875.0 L115.4,874.5 L118.4,873.9 L121.3,873.0 L124.0,871.7 L126.6,870.0 L129.1,868.2 L131.6,866.3 L134.2,864.5 L136.8,862.8 L139.4,861.2 L142.1,859.8 L144.8,858.5 L147.6,857.5 L150.5,856.6 L153.5,855.9 L156.5,855.4 L159.6,855.0 L162.7,854.6 L165.8,854.3 L168.9,853.9 L172.0,853.5 L175.0,852.9 L177.9,852.2 L180.8,851.3 L183.6,850.2 L186.3,848.8 L189.0,847.4 L191.6,845.7 L194.2,844.0 L196.7,842.2 L199.2,840.3 L201.8,838.5 L204.3,836.8" stroke="#342e16" stroke-width="6.8"/><path d="M109.3,875.4 L112.3,875.0 L115.4,874.5 L118.4,873.9 L121.3,873.0 L124.0,871.7 L126.6,870.0 L129.1,868.2 L131.6,866.3 L134.2,864.5 L136.8,862.8 L139.4,861.2 L142.1,859.8 L144.8,858.5 L147.6,857.5 L150.5,856.6 L153.5,855.9 L156.5,855.4 L159.6,855.0 L162.7,854.6 L165.8,854.3 L168.9,853.9 L172.0,853.5 L175.0,852.9 L177.9,852.2 L180.8,851.3 L183.6,850.2 L186.3,848.8 L189.0,847.4 L191.6,845.7 L194.2,844.0 L196.7,842.2 L199.2,840.3 L201.8,838.5 L204.3,836.8" stroke="#948848" stroke-width="5.2"/><path d="M108.9,874.3 L111.9,873.8 L115.0,873.4 L118.0,872.8 L120.9,871.9 L123.6,870.6 L126.2,868.9 L128.7,867.0 L131.2,865.2 L133.8,863.4 L136.3,861.7 L138.9,860.1 L141.6,858.6 L144.4,857.4 L147.2,856.3 L150.1,855.5 L153.1,854.8 L156.1,854.3 L159.2,853.9 L162.3,853.5 L165.4,853.2 L168.5,852.8 L171.5,852.4 L174.5,851.8 L177.5,851.1 L180.4,850.2 L183.2,849.0 L185.9,847.7 L188.6,846.2 L191.2,844.6 L193.7,842.8 L196.3,841.0 L198.8,839.2 L201.3,837.4 L203.9,835.7" stroke="#c2b77a" stroke-width="1.8" opacity="0.85"/><ellipse cx="151.6" cy="815.8" rx="5.1" ry="2.8" transform="rotate(-8 151.6 815.8)" fill="#f4f4f0" stroke="none"/><path d="M90.9,657.1 L93.4,659.0 L95.9,660.7 L98.6,662.3 L101.3,663.6 L104.3,664.7 L107.2,665.6 L110.2,666.6 L113.1,667.7 L115.9,668.9 L118.7,670.3 L121.3,671.8 L123.9,673.5 L126.3,675.3 L128.8,677.3 L131.2,679.3 L133.5,681.3 L136.0,683.3 L138.4,685.1 L141.0,686.9 L143.6,688.5 L146.3,689.9 L149.1,691.1 L152.0,692.2 L154.9,693.2 L157.9,694.2 L160.9,695.1 L163.8,696.1 L166.7,697.2 L169.5,698.5 L172.3,699.9 L174.9,701.4 L177.4,703.2 L179.9,705.0 L182.3,707.0 L184.7,709.0 L187.1,711.0 L189.5,713.0 L192.0,714.8 L194.5,716.5" stroke="#342e16" stroke-width="6.8"/><path d="M90.9,657.1 L93.4,659.0 L95.9,660.7 L98.6,662.3 L101.3,663.6 L104.3,664.7 L107.2,665.6 L110.2,666.6 L113.1,667.7 L115.9,668.9 L118.7,670.3 L121.3,671.8 L123.9,673.5 L126.3,675.3 L128.8,677.3 L131.2,679.3 L133.5,681.3 L136.0,683.3 L138.4,685.1 L141.0,686.9 L143.6,688.5 L146.3,689.9 L149.1,691.1 L152.0,692.2 L154.9,693.2 L157.9,694.2 L160.9,695.1 L163.8,696.1 L166.7,697.2 L169.5,698.5 L172.3,699.9 L174.9,701.4 L177.4,703.2 L179.9,705.0 L182.3,707.0 L184.7,709.0 L187.1,711.0 L189.5,713.0 L192.0,714.8 L194.5,716.5" stroke="#948848" stroke-width="5.2"/><path d="M91.5,656.1 L94.0,657.9 L96.5,659.7 L99.1,661.3 L101.9,662.6 L104.8,663.6 L107.8,664.6 L110.8,665.5 L113.7,666.6 L116.5,667.8 L119.2,669.2 L121.9,670.7 L124.4,672.4 L126.9,674.3 L129.3,676.2 L131.7,678.2 L134.1,680.3 L136.5,682.2 L139.0,684.1 L141.5,685.8 L144.2,687.4 L146.9,688.8 L149.7,690.1 L152.6,691.2 L155.5,692.2 L158.5,693.1 L161.5,694.1 L164.4,695.1 L167.3,696.2 L170.1,697.4 L172.8,698.8 L175.5,700.4 L178.0,702.1 L180.5,704.0 L182.9,705.9 L185.3,708.0 L187.7,710.0 L190.1,711.9 L192.6,713.8 L195.1,715.5" stroke="#aea365" stroke-width="1.8" opacity="0.85"/><path d="M210.9,539.1 L212.2,541.8 L213.4,544.6 L214.6,547.4 L215.9,550.1 L217.5,552.7 L219.3,555.1 L221.3,557.4 L223.3,559.7 L225.4,561.9 L227.4,564.2 L229.5,566.4 L231.5,568.7 L233.4,571.1 L235.2,573.5 L236.9,575.9 L238.5,578.5 L239.9,581.1 L241.3,583.8 L242.6,586.5 L243.8,589.3 L245.0,592.1 L246.2,595.0 L247.4,597.8 L248.6,600.5 L249.9,603.2 L251.4,605.9 L252.9,608.5 L254.5,611.0 L256.3,613.4 L258.2,615.8 L260.1,618.1 L262.2,620.4 L264.2,622.6 L266.3,624.9 L268.3,627.1 L270.3,629.4 L272.2,631.8 L274.0,634.2 L275.7,636.7 L277.3,639.2" stroke="#342e16" stroke-width="6.8"/><path d="M210.9,539.1 L212.2,541.8 L213.4,544.6 L214.6,547.4 L215.9,550.1 L217.5,552.7 L219.3,555.1 L221.3,557.4 L223.3,559.7 L225.4,561.9 L227.4,564.2 L229.5,566.4 L231.5,568.7 L233.4,571.1 L235.2,573.5 L236.9,575.9 L238.5,578.5 L239.9,581.1 L241.3,583.8 L242.6,586.5 L243.8,589.3 L245.0,592.1 L246.2,595.0 L247.4,597.8 L248.6,600.5 L249.9,603.2 L251.4,605.9 L252.9,608.5 L254.5,611.0 L256.3,613.4 L258.2,615.8 L260.1,618.1 L262.2,620.4 L264.2,622.6 L266.3,624.9 L268.3,627.1 L270.3,629.4 L272.2,631.8 L274.0,634.2 L275.7,636.7 L277.3,639.2" stroke="#948848" stroke-width="5.2"/><path d="M211.9,538.4 L213.2,541.2 L214.4,543.9 L215.7,546.7 L216.9,549.5 L218.5,552.1 L220.3,554.4 L222.3,556.7 L224.3,559.0 L226.4,561.3 L228.4,563.5 L230.5,565.8 L232.5,568.1 L234.4,570.4 L236.2,572.8 L237.9,575.3 L239.5,577.8 L240.9,580.5 L242.3,583.2 L243.6,585.9 L244.8,588.7 L246.0,591.5 L247.2,594.3 L248.4,597.1 L249.6,599.9 L250.9,602.6 L252.4,605.2 L253.9,607.8 L255.6,610.3 L257.3,612.8 L259.2,615.1 L261.1,617.5 L263.2,619.7 L265.2,622.0 L267.3,624.2 L269.3,626.5 L271.3,628.8 L273.2,631.1 L275.0,633.5 L276.8,636.0 L278.3,638.6" stroke="#c2b77a" stroke-width="1.8" opacity="0.85"/><path d="M196.8,539.9 L198.3,542.6 L199.7,545.3 L201.1,548.1 L202.4,550.9 L204.0,553.5 L205.9,555.9 L207.8,558.3 L209.8,560.7 L211.9,563.0 L214.0,565.2 L216.1,567.5 L218.2,569.8 L220.2,572.1 L222.2,574.4 L224.1,576.8 L226.0,579.3 L227.7,581.8 L229.4,584.3 L231.0,587.0 L232.5,589.7 L233.9,592.4 L235.3,595.1 L236.7,597.9 L238.1,600.7 L239.5,603.4 L240.9,606.2 L242.4,608.9 L243.9,611.5 L245.6,614.1 L247.3,616.6 L249.1,619.1 L251.0,621.5 L253.0,623.9 L255.0,626.2 L257.1,628.5 L259.2,630.7 L261.3,633.0 L263.4,635.3 L265.4,637.6 L267.4,640.0" stroke="#342e16" stroke-width="6.8"/><path d="M196.8,539.9 L198.3,542.6 L199.7,545.3 L201.1,548.1 L202.4,550.9 L204.0,553.5 L205.9,555.9 L207.8,558.3 L209.8,560.7 L211.9,563.0 L214.0,565.2 L216.1,567.5 L218.2,569.8 L220.2,572.1 L222.2,574.4 L224.1,576.8 L226.0,579.3 L227.7,581.8 L229.4,584.3 L231.0,587.0 L232.5,589.7 L233.9,592.4 L235.3,595.1 L236.7,597.9 L238.1,600.7 L239.5,603.4 L240.9,606.2 L242.4,608.9 L243.9,611.5 L245.6,614.1 L247.3,616.6 L249.1,619.1 L251.0,621.5 L253.0,623.9 L255.0,626.2 L257.1,628.5 L259.2,630.7 L261.3,633.0 L263.4,635.3 L265.4,637.6 L267.4,640.0" stroke="#867a3e" stroke-width="5.2"/><path d="M197.8,539.2 L199.3,541.9 L200.7,544.7 L202.1,547.4 L203.4,550.2 L205.0,552.8 L206.9,555.3 L208.8,557.6 L210.8,560.0 L212.9,562.3 L215.0,564.6 L217.1,566.8 L219.1,569.1 L221.2,571.4 L223.2,573.8 L225.1,576.2 L227.0,578.6 L228.7,581.1 L230.4,583.7 L232.0,586.3 L233.5,589.0 L234.9,591.7 L236.3,594.5 L237.7,597.2 L239.1,600.0 L240.5,602.8 L241.9,605.5 L243.4,608.2 L244.9,610.8 L246.6,613.4 L248.3,615.9 L250.1,618.4 L252.0,620.8 L254.0,623.2 L256.0,625.5 L258.1,627.8 L260.2,630.0 L262.3,632.3 L264.4,634.6 L266.4,636.9 L268.4,639.3" stroke="#c2b77a" stroke-width="1.8" opacity="0.85"/><path d="M134.3,933.9 L137.1,932.5 L139.8,931.2 L142.5,929.7 L145.0,928.1 L147.3,926.1 L149.4,923.8 L151.4,921.4 L153.4,919.1 L155.5,916.8 L157.6,914.6 L159.8,912.5 L162.1,910.5 L164.5,908.7 L167.1,907.1 L169.7,905.6 L172.5,904.3 L175.3,903.0 L178.2,901.8 L181.0,900.6 L183.8,899.3 L186.5,897.9 L189.2,896.4 L191.7,894.7 L194.1,892.9 L196.4,890.9 L198.6,888.8 L200.7,886.6 L202.7,884.2 L204.7,881.9 L206.8,879.5 L208.8,877.3 L211.0,875.1 L213.2,873.0 L215.6,871.2 L218.1,869.4" stroke="#342e16" stroke-width="6.8"/><path d="M134.3,933.9 L137.1,932.5 L139.8,931.2 L142.5,929.7 L145.0,928.1 L147.3,926.1 L149.4,923.8 L151.4,921.4 L153.4,919.1 L155.5,916.8 L157.6,914.6 L159.8,912.5 L162.1,910.5 L164.5,908.7 L167.1,907.1 L169.7,905.6 L172.5,904.3 L175.3,903.0 L178.2,901.8 L181.0,900.6 L183.8,899.3 L186.5,897.9 L189.2,896.4 L191.7,894.7 L194.1,892.9 L196.4,890.9 L198.6,888.8 L200.7,886.6 L202.7,884.2 L204.7,881.9 L206.8,879.5 L208.8,877.3 L211.0,875.1 L213.2,873.0 L215.6,871.2 L218.1,869.4" stroke="#948848" stroke-width="5.2"/><path d="M133.6,932.9 L136.4,931.6 L139.1,930.2 L141.8,928.7 L144.3,927.1 L146.6,925.1 L148.7,922.8 L150.7,920.5 L152.7,918.1 L154.8,915.8 L156.9,913.6 L159.1,911.5 L161.4,909.5 L163.8,907.8 L166.4,906.1 L169.0,904.7 L171.8,903.3 L174.6,902.0 L177.4,900.8 L180.3,899.6 L183.1,898.3 L185.8,896.9 L188.5,895.4 L191.0,893.8 L193.4,892.0 L195.7,890.0 L197.9,887.8 L200.0,885.6 L202.0,883.3 L204.0,880.9 L206.1,878.6 L208.1,876.3 L210.3,874.1 L212.5,872.1 L214.9,870.2 L217.3,868.5" stroke="#aea365" stroke-width="1.8" opacity="0.85"/><ellipse cx="240.1" cy="927.6" rx="6.3" ry="2.2" transform="rotate(-56 240.1 927.6)" fill="#1c2d66" stroke="none"/><path d="M437.4,801.7 L434.3,802.2 L431.2,802.6 L428.2,803.1 L425.1,803.6 L422.1,804.3 L419.2,805.2 L416.2,806.1 L413.2,807.1 L410.3,808.0 L407.3,808.9 L404.4,809.8" stroke="#3a3a30" stroke-width="3.4"/><path d="M437.4,801.7 L434.3,802.2 L431.2,802.6 L428.2,803.1 L425.1,803.6 L422.1,804.3 L419.2,805.2 L416.2,806.1 L413.2,807.1 L410.3,808.0 L407.3,808.9 L404.4,809.8" stroke="#b8b392" stroke-width="1.9"/><path d="M347.9,1081.3 L348.5,1078.3 L349.3,1075.3 L350.2,1072.3 L351.0,1069.3 L351.4,1066.3 L351.2,1063.3 L350.9,1060.2 L350.4,1057.2 L349.8,1054.1 L349.2,1051.1 L348.6,1048.0 L348.0,1045.0 L347.6,1041.9 L347.4,1038.9 L347.3,1035.8 L347.5,1032.8 L347.8,1029.8 L348.3,1026.8 L349.0,1023.8 L349.9,1020.8 L350.7,1017.8 L351.7,1014.8 L352.5,1011.8 L353.3,1008.8 L354.0,1005.8 L354.5,1002.8 L354.8,999.8 L354.8,996.8 L354.7,993.8 L354.4,990.7 L354.0,987.7 L353.4,984.6 L352.8,981.5 L352.2,978.5 L351.6,975.4 L351.2,972.4 L350.9,969.3 L350.7,966.3 L350.8,963.3 L351.1,960.2 L351.6,957.2 L352.2,954.2" stroke="#342e16" stroke-width="6.8"/><path d="M347.9,1081.3 L348.5,1078.3 L349.3,1075.3 L350.2,1072.3 L351.0,1069.3 L351.4,1066.3 L351.2,1063.3 L350.9,1060.2 L350.4,1057.2 L349.8,1054.1 L349.2,1051.1 L348.6,1048.0 L348.0,1045.0 L347.6,1041.9 L347.4,1038.9 L347.3,1035.8 L347.5,1032.8 L347.8,1029.8 L348.3,1026.8 L349.0,1023.8 L349.9,1020.8 L350.7,1017.8 L351.7,1014.8 L352.5,1011.8 L353.3,1008.8 L354.0,1005.8 L354.5,1002.8 L354.8,999.8 L354.8,996.8 L354.7,993.8 L354.4,990.7 L354.0,987.7 L353.4,984.6 L352.8,981.5 L352.2,978.5 L351.6,975.4 L351.2,972.4 L350.9,969.3 L350.7,966.3 L350.8,963.3 L351.1,960.2 L351.6,957.2 L352.2,954.2" stroke="#908444" stroke-width="5.2"/><path d="M346.7,1081.3 L347.3,1078.3 L348.1,1075.3 L349.0,1072.3 L349.8,1069.3 L350.2,1066.3 L350.0,1063.2 L349.7,1060.2 L349.2,1057.1 L348.6,1054.1 L348.0,1051.0 L347.4,1048.0 L346.8,1044.9 L346.4,1041.8 L346.2,1038.8 L346.1,1035.8 L346.3,1032.7 L346.6,1029.7 L347.1,1026.7 L347.8,1023.7 L348.7,1020.7 L349.5,1017.8 L350.5,1014.8 L351.3,1011.8 L352.1,1008.8 L352.8,1005.8 L353.3,1002.8 L353.6,999.8 L353.6,996.7 L353.5,993.7 L353.2,990.7 L352.8,987.6 L352.2,984.5 L351.6,981.5 L351.0,978.4 L350.4,975.4 L350.0,972.3 L349.7,969.3 L349.5,966.2 L349.6,963.2 L349.9,960.2 L350.4,957.2 L351.0,954.2" stroke="#aea365" stroke-width="1.8" opacity="0.85"/><path d="M83.4,743.9 L86.3,744.9 L89.1,746.0 L92.0,747.2 L94.9,748.2 L97.9,748.8 L100.9,748.9 L104.0,748.9 L107.1,748.9 L110.2,748.8 L113.3,748.7 L116.4,748.7 L119.5,748.9 L122.5,749.2 L125.5,749.7 L128.5,750.5 L131.4,751.4 L134.3,752.5 L137.1,753.7 L140.0,754.9 L142.8,756.2 L145.7,757.4 L148.6,758.5 L151.5,759.4 L154.4,760.2 L157.4,760.7 L160.4,761.1 L163.5,761.3 L166.6,761.3 L169.7,761.2 L172.8,761.1 L175.9,761.0 L179.0,761.0 L182.1,761.2 L185.1,761.5 L188.1,761.9 L191.0,762.6" stroke="#342e16" stroke-width="6.8"/><path d="M83.4,743.9 L86.3,744.9 L89.1,746.0 L92.0,747.2 L94.9,748.2 L97.9,748.8 L100.9,748.9 L104.0,748.9 L107.1,748.9 L110.2,748.8 L113.3,748.7 L116.4,748.7 L119.5,748.9 L122.5,749.2 L125.5,749.7 L128.5,750.5 L131.4,751.4 L134.3,752.5 L137.1,753.7 L140.0,754.9 L142.8,756.2 L145.7,757.4 L148.6,758.5 L151.5,759.4 L154.4,760.2 L157.4,760.7 L160.4,761.1 L163.5,761.3 L166.6,761.3 L169.7,761.2 L172.8,761.1 L175.9,761.0 L179.0,761.0 L182.1,761.2 L185.1,761.5 L188.1,761.9 L191.0,762.6" stroke="#948848" stroke-width="5.2"/><path d="M83.6,742.7 L86.5,743.7 L89.4,744.8 L92.2,746.0 L95.1,747.0 L98.1,747.6 L101.2,747.8 L104.3,747.8 L107.4,747.7 L110.5,747.6 L113.6,747.5 L116.7,747.5 L119.7,747.7 L122.8,748.0 L125.7,748.6 L128.7,749.3 L131.6,750.2 L134.5,751.3 L137.4,752.5 L140.2,753.7 L143.0,755.0 L145.9,756.2 L148.8,757.3 L151.7,758.2 L154.6,759.0 L157.6,759.5 L160.7,759.9 L163.7,760.1 L166.8,760.1 L169.9,760.0 L173.0,759.9 L176.1,759.9 L179.2,759.9 L182.3,760.0 L185.3,760.3 L188.3,760.8 L191.3,761.5" stroke="#c2b77a" stroke-width="1.8" opacity="0.85"/><path d="M99.8,845.5 L102.9,845.3 L106.0,845.2 L109.0,844.9 L112.0,844.3 L114.8,843.3 L117.6,842.0 L120.4,840.6 L123.2,839.2 L125.9,837.9 L128.7,836.6 L131.6,835.5 L134.5,834.6 L137.4,833.8 L140.3,833.2 L143.3,832.8 L146.4,832.6 L149.5,832.4 L152.6,832.4 L155.7,832.4 L158.8,832.4 L161.8,832.4 L164.9,832.2 L167.9,831.9 L170.9,831.5 L173.9,830.8 L176.8,830.0 L179.7,829.0 L182.5,827.9 L185.3,826.6 L188.1,825.2 L190.8,823.8 L193.6,822.5 L196.4,821.1 L199.2,819.9" stroke="#342e16" stroke-width="6.8"/><path d="M99.8,845.5 L102.9,845.3 L106.0,845.2 L109.0,844.9 L112.0,844.3 L114.8,843.3 L117.6,842.0 L120.4,840.6 L123.2,839.2 L125.9,837.9 L128.7,836.6 L131.6,835.5 L134.5,834.6 L137.4,833.8 L140.3,833.2 L143.3,832.8 L146.4,832.6 L149.5,832.4 L152.6,832.4 L155.7,832.4 L158.8,832.4 L161.8,832.4 L164.9,832.2 L167.9,831.9 L170.9,831.5 L173.9,830.8 L176.8,830.0 L179.7,829.0 L182.5,827.9 L185.3,826.6 L188.1,825.2 L190.8,823.8 L193.6,822.5 L196.4,821.1 L199.2,819.9" stroke="#82773d" stroke-width="5.2"/><path d="M99.6,844.3 L102.6,844.2 L105.7,844.0 L108.7,843.7 L111.7,843.2 L114.6,842.2 L117.3,840.8 L120.1,839.4 L122.9,838.0 L125.7,836.7 L128.5,835.5 L131.3,834.3 L134.2,833.4 L137.1,832.6 L140.1,832.0 L143.1,831.6 L146.1,831.4 L149.2,831.3 L152.3,831.2 L155.4,831.2 L158.5,831.3 L161.6,831.2 L164.6,831.0 L167.7,830.8 L170.7,830.3 L173.6,829.7 L176.5,828.8 L179.4,827.9 L182.2,826.7 L185.0,825.4 L187.8,824.1 L190.6,822.7 L193.3,821.3 L196.1,820.0 L198.9,818.7" stroke="#aea365" stroke-width="1.8" opacity="0.85"/><path d="M309.1,1085.1 L310.1,1082.1 L311.0,1079.2 L311.7,1076.2 L312.0,1073.1 L311.9,1070.0 L311.5,1066.9 L311.2,1063.7 L311.0,1060.6 L310.9,1057.5 L311.0,1054.4 L311.4,1051.4 L312.0,1048.4 L312.9,1045.4 L313.9,1042.4 L315.1,1039.5 L316.3,1036.6 L317.5,1033.6 L318.6,1030.7 L319.5,1027.7 L320.2,1024.7 L320.6,1021.7 L320.8,1018.6 L320.8,1015.5 L320.6,1012.4 L320.3,1009.3 L319.9,1006.1 L319.6,1003.0 L319.4,999.8 L319.4,996.7 L319.6,993.7 L320.1,990.6 L320.7,987.6 L321.7,984.7 L322.7,981.7 L323.9,978.8 L325.1,975.9 L326.3,972.9 L327.3,970.0 L328.2,967.0 L328.8,964.0 L329.2,961.0 L329.3,957.9" stroke="#342e16" stroke-width="6.8"/><path d="M309.1,1085.1 L310.1,1082.1 L311.0,1079.2 L311.7,1076.2 L312.0,1073.1 L311.9,1070.0 L311.5,1066.9 L311.2,1063.7 L311.0,1060.6 L310.9,1057.5 L311.0,1054.4 L311.4,1051.4 L312.0,1048.4 L312.9,1045.4 L313.9,1042.4 L315.1,1039.5 L316.3,1036.6 L317.5,1033.6 L318.6,1030.7 L319.5,1027.7 L320.2,1024.7 L320.6,1021.7 L320.8,1018.6 L320.8,1015.5 L320.6,1012.4 L320.3,1009.3 L319.9,1006.1 L319.6,1003.0 L319.4,999.8 L319.4,996.7 L319.6,993.7 L320.1,990.6 L320.7,987.6 L321.7,984.7 L322.7,981.7 L323.9,978.8 L325.1,975.9 L326.3,972.9 L327.3,970.0 L328.2,967.0 L328.8,964.0 L329.2,961.0 L329.3,957.9" stroke="#867a3e" stroke-width="5.2"/><path d="M307.9,1084.9 L308.9,1082.0 L309.8,1079.0 L310.5,1076.0 L310.8,1073.0 L310.7,1069.8 L310.3,1066.7 L310.0,1063.6 L309.8,1060.4 L309.7,1057.3 L309.8,1054.2 L310.2,1051.2 L310.9,1048.2 L311.7,1045.2 L312.7,1042.3 L313.9,1039.3 L315.1,1036.4 L316.3,1033.5 L317.4,1030.5 L318.3,1027.6 L319.0,1024.6 L319.4,1021.5 L319.6,1018.5 L319.6,1015.4 L319.4,1012.2 L319.1,1009.1 L318.8,1005.9 L318.4,1002.8 L318.2,999.7 L318.2,996.6 L318.4,993.5 L318.9,990.5 L319.6,987.5 L320.5,984.5 L321.5,981.6 L322.7,978.6 L323.9,975.7 L325.1,972.8 L326.1,969.8 L327.0,966.8 L327.6,963.8 L328.0,960.8 L328.1,957.7" stroke="#aea365" stroke-width="1.8" opacity="0.85"/><path d="M185.0,1010.3 L187.2,1008.1 L189.5,1005.9 L191.8,1003.8 L194.0,1001.6 L195.8,999.2 L197.1,996.4 L198.2,993.5 L199.3,990.6 L200.3,987.6 L201.3,984.6 L202.4,981.7 L203.5,978.8 L204.7,975.9 L206.1,973.2 L207.7,970.6 L209.5,968.2 L211.5,965.8 L213.6,963.6 L215.8,961.4 L218.1,959.3 L220.5,957.2 L222.9,955.2 L225.2,953.0 L227.4,950.9 L229.5,948.6 L231.4,946.2 L233.1,943.7 L234.7,941.1 L236.1,938.4 L237.3,935.6 L238.4,932.6 L239.4,929.7 L240.4,926.7 L241.4,923.7 L242.5,920.8 L243.7,917.9 L245.0,915.1 L246.5,912.5" stroke="#342e16" stroke-width="6.8"/><path d="M185.0,1010.3 L187.2,1008.1 L189.5,1005.9 L191.8,1003.8 L194.0,1001.6 L195.8,999.2 L197.1,996.4 L198.2,993.5 L199.3,990.6 L200.3,987.6 L201.3,984.6 L202.4,981.7 L203.5,978.8 L204.7,975.9 L206.1,973.2 L207.7,970.6 L209.5,968.2 L211.5,965.8 L213.6,963.6 L215.8,961.4 L218.1,959.3 L220.5,957.2 L222.9,955.2 L225.2,953.0 L227.4,950.9 L229.5,948.6 L231.4,946.2 L233.1,943.7 L234.7,941.1 L236.1,938.4 L237.3,935.6 L238.4,932.6 L239.4,929.7 L240.4,926.7 L241.4,923.7 L242.5,920.8 L243.7,917.9 L245.0,915.1 L246.5,912.5" stroke="#82773d" stroke-width="5.2"/><path d="M184.0,1009.6 L186.2,1007.4 L188.5,1005.3 L190.8,1003.2 L193.0,1001.0 L194.8,998.5 L196.1,995.7 L197.3,992.9 L198.3,989.9 L199.3,986.9 L200.3,984.0 L201.4,981.0 L202.5,978.1 L203.7,975.3 L205.1,972.6 L206.7,970.0 L208.5,967.5 L210.5,965.1 L212.6,962.9 L214.8,960.7 L217.1,958.6 L219.5,956.6 L221.9,954.5 L224.2,952.4 L226.4,950.2 L228.5,947.9 L230.4,945.6 L232.1,943.1 L233.7,940.5 L235.1,937.7 L236.3,934.9 L237.4,932.0 L238.4,929.0 L239.4,926.0 L240.4,923.0 L241.5,920.1 L242.7,917.2 L244.0,914.5 L245.5,911.8" stroke="#aea365" stroke-width="1.8" opacity="0.85"/><path d="M89.1,798.0 L92.2,798.6 L95.3,799.2 L98.4,799.5 L101.5,799.4 L104.5,798.8 L107.6,797.9 L110.6,797.0 L113.7,796.1 L116.8,795.3 L119.8,794.6 L122.9,794.2 L126.0,794.0 L129.0,794.1 L132.1,794.4 L135.2,794.9 L138.3,795.5 L141.4,796.3 L144.5,797.1 L147.6,797.8 L150.7,798.5 L153.8,799.0 L156.9,799.3 L160.0,799.3 L163.0,799.1 L166.1,798.7 L169.2,798.1 L172.2,797.3 L175.3,796.4 L178.3,795.4 L181.4,794.5 L184.4,793.7 L187.5,793.0 L190.6,792.5 L193.6,792.3" stroke="#342e16" stroke-width="6.8"/><path d="M89.1,798.0 L92.2,798.6 L95.3,799.2 L98.4,799.5 L101.5,799.4 L104.5,798.8 L107.6,797.9 L110.6,797.0 L113.7,796.1 L116.8,795.3 L119.8,794.6 L122.9,794.2 L126.0,794.0 L129.0,794.1 L132.1,794.4 L135.2,794.9 L138.3,795.5 L141.4,796.3 L144.5,797.1 L147.6,797.8 L150.7,798.5 L153.8,799.0 L156.9,799.3 L160.0,799.3 L163.0,799.1 L166.1,798.7 L169.2,798.1 L172.2,797.3 L175.3,796.4 L178.3,795.4 L181.4,794.5 L184.4,793.7 L187.5,793.0 L190.6,792.5 L193.6,792.3" stroke="#7c713a" stroke-width="5.2"/><path d="M89.1,796.8 L92.2,797.4 L95.3,798.0 L98.4,798.3 L101.4,798.2 L104.5,797.6 L107.6,796.7 L110.6,795.8 L113.7,794.9 L116.7,794.1 L119.8,793.4 L122.9,793.0 L125.9,792.8 L129.0,792.9 L132.1,793.2 L135.2,793.7 L138.3,794.3 L141.4,795.1 L144.5,795.9 L147.6,796.6 L150.7,797.3 L153.8,797.8 L156.8,798.1 L159.9,798.1 L163.0,797.9 L166.1,797.5 L169.1,796.9 L172.2,796.1 L175.2,795.2 L178.3,794.2 L181.3,793.3 L184.4,792.5 L187.5,791.8 L190.5,791.3 L193.6,791.1" stroke="#b8ad6e" stroke-width="1.8" opacity="0.85"/><path d="M116.3,894.2 L119.3,893.4 L122.3,892.7 L125.3,891.9 L128.2,890.9 L130.8,889.3 L133.2,887.4 L135.6,885.3 L138.0,883.2 L140.3,881.2 L142.8,879.2 L145.3,877.4 L147.9,875.8 L150.5,874.4 L153.4,873.3 L156.3,872.3 L159.3,871.5 L162.3,870.9 L165.4,870.3 L168.5,869.8 L171.6,869.1 L174.6,868.4 L177.5,867.5 L180.3,866.3 L183.0,865.0 L185.6,863.4 L188.2,861.6 L190.6,859.7 L193.0,857.6 L195.3,855.6 L197.7,853.5 L200.1,851.5 L202.6,849.7 L205.2,848.0 L207.8,846.6" stroke="#342e16" stroke-width="6.8"/><path d="M116.3,894.2 L119.3,893.4 L122.3,892.7 L125.3,891.9 L128.2,890.9 L130.8,889.3 L133.2,887.4 L135.6,885.3 L138.0,883.2 L140.3,881.2 L142.8,879.2 L145.3,877.4 L147.9,875.8 L150.5,874.4 L153.4,873.3 L156.3,872.3 L159.3,871.5 L162.3,870.9 L165.4,870.3 L168.5,869.8 L171.6,869.1 L174.6,868.4 L177.5,867.5 L180.3,866.3 L183.0,865.0 L185.6,863.4 L188.2,861.6 L190.6,859.7 L193.0,857.6 L195.3,855.6 L197.7,853.5 L200.1,851.5 L202.6,849.7 L205.2,848.0 L207.8,846.6" stroke="#7c713a" stroke-width="5.2"/><path d="M115.8,893.2 L118.8,892.4 L121.8,891.6 L124.8,890.8 L127.7,889.8 L130.3,888.3 L132.7,886.3 L135.1,884.2 L137.4,882.2 L139.8,880.1 L142.2,878.1 L144.7,876.3 L147.3,874.7 L150.0,873.3 L152.8,872.2 L155.7,871.2 L158.7,870.5 L161.8,869.8 L164.9,869.2 L168.0,868.7 L171.1,868.1 L174.1,867.3 L177.0,866.4 L179.8,865.3 L182.5,863.9 L185.1,862.3 L187.6,860.5 L190.1,858.6 L192.4,856.6 L194.8,854.5 L197.2,852.4 L199.6,850.4 L202.1,848.6 L204.6,847.0 L207.3,845.5" stroke="#aea365" stroke-width="1.8" opacity="0.85"/><ellipse cx="158.6" cy="651.3" rx="4.8" ry="2.2" transform="rotate(38 158.6 651.3)" fill="#1c2d66" stroke="none"/><path d="M354.6,1079.1 L355.2,1076.1 L355.9,1073.1 L356.7,1070.1 L357.3,1067.1 L357.6,1064.1 L357.3,1061.1 L356.8,1058.0 L356.3,1055.0 L355.6,1052.0 L355.0,1048.9 L354.4,1045.9 L353.9,1042.9 L353.5,1039.9 L353.4,1036.8 L353.4,1033.8 L353.7,1030.8 L354.2,1027.8 L354.8,1024.8 L355.5,1021.8 L356.4,1018.9 L357.2,1015.9 L358.0,1012.9 L358.8,1009.9 L359.3,1006.9 L359.7,1003.9 L359.9,1000.9 L359.9,997.9 L359.6,994.9 L359.2,991.8 L358.7,988.8 L358.1,985.8 L357.4,982.7 L356.8,979.7 L356.3,976.7 L355.8,973.6 L355.6,970.6 L355.6,967.6 L355.8,964.6 L356.2,961.6 L356.7,958.6 L357.4,955.6 L358.3,952.6" stroke="#342e16" stroke-width="6.8"/><path d="M354.6,1079.1 L355.2,1076.1 L355.9,1073.1 L356.7,1070.1 L357.3,1067.1 L357.6,1064.1 L357.3,1061.1 L356.8,1058.0 L356.3,1055.0 L355.6,1052.0 L355.0,1048.9 L354.4,1045.9 L353.9,1042.9 L353.5,1039.9 L353.4,1036.8 L353.4,1033.8 L353.7,1030.8 L354.2,1027.8 L354.8,1024.8 L355.5,1021.8 L356.4,1018.9 L357.2,1015.9 L358.0,1012.9 L358.8,1009.9 L359.3,1006.9 L359.7,1003.9 L359.9,1000.9 L359.9,997.9 L359.6,994.9 L359.2,991.8 L358.7,988.8 L358.1,985.8 L357.4,982.7 L356.8,979.7 L356.3,976.7 L355.8,973.6 L355.6,970.6 L355.6,967.6 L355.8,964.6 L356.2,961.6 L356.7,958.6 L357.4,955.6 L358.3,952.6" stroke="#908444" stroke-width="5.2"/><path d="M353.4,1079.0 L354.0,1076.0 L354.7,1073.0 L355.5,1070.0 L356.1,1067.1 L356.4,1064.1 L356.1,1061.0 L355.6,1058.0 L355.1,1055.0 L354.4,1051.9 L353.8,1048.9 L353.2,1045.9 L352.7,1042.8 L352.3,1039.8 L352.2,1036.8 L352.2,1033.8 L352.5,1030.8 L353.0,1027.8 L353.6,1024.8 L354.3,1021.8 L355.2,1018.8 L356.0,1015.8 L356.8,1012.8 L357.6,1009.9 L358.1,1006.9 L358.5,1003.9 L358.7,1000.9 L358.7,997.8 L358.4,994.8 L358.0,991.8 L357.5,988.8 L356.9,985.7 L356.2,982.7 L355.6,979.7 L355.1,976.6 L354.6,973.6 L354.4,970.6 L354.4,967.6 L354.6,964.6 L355.0,961.6 L355.5,958.6 L356.2,955.6 L357.1,952.6" stroke="#b8ad6e" stroke-width="1.8" opacity="0.85"/><path d="M443.5,939.6 L442.9,936.5 L442.4,933.5 L441.8,930.4 L441.0,927.5 L439.8,924.7 L438.1,922.0 L436.4,919.4 L434.6,916.9 L432.8,914.3 L431.1,911.6 L429.6,909.0 L428.1,906.3 L426.9,903.5 L425.9,900.6 L425.0,897.7 L424.4,894.6 L423.8,891.6 L423.4,888.5 L423.0,885.4 L422.6,882.3 L422.2,879.2 L421.6,876.1 L420.8,873.2 L419.9,870.3 L418.8,867.4 L417.4,864.7" stroke="#342e16" stroke-width="6.8"/><path d="M443.5,939.6 L442.9,936.5 L442.4,933.5 L441.8,930.4 L441.0,927.5 L439.8,924.7 L438.1,922.0 L436.4,919.4 L434.6,916.9 L432.8,914.3 L431.1,911.6 L429.6,909.0 L428.1,906.3 L426.9,903.5 L425.9,900.6 L425.0,897.7 L424.4,894.6 L423.8,891.6 L423.4,888.5 L423.0,885.4 L422.6,882.3 L422.2,879.2 L421.6,876.1 L420.8,873.2 L419.9,870.3 L418.8,867.4 L417.4,864.7" stroke="#82773d" stroke-width="5.2"/><path d="M442.4,940.0 L441.8,936.9 L441.3,933.9 L440.7,930.8 L439.9,927.9 L438.7,925.1 L437.0,922.5 L435.3,919.9 L433.5,917.3 L431.7,914.7 L430.0,912.1 L428.4,909.4 L427.0,906.7 L425.8,903.9 L424.8,901.0 L423.9,898.1 L423.3,895.1 L422.7,892.0 L422.3,888.9 L421.9,885.8 L421.5,882.7 L421.0,879.6 L420.4,876.6 L419.7,873.6 L418.8,870.7 L417.6,867.8 L416.3,865.1" stroke="#aea365" stroke-width="1.8" opacity="0.85"/><path d="M329.5,596.8 L329.6,599.9 L329.8,603.1 L330.2,606.1 L330.9,609.1 L332.1,612.0 L333.5,614.8 L335.0,617.6 L336.5,620.5 L337.9,623.3 L339.2,626.1 L340.3,629.0 L341.3,631.9 L342.1,634.9 L342.7,637.9 L343.2,641.0 L343.5,644.1 L343.6,647.3 L343.7,650.4 L343.7,653.6 L343.8,656.8 L343.9,659.9 L344.1,663.0 L344.5,666.1 L345.0,669.2 L345.7,672.2 L346.6,675.1" stroke="#342e16" stroke-width="6.8"/><path d="M329.5,596.8 L329.6,599.9 L329.8,603.1 L330.2,606.1 L330.9,609.1 L332.1,612.0 L333.5,614.8 L335.0,617.6 L336.5,620.5 L337.9,623.3 L339.2,626.1 L340.3,629.0 L341.3,631.9 L342.1,634.9 L342.7,637.9 L343.2,641.0 L343.5,644.1 L343.6,647.3 L343.7,650.4 L343.7,653.6 L343.8,656.8 L343.9,659.9 L344.1,663.0 L344.5,666.1 L345.0,669.2 L345.7,672.2 L346.6,675.1" stroke="#867a3e" stroke-width="5.2"/><path d="M330.6,596.5 L330.8,599.6 L331.0,602.8 L331.4,605.8 L332.1,608.8 L333.3,611.7 L334.7,614.5 L336.2,617.3 L337.7,620.2 L339.1,623.0 L340.4,625.8 L341.5,628.7 L342.5,631.6 L343.3,634.6 L343.9,637.6 L344.3,640.7 L344.6,643.8 L344.8,647.0 L344.9,650.1 L344.9,653.3 L345.0,656.5 L345.1,659.6 L345.3,662.7 L345.6,665.8 L346.2,668.9 L346.9,671.9 L347.8,674.8" stroke="#aea365" stroke-width="1.8" opacity="0.85"/><ellipse cx="170.8" cy="721.3" rx="5.9" ry="3.0" transform="rotate(24 170.8 721.3)" fill="#1c2d66" stroke="none"/><path d="M162.8,981.5 L165.1,979.5 L167.5,977.6 L169.8,975.7 L172.0,973.6 L174.0,971.4 L175.7,968.8 L177.2,966.2 L178.8,963.6 L180.3,960.9 L181.8,958.3 L183.4,955.7 L185.1,953.2 L186.9,950.7 L188.8,948.4 L190.8,946.2 L192.9,944.0 L195.1,942.0 L197.5,940.0 L199.9,938.1 L202.3,936.3 L204.7,934.4 L207.1,932.5 L209.5,930.6 L211.7,928.6 L213.9,926.5 L215.9,924.3 L217.9,922.0 L219.7,919.6 L221.4,917.1 L223.0,914.5 L224.6,911.9 L226.1,909.2 L227.6,906.6 L229.2,904.0 L230.8,901.4 L232.5,898.9 L234.3,896.5" stroke="#342e16" stroke-width="6.8"/><path d="M162.8,981.5 L165.1,979.5 L167.5,977.6 L169.8,975.7 L172.0,973.6 L174.0,971.4 L175.7,968.8 L177.2,966.2 L178.8,963.6 L180.3,960.9 L181.8,958.3 L183.4,955.7 L185.1,953.2 L186.9,950.7 L188.8,948.4 L190.8,946.2 L192.9,944.0 L195.1,942.0 L197.5,940.0 L199.9,938.1 L202.3,936.3 L204.7,934.4 L207.1,932.5 L209.5,930.6 L211.7,928.6 L213.9,926.5 L215.9,924.3 L217.9,922.0 L219.7,919.6 L221.4,917.1 L223.0,914.5 L224.6,911.9 L226.1,909.2 L227.6,906.6 L229.2,904.0 L230.8,901.4 L232.5,898.9 L234.3,896.5" stroke="#82773d" stroke-width="5.2"/><path d="M161.9,980.7 L164.2,978.7 L166.6,976.8 L168.9,974.9 L171.1,972.9 L173.1,970.6 L174.8,968.0 L176.3,965.4 L177.9,962.8 L179.4,960.1 L180.9,957.5 L182.5,954.9 L184.2,952.4 L186.0,949.9 L187.9,947.6 L189.9,945.4 L192.0,943.2 L194.2,941.2 L196.6,939.3 L199.0,937.4 L201.4,935.5 L203.8,933.6 L206.2,931.7 L208.6,929.8 L210.8,927.8 L213.0,925.7 L215.0,923.5 L217.0,921.2 L218.8,918.8 L220.5,916.3 L222.1,913.7 L223.7,911.1 L225.2,908.4 L226.7,905.8 L228.3,903.2 L229.9,900.6 L231.6,898.1 L233.4,895.7" stroke="#c2b77a" stroke-width="1.8" opacity="0.85"/><path d="M444.7,847.5 L441.6,847.5 L438.5,847.5 L435.4,847.7 L432.4,848.1 L429.3,848.9 L426.3,849.7 L423.3,850.6 L420.3,851.4 L417.3,852.1 L414.2,852.7 L411.2,853.2" stroke="#3a3a30" stroke-width="3.4"/><path d="M444.7,847.5 L441.6,847.5 L438.5,847.5 L435.4,847.7 L432.4,848.1 L429.3,848.9 L426.3,849.7 L423.3,850.6 L420.3,851.4 L417.3,852.1 L414.2,852.7 L411.2,853.2" stroke="#a7a384" stroke-width="1.9"/><path d="M84.2,758.8 L87.2,759.8 L90.2,760.8 L93.1,761.8 L96.2,762.4 L99.3,762.5 L102.4,762.2 L105.6,761.8 L108.7,761.4 L111.9,761.0 L115.0,760.8 L118.1,760.8 L121.2,760.9 L124.3,761.3 L127.3,762.0 L130.3,762.8 L133.3,763.9 L136.2,765.0 L139.2,766.3 L142.1,767.5 L145.1,768.7 L148.0,769.7 L151.0,770.5 L154.0,771.1 L157.1,771.5 L160.2,771.6 L163.3,771.5 L166.5,771.3 L169.6,770.9 L172.8,770.5 L175.9,770.1 L179.1,769.8 L182.2,769.7 L185.3,769.7 L188.4,770.0 L191.4,770.5" stroke="#342e16" stroke-width="6.8"/><path d="M84.2,758.8 L87.2,759.8 L90.2,760.8 L93.1,761.8 L96.2,762.4 L99.3,762.5 L102.4,762.2 L105.6,761.8 L108.7,761.4 L111.9,761.0 L115.0,760.8 L118.1,760.8 L121.2,760.9 L124.3,761.3 L127.3,762.0 L130.3,762.8 L133.3,763.9 L136.2,765.0 L139.2,766.3 L142.1,767.5 L145.1,768.7 L148.0,769.7 L151.0,770.5 L154.0,771.1 L157.1,771.5 L160.2,771.6 L163.3,771.5 L166.5,771.3 L169.6,770.9 L172.8,770.5 L175.9,770.1 L179.1,769.8 L182.2,769.7 L185.3,769.7 L188.4,770.0 L191.4,770.5" stroke="#82773d" stroke-width="5.2"/><path d="M84.4,757.6 L87.4,758.6 L90.3,759.6 L93.3,760.6 L96.3,761.2 L99.4,761.3 L102.6,761.0 L105.7,760.6 L108.9,760.2 L112.1,759.8 L115.2,759.6 L118.3,759.6 L121.4,759.7 L124.4,760.1 L127.5,760.8 L130.5,761.6 L133.4,762.7 L136.4,763.9 L139.3,765.1 L142.3,766.3 L145.2,767.5 L148.2,768.5 L151.2,769.3 L154.2,769.9 L157.3,770.3 L160.4,770.4 L163.5,770.3 L166.6,770.1 L169.8,769.7 L172.9,769.3 L176.1,768.9 L179.2,768.6 L182.4,768.5 L185.5,768.5 L188.5,768.8 L191.6,769.3" stroke="#aea365" stroke-width="1.8" opacity="0.85"/><ellipse cx="216.4" cy="634.8" rx="3.8" ry="3.0" transform="rotate(48 216.4 634.8)" fill="#1c2d66" stroke="none"/><path d="M348.6,617.3 L348.5,620.3 L348.5,623.4 L348.6,626.5 L349.0,629.5 L350.0,632.4 L351.2,635.3 L352.5,638.1 L353.8,641.0 L355.0,643.9 L356.0,646.8 L356.9,649.7 L357.5,652.7 L357.8,655.7 L358.0,658.8 L358.0,661.8 L357.8,665.0 L357.5,668.1 L357.2,671.2 L357.0,674.3 L356.8,677.4 L356.9,680.5 L357.1,683.5 L357.6,686.5" stroke="#342e16" stroke-width="6.8"/><path d="M348.6,617.3 L348.5,620.3 L348.5,623.4 L348.6,626.5 L349.0,629.5 L350.0,632.4 L351.2,635.3 L352.5,638.1 L353.8,641.0 L355.0,643.9 L356.0,646.8 L356.9,649.7 L357.5,652.7 L357.8,655.7 L358.0,658.8 L358.0,661.8 L357.8,665.0 L357.5,668.1 L357.2,671.2 L357.0,674.3 L356.8,677.4 L356.9,680.5 L357.1,683.5 L357.6,686.5" stroke="#948848" stroke-width="5.2"/><path d="M349.8,617.1 L349.7,620.1 L349.7,623.2 L349.8,626.3 L350.2,629.3 L351.1,632.2 L352.4,635.1 L353.7,637.9 L355.0,640.8 L356.2,643.7 L357.2,646.6 L358.1,649.5 L358.7,652.5 L359.0,655.5 L359.2,658.6 L359.1,661.6 L359.0,664.8 L358.7,667.9 L358.4,671.0 L358.1,674.1 L358.0,677.2 L358.1,680.3 L358.3,683.3 L358.8,686.3" stroke="#b8ad6e" stroke-width="1.8" opacity="0.85"/><path d="M225.2,1048.9 L226.8,1046.2 L228.4,1043.6 L230.1,1041.0 L231.7,1038.3 L233.0,1035.5 L233.9,1032.6 L234.8,1029.7 L235.6,1026.7 L236.3,1023.7 L237.0,1020.6 L237.8,1017.6 L238.5,1014.6 L239.4,1011.7 L240.3,1008.7 L241.4,1005.9 L242.5,1003.0 L243.8,1000.2 L245.2,997.5 L246.7,994.8 L248.3,992.2 L250.0,989.6 L251.7,987.0 L253.3,984.3 L255.0,981.7 L256.6,979.1 L258.1,976.4 L259.5,973.7 L260.7,970.9 L261.9,968.0 L262.9,965.2 L263.9,962.2 L264.7,959.3 L265.5,956.3 L266.2,953.2 L266.9,950.2 L267.7,947.2 L268.4,944.2 L269.3,941.3 L270.3,938.3 L271.4,935.5" stroke="#342e16" stroke-width="6.8"/><path d="M225.2,1048.9 L226.8,1046.2 L228.4,1043.6 L230.1,1041.0 L231.7,1038.3 L233.0,1035.5 L233.9,1032.6 L234.8,1029.7 L235.6,1026.7 L236.3,1023.7 L237.0,1020.6 L237.8,1017.6 L238.5,1014.6 L239.4,1011.7 L240.3,1008.7 L241.4,1005.9 L242.5,1003.0 L243.8,1000.2 L245.2,997.5 L246.7,994.8 L248.3,992.2 L250.0,989.6 L251.7,987.0 L253.3,984.3 L255.0,981.7 L256.6,979.1 L258.1,976.4 L259.5,973.7 L260.7,970.9 L261.9,968.0 L262.9,965.2 L263.9,962.2 L264.7,959.3 L265.5,956.3 L266.2,953.2 L266.9,950.2 L267.7,947.2 L268.4,944.2 L269.3,941.3 L270.3,938.3 L271.4,935.5" stroke="#867a3e" stroke-width="5.2"/><path d="M224.1,1048.4 L225.7,1045.7 L227.3,1043.1 L229.0,1040.5 L230.6,1037.8 L231.9,1035.1 L232.8,1032.2 L233.7,1029.2 L234.5,1026.2 L235.2,1023.2 L235.9,1020.2 L236.7,1017.2 L237.4,1014.2 L238.3,1011.2 L239.2,1008.3 L240.3,1005.4 L241.4,1002.6 L242.7,999.8 L244.1,997.0 L245.6,994.4 L247.2,991.7 L248.9,989.1 L250.5,986.5 L252.2,983.9 L253.9,981.2 L255.5,978.6 L257.0,975.9 L258.4,973.2 L259.6,970.4 L260.8,967.6 L261.8,964.7 L262.8,961.8 L263.6,958.8 L264.4,955.8 L265.1,952.8 L265.8,949.7 L266.6,946.7 L267.3,943.7 L268.2,940.8 L269.2,937.9 L270.3,935.0" stroke="#b8ad6e" stroke-width="1.8" opacity="0.85"/><path d="M394.2,1052.7 L394.4,1049.6 L394.6,1046.5 L394.8,1043.5 L394.8,1040.4 L394.5,1037.4 L393.8,1034.4 L393.2,1031.4 L392.4,1028.4 L391.7,1025.4 L391.0,1022.4 L390.4,1019.4 L389.9,1016.4 L389.4,1013.3 L389.1,1010.3 L388.8,1007.3 L388.7,1004.2 L388.7,1001.2 L388.9,998.1 L389.0,995.1 L389.3,992.0 L389.6,988.9 L389.8,985.8 L390.1,982.8 L390.3,979.7 L390.4,976.7 L390.4,973.6 L390.2,970.6 L390.0,967.5 L389.6,964.5 L389.2,961.5 L388.6,958.5 L388.0,955.5 L387.3,952.5 L386.5,949.5 L385.8,946.5 L385.2,943.5 L384.6,940.5 L384.0,937.4 L383.6,934.4" stroke="#342e16" stroke-width="6.8"/><path d="M394.2,1052.7 L394.4,1049.6 L394.6,1046.5 L394.8,1043.5 L394.8,1040.4 L394.5,1037.4 L393.8,1034.4 L393.2,1031.4 L392.4,1028.4 L391.7,1025.4 L391.0,1022.4 L390.4,1019.4 L389.9,1016.4 L389.4,1013.3 L389.1,1010.3 L388.8,1007.3 L388.7,1004.2 L388.7,1001.2 L388.9,998.1 L389.0,995.1 L389.3,992.0 L389.6,988.9 L389.8,985.8 L390.1,982.8 L390.3,979.7 L390.4,976.7 L390.4,973.6 L390.2,970.6 L390.0,967.5 L389.6,964.5 L389.2,961.5 L388.6,958.5 L388.0,955.5 L387.3,952.5 L386.5,949.5 L385.8,946.5 L385.2,943.5 L384.6,940.5 L384.0,937.4 L383.6,934.4" stroke="#948848" stroke-width="5.2"/><path d="M393.0,1052.8 L393.2,1049.7 L393.4,1046.6 L393.6,1043.6 L393.6,1040.5 L393.3,1037.5 L392.6,1034.5 L392.0,1031.5 L391.2,1028.5 L390.5,1025.5 L389.8,1022.5 L389.2,1019.5 L388.7,1016.4 L388.2,1013.4 L387.9,1010.4 L387.6,1007.4 L387.5,1004.3 L387.6,1001.3 L387.7,998.2 L387.9,995.1 L388.1,992.1 L388.4,989.0 L388.6,985.9 L388.9,982.9 L389.1,979.8 L389.2,976.7 L389.2,973.7 L389.0,970.6 L388.8,967.6 L388.4,964.6 L388.0,961.6 L387.4,958.6 L386.8,955.6 L386.1,952.6 L385.4,949.6 L384.6,946.6 L384.0,943.6 L383.4,940.5 L382.8,937.5 L382.4,934.5" stroke="#aea365" stroke-width="1.8" opacity="0.85"/><path d="M416.3,731.9 L413.3,732.7 L410.3,733.5 L407.3,734.3 L404.3,735.2 L401.5,736.4 L398.7,737.8 L396.0,739.4 L393.3,740.9 L390.6,742.5 L387.9,744.0 L385.1,745.5" stroke="#3a3a30" stroke-width="3.4"/><path d="M416.3,731.9 L413.3,732.7 L410.3,733.5 L407.3,734.3 L404.3,735.2 L401.5,736.4 L398.7,737.8 L396.0,739.4 L393.3,740.9 L390.6,742.5 L387.9,744.0 L385.1,745.5" stroke="#a7a384" stroke-width="1.9"/><path d="M260.6,1071.1 L261.9,1068.3 L263.2,1065.6 L264.5,1062.8 L265.5,1060.0 L266.2,1057.0 L266.4,1053.9 L266.6,1050.9 L266.8,1047.8 L267.0,1044.7 L267.3,1041.6 L267.7,1038.6 L268.3,1035.7 L269.1,1032.8 L270.0,1029.9 L271.2,1027.1 L272.5,1024.3 L273.9,1021.6 L275.4,1018.9 L276.9,1016.2 L278.3,1013.4 L279.6,1010.7 L280.8,1007.9 L281.8,1005.0 L282.7,1002.2 L283.3,999.2 L283.8,996.2 L284.1,993.2 L284.3,990.1 L284.5,987.0 L284.7,983.9 L284.9,980.8 L285.2,977.8 L285.7,974.8 L286.4,971.9 L287.3,969.0 L288.3,966.1 L289.5,963.4 L290.9,960.6 L292.4,957.9 L293.8,955.2 L295.3,952.5 L296.7,949.7" stroke="#342e16" stroke-width="6.8"/><path d="M260.6,1071.1 L261.9,1068.3 L263.2,1065.6 L264.5,1062.8 L265.5,1060.0 L266.2,1057.0 L266.4,1053.9 L266.6,1050.9 L266.8,1047.8 L267.0,1044.7 L267.3,1041.6 L267.7,1038.6 L268.3,1035.7 L269.1,1032.8 L270.0,1029.9 L271.2,1027.1 L272.5,1024.3 L273.9,1021.6 L275.4,1018.9 L276.9,1016.2 L278.3,1013.4 L279.6,1010.7 L280.8,1007.9 L281.8,1005.0 L282.7,1002.2 L283.3,999.2 L283.8,996.2 L284.1,993.2 L284.3,990.1 L284.5,987.0 L284.7,983.9 L284.9,980.8 L285.2,977.8 L285.7,974.8 L286.4,971.9 L287.3,969.0 L288.3,966.1 L289.5,963.4 L290.9,960.6 L292.4,957.9 L293.8,955.2 L295.3,952.5 L296.7,949.7" stroke="#7c713a" stroke-width="5.2"/><path d="M259.4,1070.8 L260.7,1068.0 L262.1,1065.2 L263.3,1062.5 L264.4,1059.6 L265.0,1056.7 L265.3,1053.6 L265.5,1050.5 L265.6,1047.4 L265.8,1044.4 L266.1,1041.3 L266.5,1038.3 L267.1,1035.3 L267.9,1032.4 L268.9,1029.6 L270.0,1026.8 L271.3,1024.0 L272.7,1021.3 L274.2,1018.6 L275.7,1015.8 L277.1,1013.1 L278.5,1010.4 L279.7,1007.6 L280.7,1004.7 L281.5,1001.8 L282.2,998.9 L282.6,995.9 L282.9,992.8 L283.2,989.8 L283.3,986.7 L283.5,983.6 L283.7,980.5 L284.1,977.5 L284.6,974.5 L285.2,971.5 L286.1,968.7 L287.2,965.8 L288.4,963.0 L289.8,960.3 L291.2,957.6 L292.7,954.9 L294.2,952.1 L295.6,949.4" stroke="#aea365" stroke-width="1.8" opacity="0.85"/><path d="M401.2,697.8 L398.3,698.9 L395.4,699.9 L392.4,700.8 L389.4,701.8 L386.6,703.0 L383.9,704.5 L381.3,706.2 L378.6,707.9 L376.1,709.6 L373.5,711.4 L370.9,713.1" stroke="#3a3a30" stroke-width="3.4"/><path d="M401.2,697.8 L398.3,698.9 L395.4,699.9 L392.4,700.8 L389.4,701.8 L386.6,703.0 L383.9,704.5 L381.3,706.2 L378.6,707.9 L376.1,709.6 L373.5,711.4 L370.9,713.1" stroke="#b8b392" stroke-width="1.9"/><path d="M83.9,704.8 L86.5,706.5 L89.2,708.1 L92.0,709.4 L94.9,710.5 L98.0,711.0 L101.1,711.2 L104.3,711.4 L107.5,711.7 L110.6,712.0 L113.7,712.6 L116.7,713.3 L119.6,714.3 L122.5,715.5 L125.2,716.9 L127.9,718.5 L130.5,720.3 L133.2,722.1 L135.8,723.9 L138.4,725.7 L141.1,727.4 L143.8,728.8 L146.6,730.1 L149.5,731.1 L152.5,731.9 L155.6,732.4 L158.7,732.8 L161.9,733.1 L165.0,733.3 L168.2,733.5 L171.4,733.8 L174.5,734.2 L177.5,734.8 L180.5,735.7 L183.4,736.8 L186.2,738.1 L188.9,739.6 L191.5,741.3" stroke="#342e16" stroke-width="6.8"/><path d="M83.9,704.8 L86.5,706.5 L89.2,708.1 L92.0,709.4 L94.9,710.5 L98.0,711.0 L101.1,711.2 L104.3,711.4 L107.5,711.7 L110.6,712.0 L113.7,712.6 L116.7,713.3 L119.6,714.3 L122.5,715.5 L125.2,716.9 L127.9,718.5 L130.5,720.3 L133.2,722.1 L135.8,723.9 L138.4,725.7 L141.1,727.4 L143.8,728.8 L146.6,730.1 L149.5,731.1 L152.5,731.9 L155.6,732.4 L158.7,732.8 L161.9,733.1 L165.0,733.3 L168.2,733.5 L171.4,733.8 L174.5,734.2 L177.5,734.8 L180.5,735.7 L183.4,736.8 L186.2,738.1 L188.9,739.6 L191.5,741.3" stroke="#948848" stroke-width="5.2"/><path d="M84.3,703.7 L86.9,705.4 L89.6,706.9 L92.4,708.3 L95.3,709.4 L98.4,709.9 L101.5,710.1 L104.7,710.3 L107.9,710.5 L111.0,710.9 L114.1,711.4 L117.1,712.2 L120.0,713.1 L122.9,714.3 L125.6,715.8 L128.3,717.4 L130.9,719.1 L133.6,721.0 L136.2,722.8 L138.8,724.6 L141.5,726.2 L144.2,727.7 L147.0,728.9 L149.9,730.0 L152.9,730.7 L156.0,731.3 L159.1,731.7 L162.3,731.9 L165.4,732.1 L168.6,732.3 L171.8,732.6 L174.9,733.1 L177.9,733.7 L180.9,734.5 L183.8,735.6 L186.5,736.9 L189.3,738.5 L191.9,740.2" stroke="#b8ad6e" stroke-width="1.8" opacity="0.85"/><ellipse cx="227.3" cy="609.7" rx="3.3" ry="3.0" transform="rotate(53 227.3 609.7)" fill="#f4f4f0" stroke="none"/><path d="M441.5,823.7 L438.4,823.9 L435.3,824.0 L432.2,824.3 L429.2,824.6 L426.1,825.3 L423.2,826.2 L420.2,827.2 L417.2,828.2 L414.2,829.1 L411.3,830.0 L408.3,830.8" stroke="#3a3a30" stroke-width="3.4"/><path d="M441.5,823.7 L438.4,823.9 L435.3,824.0 L432.2,824.3 L429.2,824.6 L426.1,825.3 L423.2,826.2 L420.2,827.2 L417.2,828.2 L414.2,829.1 L411.3,830.0 L408.3,830.8" stroke="#a7a384" stroke-width="1.9"/><path d="M414.6,1025.9 L414.6,1022.8 L414.7,1019.7 L414.6,1016.6 L414.4,1013.6 L413.6,1010.6 L412.6,1007.7 L411.4,1004.7 L410.3,1001.8 L409.2,998.9 L408.3,995.9 L407.5,993.0 L407.0,989.9 L406.6,986.9 L406.5,983.8 L406.5,980.7 L406.7,977.6 L406.9,974.5 L407.2,971.4 L407.4,968.2 L407.4,965.1 L407.3,962.1 L407.0,959.0 L406.5,956.0 L405.7,953.0 L404.8,950.1 L403.7,947.1 L402.6,944.2 L401.5,941.3 L400.4,938.4 L399.4,935.4 L398.6,932.4 L398.0,929.4 L397.7,926.4 L397.5,923.3 L397.5,920.2 L397.7,917.1" stroke="#342e16" stroke-width="6.8"/><path d="M414.6,1025.9 L414.6,1022.8 L414.7,1019.7 L414.6,1016.6 L414.4,1013.6 L413.6,1010.6 L412.6,1007.7 L411.4,1004.7 L410.3,1001.8 L409.2,998.9 L408.3,995.9 L407.5,993.0 L407.0,989.9 L406.6,986.9 L406.5,983.8 L406.5,980.7 L406.7,977.6 L406.9,974.5 L407.2,971.4 L407.4,968.2 L407.4,965.1 L407.3,962.1 L407.0,959.0 L406.5,956.0 L405.7,953.0 L404.8,950.1 L403.7,947.1 L402.6,944.2 L401.5,941.3 L400.4,938.4 L399.4,935.4 L398.6,932.4 L398.0,929.4 L397.7,926.4 L397.5,923.3 L397.5,920.2 L397.7,917.1" stroke="#867a3e" stroke-width="5.2"/><path d="M413.4,1026.1 L413.4,1023.0 L413.5,1019.9 L413.4,1016.8 L413.2,1013.8 L412.5,1010.8 L411.4,1007.8 L410.2,1004.9 L409.1,1002.0 L408.0,999.1 L407.1,996.1 L406.3,993.1 L405.8,990.1 L405.4,987.1 L405.3,984.0 L405.3,980.9 L405.5,977.8 L405.8,974.7 L406.0,971.5 L406.2,968.4 L406.2,965.3 L406.1,962.2 L405.8,959.2 L405.3,956.2 L404.5,953.2 L403.6,950.3 L402.6,947.3 L401.4,944.4 L400.3,941.5 L399.2,938.5 L398.2,935.6 L397.4,932.6 L396.8,929.6 L396.5,926.6 L396.3,923.5 L396.3,920.4 L396.5,917.3" stroke="#aea365" stroke-width="1.8" opacity="0.85"/><path d="M282.0,560.3 L282.8,563.3 L283.5,566.3 L284.1,569.4 L285.0,572.3 L286.3,575.1 L288.0,577.7 L289.8,580.3 L291.7,582.8 L293.5,585.3 L295.3,587.9 L296.9,590.5 L298.4,593.2 L299.6,596.0 L300.7,598.9 L301.5,601.8 L302.2,604.9 L302.8,608.0 L303.3,611.1 L303.8,614.2 L304.4,617.2 L305.1,620.2 L306.0,623.2 L307.1,626.0 L308.4,628.8 L309.9,631.5 L311.6,634.1 L313.4,636.6 L315.2,639.2 L317.1,641.7 L318.9,644.3 L320.5,646.9 L322.0,649.6 L323.3,652.3" stroke="#342e16" stroke-width="6.8"/><path d="M282.0,560.3 L282.8,563.3 L283.5,566.3 L284.1,569.4 L285.0,572.3 L286.3,575.1 L288.0,577.7 L289.8,580.3 L291.7,582.8 L293.5,585.3 L295.3,587.9 L296.9,590.5 L298.4,593.2 L299.6,596.0 L300.7,598.9 L301.5,601.8 L302.2,604.9 L302.8,608.0 L303.3,611.1 L303.8,614.2 L304.4,617.2 L305.1,620.2 L306.0,623.2 L307.1,626.0 L308.4,628.8 L309.9,631.5 L311.6,634.1 L313.4,636.6 L315.2,639.2 L317.1,641.7 L318.9,644.3 L320.5,646.9 L322.0,649.6 L323.3,652.3" stroke="#7c713a" stroke-width="5.2"/><path d="M283.1,559.9 L283.9,562.8 L284.6,565.9 L285.3,568.9 L286.1,571.9 L287.4,574.6 L289.1,577.2 L290.9,579.8 L292.8,582.3 L294.6,584.9 L296.4,587.4 L298.0,590.1 L299.5,592.8 L300.7,595.5 L301.8,598.4 L302.6,601.4 L303.3,604.4 L303.9,607.5 L304.4,610.6 L304.9,613.7 L305.5,616.8 L306.2,619.8 L307.1,622.7 L308.2,625.6 L309.5,628.3 L311.0,631.0 L312.7,633.6 L314.5,636.2 L316.3,638.7 L318.2,641.2 L320.0,643.8 L321.6,646.4 L323.1,649.1 L324.4,651.9" stroke="#aea365" stroke-width="1.8" opacity="0.85"/><path d="M202.4,539.4 L203.6,542.1 L204.8,545.0 L206.1,547.8 L207.5,550.5 L209.3,553.0 L211.6,555.1 L213.9,557.2 L216.2,559.3 L218.5,561.5 L220.7,563.6 L222.8,565.9 L224.6,568.3 L226.3,570.9 L227.8,573.5 L229.1,576.3 L230.3,579.2 L231.3,582.1 L232.4,585.1 L233.4,588.0 L234.6,590.9 L235.9,593.7 L237.4,596.3 L239.2,598.9 L241.1,601.2 L243.1,603.5 L245.4,605.7 L247.7,607.8 L250.0,609.9 L252.3,612.0 L254.5,614.2 L256.5,616.5 L258.4,618.9 L260.1,621.4 L261.5,624.1 L262.8,626.9 L264.0,629.8 L265.1,632.7 L266.1,635.7 L267.2,638.6 L268.4,641.5" stroke="#342e16" stroke-width="6.8"/><path d="M202.4,539.4 L203.6,542.1 L204.8,545.0 L206.1,547.8 L207.5,550.5 L209.3,553.0 L211.6,555.1 L213.9,557.2 L216.2,559.3 L218.5,561.5 L220.7,563.6 L222.8,565.9 L224.6,568.3 L226.3,570.9 L227.8,573.5 L229.1,576.3 L230.3,579.2 L231.3,582.1 L232.4,585.1 L233.4,588.0 L234.6,590.9 L235.9,593.7 L237.4,596.3 L239.2,598.9 L241.1,601.2 L243.1,603.5 L245.4,605.7 L247.7,607.8 L250.0,609.9 L252.3,612.0 L254.5,614.2 L256.5,616.5 L258.4,618.9 L260.1,621.4 L261.5,624.1 L262.8,626.9 L264.0,629.8 L265.1,632.7 L266.1,635.7 L267.2,638.6 L268.4,641.5" stroke="#82773d" stroke-width="5.2"/><path d="M203.3,538.7 L204.6,541.5 L205.8,544.3 L207.1,547.2 L208.5,549.9 L210.3,552.3 L212.6,554.5 L214.9,556.6 L217.2,558.7 L219.5,560.8 L221.7,563.0 L223.8,565.3 L225.6,567.7 L227.3,570.2 L228.8,572.9 L230.1,575.7 L231.3,578.5 L232.3,581.5 L233.4,584.4 L234.4,587.4 L235.6,590.2 L236.9,593.0 L238.4,595.7 L240.1,598.2 L242.1,600.6 L244.1,602.8 L246.4,605.0 L248.7,607.1 L251.0,609.2 L253.3,611.3 L255.5,613.5 L257.5,615.8 L259.4,618.2 L261.1,620.8 L262.5,623.4 L263.8,626.2 L265.0,629.1 L266.1,632.1 L267.1,635.0 L268.2,638.0 L269.4,640.8" stroke="#c2b77a" stroke-width="1.8" opacity="0.85"/><path d="M376.3,654.2 L373.6,655.6 L370.8,657.1 L368.1,658.6 L365.5,660.2 L362.9,661.9 L360.5,663.9 L358.1,665.8 L355.7,667.8 L353.2,669.7 L350.8,671.6 L348.3,673.5" stroke="#3a3a30" stroke-width="3.4"/><path d="M376.3,654.2 L373.6,655.6 L370.8,657.1 L368.1,658.6 L365.5,660.2 L362.9,661.9 L360.5,663.9 L358.1,665.8 L355.7,667.8 L353.2,669.7 L350.8,671.6 L348.3,673.5" stroke="#b8b392" stroke-width="1.9"/><path d="M96.5,833.1 L99.6,832.9 L102.6,832.8 L105.7,832.6 L108.7,832.3 L111.7,831.7 L114.6,830.7 L117.5,829.7 L120.4,828.7 L123.2,827.7 L126.1,826.7 L129.1,825.9 L132.0,825.1 L135.0,824.4 L137.9,823.9 L140.9,823.4 L144.0,823.2 L147.0,823.0 L150.1,822.9 L153.1,822.8 L156.2,822.8 L159.2,822.7 L162.3,822.6 L165.3,822.4 L168.3,822.0 L171.3,821.6 L174.3,821.0 L177.3,820.3 L180.2,819.5 L183.1,818.6 L186.0,817.6 L188.9,816.6 L191.8,815.6 L194.7,814.6 L197.6,813.7" stroke="#342e16" stroke-width="6.8"/><path d="M96.5,833.1 L99.6,832.9 L102.6,832.8 L105.7,832.6 L108.7,832.3 L111.7,831.7 L114.6,830.7 L117.5,829.7 L120.4,828.7 L123.2,827.7 L126.1,826.7 L129.1,825.9 L132.0,825.1 L135.0,824.4 L137.9,823.9 L140.9,823.4 L144.0,823.2 L147.0,823.0 L150.1,822.9 L153.1,822.8 L156.2,822.8 L159.2,822.7 L162.3,822.6 L165.3,822.4 L168.3,822.0 L171.3,821.6 L174.3,821.0 L177.3,820.3 L180.2,819.5 L183.1,818.6 L186.0,817.6 L188.9,816.6 L191.8,815.6 L194.7,814.6 L197.6,813.7" stroke="#82773d" stroke-width="5.2"/><path d="M96.3,831.9 L99.4,831.8 L102.4,831.6 L105.5,831.4 L108.5,831.1 L111.4,830.5 L114.3,829.5 L117.2,828.6 L120.1,827.5 L123.0,826.5 L125.9,825.6 L128.9,824.7 L131.8,823.9 L134.7,823.2 L137.7,822.7 L140.7,822.3 L143.7,822.0 L146.8,821.8 L149.8,821.7 L152.9,821.6 L156.0,821.6 L159.0,821.5 L162.1,821.4 L165.1,821.2 L168.1,820.9 L171.1,820.4 L174.1,819.9 L177.1,819.2 L180.0,818.3 L182.9,817.4 L185.8,816.4 L188.7,815.4 L191.6,814.4 L194.5,813.4 L197.4,812.5" stroke="#aea365" stroke-width="1.8" opacity="0.85"/><path d="M258.2,548.8 L259.3,551.6 L260.2,554.5 L261.1,557.5 L262.0,560.4 L263.1,563.3 L264.6,565.9 L266.1,568.5 L267.8,571.0 L269.5,573.6 L271.2,576.1 L273.0,578.6 L274.8,581.0 L276.6,583.5 L278.3,586.1 L279.9,588.6 L281.4,591.3 L282.9,593.9 L284.2,596.6 L285.4,599.4 L286.6,602.2 L287.6,605.1 L288.6,608.0 L289.5,610.9 L290.4,613.8 L291.3,616.7 L292.2,619.6 L293.2,622.5 L294.2,625.4 L295.3,628.2 L296.6,631.0 L297.9,633.7 L299.3,636.3 L300.9,639.0 L302.5,641.5 L304.2,644.1 L305.9,646.6" stroke="#342e16" stroke-width="6.8"/><path d="M258.2,548.8 L259.3,551.6 L260.2,554.5 L261.1,557.5 L262.0,560.4 L263.1,563.3 L264.6,565.9 L266.1,568.5 L267.8,571.0 L269.5,573.6 L271.2,576.1 L273.0,578.6 L274.8,581.0 L276.6,583.5 L278.3,586.1 L279.9,588.6 L281.4,591.3 L282.9,593.9 L284.2,596.6 L285.4,599.4 L286.6,602.2 L287.6,605.1 L288.6,608.0 L289.5,610.9 L290.4,613.8 L291.3,616.7 L292.2,619.6 L293.2,622.5 L294.2,625.4 L295.3,628.2 L296.6,631.0 L297.9,633.7 L299.3,636.3 L300.9,639.0 L302.5,641.5 L304.2,644.1 L305.9,646.6" stroke="#948848" stroke-width="5.2"/><path d="M259.3,548.3 L260.4,551.1 L261.3,554.0 L262.2,557.0 L263.1,559.9 L264.2,562.7 L265.6,565.4 L267.2,568.0 L268.8,570.5 L270.6,573.0 L272.3,575.5 L274.1,578.0 L275.9,580.5 L277.7,583.0 L279.4,585.5 L281.0,588.1 L282.5,590.7 L284.0,593.4 L285.3,596.1 L286.5,598.9 L287.6,601.7 L288.7,604.5 L289.7,607.4 L290.6,610.3 L291.5,613.3 L292.4,616.2 L293.3,619.1 L294.2,622.0 L295.3,624.9 L296.4,627.7 L297.6,630.4 L299.0,633.2 L300.4,635.8 L301.9,638.4 L303.6,641.0 L305.3,643.5 L307.0,646.0" stroke="#c2b77a" stroke-width="1.8" opacity="0.85"/><ellipse cx="150.5" cy="667.1" rx="5.1" ry="2.7" transform="rotate(34 150.5 667.1)" fill="#1c2d66" stroke="none"/><path d="M445.7,919.7 L444.9,916.7 L444.2,913.6 L443.3,910.6 L442.2,907.6 L440.8,904.8 L439.1,902.2 L437.3,899.6 L435.5,897.0 L433.7,894.3 L431.9,891.7 L430.2,889.1 L428.6,886.3 L427.1,883.6 L425.7,880.8 L424.5,877.9 L423.5,874.9 L422.5,872.0 L421.7,868.9 L420.9,865.8 L420.1,862.7 L419.4,859.7 L418.6,856.6 L417.8,853.5" stroke="#342e16" stroke-width="6.8"/><path d="M445.7,919.7 L444.9,916.7 L444.2,913.6 L443.3,910.6 L442.2,907.6 L440.8,904.8 L439.1,902.2 L437.3,899.6 L435.5,897.0 L433.7,894.3 L431.9,891.7 L430.2,889.1 L428.6,886.3 L427.1,883.6 L425.7,880.8 L424.5,877.9 L423.5,874.9 L422.5,872.0 L421.7,868.9 L420.9,865.8 L420.1,862.7 L419.4,859.7 L418.6,856.6 L417.8,853.5" stroke="#867a3e" stroke-width="5.2"/><path d="M444.7,920.2 L443.9,917.2 L443.1,914.1 L442.2,911.1 L441.1,908.1 L439.7,905.3 L438.0,902.7 L436.2,900.1 L434.4,897.4 L432.6,894.8 L430.8,892.2 L429.1,889.5 L427.5,886.8 L426.0,884.1 L424.7,881.3 L423.4,878.4 L422.4,875.4 L421.4,872.4 L420.6,869.4 L419.8,866.3 L419.0,863.2 L418.3,860.1 L417.5,857.1 L416.7,854.0" stroke="#b8ad6e" stroke-width="1.8" opacity="0.85"/><ellipse cx="141.6" cy="787.5" rx="4.5" ry="1.8" transform="rotate(1 141.6 787.5)" fill="#1c2d66" stroke="none"/><path d="M446.5,908.3 L443.4,907.8 L440.4,907.3 L437.3,906.8 L434.2,906.5 L431.1,906.4 L428.0,906.6 L424.9,906.9 L421.8,907.2 L418.7,907.5 L415.6,907.8 L412.5,908.1" stroke="#3a3a30" stroke-width="3.4"/><path d="M446.5,908.3 L443.4,907.8 L440.4,907.3 L437.3,906.8 L434.2,906.5 L431.1,906.4 L428.0,906.6 L424.9,906.9 L421.8,907.2 L418.7,907.5 L415.6,907.8 L412.5,908.1" stroke="#a7a384" stroke-width="1.9"/></g>
<circle cx="433.9" cy="768.0" r="9.9" fill="url(#gbb)" stroke="#27468a" stroke-width="1.0" stroke-opacity="0.7"/>
<circle cx="439.7" cy="789.0" r="10.1" fill="url(#gbb)" stroke="#27468a" stroke-width="1.0" stroke-opacity="0.7"/>
<circle cx="444.6" cy="810.9" r="10.5" fill="url(#gbb)" stroke="#27468a" stroke-width="1.0" stroke-opacity="0.7"/>
<circle cx="448.5" cy="833.7" r="10.9" fill="url(#gbb)" stroke="#27468a" stroke-width="1.0" stroke-opacity="0.7"/>
<circle cx="451.4" cy="857.7" r="11.3" fill="url(#gbb)" stroke="#27468a" stroke-width="1.0" stroke-opacity="0.7"/>
<circle cx="452.8" cy="882.9" r="11.8" fill="url(#gbb)" stroke="#27468a" stroke-width="1.0" stroke-opacity="0.7"/>
<circle cx="452.7" cy="908.8" r="12.4" fill="url(#gbb)" stroke="#27468a" stroke-width="1.0" stroke-opacity="0.7"/>
<circle cx="450.7" cy="934.6" r="12.9" fill="url(#gbb)" stroke="#27468a" stroke-width="1.0" stroke-opacity="0.7"/>
<circle cx="446.6" cy="960.1" r="13.5" fill="url(#gbb)" stroke="#27468a" stroke-width="1.0" stroke-opacity="0.7"/>
<circle cx="440.2" cy="985.5" r="14.0" fill="url(#gbb)" stroke="#27468a" stroke-width="1.0" stroke-opacity="0.7"/>
<circle cx="430.7" cy="1011.0" r="14.6" fill="url(#gb)" stroke="#27468a" stroke-width="1.0" stroke-opacity="0.7"/>
<circle cx="417.2" cy="1036.0" r="15.1" fill="url(#gb)" stroke="#27468a" stroke-width="1.0" stroke-opacity="0.7"/>
<circle cx="398.7" cy="1059.2" r="15.7" fill="url(#gb)" stroke="#27468a" stroke-width="1.0" stroke-opacity="0.7"/>
<circle cx="374.5" cy="1078.5" r="16.3" fill="url(#gb)" stroke="#27468a" stroke-width="1.0" stroke-opacity="0.7"/>
<circle cx="344.7" cy="1091.0" r="17.0" fill="url(#gb)" stroke="#27468a" stroke-width="1.0" stroke-opacity="0.7"/>
<circle cx="311.0" cy="1094.1" r="17.6" fill="url(#gb)" stroke="#27468a" stroke-width="1.0" stroke-opacity="0.7"/>
<circle cx="276.4" cy="1087.4" r="18.3" fill="url(#gb)" stroke="#27468a" stroke-width="1.0" stroke-opacity="0.7"/>
<circle cx="242.9" cy="1072.3" r="18.9" fill="url(#gb)" stroke="#27468a" stroke-width="1.0" stroke-opacity="0.7"/>
<circle cx="211.6" cy="1050.4" r="19.5" fill="url(#gb)" stroke="#27468a" stroke-width="1.0" stroke-opacity="0.7"/>
<circle cx="182.9" cy="1023.0" r="20.1" fill="url(#gb)" stroke="#27468a" stroke-width="1.0" stroke-opacity="0.7"/>
<circle cx="156.9" cy="991.1" r="20.6" fill="url(#gb)" stroke="#27468a" stroke-width="1.0" stroke-opacity="0.7"/>
<circle cx="133.9" cy="955.3" r="21.1" fill="url(#gb)" stroke="#27468a" stroke-width="1.0" stroke-opacity="0.7"/>
<circle cx="114.2" cy="916.5" r="21.3" fill="url(#gb)" stroke="#27468a" stroke-width="1.0" stroke-opacity="0.7"/>
<circle cx="98.1" cy="875.5" r="21.2" fill="url(#gb)" stroke="#27468a" stroke-width="1.0" stroke-opacity="0.7"/>
<circle cx="85.9" cy="833.5" r="20.8" fill="url(#gb)" stroke="#27468a" stroke-width="1.0" stroke-opacity="0.7"/>
<circle cx="77.9" cy="791.7" r="20.1" fill="url(#gb)" stroke="#27468a" stroke-width="1.0" stroke-opacity="0.7"/>
<circle cx="74.0" cy="751.0" r="19.3" fill="url(#gb)" stroke="#27468a" stroke-width="1.0" stroke-opacity="0.7"/>
<circle cx="74.2" cy="711.9" r="18.5" fill="url(#gb)" stroke="#27468a" stroke-width="1.0" stroke-opacity="0.7"/>
<circle cx="78.4" cy="674.8" r="17.7" fill="url(#gb)" stroke="#27468a" stroke-width="1.0" stroke-opacity="0.7"/>
<circle cx="86.7" cy="640.2" r="17.0" fill="url(#gb)" stroke="#27468a" stroke-width="1.0" stroke-opacity="0.7"/>
<circle cx="99.2" cy="608.7" r="16.3" fill="url(#gb)" stroke="#27468a" stroke-width="1.0" stroke-opacity="0.7"/>
<circle cx="116.2" cy="581.0" r="15.6" fill="url(#gb)" stroke="#27468a" stroke-width="1.0" stroke-opacity="0.7"/>
<circle cx="137.5" cy="558.4" r="15.0" fill="url(#gb)" stroke="#27468a" stroke-width="1.0" stroke-opacity="0.7"/>
<circle cx="162.6" cy="542.5" r="14.4" fill="url(#gb)" stroke="#27468a" stroke-width="1.0" stroke-opacity="0.7"/>
<circle cx="189.7" cy="534.0" r="13.9" fill="url(#gb)" stroke="#27468a" stroke-width="1.0" stroke-opacity="0.7"/>
<circle cx="216.8" cy="532.6" r="13.4" fill="url(#gb)" stroke="#27468a" stroke-width="1.0" stroke-opacity="0.7"/>
<circle cx="242.5" cy="536.9" r="12.9" fill="url(#gb)" stroke="#27468a" stroke-width="1.0" stroke-opacity="0.7"/>
<circle cx="266.1" cy="545.3" r="12.4" fill="url(#gb)" stroke="#27468a" stroke-width="1.0" stroke-opacity="0.7"/>
<circle cx="287.4" cy="556.5" r="12.0" fill="url(#gb)" stroke="#27468a" stroke-width="1.0" stroke-opacity="0.7"/>
<circle cx="306.6" cy="569.6" r="11.7" fill="url(#gb)" stroke="#27468a" stroke-width="1.0" stroke-opacity="0.7"/>
<circle cx="323.9" cy="583.9" r="11.3" fill="url(#gb)" stroke="#27468a" stroke-width="1.0" stroke-opacity="0.7"/>
<circle cx="339.5" cy="599.1" r="11.0" fill="url(#gbb)" stroke="#27468a" stroke-width="1.0" stroke-opacity="0.7"/>
<circle cx="354.0" cy="615.3" r="10.7" fill="url(#gbb)" stroke="#27468a" stroke-width="1.0" stroke-opacity="0.7"/>
<circle cx="367.4" cy="632.4" r="10.4" fill="url(#gbb)" stroke="#27468a" stroke-width="1.0" stroke-opacity="0.7"/>
<circle cx="380.0" cy="650.5" r="10.1" fill="url(#gbb)" stroke="#27468a" stroke-width="1.0" stroke-opacity="0.7"/>
<circle cx="391.6" cy="669.5" r="9.9" fill="url(#gbb)" stroke="#27468a" stroke-width="1.0" stroke-opacity="0.7"/>
<circle cx="402.0" cy="688.5" r="9.8" fill="url(#gbb)" stroke="#27468a" stroke-width="1.0" stroke-opacity="0.7"/>
<circle cx="411.4" cy="707.8" r="9.7" fill="url(#gbb)" stroke="#27468a" stroke-width="1.0" stroke-opacity="0.7"/>
<circle cx="419.7" cy="727.3" r="9.7" fill="url(#gbb)" stroke="#27468a" stroke-width="1.0" stroke-opacity="0.7"/>
<circle cx="427.2" cy="747.1" r="9.7" fill="url(#gbb)" stroke="#27468a" stroke-width="1.0" stroke-opacity="0.7"/>
<ellipse cx="0" cy="0" rx="87.2" ry="144.3" transform="translate(303.7,799.0) rotate(-18.2)" fill="#4f8f9a"/>
<circle cx="329.2" cy="924.8" r="12.5" fill="url(#gteal)" stroke="#3f7f90" stroke-width="1.0" stroke-opacity="0.7"/>
<circle cx="306.9" cy="919.0" r="12.5" fill="url(#gteal)" stroke="#3f7f90" stroke-width="1.0" stroke-opacity="0.7"/>
<circle cx="287.6" cy="906.4" r="12.5" fill="url(#gteal)" stroke="#3f7f90" stroke-width="1.0" stroke-opacity="0.7"/>
<circle cx="271.2" cy="890.0" r="12.5" fill="url(#gteal)" stroke="#3f7f90" stroke-width="1.0" stroke-opacity="0.7"/>
<circle cx="257.4" cy="871.3" r="12.5" fill="url(#gteal)" stroke="#3f7f90" stroke-width="1.0" stroke-opacity="0.7"/>
<circle cx="246.0" cy="851.1" r="12.5" fill="url(#gteal)" stroke="#3f7f90" stroke-width="1.0" stroke-opacity="0.7"/>
<circle cx="236.9" cy="829.7" r="12.5" fill="url(#gteal)" stroke="#3f7f90" stroke-width="1.0" stroke-opacity="0.7"/>
<circle cx="230.0" cy="807.5" r="12.5" fill="url(#gteal)" stroke="#3f7f90" stroke-width="1.0" stroke-opacity="0.7"/>
<circle cx="225.3" cy="784.7" r="12.5" fill="url(#gteal)" stroke="#3f7f90" stroke-width="1.0" stroke-opacity="0.7"/>
<circle cx="223.2" cy="761.6" r="12.5" fill="url(#gteal)" stroke="#3f7f90" stroke-width="1.0" stroke-opacity="0.7"/>
<circle cx="224.1" cy="738.4" r="12.5" fill="url(#gteal)" stroke="#3f7f90" stroke-width="1.0" stroke-opacity="0.7"/>
<circle cx="228.8" cy="715.7" r="12.5" fill="url(#gteal)" stroke="#3f7f90" stroke-width="1.0" stroke-opacity="0.7"/>
<circle cx="238.6" cy="694.8" r="12.5" fill="url(#gteal)" stroke="#3f7f90" stroke-width="1.0" stroke-opacity="0.7"/>
<circle cx="255.2" cy="678.7" r="12.5" fill="url(#gteal)" stroke="#3f7f90" stroke-width="1.0" stroke-opacity="0.7"/>
<circle cx="277.7" cy="673.1" r="12.5" fill="url(#gteal)" stroke="#3f7f90" stroke-width="1.0" stroke-opacity="0.7"/>
<circle cx="334.6" cy="678.7" r="15.0" fill="url(#gb)" stroke="#27468a" stroke-width="1.0" stroke-opacity="0.7"/>
<circle cx="353.8" cy="698.5" r="15.0" fill="url(#gb)" stroke="#27468a" stroke-width="1.0" stroke-opacity="0.7"/>
<circle cx="369.8" cy="721.1" r="15.0" fill="url(#gb)" stroke="#27468a" stroke-width="1.0" stroke-opacity="0.7"/>
<circle cx="382.7" cy="745.5" r="15.0" fill="url(#gb)" stroke="#27468a" stroke-width="1.0" stroke-opacity="0.7"/>
<ellipse cx="0" cy="0" rx="94" ry="123.5" transform="translate(324.4,800.6) rotate(-12.7)" fill="url(#gcore)" opacity="0.95"/>
<g clip-path="url(#coreclip)"><circle cx="223.6" cy="666.9" r="12.3" fill="url(#gcb)"/><circle cx="246.4" cy="667.6" r="13.0" fill="url(#gcb)"/><circle cx="267.9" cy="667.1" r="11.8" fill="url(#gcb)"/><circle cx="291.5" cy="667.2" r="11.5" fill="url(#gcb)"/><circle cx="313.1" cy="667.7" r="11.9" fill="url(#gcb)"/><circle cx="335.0" cy="668.5" r="12.3" fill="url(#gcb)"/><circle cx="357.4" cy="668.2" r="12.7" fill="url(#gcb)"/><circle cx="380.4" cy="667.5" r="12.0" fill="url(#gcb)"/><circle cx="402.2" cy="667.4" r="12.6" fill="url(#gcb)"/><circle cx="423.6" cy="668.6" r="12.9" fill="url(#gcb)"/><circle cx="446.0" cy="667.0" r="12.4" fill="url(#gcb)"/><circle cx="214.0" cy="687.2" r="12.1" fill="url(#gcb)"/><circle cx="235.4" cy="687.7" r="12.3" fill="url(#gcb)"/><circle cx="257.2" cy="686.2" r="12.0" fill="url(#gcb)"/><circle cx="279.0" cy="687.0" r="11.7" fill="url(#gcb)"/><circle cx="300.7" cy="685.7" r="11.7" fill="url(#gcb)"/><circle cx="324.6" cy="685.8" r="12.2" fill="url(#gcb)"/><circle cx="346.8" cy="686.9" r="11.7" fill="url(#gcb)"/><circle cx="369.1" cy="688.1" r="11.6" fill="url(#gcb)"/><circle cx="389.3" cy="687.0" r="12.7" fill="url(#gcb)"/><circle cx="411.7" cy="687.6" r="11.9" fill="url(#gcb)"/><circle cx="434.6" cy="686.5" r="12.0" fill="url(#gcb)"/><circle cx="225.8" cy="707.0" r="12.7" fill="url(#gcb)"/><circle cx="247.2" cy="705.8" r="12.6" fill="url(#gcb)"/><circle cx="269.4" cy="707.0" r="12.7" fill="url(#gcb)"/><circle cx="289.9" cy="705.6" r="12.5" fill="url(#gcb)"/><circle cx="312.2" cy="705.1" r="11.5" fill="url(#gcb)"/><circle cx="335.3" cy="707.3" r="13.0" fill="url(#gcb)"/><circle cx="355.9" cy="706.6" r="12.1" fill="url(#gcb)"/><circle cx="379.4" cy="705.7" r="12.9" fill="url(#gcb)"/><circle cx="402.5" cy="704.6" r="12.6" fill="url(#gcb)"/><circle cx="421.9" cy="704.6" r="11.9" fill="url(#gcb)"/><circle cx="445.7" cy="707.5" r="11.7" fill="url(#gcb)"/><circle cx="213.5" cy="723.6" r="12.3" fill="url(#gcb)"/><circle cx="235.9" cy="724.6" r="12.0" fill="url(#gcb)"/><circle cx="258.9" cy="726.0" r="11.9" fill="url(#gcb)"/><circle cx="279.7" cy="725.4" r="12.6" fill="url(#gcb)"/><circle cx="303.4" cy="724.7" r="12.5" fill="url(#gcb)"/><circle cx="324.1" cy="725.9" r="11.7" fill="url(#gcb)"/><circle cx="345.0" cy="723.8" r="12.9" fill="url(#gcb)"/><circle cx="367.3" cy="725.0" r="11.7" fill="url(#gcb)"/><circle cx="389.5" cy="723.6" r="12.3" fill="url(#gcb)"/><circle cx="410.9" cy="725.4" r="11.9" fill="url(#gcb)"/><circle cx="433.2" cy="724.9" r="12.0" fill="url(#gcb)"/><circle cx="224.3" cy="742.7" r="11.6" fill="url(#gcb)"/><circle cx="248.2" cy="743.4" r="11.6" fill="url(#gcb)"/><circle cx="268.0" cy="744.0" r="13.0" fill="url(#gcb)"/><circle cx="290.1" cy="745.1" r="12.2" fill="url(#gcb)"/><circle cx="312.7" cy="744.9" r="12.1" fill="url(#gcb)"/><circle cx="333.7" cy="744.2" r="12.5" fill="url(#gcb)"/><circle cx="357.4" cy="743.3" r="12.9" fill="url(#gcb)"/><circle cx="380.1" cy="745.5" r="12.2" fill="url(#gcb)"/><circle cx="402.0" cy="744.7" r="11.8" fill="url(#gcb)"/><circle cx="421.6" cy="743.0" r="11.7" fill="url(#gcb)"/><circle cx="443.7" cy="743.6" r="12.6" fill="url(#gcb)"/><circle cx="213.4" cy="763.0" r="11.5" fill="url(#gcb)"/><circle cx="235.1" cy="764.4" r="11.5" fill="url(#gcb)"/><circle cx="258.1" cy="763.9" r="12.7" fill="url(#gcb)"/><circle cx="280.7" cy="762.7" r="12.7" fill="url(#gcb)"/><circle cx="303.0" cy="763.8" r="13.0" fill="url(#gcb)"/><circle cx="322.8" cy="764.4" r="12.1" fill="url(#gcb)"/><circle cx="346.6" cy="762.3" r="12.9" fill="url(#gcb)"/><circle cx="366.6" cy="763.2" r="11.8" fill="url(#gcb)"/><circle cx="389.7" cy="762.6" r="12.5" fill="url(#gcb)"/><circle cx="412.9" cy="762.6" r="12.5" fill="url(#gcb)"/><circle cx="433.6" cy="762.3" r="12.9" fill="url(#gcb)"/><circle cx="224.5" cy="780.8" r="12.0" fill="url(#gcb)"/><circle cx="247.7" cy="781.1" r="12.6" fill="url(#gcb)"/><circle cx="269.1" cy="782.5" r="11.8" fill="url(#gcb)"/><circle cx="289.8" cy="780.9" r="12.0" fill="url(#gcb)"/><circle cx="312.8" cy="780.5" r="12.3" fill="url(#gcb)"/><circle cx="334.7" cy="781.5" r="12.3" fill="url(#gcb)"/><circle cx="358.4" cy="781.1" r="12.8" fill="url(#gcb)"/><circle cx="378.5" cy="782.8" r="11.7" fill="url(#gcb)"/><circle cx="402.5" cy="781.8" r="12.9" fill="url(#gcb)"/><circle cx="422.2" cy="781.7" r="12.6" fill="url(#gcb)"/><circle cx="444.0" cy="781.3" r="12.5" fill="url(#gcb)"/><circle cx="215.3" cy="800.5" r="11.8" fill="url(#gcb)"/><circle cx="235.6" cy="802.5" r="11.7" fill="url(#gcb)"/><circle cx="258.4" cy="800.6" r="12.5" fill="url(#gcb)"/><circle cx="279.1" cy="801.3" r="12.8" fill="url(#gcb)"/><circle cx="303.1" cy="801.4" r="12.3" fill="url(#gcb)"/><circle cx="324.2" cy="799.8" r="12.8" fill="url(#gcb)"/><circle cx="346.6" cy="800.9" r="12.5" fill="url(#gcb)"/><circle cx="367.8" cy="800.7" r="11.8" fill="url(#gcb)"/><circle cx="390.3" cy="801.2" r="12.3" fill="url(#gcb)"/><circle cx="410.6" cy="801.4" r="12.2" fill="url(#gcb)"/><circle cx="434.3" cy="801.3" r="12.9" fill="url(#gcb)"/><circle cx="224.0" cy="819.9" r="13.0" fill="url(#gcb)"/><circle cx="247.7" cy="819.4" r="12.6" fill="url(#gcb)"/><circle cx="270.5" cy="819.7" r="12.8" fill="url(#gcb)"/><circle cx="289.9" cy="821.5" r="12.2" fill="url(#gcb)"/><circle cx="312.2" cy="821.0" r="12.5" fill="url(#gcb)"/><circle cx="336.3" cy="821.0" r="12.7" fill="url(#gcb)"/><circle cx="357.0" cy="821.5" r="11.6" fill="url(#gcb)"/><circle cx="380.1" cy="820.6" r="11.9" fill="url(#gcb)"/><circle cx="401.9" cy="819.9" r="12.3" fill="url(#gcb)"/><circle cx="424.1" cy="819.1" r="11.9" fill="url(#gcb)"/><circle cx="445.4" cy="818.7" r="12.3" fill="url(#gcb)"/><circle cx="214.9" cy="839.0" r="11.9" fill="url(#gcb)"/><circle cx="236.9" cy="840.1" r="12.7" fill="url(#gcb)"/><circle cx="258.1" cy="840.2" r="12.7" fill="url(#gcb)"/><circle cx="279.0" cy="838.6" r="11.7" fill="url(#gcb)"/><circle cx="300.6" cy="838.5" r="12.8" fill="url(#gcb)"/><circle cx="325.0" cy="837.9" r="11.8" fill="url(#gcb)"/><circle cx="345.7" cy="840.0" r="12.4" fill="url(#gcb)"/><circle cx="369.2" cy="837.7" r="13.0" fill="url(#gcb)"/><circle cx="389.1" cy="839.4" r="12.8" fill="url(#gcb)"/><circle cx="412.7" cy="838.1" r="12.5" fill="url(#gcb)"/><circle cx="433.8" cy="837.5" r="12.0" fill="url(#gcb)"/><circle cx="224.4" cy="858.4" r="11.9" fill="url(#gcb)"/><circle cx="247.3" cy="858.6" r="11.8" fill="url(#gcb)"/><circle cx="267.9" cy="858.6" r="12.2" fill="url(#gcb)"/><circle cx="289.9" cy="856.8" r="12.9" fill="url(#gcb)"/><circle cx="313.3" cy="857.6" r="11.8" fill="url(#gcb)"/><circle cx="336.5" cy="858.6" r="12.6" fill="url(#gcb)"/><circle cx="356.6" cy="857.4" r="12.1" fill="url(#gcb)"/><circle cx="377.9" cy="858.4" r="12.1" fill="url(#gcb)"/><circle cx="402.0" cy="857.7" r="12.2" fill="url(#gcb)"/><circle cx="423.0" cy="859.3" r="12.0" fill="url(#gcb)"/><circle cx="445.6" cy="857.2" r="12.4" fill="url(#gcb)"/><circle cx="213.4" cy="878.1" r="11.9" fill="url(#gcb)"/><circle cx="237.1" cy="877.5" r="12.2" fill="url(#gcb)"/><circle cx="259.3" cy="876.7" r="12.6" fill="url(#gcb)"/><circle cx="280.3" cy="876.8" r="11.6" fill="url(#gcb)"/><circle cx="301.8" cy="876.3" r="12.2" fill="url(#gcb)"/><circle cx="325.4" cy="876.4" r="12.5" fill="url(#gcb)"/><circle cx="346.5" cy="876.2" r="12.1" fill="url(#gcb)"/><circle cx="366.9" cy="878.2" r="11.9" fill="url(#gcb)"/><circle cx="389.8" cy="876.5" r="12.7" fill="url(#gcb)"/><circle cx="413.1" cy="877.3" r="12.3" fill="url(#gcb)"/><circle cx="432.8" cy="878.2" r="11.6" fill="url(#gcb)"/><circle cx="224.6" cy="895.6" r="12.6" fill="url(#gcb)"/><circle cx="247.5" cy="895.5" r="12.8" fill="url(#gcb)"/><circle cx="270.3" cy="894.6" r="12.4" fill="url(#gcb)"/><circle cx="290.9" cy="895.6" r="12.2" fill="url(#gcb)"/><circle cx="312.4" cy="896.5" r="12.4" fill="url(#gcb)"/><circle cx="336.4" cy="897.4" r="13.0" fill="url(#gcb)"/><circle cx="356.7" cy="897.0" r="12.5" fill="url(#gcb)"/><circle cx="379.6" cy="897.5" r="11.6" fill="url(#gcb)"/><circle cx="400.9" cy="895.7" r="12.5" fill="url(#gcb)"/><circle cx="422.2" cy="897.5" r="11.8" fill="url(#gcb)"/><circle cx="444.6" cy="894.9" r="12.1" fill="url(#gcb)"/><circle cx="214.7" cy="913.8" r="11.8" fill="url(#gcb)"/><circle cx="236.4" cy="915.4" r="12.6" fill="url(#gcb)"/><circle cx="257.3" cy="915.9" r="12.6" fill="url(#gcb)"/><circle cx="280.8" cy="913.9" r="12.2" fill="url(#gcb)"/><circle cx="300.5" cy="916.1" r="12.9" fill="url(#gcb)"/><circle cx="325.2" cy="913.6" r="12.0" fill="url(#gcb)"/><circle cx="346.1" cy="915.1" r="11.7" fill="url(#gcb)"/><circle cx="368.9" cy="914.4" r="12.3" fill="url(#gcb)"/><circle cx="388.9" cy="915.2" r="11.7" fill="url(#gcb)"/><circle cx="410.8" cy="915.0" r="11.9" fill="url(#gcb)"/><circle cx="434.8" cy="914.2" r="12.1" fill="url(#gcb)"/><circle cx="223.7" cy="933.2" r="12.2" fill="url(#gcb)"/><circle cx="247.2" cy="933.9" r="12.8" fill="url(#gcb)"/><circle cx="267.8" cy="935.1" r="11.7" fill="url(#gcb)"/><circle cx="292.4" cy="934.1" r="12.1" fill="url(#gcb)"/><circle cx="313.3" cy="935.1" r="12.9" fill="url(#gcb)"/><circle cx="334.7" cy="932.5" r="11.7" fill="url(#gcb)"/><circle cx="358.0" cy="934.7" r="12.6" fill="url(#gcb)"/><circle cx="378.0" cy="934.1" r="11.5" fill="url(#gcb)"/><circle cx="399.8" cy="933.4" r="12.9" fill="url(#gcb)"/><circle cx="423.4" cy="935.0" r="11.6" fill="url(#gcb)"/><circle cx="444.7" cy="932.7" r="11.9" fill="url(#gcb)"/></g>
<g clip-path="url(#coreclip)"><path d="M352 700 C 388 735, 400 780, 398 820 C 396 860, 386 892, 356 922 L 470 950 L 470 680 Z" fill="#b2e3a0" opacity="0.62"/><path d="M352 700 C 388 735, 400 780, 398 820 C 396 860, 386 892, 356 922 C 378 895, 390 860, 391 820 C 392 780, 380 735, 352 700 Z" fill="#e9f9df" opacity="0.45"/><ellipse cx="0" cy="0" rx="94" ry="123.5" transform="translate(324.4,800.6) rotate(-12.7)" fill="none" stroke="#8edb68" stroke-width="12" opacity="0.7" stroke-dasharray="170 1000" stroke-dashoffset="85"/></g>
<circle cx="354.8" cy="912.8" r="13.5" fill="url(#gbt)" stroke="#2f5a92" stroke-width="1.0" stroke-opacity="0.7"/>
<circle cx="331.2" cy="920.9" r="13.5" fill="url(#gbt)" stroke="#2f5a92" stroke-width="1.0" stroke-opacity="0.7"/>
<circle cx="307.1" cy="914.8" r="13.5" fill="url(#gbt)" stroke="#2f5a92" stroke-width="1.0" stroke-opacity="0.7"/>
<circle cx="286.8" cy="900.7" r="13.5" fill="url(#gbt)" stroke="#2f5a92" stroke-width="1.0" stroke-opacity="0.7"/>
<circle cx="269.9" cy="882.3" r="13.5" fill="url(#gbt)" stroke="#2f5a92" stroke-width="1.0" stroke-opacity="0.7"/>
<circle cx="256.0" cy="861.5" r="13.5" fill="url(#gbt)" stroke="#2f5a92" stroke-width="1.0" stroke-opacity="0.7"/>
<circle cx="244.9" cy="839.0" r="13.5" fill="url(#gbt)" stroke="#2f5a92" stroke-width="1.0" stroke-opacity="0.7"/>
<circle cx="236.3" cy="815.5" r="13.5" fill="url(#gbt)" stroke="#2f5a92" stroke-width="1.0" stroke-opacity="0.7"/>
<circle cx="230.4" cy="791.2" r="13.5" fill="url(#gbt)" stroke="#2f5a92" stroke-width="1.0" stroke-opacity="0.7"/>
<circle cx="227.4" cy="766.3" r="13.5" fill="url(#gbt)" stroke="#2f5a92" stroke-width="1.0" stroke-opacity="0.7"/>
<circle cx="227.7" cy="741.3" r="13.5" fill="url(#gbt)" stroke="#2f5a92" stroke-width="1.0" stroke-opacity="0.7"/>
<circle cx="232.4" cy="716.8" r="13.5" fill="url(#gbt)" stroke="#2f5a92" stroke-width="1.0" stroke-opacity="0.7"/>
<circle cx="243.4" cy="694.6" r="13.5" fill="url(#gbt)" stroke="#2f5a92" stroke-width="1.0" stroke-opacity="0.7"/>
<circle cx="263.1" cy="679.4" r="13.5" fill="url(#gbt)" stroke="#2f5a92" stroke-width="1.0" stroke-opacity="0.7"/>
<circle cx="288.0" cy="678.6" r="13.5" fill="url(#gbt)" stroke="#2f5a92" stroke-width="1.0" stroke-opacity="0.7"/>
<circle cx="310.4" cy="689.2" r="13.5" fill="url(#gbt)" stroke="#2f5a92" stroke-width="1.0" stroke-opacity="0.7"/>
<circle cx="389.2" cy="906.9" r="15.0" fill="url(#gb)" stroke="#27468a" stroke-width="1.0" stroke-opacity="0.7"/>
<circle cx="372.5" cy="928.8" r="15.0" fill="url(#gb)" stroke="#27468a" stroke-width="1.0" stroke-opacity="0.7"/>
<circle cx="348.6" cy="942.4" r="15.0" fill="url(#gb)" stroke="#27468a" stroke-width="1.0" stroke-opacity="0.7"/>
<circle cx="321.0" cy="943.8" r="15.0" fill="url(#gb)" stroke="#27468a" stroke-width="1.0" stroke-opacity="0.7"/>
<circle cx="295.1" cy="934.7" r="15.0" fill="url(#gb)" stroke="#27468a" stroke-width="1.0" stroke-opacity="0.7"/>
<circle cx="272.5" cy="919.0" r="15.0" fill="url(#gb)" stroke="#27468a" stroke-width="1.0" stroke-opacity="0.7"/>
<circle cx="253.3" cy="899.2" r="15.0" fill="url(#gb)" stroke="#27468a" stroke-width="1.0" stroke-opacity="0.7"/>
<circle cx="237.4" cy="876.6" r="15.0" fill="url(#gb)" stroke="#27468a" stroke-width="1.0" stroke-opacity="0.7"/>
<circle cx="224.5" cy="852.1" r="15.0" fill="url(#gb)" stroke="#27468a" stroke-width="1.0" stroke-opacity="0.7"/>
<circle cx="214.6" cy="826.3" r="15.0" fill="url(#gb)" stroke="#27468a" stroke-width="1.0" stroke-opacity="0.7"/>
<circle cx="207.7" cy="799.5" r="15.0" fill="url(#gb)" stroke="#27468a" stroke-width="1.0" stroke-opacity="0.7"/>
<circle cx="204.0" cy="772.1" r="15.0" fill="url(#gb)" stroke="#27468a" stroke-width="1.0" stroke-opacity="0.7"/>
<circle cx="204.0" cy="744.5" r="15.0" fill="url(#gb)" stroke="#27468a" stroke-width="1.0" stroke-opacity="0.7"/>
<circle cx="208.3" cy="717.2" r="15.0" fill="url(#gb)" stroke="#27468a" stroke-width="1.0" stroke-opacity="0.7"/>
<circle cx="218.0" cy="691.4" r="15.0" fill="url(#gb)" stroke="#27468a" stroke-width="1.0" stroke-opacity="0.7"/>
<circle cx="234.6" cy="669.4" r="15.0" fill="url(#gb)" stroke="#27468a" stroke-width="1.0" stroke-opacity="0.7"/>
<circle cx="258.5" cy="655.7" r="15.0" fill="url(#gb)" stroke="#27468a" stroke-width="1.0" stroke-opacity="0.7"/>
<circle cx="286.0" cy="654.1" r="15.0" fill="url(#gb)" stroke="#27468a" stroke-width="1.0" stroke-opacity="0.7"/>
<circle cx="312.0" cy="663.1" r="15.0" fill="url(#gb)" stroke="#27468a" stroke-width="1.0" stroke-opacity="0.7"/>
<ellipse cx="282" cy="763.8" rx="10.5" ry="15" fill="#9c4a2c" stroke="#5e3a22" stroke-width="1.5"/>
<ellipse cx="331.5" cy="774.4" rx="16" ry="18" fill="#a54a2c" stroke="#5e3a22" stroke-width="1.5"/>
<ellipse cx="367.8" cy="771" rx="11.5" ry="15" fill="#bd421e" stroke="#5e3a22" stroke-width="1.5"/>
<ellipse cx="367.8" cy="821.4" rx="11.5" ry="12.8" fill="#bf421c" stroke="#5e3a22" stroke-width="1.5"/>
<ellipse cx="308" cy="834.2" rx="13.9" ry="12.8" fill="#c8431a" stroke="#5e3a22" stroke-width="1.5"/>
<rect x="135" y="3" width="1225" height="178.5" fill="#EA7F00"/>
<text transform="translate(264.94,134.30) scale(0.9573,1)" x="0" y="0" font-family='"Liberation Serif"' font-weight="bold" font-size="135.93" fill="#fff"  stroke="#fff" stroke-width="4" stroke-linejoin="round">9</text>
<text transform="translate(330.89,134.30) scale(0.9724,1)" x="0" y="0" font-family='"Liberation Serif"' font-weight="bold" font-size="135.93" fill="#fff"  stroke="#fff" stroke-width="4" stroke-linejoin="round">9</text>
<text transform="translate(389.79,134.30) scale(0.7144,1)" x="0" y="0" font-family='"Liberation Serif"' font-weight="bold" font-size="135.33" fill="#fff"  stroke="#fff" stroke-width="4" stroke-linejoin="round">%</text>
<text transform="translate(521.34,135.80) scale(0.8874,1)" x="0" y="0" font-family='"Liberation Serif"' font-weight="bold" font-size="121.79" fill="#fff"  stroke="#fff" stroke-width="4" stroke-linejoin="round">A</text>
<text transform="translate(607.55,135.80) scale(0.8568,1)" x="0" y="0" font-family='"Liberation Serif"' font-weight="bold" font-size="122.79" fill="#fff"  stroke="#fff" stroke-width="4" stroke-linejoin="round">B</text>
<text transform="translate(676.57,135.80) scale(1.1500,1)" x="0" y="0" font-family='"Liberation Serif"' font-weight="bold" font-size="121.43" fill="#fff"  stroke="#fff" stroke-width="4" stroke-linejoin="round">S</text>
<text transform="translate(748.10,135.80) scale(0.8778,1)" x="0" y="0" font-family='"Liberation Serif"' font-weight="bold" font-size="121.43" fill="#fff"  stroke="#fff" stroke-width="4" stroke-linejoin="round">O</text>
<text transform="translate(832.63,135.80) scale(0.6982,1)" x="0" y="0" font-family='"Liberation Serif"' font-weight="bold" font-size="122.79" fill="#fff"  stroke="#fff" stroke-width="4" stroke-linejoin="round">R</text>
<text transform="translate(903.63,135.80) scale(0.8426,1)" x="0" y="0" font-family='"Liberation Serif"' font-weight="bold" font-size="122.79" fill="#fff"  stroke="#fff" stroke-width="4" stroke-linejoin="round">P</text>
<text transform="translate(972.23,135.80) scale(0.9242,1)" x="0" y="0" font-family='"Liberation Serif"' font-weight="bold" font-size="122.79" fill="#fff"  stroke="#fff" stroke-width="4" stroke-linejoin="round">T</text>
<text transform="translate(1052.47,135.80) scale(0.5138,1)" x="0" y="0" font-family='"Liberation Serif"' font-weight="bold" font-size="122.79" fill="#fff"  stroke="#fff" stroke-width="4" stroke-linejoin="round">I</text>
<text transform="translate(1078.00,135.80) scale(0.8778,1)" x="0" y="0" font-family='"Liberation Serif"' font-weight="bold" font-size="121.43" fill="#fff"  stroke="#fff" stroke-width="4" stroke-linejoin="round">O</text>
<text transform="translate(1161.44,135.80) scale(0.7531,1)" x="0" y="0" font-family='"Liberation Serif"' font-weight="bold" font-size="122.79" fill="#fff"  stroke="#fff" stroke-width="4" stroke-linejoin="round">N</text>
<text transform="translate(-1.24,291.50) scale(0.8310,1)" x="0" y="0" font-family='"Liberation Sans"' font-weight="bold" font-size="65.41" fill="#0a0a0a" >Liposomal</text>
<text transform="translate(282.52,291.50) scale(0.8379,1)" x="0" y="0" font-family='"Liberation Sans"' font-weight="bold" font-size="65.41" fill="#0a0a0a" >Spermidine</text>
<text transform="translate(592.46,291.50) scale(0.8316,1)" x="0" y="0" font-family='"Liberation Sans"' font-weight="bold" font-size="65.41" fill="#0a0a0a" >Enhanced</text>
<text transform="translate(864.27,290.80) scale(0.8854,1)" x="0" y="0" font-family='"Liberation Sans"' font-weight="bold" font-size="98.82" fill="#EA7F00" >20x</text>
<rect x="864.3" y="307.3" width="148.7" height="7.4" fill="#EA7F00"/>
<text transform="translate(1024.14,291.30) scale(0.8822,1)" x="0" y="0" font-family='"Liberation Sans"' font-weight="bold" font-size="65.41" fill="#0a0a0a" >Better</text>
<text transform="translate(1204.13,291.30) scale(0.8388,1)" x="0" y="0" font-family='"Liberation Sans"' font-weight="bold" font-size="65.41" fill="#0a0a0a" >Absorption</text>
<path d="M279.8 707 V406 H399" fill="none" stroke="#C2843A" stroke-width="3"/>
<path d="M124.5 991 V1315.2 H247" fill="none" stroke="#C2843A" stroke-width="3"/>
<circle cx="278.3" cy="706.8" r="14.5" fill="#fffdf6" stroke="#D2882E" stroke-width="3"/>
<circle cx="126.1" cy="990.8" r="14.8" fill="#fffdf6" stroke="#C98636" stroke-width="3"/>
<rect x="398.4" y="359" width="428.3" height="105.7" fill="#EA7F00"/>
<text transform="translate(428.27,439.40) scale(0.8443,1)" x="0" y="0" font-family='"Liberation Sans"' font-weight="bold" font-size="79.34" fill="#fff"  stroke="#fff" stroke-width="1.6" stroke-linejoin="round">Spermidine</text>
<rect x="246" y="1264" width="366.6" height="105.3" fill="#EA7F00"/>
<text transform="translate(269.14,1343.50) scale(0.8509,1)" x="0" y="0" font-family='"Liberation Sans"' font-weight="bold" font-size="78.34" fill="#fff"  stroke="#fff" stroke-width="1.6" stroke-linejoin="round">Liposome</text>
<rect x="725" y="555" width="7.2" height="528" fill="#000"/>
<path d="M709 561 L728.6 527.6 L748 561 Z" fill="#000"/>
<rect x="725" y="1075.3" width="712" height="7.5" fill="#000"/>
<path d="M1431 1060.1 L1465 1079.9 L1431 1099.7 Z" fill="#000"/>
<path d="M867.4 1075.5 V1047.5 Q867.4 1033.5 881.4 1033.5 H993.9 Q1007.9 1033.5 1007.9 1047.5 V1075.5 Z" fill="#B4B4B4"/>
<path d="M1177.2 1075.5 V619 Q1177.2 602 1194.2 602 H1300.6 Q1317.6 602 1317.6 619 V1075.5 Z" fill="#EA7F00"/>
<text transform="translate(830.83,793.60) scale(0.8606,1)" x="0" y="0" font-family='"Liberation Sans"' font-weight="bold" font-size="116.28" fill="#EA7F00" >20X</text>
<path d="M853 843 C 905 856, 975 862, 1018 826 C 1043 806, 1056 782, 1064 758.3 L1033 745.7 L1114.5 696.5 L1137.7 789.2 L1103 776 C 1083 816, 1047 853, 977 870 C 930 879, 890 862, 853 843 Z" fill="#EA7F00"/>
<g transform="translate(689.6,974) rotate(-90)"><text transform="translate(-1.26,0.00) scale(0.8159,1)" x="0" y="0" font-family='"Liberation Sans"' font-weight="bold" font-size="61.92" fill="#0a0a0a" >Absorption</text></g>
<text transform="translate(861.63,1142.35) scale(0.8917,1)" x="0" y="0" font-family='"Liberation Sans"' font-weight="normal" font-size="48.11" fill="#111"  stroke="#111" stroke-width="0.9" stroke-linejoin="round">Regular</text>
<text transform="translate(824.93,1200.55) scale(0.9428,1)" x="0" y="0" font-family='"Liberation Sans"' font-weight="normal" font-size="47.12" fill="#111"  stroke="#111" stroke-width="0.9" stroke-linejoin="round">Spermidine</text>
<text transform="translate(1138.85,1142.25) scale(0.9372,1)" x="0" y="0" font-family='"Liberation Sans"' font-weight="normal" font-size="48.11" fill="#111"  stroke="#111" stroke-width="0.9" stroke-linejoin="round">Liposomal</text>
<text transform="translate(1116.22,1200.25) scale(0.9493,1)" x="0" y="0" font-family='"Liberation Sans"' font-weight="normal" font-size="47.12" fill="#111"  stroke="#111" stroke-width="0.9" stroke-linejoin="round">Spermdidine</text>
<text transform="translate(0.32,1485.80) scale(0.8486,1)" x="0" y="0" font-family='"Liberation Sans"' font-weight="bold" font-size="71.95" fill="#EA7F00" >More</text>
<text transform="translate(160.60,1485.80) scale(0.9265,1)" x="0" y="0" font-family='"Liberation Sans"' font-weight="bold" font-size="71.95" fill="#EA7F00" >effective</text>
<text transform="translate(443.44,1486.00) scale(0.8718,1)" x="0" y="0" font-family='"Liberation Sans"' font-weight="bold" font-size="52.72" fill="#0a0a0a" >than</text>
<text transform="translate(550.36,1486.00) scale(0.8826,1)" x="0" y="0" font-family='"Liberation Sans"' font-weight="bold" font-size="52.72" fill="#0a0a0a" >spermidine</text>
<text transform="translate(808.21,1486.00) scale(0.8986,1)" x="0" y="0" font-family='"Liberation Sans"' font-weight="bold" font-size="52.72" fill="#0a0a0a" >3hcl,</text>
<text transform="translate(925.08,1486.00) scale(0.8765,1)" x="0" y="0" font-family='"Liberation Sans"' font-weight="bold" font-size="52.72" fill="#0a0a0a" >spermidine</text>
<text transform="translate(1179.37,1486.00) scale(0.8717,1)" x="0" y="0" font-family='"Liberation Sans"' font-weight="bold" font-size="52.72" fill="#0a0a0a" >pills,</text>
<text transform="translate(1292.56,1486.00) scale(0.8947,1)" x="0" y="0" font-family='"Liberation Sans"' font-weight="bold" font-size="52.72" fill="#0a0a0a" >capsules</text>
</svg></body></html>
